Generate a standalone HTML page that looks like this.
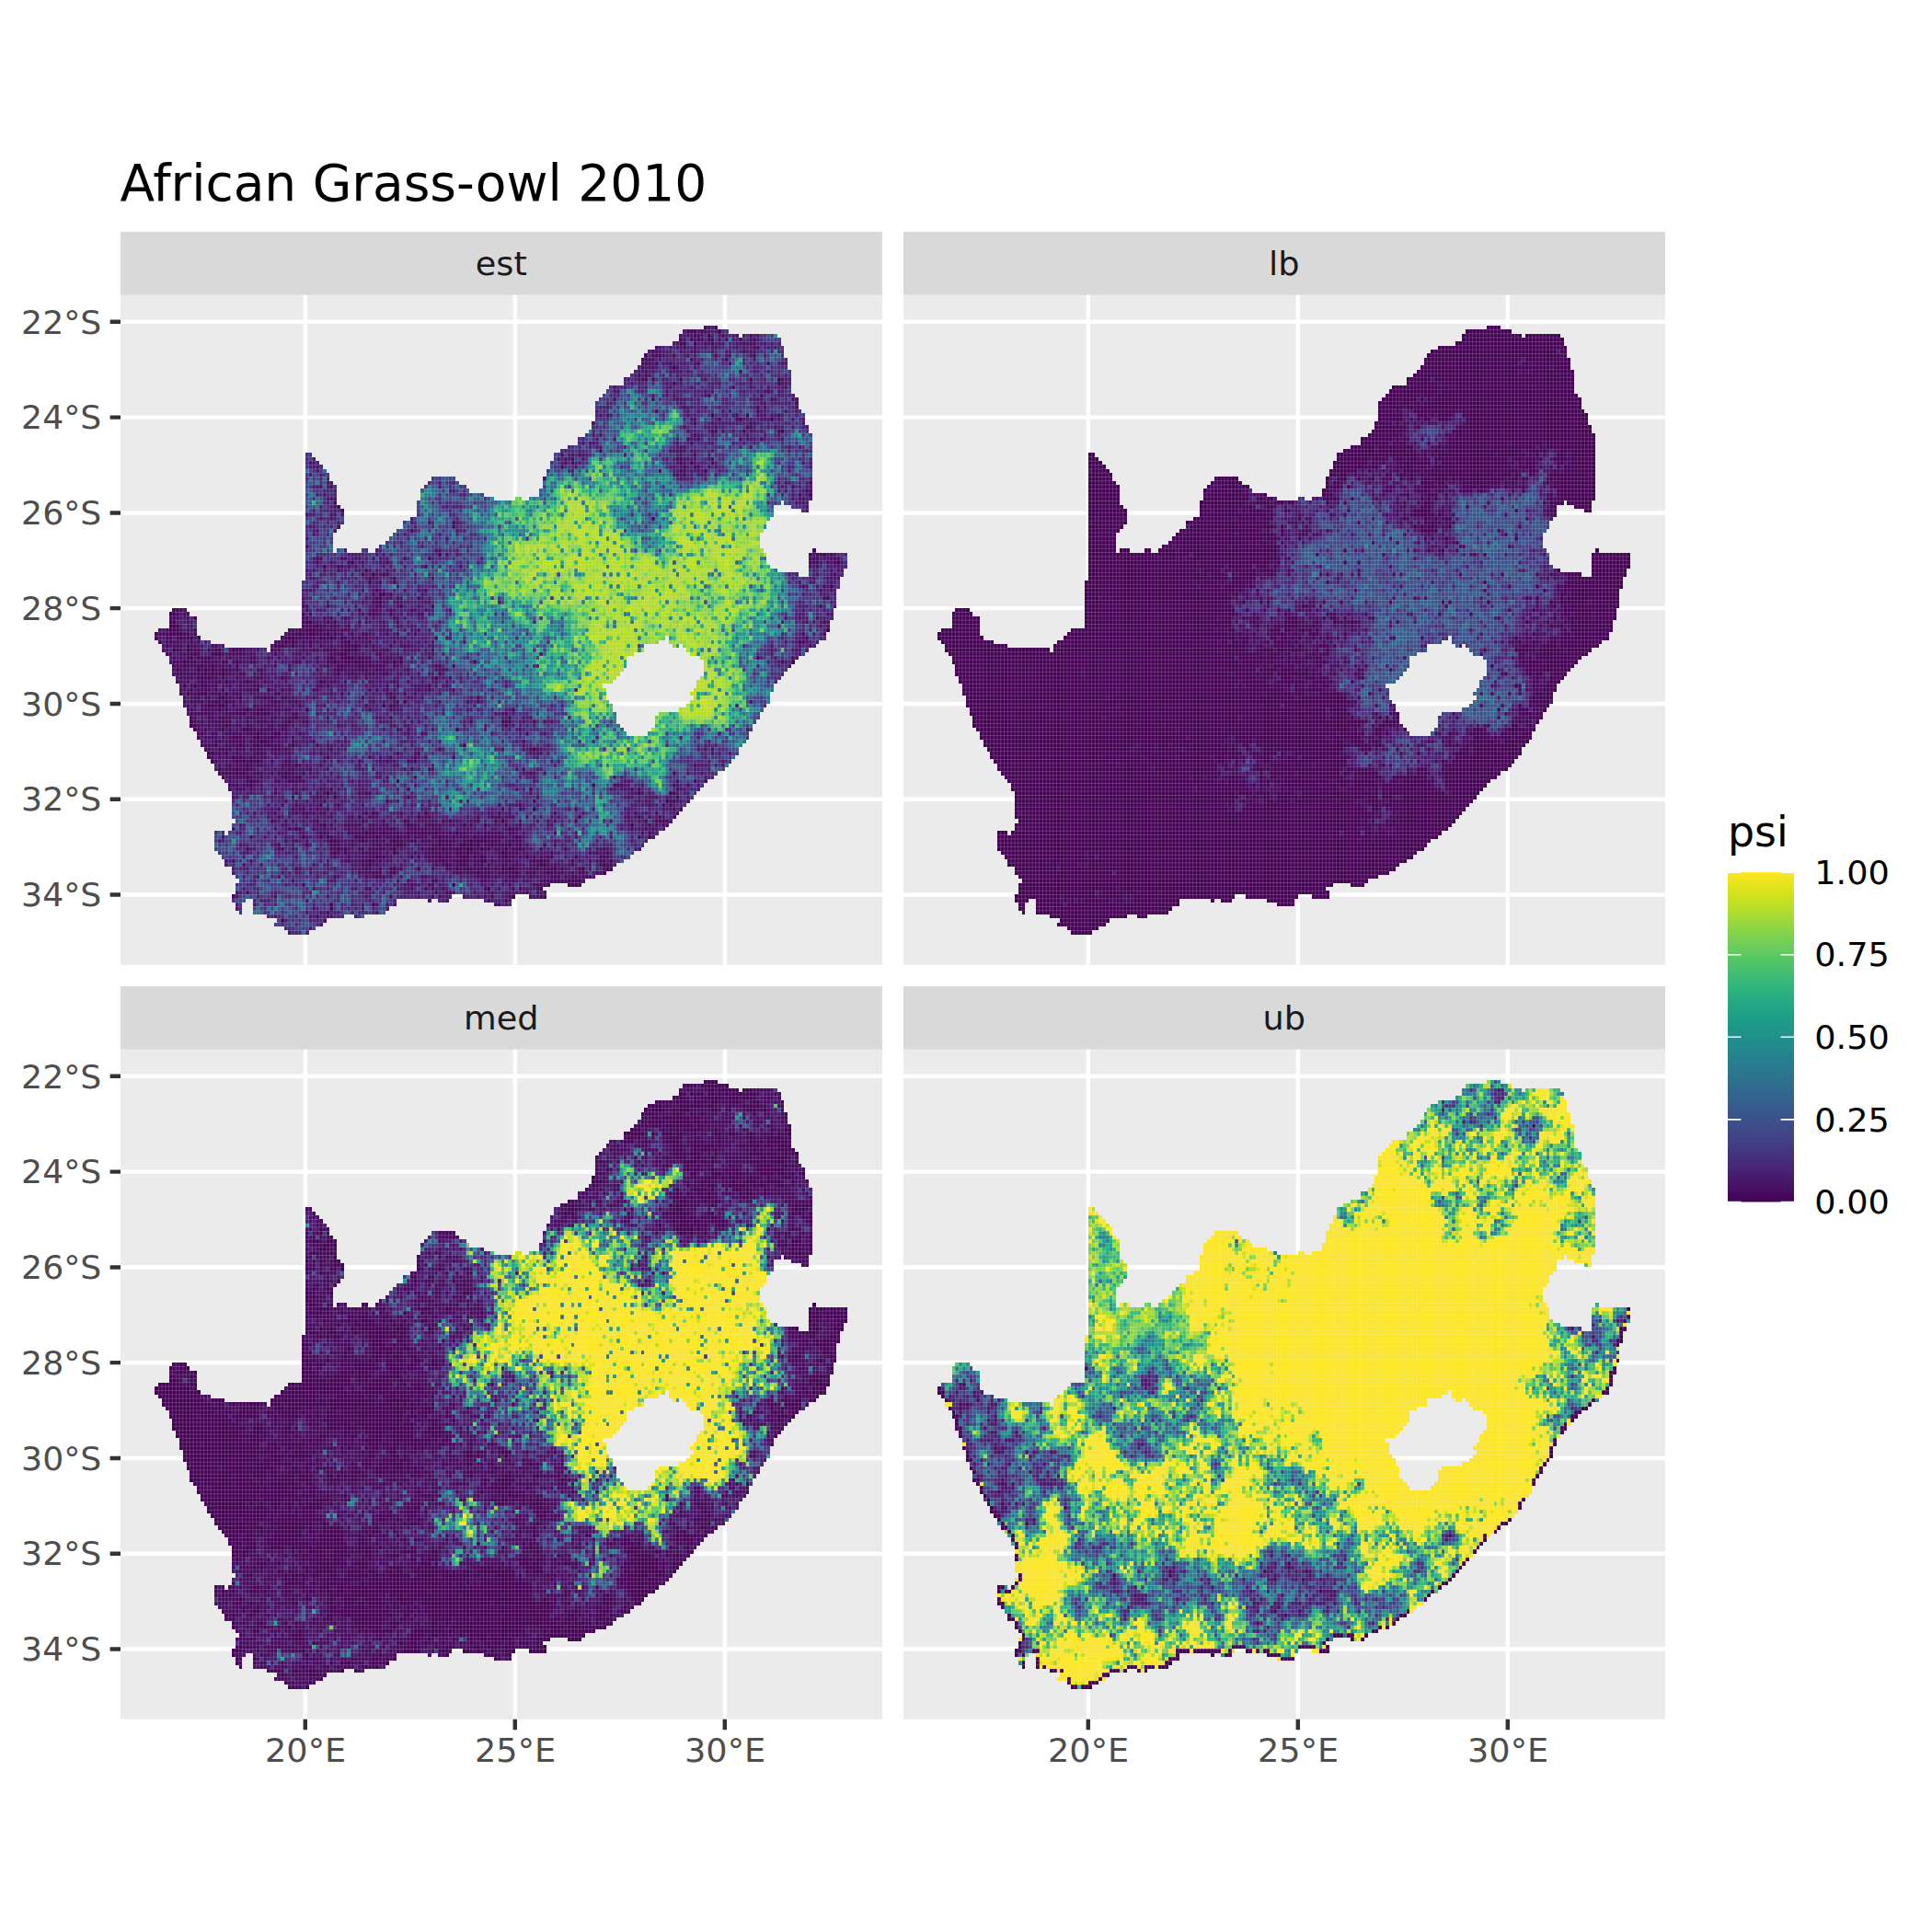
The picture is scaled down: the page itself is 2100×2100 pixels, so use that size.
<!DOCTYPE html>
<html><head><meta charset="utf-8"><title>African Grass-owl 2010</title><style>html,body{margin:0;padding:0;background:#fff;overflow:hidden}svg{display:block}</style></head><body>
<svg width="2100" height="2100" viewBox="0 0 2100 2100" font-family="'DejaVu Sans', 'Liberation Sans', sans-serif">
<rect width="2100" height="2100" fill="#fff"/>
<defs><g id="seam" fill="none" stroke="#ebebeb" stroke-opacity="0.2"><path stroke-width="0.2632" d="M6 78v2M7 77v4M8 77v6M9 77v7M10 73v13M11 72v17M12 72v19M13 72v22M14 73v24M15 74v25M16 74v28M17 79v24M18 80v25M19 80v27M20 80v28M21 81v29M22 81v30M23 81v32M23 128v5M24 81v33M24 128v6M25 82v33M25 129v6M26 82v34M26 129v8M27 82v36M27 128v9M28 82v43M28 126v13M28 144v2M29 82v58M29 141v7M30 82v64M31 82v63M32 82v63M33 82v63M34 82v67M35 82v67M36 82v67M37 83v66M38 83v67M39 81v69M40 80v70M40 151v1M41 80v72M42 79v73M43 78v75M44 77v77M45 77v77M46 77v77M47 77v77M48 65v89M49 33v120M50 34v119M51 35v117M52 36v116M53 37v114M54 38v112M55 40v110M56 41v12M56 58v92M57 46v6M57 58v92M58 47v4M58 57v93M59 57v92M60 58v91M61 58v91M62 58v91M63 58v92M64 58v92M65 57v92M66 58v91M67 58v91M68 58v91M69 57v92M70 56v93M71 56v92M72 55v92M73 54v93M74 53v92M75 52v93M76 52v93M77 50v95M78 50v95M79 49v96M80 49v96M81 45v100M82 42v103M83 41v104M84 40v105M85 39v106M86 39v106M87 39v107M88 39v107M89 39v106M90 39v105M91 40v104M92 41v103M93 41v103M94 42v103M95 43v102M96 43v102M97 43v102M98 43v102M99 44v101M100 44v102M101 44v102M102 45v101M103 45v102M104 45v102M105 45v102M106 45v102M107 45v100M108 45v99M109 44v100M110 45v99M111 45v99M112 45v99M113 44v101M114 44v101M115 44v101M116 42v100M116 143v2M117 39v103M118 37v104M119 35v106M120 33v108M121 33v108M122 32v109M123 32v109M124 31v111M125 31v111M126 31v111M127 29v112M128 29v111M129 28v112M130 27v113M131 25v114M132 20v119M133 19v72M133 92v47M134 18v73M134 95v43M135 17v74M135 96v42M136 16v74M136 98v39M137 16v73M137 101v35M138 16v72M138 102v34M139 16v71M139 103v32M140 14v70M140 104v31M141 14v70M141 104v30M142 13v70M142 104v29M143 12v71M143 104v29M144 11v72M144 104v28M145 9v72M145 104v27M146 8v73M146 104v26M147 7v74M147 103v27M148 7v74M148 102v27M149 6v74M149 99v29M150 6v74M150 98v30M151 6v73M151 98v29M152 6v73M152 98v28M153 6v75M153 98v27M154 5v77M154 98v26M155 5v76M155 98v25M156 3v78M156 97v25M157 2v80M157 97v24M158 2v81M158 96v24M159 2v82M159 93v1M159 95v24M160 2v82M160 92v26M161 2v82M161 90v27M162 2v83M162 89v27M163 1v114M164 1v114M165 1v113M166 2v111M167 2v111M168 2v110M169 3v108M170 3v107M171 3v106M172 4v103M173 4v102M174 3v102M175 3v100M176 3v98M177 3v97M178 3v50M178 57v41M179 3v49M179 58v39M180 3v47M180 61v35M181 3v46M181 62v31M182 3v43M182 62v29M183 4v42M183 63v27M184 6v39M184 63v26M185 9v36M185 63v25M186 12v34M186 63v24M187 18v28M187 63v23M188 19v28M188 63v22M189 22v25M189 64v20M190 23v24M190 64v20M191 26v22M191 64v19M192 28v17M192 64v18M193 58v24M194 58v23M195 58v22M196 58v22M197 58v20M198 58v17M199 58v14M200 58v9M201 58v6M202 58v4"/><path stroke-width="0.2313" d="M162 2h4M156 3h13M155 4h17M173 4h10M155 5h29M153 6h31M148 7h37M146 8h39M145 9h40M144 10h42M144 11h42M143 12h43M142 13h45M141 14h46M139 15h48M139 16h48M135 17h52M134 18h53M133 19h55M132 20h57M131 21h58M131 22h58M131 23h59M131 24h60M131 25h60M130 26h61M130 27h62M129 28h63M128 29h65M126 30h67M126 31h67M123 32h70M121 33h72M48 34h2M119 34h74M48 35h3M119 35h74M48 36h4M118 36h75M48 37h5M118 37h75M48 38h6M117 38h76M48 39h7M117 39h76M48 40h7M84 40h7M116 40h77M48 41h8M83 41h9M116 41h77M48 42h9M82 42h12M116 42h77M48 43h9M81 43h14M115 43h78M48 44h9M81 44h18M115 44h78M48 45h9M81 45h21M108 45h2M112 45h72M185 45h7M48 46h9M80 46h102M187 46h5M48 47h10M80 47h102M190 47h2M48 48h11M80 48h102M48 49h11M80 49h101M48 50h11M78 50h102M48 51h10M76 51h104M48 52h9M76 52h103M48 53h8M74 53h104M48 54h8M73 54h105M48 55h8M72 55h106M48 56h8M71 56h107M48 57h8M69 57h109M48 58h8M57 58h3M64 58h2M68 58h111M193 58h1M48 59h132M192 59h11M48 60h132M192 60h11M48 61h132M192 61h11M48 62h133M192 62h10M48 63h135M192 63h10M48 64h141M192 64h9M48 65h153M47 66h154M47 67h153M47 68h153M47 69h153M47 70h153M47 71h153M47 72h152M10 73h4M47 73h152M9 74h6M47 74h152M9 75h8M47 75h151M9 76h8M47 76h151M9 77h8M47 77h151M6 78h11M43 78h154M5 79h12M42 79h109M152 79h45M6 80h12M41 80h108M152 80h43M7 81h14M39 81h106M153 81h2M156 81h38M7 82h18M38 82h107M157 82h35M8 83h29M38 83h104M158 83h33M9 84h131M161 84h28M9 85h131M162 85h26M10 86h130M162 86h25M10 87h129M162 87h24M10 88h128M162 88h23M11 89h126M162 89h22M11 90h125M161 90h22M12 91h121M160 91h22M12 92h121M160 92h22M12 93h122M159 93h22M13 94h121M159 94h22M13 95h121M159 95h22M13 96h122M158 96h22M14 97h122M157 97h22M14 98h122M155 98h23M15 99h122M149 99h29M15 100h122M148 100h29M15 101h122M148 101h28M16 102h122M148 102h28M17 103h122M147 103h28M17 104h123M146 104h29M18 105h156M18 106h155M19 107h153M20 108h152M20 109h151M21 110h149M22 111h147M22 112h146M23 113h143M24 114h141M25 115h138M26 116h136M26 117h135M27 118h133M27 119h132M27 120h131M27 121h130M27 122h129M27 123h128M27 124h127M28 125h125M28 126h124M27 127h124M27 128h122M22 129h3M26 129h122M22 130h124M22 131h123M22 132h122M23 133h119M24 134h117M25 135h114M25 136h112M27 137h109M27 138h107M28 139h103M29 140h99M29 141h89M123 141h4M28 142h88M28 143h88M28 144h62M93 144h15M112 144h5M27 145h4M33 145h41M83 145h1M86 145h3M99 145h8M28 146h2M33 146h41M102 146h5M28 147h2M33 147h39M29 148h1M33 148h38M37 149h22M62 149h3M40 150h14M40 151h13M42 152h9M43 153h6"/></g></defs>
<rect x="131.0" y="251.9" width="828.0" height="68.9" fill="#d9d9d9"/>
<rect x="131.0" y="320.8" width="828.0" height="728.0" fill="#ebebeb"/>
<path d="M331.8 320.8v728.0M559.8 320.8v728.0M787.8 320.8v728.0M131.0 349.8h828.0M131.0 453.6h828.0M131.0 557.4h828.0M131.0 661.1h828.0M131.0 764.9h828.0M131.0 868.7h828.0M131.0 972.5h828.0" stroke="#fff" stroke-width="4.45" fill="none"/>
<g transform="translate(149.40 349.80) scale(3.8000 4.3242)" fill="none" stroke-width="1" shape-rendering="crispEdges">
<path stroke="#440154" d="M166 2.5h1m-4 1h1m-8 2h1m2 0h1m-16 4h1m8 2h1m29 3h1m-31 1h1m29 0h1m-20 8h1m9 0h1m-3 1h1m8 0h1m2 3h1m-27 8h1m3 2h1m29 6h1m-46 6h1m-62 9h1m109 0h1m-136 2h1m138 0h1m-148 1h1m13 2h1m130 3h1m-130 2h2m-2 1h1m127 0h1m-129 1h1m5 1h1m-67 2h2m5 1h1m-8 1h2m37 0h2m-41 1h3m39 0h1m-43 1h2m37 0h3m1 0h1m144 0h1m-189 1h4m33 0h1m2 0h2m3 0h1m-43 1h1m2 0h1m26 0h3m7 0h1m2 0h1m2 0h1m-17 1h1m1 0h1m4 0h1m10 0h1m128 0h1m-182 1h1m5 0h1m24 0h3m2 0h1m4 0h1m10 0h1m1 0h1m-53 1h1m3 0h1m12 0h1m31 0h2m1 0h1m-47 1h1m4 0h3m15 0h1m18 0h2m-45 1h1m1 0h1m2 0h1m34 0h1m2 0h4m1 0h1m11 0h1m101 0h1m-165 1h1m14 0h1m27 0h1m3 0h1m1 0h2m9 0h1m1 0h1m111 0h1m-175 1h1m3 0h2m2 0h1m6 0h1m28 0h2m4 0h1m-53 1h1m5 0h1m1 0h1m1 0h1m2 0h1m3 0h1m28 0h1m-39 1h1m1 0h1m2 0h1m32 0h1m-41 1h2m1 0h1m20 0h1m43 0h1m-68 1h1m6 0h1m5 0h1m20 0h1m-40 1h1m2 0h1m1 0h2m4 1h1m9 0h1m2 0h1m-24 1h1m2 0h3m5 0h1m-3 1h2m4 0h1m6 0h1m-15 1h1m2 0h1m50 0h1m-57 1h2m1 0h2m45 0h1m1 0h1m-50 1h1m7 0h1m3 0h1m12 0h1m58 0h1m-78 1h1m3 0h1m1 0h1m8 1h1m-31 1h1m-1 1h2m8 0h1m16 0h1m-27 1h1m7 0h1m5 0h2m59 0h1m-58 1h1m4 0h2m-14 1h2m4 0h2m3 0h1m-4 1h2m-15 1h1m6 0h1m3 0h2m2 0h1m6 0h1m48 0h1m19 1h1m-94 1h2m3 0h1m-6 1h1m6 0h1m1 0h1m24 0h1m-34 1h1m6 0h1m1 0h1m1 0h1m1 0h1m-4 1h1m13 0h1m-23 1h1m4 0h1m2 0h1m-4 1h1m1 0h1m11 0h1m-12 1h1m10 0h1m3 0h1m-15 1h1m10 0h1m30 0h1m-43 1h1m79 1h1m-59 1h1m88 0h1m8 0h1m-97 1h1m94 1h1m-100 1h1m60 1h1m-47 1h1m14 0h1m-20 1h1m16 0h1m45 0h1m-23 1h1m-52 1h1m23 0h1m15 0h1m5 0h1m41 0h1m-97 1h1m60 0h1m-42 1h1m1 0h1m2 0h1m6 0h1m3 0h1m3 0h1m5 0h1m-45 1h1m4 0h1m1 0h1m7 0h2m4 0h1m5 0h1m2 0h1m8 0h1m9 0h1m2 0h1m8 0h1m37 0h1m-92 1h2m7 0h1m8 0h1m12 0h1m8 0h1m1 0h3m-52 1h1m25 0h2m10 0h1m5 0h2m1 0h1m1 0h1m3 0h1m4 0h1m-50 1h1m1 0h1m13 0h1m13 0h1m3 0h2m1 0h2m2 0h1m1 0h1m4 0h1m3 0h1m-54 1h1m2 0h1m13 0h1m17 0h2m1 0h1m9 0h2m-38 1h1m17 0h1m5 0h3m1 0h1m1 0h1m6 0h1m5 0h1m-46 1h1m20 0h1m4 0h2m4 0h2m15 0h1m19 0h1m-70 1h1m21 0h1m3 0h2m21 0h2m16 0h1m-61 1h1m6 0h1m10 0h1m2 0h1m9 0h1m1 0h2m11 0h1m7 0h1m6 0h1m-38 1h1m10 0h1m8 0h1m15 0h1m-66 1h1m54 1h1m2 0h1m-37 1h1m32 0h1m1 0h1m-26 1h1m14 0h1m-9 2h1m-53 2h1m11 0h1m-13 1h1m-15 3h1"/>
<path stroke="#460a5d" d="M162 1.5h1m2 0h1m-9 1h3m1 0h2m-4 1h2m6 0h1m7 0h1m-21 1h1m2 0h1m1 0h2m1 0h2m3 0h1m3 0h1m3 0h1m-22 1h1m6 0h1m1 0h1m8 0h1m1 0h2m-29 1h1m7 0h1m2 0h1m16 0h2m-31 1h2m24 0h1m-29 1h1m1 0h3m3 0h1m11 0h1m10 0h1m-32 1h3m10 0h1m9 0h1m-25 1h3m1 0h1m3 0h1m7 0h1m19 0h1m-37 1h1m0 1h1m26 0h1m-30 1h1m1 0h1m-2 1h2m1 0h1m7 0h1m19 0h1m-6 2h1m9 1h1m-18 1h1m14 0h1m-43 1h1m10 0h1m6 0h1m26 0h1m5 0h1m0 1h1m-33 1h1m20 0h1m1 0h1m-32 1h1m28 0h1m-7 1h1m11 0h1m-18 1h1m4 0h1m-13 1h1m15 0h1m-2 1h2m-12 1h2m7 0h1m9 0h1m-25 1h1m-3 1h1m2 0h1m11 0h1m5 0h1m-21 1h1m-27 2h1m22 0h1m-35 1h1m4 0h1m32 0h1m-36 1h1m29 0h2m8 0h1m-41 1h1m30 0h1m8 0h1m-44 1h1m34 0h1m2 0h2m-12 1h1m5 0h2m-3 1h1m1 0h1m35 2h1m-138 1h1m131 0h1m3 1h1m-3 1h1m-134 2h1m0 1h1m0 1h1m31 3h1m-1 1h1m-13 1h1m-31 4h1m144 1h1m-106 1h1m103 0h1m1 0h2m2 0h1m-148 1h2m5 0h2m16 0h1m6 0h1m108 0h3m3 0h3m-150 1h1m8 0h1m10 0h1m120 0h3m2 0h1m1 0h1m-143 1h2m1 0h1m21 0h1m111 0h1m-138 1h1m7 0h1m-2 1h1m5 0h2m127 0h1m-134 1h1m6 0h1m-8 1h1m2 0h1m3 0h1m116 1h1m5 0h1m-129 1h1m13 0h1m-16 1h1m4 0h1m-5 1h1m5 0h1m5 0h1m115 0h1m-130 1h2m-22 1h2m5 0h1m13 0h2m14 0h1m110 0h1m-186 1h3m35 0h1m14 0h1m3 0h2m3 0h1m5 0h1m3 0h1m-72 1h1m1 0h1m33 0h1m1 0h1m16 0h3m3 0h1m7 0h2m-73 1h3m2 0h1m32 0h2m4 0h1m1 0h1m3 0h1m13 0h1m120 0h1m-148 1h1m6 0h1m1 0h1m6 0h1m10 0h1m121 0h1m-150 1h4m1 0h2m1 0h2m3 0h1m-53 1h1m2 0h2m1 0h1m1 0h1m26 0h2m1 0h2m3 0h1m1 0h4m1 0h3m19 0h1m-76 1h4m4 0h2m1 0h1m26 0h3m1 0h2m2 0h3m2 0h1m1 0h1m2 0h1m2 0h2m5 0h1m2 0h1m4 0h1m110 0h1m5 0h1m-192 1h1m2 0h2m1 0h1m1 0h2m2 0h1m23 0h1m3 0h6m2 0h2m1 0h1m2 0h1m1 0h1m1 0h1m1 0h1m19 0h1m105 0h1m-186 1h1m1 0h4m3 0h1m1 0h1m21 0h3m1 0h1m1 0h1m1 0h1m3 0h1m6 0h2m2 0h1m3 0h1m6 0h1m116 0h1m-181 1h3m2 0h2m4 0h2m19 0h1m4 0h1m4 0h1m2 0h1m2 0h2m1 0h1m1 0h1m1 0h1m1 0h1m4 0h1m2 0h3m114 0h1m-182 1h2m2 0h3m2 0h1m1 0h2m4 0h3m7 0h1m1 0h1m6 0h1m2 0h2m1 0h4m1 0h1m2 0h1m5 0h1m2 0h2m12 0h1m-77 1h2m2 0h4m1 0h1m6 0h1m1 0h5m1 0h1m13 0h1m8 0h3m2 0h1m1 0h1m5 0h2m-60 1h1m1 0h1m1 0h1m3 0h2m1 0h1m1 0h1m2 0h1m5 0h2m3 0h1m2 0h1m6 0h1m3 0h1m2 0h1m1 0h1m5 0h1m1 0h3m2 0h1m1 0h2m10 0h1m103 0h1m-178 1h3m1 0h3m1 0h5m1 0h2m1 0h1m1 0h1m2 0h2m11 0h2m4 0h1m2 0h2m1 0h3m1 0h1m2 0h3m3 0h2m24 0h1m87 0h1m-175 1h3m1 0h3m2 0h2m1 0h3m1 0h1m12 0h1m3 0h1m10 0h1m4 0h4m1 0h7m2 0h1m11 0h2m3 0h1m-79 1h3m3 0h1m1 0h1m1 0h2m1 0h3m6 0h2m7 0h1m7 0h1m4 0h1m1 0h2m1 0h5m2 0h3m6 0h1m8 0h2m-77 1h8m1 0h1m1 0h2m1 0h2m2 0h2m4 0h1m20 0h1m3 0h3m2 0h3m2 0h2m14 0h1m-75 1h4m3 0h1m1 0h2m1 0h1m3 0h1m4 0h3m6 0h1m19 0h1m2 0h1m23 0h1m-79 1h2m1 0h1m2 0h1m1 0h5m2 0h2m1 0h2m1 0h2m2 0h1m16 0h1m1 0h2m2 0h1m6 0h1m6 0h1m3 0h1m-63 1h1m1 0h1m2 0h3m3 0h1m2 0h1m3 0h2m16 0h2m1 0h1m16 0h1m2 0h1m8 0h1m-72 1h1m2 0h1m1 0h4m1 0h1m6 0h1m1 0h3m7 0h1m1 0h1m6 0h2m14 0h1m1 0h1m2 0h1m8 0h1m2 0h1m6 0h1m-79 1h1m2 0h2m4 0h3m3 0h3m9 0h2m14 0h1m2 0h1m12 0h2m3 0h1m2 0h1m-67 1h1m2 0h2m1 0h2m4 0h2m6 0h3m1 0h2m2 0h2m21 0h1m7 0h2m23 0h1m-85 1h1m1 0h4m1 0h2m1 0h1m2 0h2m1 0h1m8 0h3m2 0h1m1 0h1m21 0h1m6 0h1m19 0h1m2 0h1m-84 1h1m1 0h1m1 0h2m2 0h1m2 0h1m1 0h1m5 0h1m2 0h4m4 0h1m1 0h1m18 0h1m7 0h1m-60 1h2m2 0h5m2 0h1m2 0h3m2 0h2m1 0h2m1 0h2m1 0h2m22 0h1m5 0h1m-58 1h7m3 0h5m3 0h1m1 0h1m1 0h1m6 0h2m59 0h1m-91 1h2m3 0h2m1 0h4m2 0h1m1 0h3m1 0h1m2 0h2m3 0h2m27 0h1m33 0h1m-91 1h1m1 0h1m1 0h7m4 0h1m2 0h3m1 0h1m3 0h2m3 0h2m46 0h1m8 0h3m6 0h1m-97 1h2m1 0h1m1 0h3m1 0h1m1 0h2m1 0h2m2 0h1m1 0h2m1 0h2m15 0h1m47 0h1m-89 1h1m1 0h1m2 0h2m2 0h1m5 0h2m1 0h4m2 0h2m31 0h1m2 0h1m-61 1h2m2 0h2m2 0h5m1 0h3m1 0h2m1 0h1m3 0h1m3 0h1m30 0h1m3 0h1m29 0h1m-95 1h1m1 0h4m1 0h1m1 0h1m2 0h2m4 0h3m1 0h2m1 0h1m1 0h1m-27 1h1m3 0h2m1 0h6m1 0h3m2 0h2m1 0h1m3 0h1m5 0h1m59 0h1m-93 1h4m3 0h4m1 0h1m4 0h2m1 0h3m2 0h1m7 0h1m-33 1h2m2 0h4m1 0h3m1 0h4m2 0h3m1 0h1m12 0h1m30 0h1m25 0h1m51 0h1m-143 1h2m4 0h1m4 0h4m2 0h1m3 0h1m8 0h1m21 0h1m5 0h1m-60 1h1m1 0h1m1 0h1m2 0h1m1 0h1m1 0h2m1 0h2m29 0h1m2 0h1m2 0h1m6 0h1m2 0h1m7 0h1m-69 1h1m4 0h1m1 0h1m1 0h1m1 0h1m1 0h1m2 0h1m3 0h2m19 0h1m7 0h1m5 0h1m1 0h1m-57 1h1m1 0h2m1 0h3m1 0h1m1 0h2m5 0h3m2 0h1m5 0h1m106 0h1m-135 1h3m1 0h2m1 0h1m8 0h1m1 0h2m4 0h1m28 0h1m31 0h1m-88 1h5m1 0h1m1 0h1m1 0h3m2 0h1m1 0h2m1 0h2m2 0h1m64 0h1m40 0h1m-130 1h1m1 0h5m1 0h1m2 0h1m5 0h1m1 0h3m33 0h1m-54 1h1m4 0h1m1 0h2m4 0h2m3 0h4m106 0h1m4 0h1m2 0h1m-137 1h3m1 0h2m98 0h1m5 0h3m14 0h1m3 0h1m-132 1h1m1 0h3m1 0h1m6 0h1m4 0h1m2 0h1m4 0h1m2 0h1m21 0h1m63 0h1m1 0h1m10 0h1m-116 1h1m5 0h1m7 0h1m9 0h1m1 0h2m86 0h1m-110 1h1m6 0h2m24 0h1m36 0h1m39 0h1m-113 1h1m10 0h1m17 0h1m41 0h1m38 0h2m-113 1h1m3 0h1m11 0h1m6 0h1m38 0h1m5 0h1m36 0h1m3 0h1m1 0h1m-113 1h1m3 0h1m1 0h2m3 0h1m2 0h1m49 0h1m4 0h1m15 0h1m27 0h1m1 0h1m-123 1h1m5 0h1m5 0h1m1 0h2m1 0h1m1 0h2m11 0h1m2 0h1m6 0h1m27 0h1m15 0h1m22 0h1m5 0h1m5 0h1m-115 1h1m14 0h1m5 0h1m4 0h2m14 0h2m13 0h1m3 0h3m2 0h2m32 0h1m2 0h1m2 0h1m2 0h1m3 0h1m-116 1h1m3 0h1m8 0h1m12 0h1m5 0h1m5 0h2m9 0h1m1 0h1m7 0h1m4 0h1m22 0h1m19 0h1m2 0h4m-110 1h1m9 0h1m2 0h1m3 0h5m2 0h2m2 0h2m6 0h2m2 0h5m8 0h1m9 0h1m3 0h1m36 0h1m1 0h1m1 0h1m-112 1h1m3 0h1m2 0h1m3 0h1m2 0h1m6 0h1m1 0h1m1 0h1m1 0h8m3 0h6m1 0h3m7 0h1m12 0h2m32 0h1m3 0h1m1 0h1m-96 1h2m6 0h5m1 0h1m1 0h2m1 0h4m3 0h3m1 0h3m1 0h2m1 0h1m2 0h2m3 0h1m1 0h5m2 0h2m11 0h1m24 0h1m1 0h1m-123 1h1m7 0h1m22 0h1m8 0h4m1 0h1m1 0h3m1 0h2m2 0h4m1 0h2m1 0h2m1 0h1m1 0h3m2 0h2m1 0h5m2 0h1m1 0h1m33 0h1m-102 1h1m2 0h1m11 0h1m3 0h1m1 0h1m1 0h1m1 0h2m1 0h1m1 0h1m1 0h2m1 0h3m1 0h3m3 0h4m2 0h2m1 0h1m3 0h4m2 0h4m-70 1h1m14 0h3m3 0h1m5 0h3m1 0h3m2 0h1m7 0h2m1 0h3m4 0h1m1 0h1m2 0h2m1 0h4m2 0h2m6 0h1m2 0h1m-89 1h1m8 0h2m13 0h2m6 0h2m1 0h5m1 0h1m8 0h1m1 0h4m1 0h3m2 0h1m2 0h2m1 0h1m2 0h2m3 0h2m1 0h1m4 0h1m6 0h1m10 0h1m-79 1h1m1 0h1m6 0h6m1 0h1m7 0h1m2 0h8m3 0h1m1 0h3m5 0h1m2 0h3m9 0h1m10 0h1m1 0h1m2 0h1m-79 1h1m3 0h1m5 0h2m1 0h2m7 0h1m1 0h1m1 0h4m1 0h3m1 0h1m5 0h1m1 0h1m3 0h2m1 0h2m1 0h1m3 0h1m1 0h1m1 0h2m6 0h1m6 0h3m-108 1h1m32 0h1m3 0h2m1 0h1m1 0h1m13 0h1m1 0h2m1 0h1m1 0h2m2 0h1m1 0h2m3 0h1m3 0h2m5 0h3m1 0h2m6 0h1m4 0h1m2 0h2m-104 1h1m33 0h2m2 0h1m16 0h1m1 0h1m1 0h1m1 0h1m2 0h1m1 0h3m1 0h1m3 0h2m1 0h2m5 0h1m2 0h1m1 0h1m4 0h1m7 0h1m1 0h2m-91 1h1m19 0h2m2 0h1m2 0h1m2 0h1m8 0h1m3 0h2m2 0h2m1 0h6m1 0h1m2 0h1m2 0h1m3 0h3m1 0h3m2 0h1m4 0h1m6 0h1m1 0h1m-73 1h1m1 0h5m2 0h2m17 0h2m1 0h3m1 0h3m2 0h5m3 0h3m2 0h1m1 0h4m2 0h1m1 0h2m3 0h1m-76 1h1m8 0h1m1 0h1m1 0h2m1 0h1m8 0h2m14 0h4m1 0h1m3 0h3m3 0h1m5 0h3m1 0h1m1 0h2m1 0h3m-53 1h1m6 0h2m12 0h2m5 0h1m1 0h1m8 0h7m1 0h2m-79 1h1m30 0h1m4 0h2m21 0h1m6 0h5m6 0h1m1 0h1m-62 1h2m11 0h1m3 0h1m1 0h1m2 0h1m11 0h1m7 0h1m1 0h1m4 0h1m-84 1h1m53 0h1m2 0h2m21 0h1m2 0h1m-88 1h1m11 0h1m32 0h1m11 0h1m1 0h1m12 0h1m1 0h1m4 0h1m5 0h1m2 0h2m-17 1h1m4 0h1m-4 1h2m-50 2h1m-4 1h1"/>
<path stroke="#481467" d="M163 1.5h1m-1 1h1m1 0h1m-11 1h4m2 0h1m4 0h1m4 0h1m5 0h1m-22 1h1m9 0h1m8 0h1m-13 1h1m2 0h2m3 0h2m1 0h1m4 0h1m-31 1h1m2 0h1m1 0h2m6 0h1m1 0h2m5 0h1m1 0h1m-25 1h1m5 0h1m2 0h2m4 0h1m10 0h2m-27 1h1m6 0h1m1 0h1m8 0h2m5 0h1m-27 1h1m26 0h1m-30 1h1m2 0h2m4 0h1m2 0h1m9 0h1m14 0h2m-41 1h4m3 0h1m1 0h1m4 0h1m-17 1h1m3 0h1m4 0h4m1 0h1m18 0h1m-31 1h1m7 0h1m-12 1h1m18 0h1m21 0h1m-44 1h1m9 0h1m3 0h1m10 0h1m8 0h1m8 0h2m-50 1h1m15 0h1m5 0h1m16 0h1m4 0h1m4 0h1m-50 1h2m13 0h1m10 0h1m1 0h1m14 0h1m3 0h1m-37 1h1m3 0h1m1 0h1m8 0h1m20 0h1m-31 1h1m1 0h2m1 0h1m17 0h3m3 0h1m5 0h1m-11 1h2m-46 1h1m22 0h1m4 0h1m25 0h1m-32 1h1m2 0h1m6 0h1m1 0h1m15 0h1m2 0h1m-57 1h1m1 0h1m22 0h1m12 0h1m6 0h3m1 0h2m-25 1h2m18 0h3m2 0h1m3 0h1m2 0h1m-61 1h1m33 0h2m1 0h1m1 0h1m6 0h1m13 0h1m-35 1h1m8 0h1m16 0h1m-26 1h1m9 0h1m7 0h1m2 0h1m-49 1h1m1 0h1m27 0h1m3 0h1m9 0h1m4 0h1m3 0h1m-26 1h1m15 0h2m8 0h1m-58 1h1m1 0h2m23 0h1m9 0h1m-10 1h2m18 0h1m10 0h1m2 0h1m-38 1h3m1 0h1m1 0h1m5 0h1m-41 1h1m2 0h1m27 0h1m-36 1h1m1 0h1m4 0h1m28 0h2m1 0h1m3 0h1m-115 1h2m71 0h1m31 0h1m1 0h1m33 0h1m-140 1h1m101 0h1m1 0h1m7 0h1m1 0h1m-115 1h1m106 0h1m1 0h1m-8 1h1m1 0h1m4 0h2m-46 1h1m38 0h2m-103 1h2m129 0h2m-136 1h2m132 1h1m6 0h1m-140 1h1m133 0h1m-134 1h3m130 0h1m1 0h2m1 0h1m-5 1h1m1 0h1m-135 1h1m134 0h1m-144 2h1m6 0h2m-5 1h1m2 0h1m22 1h1m4 0h1m-27 1h1m-7 1h1m4 0h1m34 0h1m-42 1h1m-3 1h1m39 0h1m-4 3h2m-25 1h1m5 0h1m1 0h1m20 0h1m101 0h1m3 0h1m1 0h1m-138 1h2m3 0h1m1 0h1m1 0h1m124 0h2m-143 1h1m8 0h1m4 0h2m124 0h1m2 0h1m2 0h1m-140 1h1m7 0h1m21 0h1m99 0h1m7 0h1m-153 1h1m1 0h1m2 0h1m8 0h1m3 0h1m4 0h1m126 0h1m1 0h1m-133 1h2m124 0h1m3 0h1m-149 1h1m16 0h2m15 0h1m108 0h1m3 0h2m1 0h1m-144 1h1m10 0h1m120 0h1m2 0h1m5 0h1m-149 1h2m22 0h1m116 0h1m2 0h1m2 0h1m-150 1h2m14 0h1m2 0h1m1 0h1m6 0h1m3 0h1m114 0h1m2 0h1m-128 1h1m9 0h1m-35 1h1m8 0h1m8 0h1m1 0h1m3 0h2m2 0h1m5 0h1m-35 1h1m16 0h1m8 0h3m6 0h2m-22 1h1m4 0h1m6 0h1m5 0h1m118 0h1m-187 1h1m37 0h1m6 0h1m1 0h1m5 0h1m2 0h1m1 0h1m1 0h1m5 0h1m9 0h1m100 0h1m5 0h1m-185 1h1m1 0h1m48 0h2m4 0h1m5 0h1m1 0h2m118 0h1m-186 1h2m36 0h1m3 0h1m3 0h1m1 0h1m4 0h1m1 0h1m6 0h1m1 0h1m4 0h1m103 0h1m3 0h1m-177 1h3m34 0h2m1 0h1m1 0h1m9 0h1m4 0h1m120 0h1m5 0h1m-186 1h1m1 0h2m41 0h1m1 0h1m3 0h1m6 0h1m3 0h2m2 0h1m116 0h1m1 0h1m-192 1h2m7 0h1m29 0h1m11 0h1m4 0h1m3 0h1m2 0h3m4 0h1m1 0h1m-37 1h1m12 0h1m1 0h1m2 0h1m5 0h2m9 0h1m-72 1h1m9 0h1m34 0h1m10 0h1m1 0h1m1 0h3m4 0h2m1 0h1m113 0h1m-179 1h3m1 0h1m31 0h1m1 0h1m1 0h4m7 0h3m9 0h1m1 0h1m2 0h1m1 0h1m1 0h1m100 0h1m5 0h1m2 0h1m-188 1h1m1 0h1m7 0h2m5 0h1m13 0h1m4 0h1m1 0h2m6 0h1m3 0h1m20 0h1m4 0h2m96 0h1m7 0h1m-183 1h2m12 0h1m4 0h1m4 0h2m1 0h1m4 0h1m6 0h1m1 0h2m7 0h1m5 0h1m4 0h2m6 0h1m1 0h1m1 0h1m1 0h1m98 0h1m6 0h2m-179 1h1m13 0h1m5 0h1m1 0h1m7 0h1m2 0h2m2 0h2m11 0h1m1 0h2m5 0h1m1 0h1m1 0h1m8 0h2m30 0h1m65 0h1m-171 1h1m1 0h1m2 0h1m5 0h1m2 0h1m1 0h5m6 0h1m3 0h1m2 0h1m24 0h1m2 0h2m107 0h1m-174 1h1m7 0h1m5 0h1m6 0h2m5 0h1m1 0h1m1 0h1m2 0h1m3 0h1m18 0h3m2 0h1m1 0h1m110 0h1m-161 1h1m10 0h1m15 0h2m1 0h2m17 0h2m110 0h1m-177 1h1m4 0h2m19 0h1m23 0h1m5 0h2m3 0h2m3 0h1m8 0h1m2 0h1m-79 1h1m16 0h2m4 0h1m2 0h1m5 0h1m9 0h1m1 0h1m4 0h1m3 0h1m4 0h2m4 0h2m1 0h1m2 0h1m-70 1h1m4 0h1m8 0h1m3 0h2m1 0h1m3 0h2m1 0h1m3 0h1m7 0h7m2 0h2m5 0h2m5 0h1m3 0h1m5 0h1m2 0h1m4 0h1m-80 1h1m14 0h1m5 0h1m2 0h2m3 0h1m8 0h1m2 0h1m2 0h1m9 0h1m1 0h1m1 0h2m1 0h1m6 0h1m3 0h1m2 0h1m-77 1h1m11 0h2m2 0h1m1 0h3m2 0h1m3 0h2m2 0h1m11 0h1m1 0h2m6 0h1m1 0h1m11 0h4m2 0h1m1 0h2m-76 1h2m1 0h1m4 0h1m4 0h3m1 0h1m7 0h2m2 0h1m12 0h1m3 0h1m10 0h1m2 0h1m5 0h1m1 0h2m18 0h1m-82 1h1m3 0h1m1 0h1m5 0h3m2 0h1m5 0h1m23 0h1m5 0h1m12 0h1m-72 1h1m6 0h1m4 0h2m10 0h1m3 0h2m3 0h1m1 0h1m7 0h1m18 0h2m2 0h1m13 0h1m-72 1h1m10 0h1m1 0h1m3 0h1m2 0h1m1 0h1m10 0h1m8 0h1m6 0h1m6 0h1m5 0h1m88 0h1m-163 1h1m14 0h2m4 0h2m4 0h2m9 0h1m1 0h1m20 0h1m10 0h1m-70 1h1m7 0h1m1 0h2m4 0h1m5 0h1m2 0h1m12 0h1m18 0h3m18 0h1m-81 1h1m7 0h3m6 0h2m5 0h1m1 0h1m1 0h1m8 0h1m50 0h1m1 0h1m-87 1h1m3 0h1m4 0h2m5 0h1m1 0h2m2 0h3m3 0h3m5 0h1m13 0h2m7 0h1m4 0h1m27 0h1m1 0h1m-96 1h1m10 0h2m3 0h1m3 0h1m1 0h1m1 0h1m2 0h1m24 0h1m8 0h1m1 0h1m29 0h1m5 0h1m1 0h1m-100 1h1m1 0h1m5 0h1m5 0h1m9 0h2m3 0h1m9 0h1m2 0h2m9 0h2m2 0h2m4 0h1m24 0h1m-90 1h1m1 0h2m3 0h1m2 0h2m4 0h1m4 0h2m4 0h1m24 0h1m4 0h1m8 0h1m14 0h1m9 0h1m64 0h1m-156 1h1m4 0h1m5 0h1m6 0h1m9 0h1m28 0h1m5 0h1m18 0h1m14 0h1m49 0h1m-149 1h1m6 0h1m5 0h2m8 0h1m5 0h1m11 0h1m-41 1h1m1 0h1m2 0h1m16 0h2m2 0h1m1 0h2m8 0h1m1 0h1m-29 1h2m8 0h1m3 0h2m7 0h2m2 0h1m19 0h1m31 0h1m6 0h1m-97 1h2m13 0h1m4 0h1m1 0h1m10 0h1m2 0h1m1 0h1m44 0h1m5 0h1m3 0h2m46 0h1m-139 1h1m2 0h1m1 0h3m6 0h1m1 0h3m7 0h1m28 0h1m32 0h1m1 0h2m48 0h1m4 0h1m-146 1h1m1 0h1m4 0h1m2 0h1m4 0h1m3 0h1m9 0h1m-31 1h1m1 0h2m18 0h1m1 0h1m5 0h1m3 0h1m11 0h2m1 0h2m4 0h1m88 0h1m-141 1h1m5 0h1m2 0h1m1 0h1m5 0h1m3 0h1m14 0h1m9 0h2m44 0h1m40 0h3m4 0h1m-146 1h1m1 0h1m8 0h1m2 0h1m2 0h1m2 0h1m2 0h4m5 0h1m8 0h1m3 0h1m8 0h1m6 0h2m23 0h1m-77 1h1m3 0h2m7 0h2m2 0h1m1 0h1m3 0h1m12 0h1m41 0h2m1 0h1m2 0h1m40 0h1m3 0h1m-137 1h1m7 0h2m2 0h1m1 0h1m10 0h1m6 0h1m10 0h2m1 0h1m41 0h1m22 0h1m25 0h1m-135 1h1m6 0h1m6 0h1m9 0h1m1 0h2m5 0h1m1 0h1m49 0h1m25 0h2m-108 1h1m1 0h1m6 0h1m2 0h1m7 0h1m4 0h1m4 0h1m15 0h1m26 0h1m32 0h2m3 0h1m9 0h1m5 0h1m-128 1h1m1 0h1m5 0h1m3 0h1m2 0h1m4 0h1m3 0h1m5 0h2m9 0h1m33 0h1m26 0h2m1 0h3m14 0h1m-125 1h2m16 0h1m1 0h1m3 0h2m7 0h1m47 0h1m28 0h2m1 0h1m1 0h1m-120 1h2m1 0h1m7 0h1m2 0h1m4 0h1m3 0h1m3 0h1m2 0h1m5 0h1m24 0h1m51 0h2m4 0h3m2 0h2m4 0h1m-113 1h1m2 0h1m1 0h1m7 0h1m15 0h1m8 0h1m59 0h1m1 0h2m7 0h2m1 0h1m-121 1h1m8 0h2m1 0h1m1 0h1m4 0h1m21 0h1m4 0h1m22 0h3m32 0h2m-105 1h1m6 0h1m3 0h1m2 0h2m2 0h2m24 0h1m23 0h1m3 0h1m29 0h1m9 0h1m1 0h1m-115 1h1m4 0h2m4 0h1m1 0h1m3 0h1m8 0h1m13 0h1m1 0h1m19 0h2m4 0h1m20 0h1m12 0h1m4 0h1m-109 1h1m3 0h1m1 0h1m3 0h2m2 0h1m1 0h2m5 0h1m7 0h1m6 0h1m1 0h1m3 0h1m2 0h1m9 0h1m5 0h1m4 0h1m5 0h1m1 0h1m4 0h1m1 0h1m18 0h1m2 0h1m5 0h1m1 0h1m-112 1h1m4 0h1m2 0h1m2 0h1m5 0h1m3 0h3m2 0h1m14 0h6m2 0h1m1 0h3m2 0h2m8 0h1m3 0h1m7 0h1m1 0h1m20 0h1m2 0h1m8 0h1m-124 1h1m11 0h1m8 0h2m16 0h2m6 0h1m3 0h1m6 0h1m1 0h2m1 0h1m7 0h1m1 0h2m4 0h1m3 0h1m4 0h2m21 0h1m10 0h1m-125 1h1m14 0h1m1 0h1m6 0h2m2 0h2m2 0h1m1 0h1m1 0h1m19 0h1m7 0h3m1 0h2m2 0h1m1 0h2m2 0h1m3 0h1m28 0h1m4 0h1m2 0h1m1 0h1m-109 1h1m5 0h2m3 0h1m2 0h1m2 0h1m17 0h2m11 0h1m1 0h1m3 0h3m1 0h1m5 0h1m3 0h1m1 0h1m36 0h1m-112 1h1m2 0h1m2 0h1m1 0h1m3 0h1m2 0h1m4 0h2m12 0h1m18 0h1m1 0h1m3 0h1m9 0h2m3 0h1m14 0h1m-103 1h1m20 0h1m3 0h1m5 0h1m3 0h3m1 0h1m3 0h1m2 0h1m6 0h1m7 0h2m5 0h2m12 0h1m13 0h1m21 0h1m-113 1h1m9 0h1m4 0h1m14 0h2m1 0h1m3 0h1m3 0h1m9 0h4m6 0h2m6 0h1m8 0h1m3 0h1m-80 1h1m11 0h1m13 0h1m1 0h2m9 0h1m3 0h1m6 0h1m21 0h1m1 0h1m4 0h2m18 0h2m1 0h1m-105 1h2m28 0h4m10 0h1m2 0h1m2 0h1m9 0h1m7 0h2m2 0h1m7 0h2m2 0h4m2 0h1m9 0h1m1 0h2m1 0h1m-91 1h1m9 0h1m6 0h4m5 0h2m4 0h1m12 0h1m4 0h1m5 0h1m6 0h1m1 0h1m1 0h1m3 0h1m5 0h1m12 0h1m-104 1h1m21 0h1m3 0h2m1 0h3m4 0h1m2 0h2m3 0h1m2 0h1m4 0h1m4 0h1m5 0h1m6 0h3m2 0h2m17 0h1m4 0h1m-97 1h1m14 0h1m10 0h3m3 0h1m7 0h1m10 0h1m3 0h1m10 0h3m2 0h1m2 0h2m1 0h2m4 0h1m1 0h1m2 0h1m5 0h1m-84 1h1m2 0h1m6 0h1m4 0h1m1 0h2m3 0h1m5 0h1m15 0h1m10 0h1m1 0h1m5 0h3m3 0h1m4 0h1m1 0h1m2 0h1m3 0h1m-89 1h1m3 0h1m3 0h1m3 0h1m10 0h1m25 0h1m2 0h1m7 0h2m6 0h1m5 0h1m6 0h2m4 0h1m1 0h1m1 0h1m-99 1h1m5 0h1m10 0h1m5 0h1m8 0h1m4 0h1m3 0h1m8 0h1m2 0h1m1 0h1m2 0h1m3 0h1m4 0h1m1 0h3m3 0h2m2 0h5m5 0h1m2 0h1m3 0h1m-87 1h1m11 0h1m17 0h1m6 0h1m18 0h2m4 0h1m1 0h1m1 0h3m2 0h1m11 0h1m-52 1h2m1 0h2m5 0h1m11 0h2m1 0h1m2 0h1m-55 1h1m23 0h1m1 0h2m25 0h1m6 0h3m-85 1h1m48 0h1m2 0h1m9 0h1m5 0h1m3 0h2m3 0h4m1 0h1m4 0h2m-89 1h1m25 0h1m10 0h1m14 0h1m6 0h2m4 0h1m3 0h1m7 0h1m7 0h2m-67 1h1m34 0h1m4 0h1m17 0h1m-74 1h1m34 0h1m2 0h1m1 0h1m31 0h1m-78 1h1m21 0h1m13 0h1m-17 1h1m3 0h2m14 0h1m-20 1h1m4 0h2m-3 1h1m-2 1h1m-4 1h1m-7 1h1"/>
<path stroke="#481c6e" d="M164 1.5h1m-9 1h1m3 0h1m3 0h1m-1 1h1m3 0h1m1 0h1m2 0h1m2 0h1m-18 1h1m10 0h1m6 0h1m-25 1h2m5 0h2m3 0h1m12 0h1m2 0h1m1 0h1m-34 1h1m6 0h2m1 0h2m4 0h1m2 0h2m4 0h1m4 0h3m-37 1h1m3 0h3m3 0h1m3 0h1m7 0h2m2 0h1m1 0h1m-24 1h2m3 0h1m22 0h1m-29 1h1m1 0h1m5 0h1m1 0h1m5 0h1m-15 1h1m1 0h1m27 0h1m-8 1h1m-35 1h1m1 0h1m1 0h1m30 0h1m2 0h1m-39 1h1m9 0h1m7 0h2m16 0h1m6 0h1m-47 1h2m1 0h1m7 0h2m9 0h1m17 0h1m5 0h2m-44 1h1m8 0h1m1 0h1m5 0h1m2 0h3m6 0h2m12 0h1m-48 1h1m3 0h1m1 0h1m5 0h1m12 0h1m11 0h1m1 0h1m4 0h2m-32 1h4m2 0h2m11 0h2m3 0h1m3 0h1m2 0h1m-26 1h1m16 0h1m7 0h1m1 0h2m-28 1h1m6 0h2m6 0h1m-42 1h1m20 0h2m11 0h1m12 0h3m1 0h2m-55 1h2m21 0h1m2 0h1m7 0h1m9 0h1m-46 1h1m24 0h1m21 0h2m-45 1h1m23 0h1m7 0h2m15 0h1m3 0h1m-16 1h3m-18 1h1m4 0h1m2 0h1m1 0h1m1 0h3m4 0h1m7 0h2m-25 1h3m2 0h1m8 0h1m1 0h1m1 0h1m2 0h2m2 0h1m2 0h2m-34 1h1m4 0h1m6 0h1m5 0h1m-19 1h1m2 0h1m-35 1h1m3 0h1m4 0h1m22 0h1m16 0h1m2 0h1m3 0h1m-53 1h1m31 0h1m6 0h1m2 0h1m-45 1h1m1 0h2m21 0h1m17 0h1m-47 1h1m32 0h1m26 0h1m4 0h1m-69 1h1m4 0h1m10 0h1m14 0h1m8 0h1m-114 1h1m72 0h1m27 0h1m1 0h1m4 0h1m-38 1h1m4 0h1m32 0h1m1 0h1m3 0h1m26 0h1m-144 1h2m74 0h1m26 0h1m4 0h1m28 0h1m5 0h1m-69 1h1m28 0h2m4 0h1m1 0h1m4 0h1m19 0h1m-138 1h1m2 0h1m105 0h1m3 0h1m2 0h1m-112 1h1m102 0h2m3 0h1m-77 1h1m3 0h1m92 0h1m7 0h1m-142 1h1m3 0h1m31 0h1m97 0h1m4 0h1m1 0h2m-137 1h1m32 0h2m92 0h1m3 0h1m2 0h1m-140 1h1m40 0h2m90 0h1m6 0h1m-1 1h1m-138 1h1m134 0h1m1 0h1m-140 1h1m2 0h1m31 0h2m1 0h3m-43 1h1m5 0h1m134 0h1m-143 1h2m7 0h1m-3 1h1m21 0h1m12 0h1m-35 1h1m33 0h2m-44 1h2m28 0h1m-30 1h1m42 0h1m-18 1h1m9 0h1m-12 2h1m5 1h1m-23 1h1m8 0h2m21 0h1m-32 1h2m1 0h1m8 0h1m-23 1h1m10 0h1m3 0h1m32 0h1m-49 1h1m1 0h1m3 0h1m6 0h1m8 0h1m2 0h1m21 0h1m-47 1h1m3 0h2m2 0h1m4 0h1m7 0h1m3 0h1m4 0h1m111 0h1m3 0h3m1 0h1m-144 1h2m3 0h1m4 0h1m4 0h1m119 0h1m7 0h1m-153 1h1m2 0h2m1 0h2m2 0h1m1 0h1m3 0h2m12 0h1m106 0h1m6 0h1m6 0h1m-152 1h1m12 0h1m2 0h1m6 0h1m114 0h1m4 0h1m6 0h1m-149 1h1m1 0h1m18 0h1m120 0h1m3 0h1m1 0h1m-143 1h1m4 0h1m3 0h3m11 0h1m3 0h1m104 0h1m-143 1h1m2 0h1m19 0h1m10 0h1m114 0h2m1 0h1m-140 1h1m2 0h1m126 0h1m4 0h3m1 0h1m-152 1h2m16 0h1m3 0h1m12 0h1m-30 1h1m4 0h1m5 0h1m4 0h2m5 0h1m2 0h2m21 0h1m85 0h1m8 0h1m-133 1h1m3 0h1m10 0h1m107 0h3m-140 1h2m21 0h1m1 0h1m2 0h1m2 0h2m107 0h1m-136 1h1m3 0h1m8 0h1m2 0h2m8 0h1m104 0h3m7 0h1m-150 1h1m1 0h1m17 0h1m10 0h1m107 0h1m1 0h2m4 0h1m-186 1h2m39 0h1m6 0h2m5 0h1m2 0h1m7 0h1m8 0h1m97 0h1m5 0h1m2 0h1m1 0h1m-142 1h1m7 0h1m4 0h1m1 0h1m7 0h1m1 0h1m5 0h1m97 0h1m-171 1h1m47 0h1m5 0h1m4 0h1m6 0h1m3 0h1m108 0h1m3 0h1m-182 1h1m47 0h1m5 0h2m2 0h1m119 0h1m-187 1h1m2 0h1m46 0h1m2 0h1m8 0h4m2 0h1m2 0h1m2 0h2m5 0h2m98 0h2m5 0h1m-189 1h1m11 0h1m26 0h1m10 0h1m3 0h1m6 0h1m1 0h2m21 0h1m94 0h1m3 0h1m-180 1h1m9 0h1m24 0h1m1 0h1m3 0h1m1 0h1m9 0h1m1 0h2m9 0h3m111 0h1m-181 1h1m4 0h1m14 0h1m7 0h1m1 0h1m1 0h1m6 0h1m12 0h2m5 0h1m4 0h1m1 0h1m107 0h1m3 0h1m-182 1h1m8 0h2m17 0h1m1 0h1m13 0h1m10 0h2m4 0h1m1 0h1m2 0h2m3 0h2m4 0h1m100 0h2m-181 1h1m24 0h1m1 0h1m7 0h1m1 0h1m6 0h1m3 0h1m20 0h1m2 0h1m96 0h1m9 0h1m-155 1h1m7 0h2m5 0h1m2 0h2m24 0h1m2 0h1m101 0h1m-154 1h1m2 0h1m3 0h2m11 0h1m20 0h1m12 0h1m29 0h1m68 0h1m-155 1h1m22 0h1m1 0h2m17 0h2m-41 1h1m2 0h3m1 0h1m3 0h1m4 0h2m3 0h1m2 0h1m5 0h1m7 0h1m10 0h2m2 0h1m-65 1h1m2 0h2m3 0h1m8 0h1m6 0h1m10 0h1m4 0h1m2 0h1m2 0h2m2 0h1m6 0h3m3 0h1m10 0h1m-82 1h1m7 0h1m10 0h1m4 0h1m7 0h1m12 0h2m1 0h1m3 0h1m1 0h1m13 0h1m7 0h1m12 0h1m-69 1h2m2 0h2m10 0h1m5 0h1m6 0h1m1 0h2m8 0h1m26 0h1m-83 1h1m20 0h1m2 0h1m4 0h1m4 0h2m17 0h3m5 0h1m1 0h1m2 0h1m-77 1h1m16 0h2m3 0h2m4 0h2m8 0h1m1 0h2m1 0h1m3 0h1m4 0h1m2 0h2m4 0h1m6 0h1m-68 1h1m3 0h1m2 0h1m9 0h1m13 0h2m4 0h1m3 0h2m9 0h2m3 0h1m7 0h1m-66 1h1m4 0h1m8 0h1m1 0h2m1 0h1m2 0h1m5 0h1m4 0h1m6 0h1m8 0h1m6 0h1m8 0h1m15 0h1m2 0h1m-84 1h1m14 0h1m11 0h2m1 0h1m1 0h1m4 0h1m13 0h3m6 0h1m1 0h1m18 0h1m21 0h1m2 0h1m49 0h1m-128 1h3m9 0h1m4 0h1m3 0h1m1 0h2m11 0h1m6 0h1m7 0h1m1 0h1m7 0h2m-68 1h1m3 0h1m12 0h1m5 0h1m8 0h1m1 0h1m1 0h1m3 0h1m7 0h1m15 0h1m3 0h1m-89 1h1m10 0h1m30 0h1m1 0h1m6 0h1m4 0h1m19 0h1m5 0h1m2 0h2m5 0h1m-93 1h1m10 0h1m1 0h1m7 0h1m4 0h2m7 0h1m2 0h1m3 0h1m8 0h3m3 0h1m16 0h1m15 0h1m7 0h1m-88 1h1m3 0h1m1 0h1m2 0h1m6 0h2m3 0h1m7 0h1m8 0h1m24 0h1m5 0h1m4 0h1m1 0h1m2 0h1m3 0h1m-87 1h1m15 0h1m17 0h3m42 0h1m1 0h1m1 0h1m-91 1h1m20 0h1m1 0h1m1 0h1m2 0h1m9 0h1m13 0h1m6 0h1m29 0h1m5 0h1m-93 1h1m24 0h2m27 0h1m77 0h1m4 0h1m-141 1h1m10 0h1m7 0h1m6 0h1m2 0h1m20 0h1m4 0h2m1 0h1m4 0h1m2 0h1m21 0h1m-86 1h2m23 0h1m3 0h1m3 0h1m105 0h1m2 0h1m-139 1h1m9 0h1m6 0h1m1 0h1m3 0h1m1 0h1m19 0h1m3 0h1m2 0h2m6 0h1m14 0h1m8 0h1m4 0h1m43 0h1m-135 1h1m5 0h1m16 0h1m3 0h5m15 0h1m1 0h1m37 0h1m3 0h1m48 0h1m-145 1h1m14 0h1m2 0h1m1 0h1m12 0h1m3 0h1m2 0h1m4 0h1m3 0h1m2 0h2m2 0h1m1 0h1m32 0h2m47 0h1m-139 1h1m11 0h1m4 0h1m2 0h1m4 0h1m2 0h1m2 0h1m5 0h1m6 0h1m49 0h1m1 0h1m42 0h1m-142 1h1m14 0h1m2 0h1m6 0h1m1 0h1m1 0h1m3 0h1m6 0h1m7 0h1m13 0h1m78 0h1m1 0h1m-132 1h1m2 0h2m1 0h1m10 0h1m1 0h1m8 0h1m1 0h1m15 0h1m33 0h2m43 0h1m3 0h1m-114 1h1m13 0h1m4 0h1m89 0h1m-124 1h1m3 0h1m7 0h2m1 0h1m1 0h2m54 0h1m1 0h2m25 0h1m-114 1h1m1 0h1m2 0h1m10 0h1m14 0h1m3 0h1m4 0h1m4 0h2m69 0h1m-113 1h1m4 0h1m3 0h4m2 0h1m2 0h2m1 0h1m1 0h1m3 0h1m7 0h2m10 0h1m30 0h1m-81 1h1m3 0h1m10 0h2m2 0h1m3 0h2m2 0h1m4 0h1m2 0h1m2 0h1m44 0h1m45 0h1m1 0h1m1 0h1m-134 1h3m3 0h1m1 0h1m4 0h1m3 0h1m1 0h1m5 0h1m15 0h1m9 0h1m61 0h1m13 0h1m1 0h2m-127 1h1m4 0h1m3 0h1m12 0h1m5 0h1m1 0h1m2 0h3m9 0h1m1 0h1m60 0h1m3 0h1m1 0h1m-108 1h1m1 0h2m9 0h2m6 0h1m3 0h1m8 0h1m19 0h1m1 0h1m47 0h1m-104 1h1m4 0h1m3 0h1m1 0h1m3 0h1m3 0h1m2 0h1m14 0h1m2 0h1m1 0h1m3 0h1m24 0h1m3 0h1m29 0h2m1 0h2m4 0h1m-118 1h2m1 0h1m3 0h1m6 0h1m7 0h2m2 0h4m1 0h1m2 0h1m10 0h1m1 0h1m13 0h1m3 0h1m21 0h1m6 0h1m8 0h1m1 0h1m4 0h1m4 0h1m-121 1h1m3 0h1m1 0h1m8 0h1m9 0h1m2 0h1m1 0h1m1 0h1m2 0h1m5 0h3m8 0h3m10 0h3m6 0h1m38 0h1m1 0h1m3 0h1m1 0h2m-116 1h1m13 0h1m11 0h1m6 0h2m1 0h1m3 0h1m6 0h1m1 0h2m7 0h1m7 0h1m10 0h1m25 0h1m2 0h1m-105 1h1m8 0h1m3 0h1m5 0h1m3 0h1m3 0h3m2 0h2m5 0h1m14 0h1m4 0h1m3 0h1m10 0h1m20 0h1m5 0h1m-112 1h1m14 0h1m1 0h2m8 0h2m5 0h1m23 0h1m2 0h1m2 0h1m1 0h1m4 0h1m4 0h2m5 0h1m7 0h1m16 0h1m5 0h2m1 0h1m-118 1h1m3 0h1m12 0h1m6 0h1m10 0h1m8 0h1m1 0h1m10 0h2m15 0h1m6 0h2m4 0h1m22 0h1m1 0h1m1 0h1m5 0h1m-123 1h2m7 0h1m3 0h2m15 0h1m46 0h1m19 0h1m-83 1h1m2 0h1m2 0h1m3 0h1m4 0h1m2 0h1m16 0h1m43 0h1m12 0h1m5 0h1m5 0h1m-124 1h1m21 0h1m5 0h2m56 0h1m9 0h1m1 0h2m7 0h1m13 0h1m-116 1h2m6 0h1m8 0h1m1 0h1m2 0h1m5 0h1m4 0h3m11 0h1m1 0h1m30 0h1m10 0h1m11 0h1m1 0h1m6 0h1m-110 1h1m5 0h1m5 0h1m5 0h1m24 0h3m1 0h1m20 0h1m15 0h1m11 0h1m5 0h1m6 0h2m-110 1h1m4 0h2m1 0h2m8 0h1m5 0h1m11 0h1m7 0h1m2 0h1m18 0h2m7 0h1m2 0h2m5 0h1m2 0h1m-93 1h1m26 0h3m1 0h1m13 0h1m24 0h1m1 0h1m23 0h1m1 0h1m-104 1h1m26 0h1m17 0h1m3 0h1m5 0h1m1 0h1m17 0h1m8 0h1m10 0h2m1 0h1m3 0h1m6 0h1m-110 1h1m14 0h1m3 0h1m8 0h2m14 0h2m2 0h1m2 0h1m1 0h1m5 0h1m10 0h1m25 0h2m2 0h1m5 0h1m4 0h1m-110 1h1m2 0h2m10 0h1m11 0h2m6 0h1m4 0h1m55 0h1m7 0h1m-105 1h1m3 0h1m11 0h1m2 0h1m4 0h1m6 0h1m2 0h1m9 0h1m42 0h1m10 0h1m-96 1h1m2 0h1m8 0h1m20 0h1m19 0h1m1 0h1m8 0h2m15 0h1m-79 1h1m20 0h2m6 0h1m2 0h1m4 0h1m7 0h1m3 0h1m4 0h1m9 0h1m4 0h1m1 0h1m-73 1h1m9 0h1m2 0h1m21 0h1m5 0h1m13 0h1m7 0h1m16 0h1m-83 1h1m30 0h2m5 0h1m6 0h1m9 0h2m1 0h1m13 0h1m3 0h1m6 0h1m-85 1h1m9 0h1m9 0h1m14 0h1m1 0h2m2 0h1m5 0h1m1 0h2m6 0h2m11 0h1m2 0h1m1 0h1m4 0h1m-76 1h1m8 0h1m3 0h1m18 0h1m9 0h1m6 0h1m5 0h1m4 0h1m5 0h1m3 0h1m-70 1h3m28 0h1m20 0h1m13 0h3m-76 1h1m10 0h1m10 0h1m10 0h1m2 0h1m-3 1h1m4 0h1m3 0h1m-17 1h3m3 0h1m2 0h1m-26 1h1m10 0h1m11 0h1m-21 1h1m6 0h1m1 0h1"/>
<path stroke="#482576" d="M167 2.5h1m-6 2h1m8 0h1m2 0h1m-6 1h2m6 0h1m-25 1h1m13 0h1m4 0h1m1 0h1m4 0h1m3 0h1m-27 1h1m19 0h2m2 0h1m1 0h2m-39 1h1m37 0h1m-37 1h1m3 0h1m2 0h2m3 0h1m4 0h1m7 0h1m11 0h1m-32 1h1m2 0h2m8 0h1m5 0h1m1 0h1m1 0h1m-35 1h1m11 0h3m2 0h1m13 0h1m2 0h2m5 0h1m-27 1h1m2 0h1m21 0h1m-40 1h1m5 0h1m4 0h3m4 0h2m10 0h1m7 0h2m-30 1h1m10 0h1m3 0h2m7 0h1m-40 1h2m3 0h2m1 0h1m2 0h1m8 0h1m11 0h1m6 0h2m-43 1h2m16 0h1m1 0h1m1 0h1m1 0h1m1 0h1m2 0h1m2 0h1m11 0h2m-40 1h2m12 0h1m3 0h1m1 0h1m11 0h1m2 0h1m-44 1h3m12 0h1m4 0h1m5 0h1m3 0h1m3 0h1m3 0h1m11 0h1m-41 1h1m3 0h1m7 0h1m7 0h1m19 0h1m-51 1h1m9 0h1m8 0h1m5 0h1m6 0h1m2 0h1m5 0h2m6 0h1m-26 1h3m6 0h1m6 0h1m8 0h1m2 0h1m-55 1h1m38 0h1m-42 1h1m1 0h1m16 0h1m5 0h1m1 0h1m1 0h1m-5 1h1m7 0h2m10 0h2m4 0h1m1 0h1m-23 1h1m10 0h2m3 0h1m1 0h1m1 0h2m-53 1h1m25 0h1m1 0h1m6 0h1m-37 1h1m28 0h2m11 0h1m4 0h1m-6 1h2m8 0h1m-29 1h1m6 0h1m1 0h1m1 0h1m-40 1h1m26 0h1m3 0h1m2 0h3m13 0h1m7 0h1m-62 1h1m2 0h1m12 0h1m13 0h1m8 0h1m2 0h1m19 0h1m-64 1h3m2 0h1m32 0h1m2 0h1m-39 1h1m32 0h1m8 0h1m-47 1h1m28 0h1m11 0h1m4 0h1m21 0h1m2 0h1m-142 1h1m73 0h1m31 0h1m2 0h1m1 0h1m20 0h1m-132 1h1m101 0h1m3 0h1m2 0h1m4 0h2m19 0h1m-65 1h1m33 0h1m-1 1h1m-106 1h1m101 0h1m28 0h1m6 0h1m1 0h1m-110 1h1m105 0h1m-7 1h1m1 0h1m-133 1h2m134 0h1m-134 1h1m133 0h1m-138 2h1m32 0h1m103 1h1m-139 1h4m1 0h1m31 0h1m-38 1h1m36 0h2m-40 1h1m1 0h2m-5 1h1m3 0h1m29 0h1m-37 1h1m4 0h1m1 0h1m35 0h1m-15 1h1m1 0h1m12 0h1m-42 1h1m2 0h1m19 0h1m16 0h1m3 0h2m-20 1h1m15 0h1m5 0h1m-15 1h1m-11 1h1m16 0h1m2 0h1m-2 1h1m-44 1h3m10 0h1m19 0h1m7 0h1m107 0h3m-146 1h1m2 0h1m9 0h1m6 0h1m6 0h1m1 0h1m1 0h1m106 0h1m5 0h1m-154 1h1m9 0h1m3 0h1m2 0h1m1 0h2m15 0h1m7 0h1m1 0h1m107 0h1m-151 1h1m8 0h1m22 0h1m1 0h1m2 0h1m105 0h1m6 0h1m-154 1h1m1 0h1m3 0h1m4 0h1m8 0h1m2 0h1m2 0h1m14 0h1m103 0h1m1 0h2m-150 1h1m139 0h1m8 0h1m3 0h1m-154 1h1m2 0h1m4 0h1m1 0h3m8 0h1m120 0h1m5 0h1m-145 1h1m10 0h1m3 0h1m11 0h1m106 0h1m-123 1h1m4 0h1m7 0h1m3 0h1m1 0h1m3 0h1m111 0h1m-134 1h1m6 0h1m117 0h1m-145 1h1m20 0h1m8 0h1m4 0h1m116 1h1m-139 1h3m2 0h1m9 0h1m1 0h2m110 0h1m-136 1h2m14 0h1m1 0h1m2 0h1m1 0h1m115 0h1m1 0h1m-150 1h1m1 0h1m12 0h1m13 0h1m4 0h1m6 0h1m99 0h1m5 0h1m2 0h1m-133 1h1m5 0h1m7 0h1m114 0h1m-180 1h1m36 0h1m3 0h1m4 0h1m1 0h1m4 0h1m126 0h1m1 0h2m-131 1h1m2 0h1m1 0h1m7 0h2m30 0h1m74 0h1m-131 1h1m9 0h1m2 0h1m9 0h1m108 0h1m1 0h1m1 0h1m1 0h1m-129 1h1m121 0h1m-129 1h1m15 0h1m1 0h4m5 0h1m94 0h1m3 0h2m5 0h1m-116 1h1m103 0h1m-113 1h1m3 0h1m1 0h2m1 0h1m99 0h1m5 0h1m-137 1h1m12 0h1m6 0h1m1 0h2m113 0h1m1 0h2m-183 1h1m14 0h1m19 0h1m19 0h1m9 0h1m105 0h1m1 0h1m-165 1h1m16 0h1m1 0h1m9 0h1m3 0h1m1 0h1m25 0h1m17 0h1m-74 1h1m10 0h1m5 0h1m1 0h1m4 0h3m1 0h1m15 0h1m15 0h1m3 0h1m5 0h1m86 0h1m-147 1h1m14 0h1m26 0h1m1 0h1m4 0h1m1 0h1m1 0h1m91 0h1m1 0h1m3 0h1m-160 1h1m3 0h1m3 0h1m8 0h1m6 0h1m25 0h1m2 0h1m2 0h1m3 0h1m25 0h1m63 0h1m-148 1h3m5 0h1m10 0h1m25 0h1m2 0h1m105 0h1m-142 1h1m9 0h1m19 0h1m2 0h1m1 0h1m15 0h1m86 0h1m2 0h1m-147 1h1m10 0h2m8 0h1m19 0h1m8 0h1m5 0h1m4 0h1m82 0h1m-168 1h1m25 0h1m36 0h1m7 0h1m3 0h1m5 0h1m5 0h1m79 0h1m-169 1h1m12 0h1m8 0h1m7 0h1m2 0h1m1 0h1m6 0h1m4 0h1m8 0h1m2 0h1m15 0h1m-50 1h1m13 0h1m19 0h1m12 0h2m3 0h1m2 0h1m29 0h1m-88 1h1m7 0h1m3 0h1m1 0h1m13 0h1m11 0h1m1 0h1m1 0h2m1 0h1m3 0h2m-61 1h1m9 0h1m8 0h1m4 0h1m4 0h1m9 0h1m6 0h1m3 0h1m20 0h1m-68 1h1m16 0h1m4 0h1m3 0h1m8 0h1m1 0h1m5 0h1m7 0h1m10 0h1m6 0h1m-87 1h1m8 0h1m4 0h1m30 0h1m8 0h1m8 0h1m1 0h1m8 0h1m87 0h1m-163 1h1m33 0h2m11 0h1m4 0h1m1 0h1m7 0h1m2 0h1m9 0h1m5 0h1m2 0h1m-56 1h3m3 0h1m1 0h2m12 0h1m5 0h1m2 0h1m2 0h1m4 0h1m20 0h1m3 0h2m-95 1h1m38 0h3m1 0h1m1 0h1m16 0h2m13 0h1m28 0h1m-72 1h1m2 0h1m3 0h2m1 0h1m5 0h1m38 0h1m3 0h2m6 0h2m-69 1h2m24 0h1m32 0h1m-66 1h1m1 0h1m2 0h1m6 0h1m6 0h1m6 0h1m5 0h2m2 0h1m10 0h1m10 0h1m7 0h3m3 0h1m-75 1h1m11 0h1m4 0h2m12 0h1m2 0h1m26 0h1m54 0h1m-118 1h1m8 0h1m21 0h1m3 0h1m52 0h1m-78 1h1m1 0h1m1 0h1m1 0h1m16 0h1m1 0h1m24 0h1m25 0h1m32 0h1m-117 1h1m2 0h1m2 0h1m3 0h1m1 0h1m14 0h2m16 0h1m19 0h1m1 0h1m1 0h1m43 0h1m2 0h1m-133 1h1m19 0h1m1 0h1m4 0h1m7 0h1m14 0h1m3 0h1m17 0h1m13 0h1m48 0h2m-124 1h1m6 0h1m15 0h2m15 0h1m5 0h1m20 0h1m49 0h2m-125 1h1m2 0h1m3 0h1m10 0h2m6 0h1m5 0h1m5 0h2m-38 1h1m17 0h1m5 0h1m9 0h1m5 0h1m1 0h1m23 0h1m48 0h1m1 0h1m2 0h2m4 0h1m-143 1h1m25 0h1m2 0h2m10 0h1m1 0h1m1 0h1m1 0h2m34 0h1m50 0h1m-107 1h1m12 0h1m4 0h1m2 0h1m1 0h1m81 0h1m2 0h2m-123 1h1m13 0h1m3 0h1m7 0h1m4 0h1m1 0h1m4 0h1m31 0h1m50 0h1m1 0h3m-127 1h1m8 0h1m7 0h2m3 0h1m2 0h3m53 0h1m19 0h1m24 0h1m-136 1h1m6 0h1m11 0h1m8 0h1m6 0h1m1 0h1m21 0h1m25 0h1m23 0h1m21 0h1m-118 1h1m2 0h1m14 0h2m3 0h1m6 0h1m31 0h1m36 0h2m11 0h1m-122 1h1m1 0h1m3 0h1m17 0h1m8 0h2m13 0h1m14 0h1m16 0h1m9 0h1m12 0h1m4 0h1m1 0h1m1 0h1m10 0h1m1 0h1m-130 1h1m3 0h1m1 0h1m1 0h1m2 0h1m15 0h1m1 0h1m2 0h1m74 0h1m9 0h1m-109 1h1m9 0h1m12 0h1m16 0h1m73 0h1m-127 1h1m2 0h1m5 0h1m2 0h1m4 0h1m1 0h2m7 0h3m2 0h1m1 0h1m1 0h1m8 0h1m2 0h1m1 0h1m2 0h1m23 0h1m2 0h2m1 0h1m28 0h1m6 0h1m1 0h1m6 0h1m-129 1h1m14 0h1m18 0h2m6 0h2m14 0h1m24 0h1m6 0h2m23 0h1m7 0h1m3 0h1m-126 1h1m17 0h1m12 0h1m4 0h1m2 0h1m8 0h1m6 0h1m3 0h1m2 0h1m3 0h1m3 0h1m1 0h1m19 0h1m19 0h1m5 0h1m-120 1h1m10 0h1m19 0h1m15 0h1m4 0h1m17 0h1m2 0h1m1 0h1m3 0h1m9 0h1m20 0h1m3 0h1m-112 1h2m5 0h1m6 0h1m2 0h2m8 0h1m2 0h1m2 0h1m4 0h1m8 0h1m6 0h1m3 0h1m1 0h2m1 0h1m23 0h1m2 0h1m24 0h1m4 0h1m-119 1h1m10 0h2m1 0h1m3 0h1m1 0h2m22 0h1m14 0h1m13 0h1m10 0h1m2 0h1m17 0h1m2 0h1m1 0h1m2 0h1m-109 1h1m3 0h1m10 0h1m1 0h1m15 0h3m6 0h1m16 0h1m12 0h1m25 0h1m1 0h1m3 0h1m5 0h1m-121 1h1m11 0h1m16 0h1m16 0h1m13 0h1m7 0h2m4 0h1m6 0h1m7 0h1m8 0h1m-104 1h1m9 0h1m13 0h1m6 0h2m52 0h1m1 0h2m8 0h1m13 0h1m5 0h1m6 0h1m-99 1h1m9 0h1m22 0h1m27 0h1m11 0h1m8 0h1m11 0h1m-111 1h2m2 0h2m7 0h1m2 0h2m19 0h1m8 0h1m23 0h1m13 0h1m14 0h1m-101 1h1m8 0h1m11 0h1m67 0h1m1 0h1m5 0h2m2 0h1m9 0h1m-117 1h1m19 0h1m4 0h1m8 0h1m2 0h1m8 0h1m41 0h1m4 0h1m1 0h1m16 0h1m-112 1h1m2 0h1m11 0h2m2 0h2m22 0h1m2 0h2m46 0h1m1 0h2m1 0h1m-96 1h1m18 0h1m20 0h2m1 0h1m37 0h1m14 0h1m1 0h1m6 0h1m-113 1h1m50 0h1m32 0h2m7 0h1m5 0h1m10 0h2m-111 1h1m4 0h1m8 0h1m9 0h1m6 0h2m11 0h2m26 0h1m27 0h2m-100 1h1m11 0h1m29 0h1m13 0h2m45 0h1m-81 1h1m1 0h1m1 0h2m1 0h1m14 0h1m9 0h1m1 0h2m1 0h1m20 0h1m-73 1h1m7 0h1m7 0h2m8 0h1m13 0h1m1 0h1m12 0h1m27 0h1m-85 1h1m30 0h2m9 0h1m6 0h1m5 0h1m1 0h3m16 0h2m-84 1h1m1 0h1m9 0h1m10 0h1m10 0h1m3 0h1m5 0h1m5 0h2m5 0h1m11 0h1m2 0h1m1 0h1m1 0h1m1 0h1m-77 1h2m13 0h1m3 0h1m1 0h1m15 0h1m1 0h1m8 0h1m1 0h1m11 0h2m-63 1h1m12 0h2m8 0h1m5 0h1m1 0h1m15 0h2m1 0h1m12 0h2m4 0h1m8 0h1m-75 1h1m3 0h1m8 0h1m5 0h1m3 0h1m12 0h2m1 0h3m2 0h1m12 0h2m1 0h1m-66 1h1m23 0h1m3 0h1m11 0h1m12 0h1m12 0h1m4 0h1m-69 1h1m21 0h1m3 0h1m41 0h1m1 0h1m-78 1h1m21 0h1m6 0h1m1 0h1m-32 1h1m20 0h2m11 0h1m1 0h1m1 0h1m-23 1h1m6 0h2m3 0h1m-8 1h1m-10 1h1m3 0h1m-4 1h1m2 1h1m2 0h1"/>
<path stroke="#472d7b" d="M162 3.5h1m6 0h1m4 0h1m3 0h2m-7 1h1m4 0h1m1 1h1m1 0h1m-20 1h1m-3 1h3m1 0h1m5 0h1m-17 1h1m8 0h1m1 0h1m6 0h2m-25 1h1m3 0h1m29 0h1m-17 1h1m-19 1h2m29 0h1m1 0h1m1 0h1m-38 1h2m1 0h1m4 0h1m24 0h1m-41 1h1m5 0h1m10 0h1m6 0h1m7 0h1m2 0h1m4 0h1m-41 1h1m10 0h1m4 0h1m6 0h1m1 0h1m5 0h1m1 0h1m2 0h1m-36 1h1m14 0h1m16 0h1m1 0h2m2 0h3m-39 1h1m5 0h1m2 0h1m2 0h1m8 0h1m6 0h1m-28 1h1m6 0h1m5 0h1m9 0h1m7 0h1m8 0h1m-34 1h1m1 0h1m5 0h1m11 0h1m6 0h1m2 0h1m-49 1h1m16 0h2m6 0h1m12 0h2m9 0h1m-48 1h1m2 0h1m4 0h1m6 0h1m6 0h2m9 0h1m-39 1h1m3 0h1m29 0h1m1 0h1m10 0h1m2 0h1m4 0h1m-53 1h1m26 0h2m17 0h1m5 0h2m1 0h1m-27 1h1m1 0h1m20 0h1m-54 1h2m33 0h2m19 0h1m-30 1h1m23 0h1m3 0h1m-59 1h1m2 0h1m21 0h1m14 0h1m2 0h1m7 0h1m-50 1h1m36 0h1m4 0h1m4 0h1m2 0h1m2 0h1m5 0h1m-30 1h1m2 0h1m4 0h2m3 0h2m-47 1h1m2 0h1m30 0h1m8 0h1m3 0h1m2 0h3m-27 1h1m14 0h2m4 0h1m-54 1h1m32 0h1m1 0h1m6 0h2m1 0h1m11 0h1m2 0h1m2 0h1m2 0h1m-70 1h1m15 0h1m23 0h1m22 0h1m3 0h1m1 0h1m1 0h1m-145 1h1m80 0h1m19 0h1m6 0h2m7 0h2m23 0h1m-143 1h1m112 0h1m4 0h1m23 0h1m-143 1h1m74 0h1m3 0h1m23 0h1m1 0h1m-35 1h1m2 0h1m1 0h1m26 0h1m12 0h1m19 0h1m6 0h1m-142 1h1m116 0h2m5 0h1m-122 1h1m70 0h1m63 0h1m-141 1h1m136 0h1m3 0h1m-138 1h1m36 0h1m97 0h1m-99 1h1m-39 1h1m3 0h1m37 0h1m-42 1h1m1 0h2m30 0h1m65 0h1m27 0h1m-95 1h1m12 0h1m88 0h1m-101 1h2m1 0h1m88 0h1m5 0h1m-133 1h1m134 0h1m0 1h1m-50 1h1m4 0h1m-96 2h1m27 0h1m-29 1h1m32 0h1m7 0h1m-13 1h1m-33 1h1m28 0h1m4 1h1m1 0h1m-32 1h1m17 0h1m1 0h1m6 0h1m7 0h1m1 0h1m-22 1h1m1 0h1m1 0h1m6 0h1m13 0h1m-30 1h1m11 0h1m11 0h1m-36 1h1m1 0h1m1 0h1m6 0h1m16 0h2m1 0h1m-32 1h2m34 0h1m-42 1h1m4 0h1m22 0h1m7 0h1m5 0h1m104 0h1m-131 1h1m2 0h1m-14 1h1m7 0h1m13 0h1m13 0h2m-31 1h1m8 0h1m3 0h1m6 0h1m103 0h1m8 0h1m-145 1h1m8 0h1m17 0h1m108 0h1m2 0h1m-144 1h1m7 0h1m3 0h2m2 0h1m6 0h1m5 0h1m5 0h1m104 0h1m-126 1h1m18 0h1m2 0h1m114 0h1m-147 1h1m2 0h1m3 0h1m1 0h1m22 0h1m107 0h1m-147 1h1m1 0h1m14 0h2m7 0h2m3 0h1m6 0h2m98 0h1m4 0h2m-141 1h1m2 0h1m3 0h2m12 0h1m3 0h2m3 0h1m1 0h1m2 0h1m13 0h1m16 0h1m79 0h1m-150 1h1m1 0h1m32 0h1m107 0h1m1 0h1m1 0h1m2 0h1m-150 1h1m2 0h1m11 0h1m13 0h1m3 0h1m104 0h1m-119 1h1m3 0h1m114 0h1m8 0h1m-151 1h1m3 0h1m1 0h1m29 0h1m4 0h1m14 0h1m80 0h1m-120 1h1m5 0h1m2 0h1m6 0h1m32 0h1m-100 1h1m40 0h2m8 0h1m7 0h1m2 0h1m1 0h1m108 0h1m-177 1h1m2 0h1m48 0h1m7 0h1m2 0h1m5 0h1m-20 1h3m8 0h2m6 0h1m2 0h1m103 0h1m4 0h1m-123 1h1m26 0h1m-23 1h1m1 0h1m3 0h1m24 0h1m84 0h1m2 0h1m-141 1h1m10 0h1m6 0h1m8 0h1m33 0h1m-99 1h2m49 0h1m11 0h1m90 0h1m10 0h2m-151 1h2m46 0h1m-50 1h1m8 0h1m8 0h1m14 0h1m7 0h1m2 0h1m98 0h1m1 0h2m-101 1h1m1 0h1m10 0h1m11 0h1m78 0h1m-149 1h1m1 0h1m1 0h1m35 0h1m18 0h1m-67 1h1m4 0h1m10 0h1m2 0h1m23 0h1m3 0h1m104 0h2m1 0h2m-153 1h1m3 0h1m43 0h1m2 0h1m-54 1h1m8 0h1m6 0h1m1 0h1m29 0h1m12 0h1m3 0h1m79 0h1m5 0h2m-140 1h3m1 0h1m22 0h1m3 0h1m7 0h1m7 0h1m12 0h1m75 0h1m-142 1h1m4 0h2m12 0h1m21 0h1m1 0h1m6 0h1m7 0h1m8 0h1m73 0h1m-158 1h1m39 0h2m10 0h1m22 0h1m-74 1h1m27 0h1m11 0h1m1 0h1m4 0h1m25 0h1m-55 1h1m12 0h1m12 0h1m4 0h1m1 0h1m13 0h1m-60 1h1m14 0h1m4 0h1m10 0h1m4 0h1m15 0h1m9 0h1m3 0h1m20 0h1m-72 1h2m2 0h1m5 0h1m3 0h1m1 0h1m3 0h1m3 0h1m8 0h1m-25 1h1m1 0h1m3 0h2m11 0h1m1 0h1m4 0h1m9 0h1m14 0h1m10 0h1m-73 1h1m35 0h1m7 0h1m20 0h1m4 0h2m-78 1h1m11 0h1m15 0h2m5 0h1m21 0h1m10 0h1m9 0h1m1 0h1m-71 1h1m1 0h1m13 0h1m3 0h1m18 0h1m26 0h1m-91 1h1m21 0h3m1 0h1m4 0h1m16 0h1m5 0h1m12 0h1m6 0h1m12 0h1m-70 1h1m8 0h1m1 0h1m6 0h3m8 0h1m4 0h1m4 0h1m10 0h1m21 0h1m13 0h1m-88 1h1m12 0h1m13 0h1m22 0h1m10 0h1m63 0h1m5 0h1m-153 1h1m36 0h1m2 0h2m4 0h1m4 0h1m27 0h1m14 0h2m40 0h1m-115 1h2m3 0h1m29 0h2m24 0h1m2 0h1m7 0h1m-75 1h1m63 0h1m7 0h1m10 0h1m-85 1h1m17 0h1m5 0h1m1 0h1m15 0h1m22 0h1m1 0h1m1 0h1m39 0h1m-103 1h1m6 0h1m61 0h1m42 0h1m6 0h1m-132 1h1m10 0h1m16 0h1m3 0h1m1 0h1m10 0h1m4 0h1m-36 1h1m5 0h1m22 0h1m75 0h2m2 0h1m4 0h1m-130 1h1m1 0h1m20 0h1m6 0h1m13 0h1m74 0h1m1 0h1m3 0h1m5 0h1m-130 1h1m28 0h1m11 0h1m27 0h1m48 0h1m-123 1h1m14 0h1m5 0h1m14 0h2m4 0h1m1 0h1m33 0h1m48 0h1m-115 1h1m3 0h1m18 0h1m1 0h1m9 0h2m29 0h1m24 0h1m18 0h1m-107 1h1m5 0h1m8 0h1m5 0h1m30 0h1m47 0h1m10 0h1m-127 1h2m10 0h1m8 0h1m3 0h1m15 0h1m74 0h1m7 0h1m-125 1h1m13 0h1m3 0h1m1 0h1m11 0h3m16 0h1m19 0h1m1 0h1m1 0h2m38 0h1m3 0h1m1 0h1m-122 1h2m17 0h1m9 0h1m4 0h1m19 0h1m61 0h1m-93 1h1m5 0h1m6 0h1m1 0h1m37 0h1m15 0h1m5 0h1m2 0h1m19 0h1m-123 1h1m20 0h1m12 0h1m38 0h3m25 0h1m3 0h1m6 0h1m5 0h1m-91 1h2m53 0h1m1 0h1m12 0h1m8 0h1m-105 1h1m64 0h1m6 0h1m2 0h1m21 0h1m18 0h1m-123 1h2m19 0h1m15 0h1m3 0h3m25 0h1m15 0h1m23 0h1m3 0h1m1 0h1m4 0h1m-119 1h1m4 0h1m12 0h1m3 0h1m3 0h1m6 0h1m7 0h1m8 0h1m5 0h1m1 0h1m17 0h1m7 0h1m17 0h1m2 0h1m-113 1h1m14 0h2m10 0h2m11 0h1m6 0h1m14 0h1m6 0h2m21 0h1m3 0h1m5 0h1m-100 1h1m8 0h1m29 0h1m3 0h1m10 0h1m14 0h1m4 0h1m6 0h1m9 0h1m5 0h1m3 0h1m-96 1h1m1 0h1m3 0h1m20 0h1m31 0h1m6 0h1m5 0h1m4 0h1m10 0h1m7 0h1m7 0h1m-86 1h1m42 0h1m13 0h1m1 0h1m6 0h1m25 0h1m-106 1h2m4 0h1m71 0h1m4 0h1m12 0h1m1 0h2m-111 1h1m7 0h1m76 0h1m26 0h1m-114 1h1m3 0h1m6 0h1m77 0h1m20 0h1m-108 1h1m7 0h1m68 0h1m5 0h1m6 0h1m15 0h1m-113 1h2m4 0h1m7 0h1m8 0h1m60 0h1m4 0h2m5 0h1m10 0h1m-114 1h1m1 0h1m15 0h1m8 0h1m70 0h1m2 0h1m-85 1h1m3 0h1m34 0h1m1 0h1m38 0h1m2 0h2m2 0h1m2 0h1m8 0h1m-111 1h1m9 0h1m4 0h2m35 0h1m36 0h1m11 0h1m-85 1h1m8 0h1m21 0h1m2 0h2m1 0h1m27 0h1m-79 1h2m9 0h1m2 0h1m2 0h2m1 0h1m3 0h4m9 0h1m5 0h1m2 0h1m2 0h1m-47 1h1m5 0h1m4 0h1m2 0h1m11 0h1m25 0h1m-44 1h1m1 0h2m3 0h1m5 0h1m27 0h1m1 0h1m-57 1h1m8 0h1m8 0h2m8 0h1m3 0h1m1 0h1m5 0h1m10 0h1m25 0h1m-82 1h1m27 0h1m1 0h1m2 0h3m4 0h1m5 0h1m19 0h1m2 0h1m4 0h1m7 0h1m-60 1h1m3 0h1m15 0h1m7 0h1m12 0h1m4 0h1m-68 1h1m1 0h1m5 0h1m1 0h2m13 0h1m2 0h1m10 0h1m13 0h1m9 0h1m1 0h1m-51 1h1m17 0h2m4 0h1m11 0h1m20 0h2m-54 1h1m5 0h1m8 0h1m1 0h1m-31 1h1m5 0h1m9 0h1m9 0h1m-28 1h1m8 0h1m22 0h1m-28 1h1m7 0h1m-13 1h2m1 0h2m5 0h1m8 0h1m1 0h1m-13 1h1m5 0h1m-2 1h1m-9 1h2m-1 1h1m1 0h1"/>
<path stroke="#453581" d="M168 2.5h1m12 1h1m-15 1h1m14 0h1m-26 1h1m-7 1h1m26 0h1m5 0h1m-32 1h1m25 0h1m-22 1h1m12 0h1m-8 1h1m11 1h1m2 0h1m-18 1h1m16 0h1m2 0h1m-23 1h1m14 0h1m3 0h1m6 0h1m-38 1h1m22 0h1m4 0h1m8 0h1m-39 1h1m4 0h1m22 0h1m4 0h1m-20 1h1m5 0h1m-34 1h1m5 0h1m12 0h1m7 0h1m11 0h1m-33 1h1m31 0h1m-35 1h1m17 0h1m22 0h1m-49 1h1m9 0h1m27 0h1m7 0h2m-50 1h1m20 0h1m8 0h1m10 0h2m6 0h1m6 0h1m-51 1h1m26 0h1m7 0h1m7 0h1m2 0h1m-52 1h1m18 0h1m7 0h1m3 0h2m11 0h1m4 0h1m2 0h1m-48 1h1m28 0h1m5 0h1m3 0h1m3 0h1m-50 1h2m17 0h1m16 0h1m-35 1h1m23 0h1m23 0h1m5 0h1m1 0h1m-32 1h1m2 0h1m6 0h2m9 0h1m9 0h1m-29 1h1m6 0h1m17 0h1m-59 1h1m2 0h1m31 0h1m2 0h1m1 0h1m8 0h1m7 0h1m4 0h1m-65 1h1m28 1h1m3 0h1m15 0h1m4 0h1m7 0h1m-59 1h1m21 0h1m5 0h1m2 0h1m2 0h1m-40 1h1m2 0h2m15 0h1m4 0h1m6 0h1m4 0h1m2 0h1m-117 1h1m102 0h1m7 0h2m-2 1h1m26 0h1m-70 1h1m9 0h1m23 0h1m10 0h1m5 0h1m16 0h2m-140 1h1m71 0h1m2 0h1m3 0h1m10 0h1m23 0h1m-111 1h1m64 0h1m66 0h1m-137 1h1m117 0h1m3 0h1m16 0h1m-138 1h1m33 0h1m1 0h1m85 0h1m-85 1h1m69 0h1m23 0h1m-134 1h1m6 0h1m25 0h1m9 0h1m57 0h1m4 0h1m32 0h1m-98 1h1m94 1h1m1 0h1m-139 1h1m2 0h1m31 0h1m57 0h1m42 0h1m-132 1h1m28 0h1m60 0h1m36 0h1m4 0h1m-99 1h1m3 0h1m1 0h1m92 0h1m-97 1h1m-13 1h1m-24 1h1m25 0h1m6 0h1m-35 1h1m1 0h1m17 0h1m16 0h1m-6 1h1m5 0h1m50 0h1m-98 1h1m5 0h1m28 0h1m3 0h1m51 0h1m-87 2h1m1 0h1m18 0h1m11 0h1m8 0h1m1 0h1m-50 1h1m1 0h1m30 0h1m13 0h1m-44 1h2m23 0h1m6 0h2m-38 1h2m37 0h2m1 0h1m-36 1h1m3 0h1m6 0h1m2 0h1m5 0h1m2 0h1m10 0h1m5 0h1m-47 1h1m6 0h1m7 0h1m20 0h1m1 0h1m5 0h1m-41 1h1m3 0h1m20 0h1m19 0h1m-51 1h1m1 0h1m3 0h1m8 0h1m15 0h1m11 0h1m2 0h1m-43 1h1m1 0h1m12 0h1m2 0h1m5 0h1m14 0h1m107 0h1m-127 1h1m1 0h1m8 0h1m4 0h1m1 0h1m103 0h1m-141 1h1m8 0h1m5 0h2m3 0h1m7 0h1m7 0h2m-46 1h1m2 0h1m7 0h1m6 0h1m8 0h1m7 0h1m113 0h1m3 0h1m-153 1h1m10 0h1m18 0h1m10 0h2m104 0h1m-143 1h1m2 0h1m5 0h1m8 0h1m5 0h1m6 0h1m-9 1h1m7 0h1m103 0h1m4 0h1m4 0h1m-141 1h1m4 0h1m39 0h1m86 0h2m1 0h2m-147 1h1m1 0h1m137 0h1m-138 1h1m8 0h1m3 0h1m7 0h1m4 0h1m4 0h1m4 0h1m104 0h2m-129 1h1m125 0h1m1 0h1m1 0h1m-145 1h1m10 0h1m25 0h1m13 0h1m92 0h2m-127 1h2m6 0h1m-17 1h1m3 1h1m17 0h1m1 0h1m-6 1h1m4 0h1m108 0h1m-112 1h1m26 0h1m-28 1h1m8 0h1m89 0h1m1 0h1m-166 1h1m159 0h1m12 0h1m-109 1h2m21 0h1m70 0h2m2 0h1m-165 1h1m22 0h1m30 0h1m7 0h1m31 0h1m64 0h2m5 0h1m-136 1h1m34 0h1m8 0h1m92 0h1m-149 1h1m27 0h1m8 0h1m37 0h1m71 0h1m-161 1h1m20 0h1m34 0h1m2 0h1m95 0h1m-143 2h1m4 0h2m1 0h1m31 0h1m10 0h1m90 0h1m3 0h1m-84 1h1m-39 1h1m7 0h1m3 0h1m104 0h1m1 0h1m-141 1h1m2 0h1m3 0h1m25 0h1m2 0h1m3 0h1m9 0h1m-44 1h1m9 0h1m15 0h2m6 0h1m21 0h1m-62 1h1m3 0h1m14 0h1m4 0h1m15 0h1m11 0h1m-49 1h1m34 0h1m7 0h1m6 0h1m3 0h1m-47 1h1m7 0h1m8 0h2m17 0h1m2 0h1m2 0h1m78 0h1m-147 1h1m20 0h1m1 0h1m3 0h1m18 0h1m5 0h1m8 0h1m5 0h1m21 0h1m56 0h1m-124 1h1m13 0h1m9 0h1m4 0h1m1 0h2m6 0h1m4 0h1m5 0h1m4 0h1m4 0h1m-54 1h1m14 0h2m6 0h1m4 0h1m19 0h1m10 0h1m-64 1h1m2 0h1m1 0h1m14 0h1m2 0h1m9 0h2m15 0h1m5 0h1m5 0h1m1 0h1m-45 1h1m2 0h1m11 0h1m2 0h2m2 0h1m6 0h2m-45 1h1m8 0h1m9 0h1m8 0h1m15 0h1m26 0h1m-87 1h1m5 0h1m4 0h1m28 0h1m10 0h1m2 0h1m6 0h1m23 0h1m-86 1h1m2 0h1m1 0h1m14 0h1m15 0h1m6 0h1m18 0h1m4 0h2m6 0h1m38 0h1m4 0h1m-119 1h2m15 0h1m3 0h1m35 0h1m2 0h1m50 0h1m7 0h2m3 0h1m-118 1h1m14 0h1m2 0h1m32 0h1m65 0h1m-110 1h1m8 0h1m6 0h1m27 0h1m1 0h2m46 0h1m2 0h1m4 0h1m-99 1h1m2 0h1m6 0h1m38 0h1m45 0h1m-118 1h1m22 0h1m6 0h2m54 0h1m-89 1h1m1 0h1m10 0h1m3 0h1m3 0h1m9 0h2m87 0h1m2 0h1m-125 1h1m4 0h2m10 0h1m11 0h1m31 0h1m1 0h1m3 0h1m4 0h1m38 0h1m8 0h2m3 0h1m-122 1h1m5 0h1m7 0h1m48 0h1m4 0h1m42 0h1m-102 1h1m18 0h2m3 0h1m23 0h1m2 0h1m56 0h1m-108 1h1m9 0h1m4 0h1m37 0h1m29 0h1m9 0h1m5 0h1m-103 1h1m6 0h1m17 0h1m39 0h1m32 0h1m10 0h1m-100 1h1m3 0h1m7 0h1m35 0h1m15 0h1m20 0h1m1 0h2m1 0h1m3 0h1m-111 1h2m1 0h1m54 0h1m43 0h1m-117 1h1m12 0h1m4 0h1m5 0h1m11 0h1m2 0h1m4 0h1m22 0h1m5 0h1m51 0h1m-113 1h1m11 0h1m10 0h1m11 0h1m7 0h1m10 0h1m3 0h1m22 0h1m3 0h1m-87 1h1m20 0h1m3 0h1m22 0h1m2 0h1m10 0h2m9 0h1m4 0h1m8 0h1m2 0h1m6 0h1m9 0h1m-101 1h1m11 0h1m16 0h2m12 0h1m5 0h1m8 0h1m14 0h1m15 0h1m5 0h1m5 0h1m-125 1h1m16 0h1m4 0h1m27 0h1m2 0h1m24 0h1m30 0h1m8 0h1m-119 1h2m2 0h1m1 0h1m27 0h1m1 0h1m8 0h1m6 0h1m28 0h1m26 0h1m13 0h1m-124 1h1m9 0h1m51 0h3m3 0h1m7 0h1m6 0h1m3 0h1m1 0h2m4 0h1m17 0h1m-74 1h1m7 0h1m15 0h1m11 0h1m3 0h1m9 0h1m3 0h2m1 0h1m-101 1h1m5 0h1m23 0h1m14 0h1m77 0h1m-121 1h1m5 0h1m5 0h1m13 0h2m7 0h1m49 0h1m3 0h1m-84 1h1m11 0h1m25 0h1m49 0h1m2 0h1m-93 1h1m1 0h1m1 0h1m72 0h1m5 0h1m17 0h1m1 0h1m-118 1h1m7 0h1m5 0h1m1 0h2m9 0h1m9 0h1m54 0h1m2 0h1m27 0h1m-116 1h1m3 0h2m1 0h1m7 0h1m66 0h1m2 0h2m-95 1h1m7 0h1m2 0h1m3 0h1m3 0h1m74 0h2m6 0h1m1 0h1m13 0h1m-118 1h1m1 0h1m2 0h1m3 0h1m3 0h1m9 0h1m4 0h1m26 0h1m34 0h1m6 0h1m11 0h1m10 0h1m-102 1h1m4 0h1m6 0h1m73 0h1m-102 1h1m7 0h1m15 0h1m1 0h1m-28 1h1m7 0h1m4 0h1m1 0h2m10 0h2m64 0h1m16 0h2m-107 1h1m1 0h1m17 0h1m3 0h1m17 0h1m1 0h1m46 0h1m5 0h1m-98 1h1m6 0h1m4 0h1m1 0h1m14 0h1m13 0h1m-47 1h1m6 0h2m11 0h1m38 0h1m36 0h1m3 0h1m-95 1h1m3 0h1m1 0h1m29 0h1m5 0h1m4 0h1m3 0h1m-58 1h1m10 0h1m3 0h2m4 0h2m8 0h1m1 0h1m11 0h2m4 0h1m10 0h1m-61 1h1m5 0h1m6 0h1m1 0h2m20 0h1m20 0h2m13 0h1m-75 1h1m8 0h1m2 0h1m2 0h1m1 0h1m3 0h1m4 0h1m3 0h2m10 0h1m24 0h1m14 0h1m-81 1h1m15 0h1m5 0h1m4 0h1m39 0h1m2 0h1m3 0h1m-73 1h1m18 0h1m7 0h1m12 0h3m-41 1h1m1 0h1m3 0h1m7 0h1m5 0h1m6 0h1m5 0h1m-42 1h1m10 0h2m12 0h1m9 0h2m5 0h1m-41 1h1m8 0h1m9 0h1m3 0h1m6 0h1m6 0h1m5 0h1m-25 1h1m4 0h1m2 0h1m4 0h1m1 0h1m-28 1h2m9 0h1m10 0h1m-16 1h1m19 0h1m-20 1h1"/>
<path stroke="#433d84" d="M165 3.5h1m-9 1h1m7 0h1m14 0h1m2 0h1m-16 2h1m-15 1h1m15 0h1m-17 1h1m5 0h1m19 0h1m2 1h1m-35 1h1m11 0h1m4 0h1m11 0h1m2 0h1m-33 1h1m13 0h1m2 0h3m6 0h1m-12 1h1m17 0h1m-30 1h1m15 0h1m14 0h1m-26 1h1m3 0h1m7 0h1m-16 1h1m1 0h1m2 0h1m8 0h1m-31 1h1m32 0h1m3 0h1m8 0h1m-53 1h2m14 0h1m16 0h1m18 0h1m-42 1h2m20 0h1m6 0h1m2 0h1m-46 1h1m2 0h1m25 0h1m7 0h2m13 0h1m-16 2h1m1 0h1m1 0h1m-38 1h1m10 0h1m2 0h1m7 0h1m9 0h1m13 0h1m-34 1h1m11 0h1m11 0h1m13 0h1m1 0h2m-29 1h1m23 0h1m-31 1h1m4 0h1m17 0h1m-48 1h1m27 0h1m24 0h1m-15 1h1m15 0h1m1 0h2m-37 1h1m25 0h2m2 0h1m7 0h1m-65 1h1m24 0h1m13 0h4m15 0h1m-59 1h1m16 0h1m19 0h1m13 0h1m6 0h1m-59 1h1m8 0h2m21 0h1m9 0h1m17 0h1m3 0h1m-62 1h1m3 0h1m33 0h1m19 0h1m-70 1h1m1 0h1m10 0h1m19 0h1m14 0h1m17 0h1m1 0h1m-70 1h1m8 0h1m3 0h1m14 0h1m4 0h1m29 0h3m-65 1h1m29 0h1m15 0h1m15 0h1m8 0h1m-52 1h1m31 0h1m-53 1h1m31 0h1m10 0h1m1 0h1m15 0h1m-128 1h1m119 0h1m14 0h1m-29 1h1m22 0h1m6 0h1m-108 1h1m75 0h1m27 0h1m1 0h1m-98 1h1m22 0h1m6 0h1m66 0h1m-141 1h1m1 0h1m34 0h1m57 0h1m-98 1h1m41 0h2m3 0h1m2 0h1m83 0h1m-90 1h1m-4 1h1m1 0h1m3 0h1m1 0h1m82 0h1m-134 1h1m4 0h1m45 0h1m87 0h1m-108 1h1m-30 1h1m39 0h1m56 0h1m-101 1h1m89 0h1m-84 1h1m-4 1h1m1 0h1m22 0h2m4 0h1m2 0h1m8 0h1m7 0h1m45 0h1m-101 1h1m3 0h1m-1 1h1m21 0h1m9 0h1m3 0h1m7 0h1m-23 1h1m3 0h1m5 0h1m8 0h1m16 0h1m-63 1h1m5 0h1m18 0h1m1 0h1m6 0h1m-35 1h1m32 0h1m3 0h1m2 0h1m3 0h1m-44 1h1m3 0h1m9 0h1m11 0h1m7 0h1m-11 1h1m1 0h1m4 0h1m14 0h2m-23 1h1m5 0h1m15 0h1m-32 1h1m7 0h1m-26 1h1m15 0h1m2 0h1m2 0h1m-11 1h1m23 0h1m2 0h1m103 0h1m-143 1h1m3 0h1m3 0h1m15 0h1m2 0h1m16 0h1m25 0h1m-58 1h1m12 0h1m1 0h1m1 0h1m1 0h1m4 0h1m1 0h1m96 0h1m7 0h1m-111 1h1m4 0h1m-43 1h1m1 0h1m4 0h1m5 0h2m125 0h2m-138 1h1m26 0h2m104 0h1m5 0h1m2 0h1m-142 1h1m2 0h1m17 0h1m4 0h1m4 0h1m-31 1h1m3 0h1m6 0h1m14 0h1m109 0h1m2 0h1m2 0h1m-143 1h1m144 1h1m-149 1h1m4 0h1m-3 1h1m1 0h1m20 0h1m107 0h1m6 0h1m1 0h1m-132 1h1m14 0h1m1 0h1m8 0h1m97 0h2m5 0h1m-133 1h1m17 0h1m4 0h1m2 0h1m16 0h1m87 0h1m-86 1h1m80 0h1m-101 1h2m2 0h1m93 0h1m1 0h1m-130 1h1m8 0h1m18 0h1m97 0h1m5 0h1m-12 1h1m11 0h1m-10 1h1m2 0h1m-78 1h1m33 0h1m-69 1h1m10 0h1m-51 1h1m5 0h1m46 0h1m94 0h1m-6 1h1m3 0h1m-97 1h1m9 0h1m-56 1h1m68 0h1m-72 1h2m41 0h1m5 0h1m1 0h3m1 0h1m3 0h1m3 0h1m69 0h1m-83 1h1m-15 1h1m15 0h1m1 0h1m2 0h1m-24 1h1m11 0h1m7 0h1m8 0h1m-60 1h1m2 0h1m46 0h3m1 0h1m80 0h1m-121 1h2m1 0h1m27 0h1m8 0h1m1 0h1m-44 1h1m3 0h1m44 0h1m-47 1h1m20 0h1m1 0h1m3 0h1m18 0h1m5 0h1m-33 1h1m5 0h1m16 0h1m73 0h1m-122 1h1m22 0h1m13 0h1m20 0h1m-68 1h1m7 0h1m1 0h1m24 0h1m8 0h1m6 0h1m10 0h1m2 0h1m4 0h1m-53 1h1m26 0h1m6 0h1m-53 1h1m23 0h2m1 0h1m7 0h1m13 0h1m4 0h1m5 0h1m66 0h2m-101 1h1m1 0h1m16 0h1m5 0h1m-33 1h2m11 0h1m1 0h1m10 0h1m15 0h1m7 0h2m48 0h1m3 0h1m-128 1h1m2 0h1m4 0h2m2 0h2m3 0h1m2 0h2m7 0h1m38 0h1m6 0h1m13 0h1m-69 1h1m4 0h1m22 0h1m9 0h1m1 0h1m3 0h1m38 0h1m-101 1h1m9 0h2m3 0h1m6 0h1m5 0h1m11 0h1m11 0h1m6 0h1m7 0h1m49 0h1m-87 1h1m2 0h1m10 0h1m19 0h1m51 0h1m-89 1h1m4 0h1m15 0h2m5 0h1m6 0h1m3 0h1m47 0h1m-123 1h1m2 0h1m20 0h1m1 0h1m1 0h2m32 0h1m11 0h1m20 0h1m22 0h1m-118 1h1m12 0h1m10 0h1m1 0h1m5 0h1m4 0h1m4 0h2m26 0h1m2 0h1m38 0h1m11 0h2m-126 1h1m18 0h1m2 0h1m43 0h1m4 0h1m38 0h1m10 0h1m-118 1h2m23 0h2m6 0h1m3 0h1m19 0h1m1 0h1m42 0h3m14 0h1m-95 1h1m3 0h1m3 0h1m34 0h1m-62 1h1m10 0h1m-15 1h1m3 0h1m1 0h1m14 0h1m2 0h1m6 0h1m33 0h1m6 0h1m2 0h1m-69 1h1m58 0h1m5 0h1m10 0h1m-59 1h1m1 0h1m46 0h1m14 0h2m10 0h1m1 0h1m-68 1h1m4 0h1m15 0h1m8 0h1m38 0h1m-87 1h1m2 0h1m29 0h1m2 0h1m3 0h1m31 0h1m-104 1h1m36 0h1m13 0h1m15 0h1m3 0h1m8 0h1m1 0h2m-93 1h1m8 0h1m63 0h2m7 0h1m16 0h1m25 0h1m-126 1h2m8 0h1m35 0h2m34 0h1m10 0h1m9 0h3m-112 1h1m31 0h1m9 0h1m12 0h1m10 0h1m4 0h1m3 0h1m30 0h1m-102 1h1m9 0h1m25 0h1m10 0h1m7 0h1m17 0h1m5 0h1m4 0h1m-87 1h1m1 0h1m1 0h1m35 0h1m16 0h1m27 0h1m31 0h1m3 0h1m-117 1h2m5 0h1m65 0h1m18 0h1m10 0h1m6 0h1m-113 1h1m66 0h1m11 0h1m25 0h1m-106 1h1m1 0h1m80 0h1m-68 1h1m40 0h1m-65 1h2m5 0h1m1 0h1m79 0h1m8 0h1m6 0h1m-107 1h1m3 0h1m8 0h1m20 0h1m-35 1h2m2 0h1m10 0h1m70 0h1m22 0h1m1 0h1m6 0h1m-103 1h1m11 0h1m69 0h1m5 0h1m10 0h1m-107 1h1m95 0h1m-98 1h1m93 0h1m8 0h1m-110 1h1m21 0h1m1 0h1m-15 1h1m10 0h1m1 0h1m6 0h1m-32 1h1m55 0h1m43 0h1m-75 1h1m25 0h1m2 0h1m-52 1h1m1 0h2m1 0h1m43 0h1m-27 1h1m37 0h1m-45 1h1m1 0h1m8 0h2m1 0h1m13 0h1m4 0h1m10 0h1m-62 1h1m8 0h2m23 0h1m20 0h1m-54 1h1m2 0h1m3 0h1m4 0h1m18 0h2m2 0h1m25 0h1m10 0h1m3 0h1m-67 1h1m11 0h1m1 0h1m4 0h1m51 0h1m-85 1h2m1 0h1m3 0h1m7 0h1m8 0h1m17 0h1m13 0h1m-57 1h1m24 0h1m9 0h1m3 0h1m3 0h1m-39 1h1m7 0h1m6 0h1m1 0h1m2 0h1m1 0h1m-22 1h1m5 0h1m10 0h1m6 0h1m-21 1h1m2 0h1m23 0h1m-23 1h1m-2 1h1m1 0h1m-7 1h2m2 0h1m2 0h1m-2 1h1m1 0h2"/>
<path stroke="#404588" d="M179 4.5h1m-14 3h1m0 1h1m9 0h1m-16 1h1m12 0h1m3 0h1m-22 2h1m2 0h1m3 0h1m-4 1h2m1 0h2m11 0h1m5 0h1m-26 1h1m4 0h1m5 0h1m8 0h1m-24 1h1m10 1h1m3 1h1m-6 1h1m2 0h1m1 0h1m-39 1h1m22 0h1m18 0h1m4 0h1m-44 1h1m12 0h1m35 0h1m-39 1h1m1 0h1m13 0h1m10 0h1m-37 1h1m5 0h1m8 0h1m15 0h1m11 0h1m-38 1h1m20 0h1m4 0h1m13 1h1m-44 1h1m14 0h1m2 0h1m-30 1h1m2 0h1m12 0h1m-14 1h1m36 0h2m4 0h1m8 0h1m-25 1h1m3 0h1m-38 1h1m3 0h1m2 0h1m41 0h1m7 0h1m4 1h1m-55 1h1m36 0h1m17 0h1m-30 1h1m13 0h1m2 0h1m1 0h1m-16 1h1m8 0h1m-58 1h1m30 0h2m-103 1h1m75 0h2m21 0h1m37 0h1m-40 1h1m-22 1h1m12 0h1m34 0h1m10 0h1m4 0h1m-142 1h1m69 0h1m6 0h1m60 0h1m3 0h1m-142 1h2m111 0h1m19 0h1m-99 1h1m3 0h1m69 0h1m26 0h1m-137 1h1m34 0h1m-38 1h1m108 0h1m23 0h1m6 1h1m-101 1h2m4 0h1m-12 1h1m5 0h1m-10 1h1m16 0h1m1 0h1m-20 1h1m5 0h1m7 0h1m-46 1h1m37 0h2m8 0h1m1 0h1m-16 1h1m1 0h1m-8 1h1m8 0h1m-40 1h1m2 0h2m34 0h1m17 0h1m39 0h1m-65 1h1m4 0h1m5 0h1m2 0h1m-21 1h1m8 0h1m-34 1h1m25 0h2m-29 1h2m91 0h1m-94 1h1m34 0h1m-11 1h1m14 0h1m-40 1h1m21 0h2m7 0h1m13 0h1m44 0h1m6 0h1m-102 1h1m18 0h1m3 0h1m1 0h1m16 0h1m-25 1h1m11 0h1m10 0h1m-31 1h1m16 0h1m9 0h2m-21 1h1m9 0h1m12 0h1m2 0h1m7 0h1m94 0h1m-108 1h1m105 0h1m-4 1h1m-139 1h1m19 0h1m114 0h1m-141 1h1m4 0h1m7 0h1m12 0h1m2 0h1m15 0h1m92 0h1m3 0h1m-127 1h1m5 0h1m22 0h1m98 0h1m-142 1h1m7 0h1m11 0h1m1 0h1m8 0h1m108 0h1m-142 1h1m135 0h1m-133 2h1m31 0h1m16 0h1m79 0h1m1 0h1m10 0h1m-146 1h1m4 0h3m-6 1h1m1 0h1m4 0h1m2 0h1m122 0h1m-128 1h1m-4 1h1m6 0h1m116 0h1m-106 1h1m102 0h1m14 0h1m-131 1h1m15 0h1m108 0h1m3 0h1m-83 1h1m5 2h1m76 0h1m-177 1h1m71 0h1m14 0h1m78 0h1m-69 1h1m70 0h1m-81 1h1m8 0h1m66 0h1m2 0h1m-92 1h1m14 0h1m67 0h1m7 0h1m3 0h1m-106 1h2m23 0h1m-11 1h1m5 0h1m65 0h1m-127 1h2m1 0h1m48 0h1m-57 1h1m3 0h1m33 0h1m25 0h1m76 0h1m-152 1h1m15 0h1m32 0h1m95 0h1m-2 1h1m-128 1h1m53 0h1m72 0h1m-105 1h1m20 0h1m10 0h1m2 0h1m-46 1h1m31 0h1m13 0h1m-39 2h1m20 0h2m12 0h2m3 0h2m64 0h2m-87 1h1m16 0h1m6 0h1m4 0h1m55 0h1m-129 1h1m49 0h1m7 0h2m9 0h1m60 0h1m-124 1h1m14 0h1m15 0h1m16 0h1m4 0h1m-37 1h1m13 0h1m9 0h2m-48 1h1m51 0h1m16 0h1m-57 1h1m10 0h1m7 0h1m20 0h1m72 0h1m-110 1h1m7 0h1m4 0h2m36 0h2m-67 1h1m29 0h1m12 0h1m5 0h1m17 0h1m9 0h1m29 0h2m10 0h1m-103 1h1m22 0h1m1 0h1m1 0h1m5 0h2m16 0h1m51 0h1m-121 1h2m1 0h1m3 0h1m9 0h1m23 0h1m3 0h1m16 0h1m49 0h1m-115 1h1m1 0h1m1 0h1m41 0h1m3 0h1m4 0h1m39 0h1m-98 1h1m23 0h1m2 0h2m8 0h1m16 0h1m1 0h1m21 0h1m33 0h1m4 0h1m-84 1h1m9 0h1m15 0h1m45 0h1m9 0h1m-106 1h1m24 0h1m9 0h1m13 0h1m53 0h1m3 0h1m-117 1h1m8 0h1m45 0h1m14 0h1m31 0h1m-95 1h1m55 0h1m3 0h1m-64 1h2m1 0h1m1 0h1m25 0h1m22 0h1m4 0h3m-57 1h1m45 0h1m1 0h1m6 0h1m50 0h1m-106 1h1m3 0h1m85 0h1m-94 1h1m2 0h1m42 0h1m1 0h1m2 0h1m17 0h1m11 0h2m17 0h1m1 0h1m-95 1h1m1 0h1m7 0h1m4 0h1m3 0h1m3 0h1m13 0h1m24 0h1m26 0h1m-89 1h1m8 0h1m13 0h1m12 0h1m21 0h1m14 0h1m-56 1h1m35 0h1m5 0h1m-86 1h1m3 0h1m10 0h1m22 0h1m33 0h1m16 0h1m1 0h1m-100 1h1m24 0h1m12 0h1m8 0h1m20 0h1m22 0h1m3 0h1m5 0h1m-67 1h1m41 0h1m1 0h1m1 0h1m6 0h1m15 0h1m-106 1h1m7 0h1m51 0h1m4 0h3m21 0h1m25 0h1m-122 1h1m4 0h1m26 0h1m12 0h2m33 0h1m18 0h1m17 0h1m-89 1h1m33 0h1m1 0h1m35 0h1m-21 1h1m4 0h1m2 0h1m-90 1h1m6 0h1m62 0h1m9 0h1m2 0h1m34 0h1m-120 1h2m3 0h1m3 0h1m9 0h1m80 0h1m-95 1h1m81 0h1m6 0h1m-80 1h1m74 0h1m18 0h1m-116 1h1m8 0h1m8 0h1m78 0h1m6 0h1m4 0h1m8 0h1m-110 1h1m103 0h1m3 0h1m4 0h1m-111 1h1m10 0h1m69 0h1m20 0h1m2 0h1m-118 1h1m13 0h1m42 0h1m34 0h1m5 0h1m3 0h1m-101 1h1m12 0h1m16 0h1m86 0h1m-118 1h2m2 0h1m14 0h1m2 0h1m1 0h1m72 0h1m-94 1h1m12 0h2m3 0h1m-14 1h2m13 0h2m7 0h1m-26 1h1m7 0h1m36 0h1m5 0h1m-56 1h1m10 0h1m4 0h1m32 0h2m1 0h1m1 0h2m-52 1h1m2 1h1m3 0h1m2 0h1m14 0h1m13 0h1m-6 1h1m3 0h1m37 0h1m-80 1h1m8 0h1m7 0h1m10 0h1m2 0h1m19 0h1m8 0h1m-54 1h2m34 0h1m19 0h1m-60 1h1m22 0h1m16 0h1m-19 1h1m15 0h1m-7 1h1m-33 1h1m4 0h1m5 0h1m24 0h2m-27 1h1m1 0h1m-7 2h1m6 0h2m-7 1h1m6 0h2m-5 1h1m3 0h1"/>
<path stroke="#3d4d8a" d="M180 3.5h1m0 1h1m-24 1h1m9 0h1m-2 2h1m14 1h1m-20 1h1m2 0h1m2 0h2m3 0h1m5 0h1m1 0h1m-19 1h1m9 0h1m7 0h1m-19 1h1m4 0h1m-3 1h1m17 0h1m-19 1h1m7 0h1m-30 1h1m2 0h1m23 0h1m6 0h1m-32 1h1m10 1h1m6 0h2m10 0h1m-41 1h1m-2 1h1m5 0h1m3 0h1m19 0h1m-29 1h1m-8 1h1m19 0h1m3 0h1m5 0h1m2 0h1m4 0h1m-21 1h1m1 0h1m20 0h1m10 0h1m-45 1h1m28 0h1m4 0h1m-7 1h1m0 1h1m14 0h1m2 0h1m-51 2h1m3 0h1m45 0h1m-55 1h1m1 0h1m20 1h1m-24 1h1m20 0h1m29 0h1m2 0h1m-57 1h1m49 0h2m-59 1h1m45 0h1m2 0h1m-24 1h1m18 0h1m16 0h1m-58 1h1m40 0h1m16 1h1m-70 1h1m25 0h1m21 0h1m-50 1h1m52 0h1m-51 1h1m6 0h1m43 0h1m2 0h1m13 0h2m1 0h1m-73 1h1m24 0h1m13 0h1m7 0h1m16 0h1m1 0h1m-136 1h1m38 0h1m34 0h1m3 0h1m30 0h1m4 0h1m-118 1h1m42 0h1m53 0h1m2 0h1m5 0h4m26 0h1m-98 1h1m2 0h1m61 1h1m31 0h1m1 0h1m-37 1h1m-35 1h1m30 0h1m36 0h2m-99 1h1m5 0h2m90 0h1m-136 1h1m47 0h1m53 0h1m28 0h1m-96 1h1m3 0h1m-37 1h1m26 0h1m10 0h1m52 0h1m-97 1h1m45 0h1m56 1h1m-97 1h1m23 0h2m15 0h1m-46 1h1m21 0h2m19 0h1m48 0h1m-61 1h1m2 0h2m4 0h1m-21 1h1m2 0h1m3 0h1m15 0h1m-45 1h1m38 0h3m3 0h1m-48 1h1m32 0h1m6 0h1m-21 1h2m8 0h1m-32 1h1m7 0h1m29 0h1m5 0h2m3 0h1m-51 1h1m4 0h1m18 0h1m9 0h1m8 0h1m9 0h1m-19 1h1m9 0h1m59 0h1m-76 1h1m9 0h1m-12 1h1m6 0h1m-28 1h1m2 0h1m1 0h1m122 0h1m-100 1h1m108 0h1m-126 1h1m10 0h1m8 0h1m1 0h1m102 0h1m-117 1h1m-5 1h1m9 0h1m103 0h1m-137 1h1m3 0h1m1 0h1m4 0h1m15 0h1m4 0h1m3 0h2m103 0h1m-12 1h1m-128 1h1m3 0h1m101 0h1m24 0h1m3 0h1m-143 1h1m11 0h1m1 0h1m23 1h1m-38 1h1m7 0h2m123 0h1m-80 1h1m8 0h1m-31 1h1m1 0h1m32 0h1m-58 1h1m59 0h1m-49 1h1m3 0h1m43 1h1m59 1h1m4 0h2m-119 1h1m22 0h1m9 0h1m11 1h1m59 0h1m-86 1h2m19 0h1m-21 1h1m94 0h1m-94 1h1m2 0h1m25 0h1m50 0h1m12 0h1m-106 1h1m9 0h1m8 0h1m-60 1h1m40 0h1m6 0h1m-41 1h1m4 0h1m46 0h1m9 0h1m65 0h1m1 0h2m2 0h1m-137 1h1m38 0h1m2 0h1m1 0h1m89 0h1m-134 2h1m17 0h1m28 0h1m3 0h1m-53 1h1m39 0h1m4 0h1m9 0h1m-67 1h2m9 0h1m49 0h1m10 0h1m-46 1h1m32 0h1m1 0h1m3 0h2m1 0h1m-45 1h1m27 0h1m14 0h1m5 0h1m64 0h1m-125 1h1m10 0h1m13 0h1m14 0h1m1 0h1m21 0h1m-54 1h1m40 0h1m-45 1h1m17 0h1m19 0h1m7 0h1m67 0h1m-113 1h1m4 0h1m16 0h1m7 0h1m9 0h1m11 0h1m63 0h2m-95 1h1m34 0h1m-30 1h1m34 0h1m8 0h1m-43 1h1m2 0h1m7 0h1m5 0h1m7 0h1m44 0h1m-96 1h1m6 0h1m7 0h1m5 0h1m-35 1h1m5 0h1m20 0h1m3 0h1m9 0h1m25 0h1m16 0h1m34 0h1m-118 1h1m2 0h1m37 0h1m15 0h2m2 0h1m2 0h1m1 0h1m-42 1h1m12 0h1m23 0h1m33 0h1m8 0h1m-57 1h1m8 0h1m44 0h2m-85 1h1m13 0h1m68 0h1m11 0h1m-110 1h1m1 0h1m17 0h1m21 1h1m11 0h1m2 0h1m1 0h1m38 0h2m2 0h1m4 0h1m-123 1h1m18 0h2m23 0h1m23 0h1m-51 1h1m16 0h1m17 0h1m4 0h1m15 0h1m-66 1h1m4 0h1m20 0h1m23 0h1m5 0h1m54 0h1m-61 1h1m8 0h1m6 0h1m2 0h1m14 0h1m14 0h1m-73 1h1m17 0h1m6 0h1m22 0h1m10 0h1m-38 1h2m5 0h1m8 0h1m13 0h1m1 0h1m4 0h1m15 0h1m-76 1h1m40 0h1m20 0h1m-67 1h1m3 0h1m3 0h1m27 0h1m-66 1h1m19 0h1m1 0h1m4 0h1m6 0h1m19 0h1m1 0h1m-78 1h1m45 0h1m7 0h1m21 0h1m2 0h1m15 0h2m11 0h1m-107 1h1m5 0h1m23 0h1m22 0h1m-30 1h1m4 0h1m4 0h1m1 0h1m4 0h2m21 0h2m28 0h1m13 0h1m-111 1h1m107 0h2m-112 1h1m-1 1h1m2 0h1m58 0h1m26 0h1m-43 1h1m40 0h1m6 0h1m3 0h1m-8 1h1m2 0h1m-86 1h1m86 0h1m-12 1h1m2 0h1m11 0h1m10 0h1m-117 1h1m3 0h1m93 0h1m2 0h1m8 0h1m8 0h1m-115 1h1m20 0h1m62 0h1m19 0h1m-109 1h1m92 0h1m20 0h1m-116 1h1m1 0h1m1 0h1m10 0h1m-3 1h1m9 0h1m92 0h1m0 1h1m-103 1h1m4 0h1m9 0h1m2 0h1m-18 1h1m90 0h1m-93 1h1m16 1h1m4 0h1m68 0h1m-99 1h1m44 0h1m-46 1h1m44 0h1m13 0h1m2 0h1m-58 1h2m14 0h2m18 0h1m-33 1h3m2 0h1m23 0h1m20 0h1m-48 1h1m1 0h1m22 0h1m25 0h1m-49 1h1m5 0h1m6 0h2m6 0h1m-40 1h1m12 0h1m5 0h1m3 0h1m7 0h1m-16 1h2m-3 1h1m5 0h1m4 0h1m11 0h1m-19 2h1m-2 2h1"/>
<path stroke="#3a538b" d="M180 7.5h1m-9 1h1m5 0h1m-2 1h1m-15 1h1m6 0h1m2 1h1m-6 1h1m-11 2h1m-13 1h1m0 1h2m33 1h1m-45 2h1m27 0h1m-35 1h1m9 0h1m19 0h1m-23 1h1m2 0h1m5 0h1m13 0h1m-20 1h1m38 0h1m-48 1h1m18 0h1m6 0h1m-28 1h1m1 0h1m10 0h1m14 0h1m-27 1h1m-5 2h1m3 0h1m15 0h1m2 0h1m23 0h1m-25 1h1m-25 1h1m19 1h1m28 0h1m-32 1h2m-16 1h1m1 0h1m29 0h1m2 0h1m3 0h1m7 0h1m1 0h1m-45 1h1m20 0h1m22 0h1m-21 1h1m7 0h1m17 0h1m-55 1h1m2 0h1m44 0h1m-41 1h1m1 0h1m20 0h1m13 0h1m-43 1h1m5 0h1m17 0h1m20 0h1m-53 1h1m58 0h1m-105 1h1m64 0h1m15 0h1m-117 1h1m91 1h1m12 0h1m27 0h1m-106 1h1m36 0h1m-4 1h1m-68 1h1m3 0h1m39 0h1m7 0h1m44 0h1m36 0h1m-82 1h1m42 0h1m-64 1h1m3 0h1m54 0h1m4 0h1m23 0h1m-79 1h1m51 0h1m1 0h1m34 0h1m-128 1h1m3 0h1m25 0h1m10 0h1m3 0h1m-41 1h1m33 0h1m15 0h1m30 0h1m10 0h1m-7 1h1m2 0h1m-50 1h1m44 0h1m-56 1h1m54 0h1m-89 1h1m17 0h1m18 0h1m-44 1h1m41 0h1m6 0h1m46 0h2m-75 1h1m4 0h1m4 0h1m4 0h1m10 0h1m-48 1h1m2 0h1m23 0h1m18 0h1m-41 1h1m34 0h1m2 0h1m-16 1h1m-7 1h1m17 0h1m1 0h3m105 0h1m-121 1h1m-10 1h1m6 0h1m6 1h1m7 0h1m-15 1h1m3 0h1m7 0h1m-41 1h1m3 0h1m19 0h1m12 0h1m4 0h1m-41 1h1m20 0h1m3 0h1m-25 1h1m13 0h1m4 0h2m98 0h1m-121 1h1m2 0h1m28 0h1m8 0h1m81 0h1m-130 1h1m4 0h1m3 0h1m2 0h1m-1 1h1m23 0h2m9 0h1m-45 1h1m4 0h2m26 0h1m109 0h1m-140 3h1m25 0h1m4 1h1m7 0h1m25 0h1m-50 1h1m10 1h1m-9 2h2m110 0h1m-87 1h1m-15 2h1m98 0h1m-162 1h1m72 0h1m1 0h1m76 0h1m12 0h1m-111 1h1m5 0h1m9 0h1m-8 1h1m86 0h1m-3 1h1m-134 1h1m40 0h1m8 0h2m79 0h1m7 0h1m-131 1h1m38 1h1m3 0h1m6 0h1m-11 1h1m12 0h1m-41 1h1m43 0h1m-46 1h1m31 0h1m84 0h1m-124 1h1m36 0h1m9 0h1m5 0h1m-65 1h1m41 0h1m6 0h1m14 0h1m-49 1h1m20 0h1m3 0h1m17 0h1m-40 1h1m21 0h1m12 0h1m17 0h1m5 0h1m49 0h1m2 0h1m-146 1h1m16 0h1m6 0h1m54 0h2m63 0h1m-78 1h1m13 0h1m6 0h1m-66 2h1m3 0h1m28 0h1m10 0h1m-33 1h1m16 0h1m15 0h1m14 0h1m-66 1h1m63 0h1m20 0h1m-41 1h1m2 0h1m8 0h1m11 0h1m-71 1h1m2 0h1m4 0h1m27 0h1m27 0h1m8 0h1m-59 1h1m11 0h1m5 0h1m1 0h2m15 0h1m3 0h1m1 0h1m16 0h1m33 0h2m-108 1h1m15 0h2m2 0h1m92 0h1m4 0h1m-107 1h1m17 0h2m12 0h1m1 0h1m25 0h1m1 0h1m-59 1h1m15 0h1m5 0h1m68 0h1m9 0h1m-84 1h1m14 0h1m1 0h1m50 0h2m4 0h1m-75 1h1m1 0h2m2 0h1m9 0h1m1 0h1m5 0h1m11 0h1m-37 1h1m34 0h1m43 0h1m-106 1h1m29 0h1m30 0h1m10 0h1m19 0h1m-68 1h1m67 0h1m2 0h1m-83 1h1m1 0h1m25 0h2m1 0h1m12 0h1m11 0h1m25 0h1m-80 1h1m4 0h1m1 0h1m30 0h1m39 0h1m-97 1h1m8 0h1m7 0h1m3 0h1m28 0h1m-51 1h1m21 0h1m19 0h1m13 0h1m1 0h1m3 0h1m12 0h1m-47 1h1m37 0h1m6 0h1m17 0h2m-78 1h1m22 0h1m1 0h2m21 0h1m-81 1h1m3 0h2m32 0h1m13 0h1m13 0h1m11 0h2m-88 1h1m32 0h1m8 0h1m11 0h1m13 0h1m3 0h1m9 0h2m9 0h1m1 0h1m-102 1h2m4 0h1m17 0h1m20 0h1m29 0h1m11 0h2m12 0h1m7 0h1m-59 1h1m31 0h1m2 0h1m-7 1h2m11 0h1m26 0h1m-119 1h1m104 0h2m-102 1h1m90 0h1m6 0h1m-101 1h1m79 0h1m6 1h1m-91 1h1m-6 1h1m87 0h1m15 0h1m-16 1h1m14 0h1m-105 1h1m-3 1h1m25 0h1m75 0h1m10 0h1m-112 1h1m9 2h1m3 0h1m8 0h1m-14 1h2m4 0h1m9 0h1m26 0h1m-51 2h1m6 1h1m-8 1h1m4 0h1m28 0h1m9 0h1m-25 1h1m43 0h1m-58 1h1m16 1h1m8 0h1m28 0h1m-44 1h1m-6 1h1m1 0h1m7 0h1m3 1h1m2 0h1m8 0h1m-30 2h1m4 0h1m16 0h1m-17 1h1"/>
<path stroke="#375b8d" d="M159 12.5h1m10 0h1m-4 2h2m13 0h1m-14 1h1m-28 1h1m3 0h1m2 0h1m-12 1h1m26 0h1m-27 1h1m17 0h1m13 0h1m-9 1h1m-16 2h1m0 1h1m23 0h2m-31 2h2m3 0h1m-14 1h1m1 0h1m7 0h1m-12 2h1m-1 1h1m-7 1h1m57 0h1m2 0h1m-56 1h2m4 0h1m43 0h1m1 0h1m3 0h1m-65 1h1m55 0h1m-36 2h1m42 0h1m-53 2h1m7 2h2m21 0h1m-3 1h1m-82 1h1m52 0h1m41 0h1m-134 1h1m37 0h1m58 0h1m5 0h1m-69 1h1m3 0h1m53 0h1m3 0h1m9 0h1m-65 1h1m23 0h1m29 1h2m-51 1h1m-50 1h1m2 0h1m31 0h1m32 0h1m25 0h1m40 0h1m-135 1h1m34 0h1m-34 1h1m30 0h1m58 0h1m-49 1h1m8 0h1m-19 1h2m3 0h1m56 0h1m-66 1h1m7 0h1m50 0h1m1 0h1m-54 1h1m10 0h1m40 0h1m-56 1h1m2 0h1m6 0h1m-48 1h1m44 0h1m3 0h1m5 0h1m4 0h1m-60 1h1m21 0h1m14 0h1m6 1h1m-16 1h1m7 0h1m58 0h1m-96 1h1m26 0h2m65 0h1m-69 1h1m-10 1h1m19 1h1m1 0h1m4 0h1m-21 1h1m21 0h1m-15 1h1m10 0h1m-44 1h1m28 0h1m9 0h1m-10 1h1m3 0h1m-1 1h1m104 0h1m-139 1h1m42 0h1m90 0h1m-128 1h1m29 0h1m-40 2h1m37 0h1m-17 1h1m42 0h1m-28 1h1m-30 1h1m120 0h1m-91 1h1m95 2h1m-115 1h1m23 0h1m84 0h1m9 0h1m-83 1h2m59 0h1m20 0h1m-85 1h1m1 0h1m69 0h1m14 0h1m-79 1h1m-31 1h1m90 0h1m4 0h1m-91 1h1m9 0h1m79 0h1m-98 1h1m6 0h1m7 1h1m1 0h1m71 0h1m-78 1h1m2 0h1m-18 1h1m-52 1h1m46 0h1m13 0h1m1 0h1m77 0h1m-80 1h1m3 0h1m78 0h1m-96 1h1m20 0h1m16 0h1m-25 1h1m4 0h1m3 0h1m6 0h1m62 0h1m2 0h1m-119 1h1m114 1h1m5 0h1m-134 1h1m50 0h1m5 0h1m72 0h1m-132 1h2m44 0h1m6 0h1m-48 1h1m33 0h1m87 0h1m3 0h1m-73 1h1m1 0h1m-50 1h1m31 0h1m27 0h1m-58 1h1m25 0h1m12 0h1m12 0h1m-23 1h1m1 0h1m3 0h1m17 0h1m-29 1h1m2 0h1m27 0h2m-66 1h1m8 0h1m20 0h1m4 0h1m7 0h1m71 0h1m-106 1h1m2 0h1m20 0h1m1 0h1m69 0h1m10 0h1m-73 1h1m36 0h1m32 0h1m-107 1h1m17 0h1m47 0h1m24 0h1m5 0h1m-92 1h1m25 0h1m6 0h1m20 0h1m11 0h1m-71 1h1m3 0h1m1 0h1m10 0h1m28 0h1m4 0h1m-29 1h1m6 0h1m1 0h1m25 0h1m42 0h1m-107 1h1m2 0h1m1 0h1m78 0h1m9 0h1m14 0h1m-81 1h1m16 0h1m47 0h1m-110 1h1m15 0h1m-8 1h1m31 0h1m9 0h1m6 0h1m2 0h1m38 0h1m16 0h1m-54 1h1m42 0h3m7 0h1m-107 1h1m28 0h1m18 0h1m10 0h1m36 0h2m-95 1h1m5 0h1m14 0h1m25 0h1m19 0h1m-42 1h1m2 0h1m38 0h1m5 0h1m-25 1h1m34 0h1m4 0h1m-70 1h1m16 0h1m18 0h1m16 0h1m15 0h1m-50 1h1m2 0h1m17 0h1m-87 1h1m42 0h1m1 0h1m3 0h1m10 0h1m4 0h1m2 0h1m14 0h1m37 0h1m-85 1h1m11 0h1m10 0h1m1 0h1m20 0h1m-92 1h1m37 0h1m1 0h1m32 0h1m45 0h1m-74 1h1m45 0h1m-95 1h1m96 0h1m4 0h1m5 0h1m-48 1h1m25 0h1m15 0h1m-19 1h1m15 0h3m-101 1h1m79 0h1m-80 1h1m-4 1h1m6 0h1m87 1h1m14 0h1m-19 1h1m18 0h1m-103 2h1m76 0h1m-87 2h1m18 0h1m-19 1h1m1 0h1m3 0h1m-2 1h1m43 0h1m-51 1h2m13 1h1m86 0h1m-83 1h1m-20 1h1m11 0h1m20 0h1m-15 1h1m4 0h1m-6 1h1m42 0h1m-64 1h1m14 0h1m15 0h1m-16 1h1m14 0h1m-29 1h1m-2 1h1m3 0h1m12 1h1m-8 1h1m1 0h1m3 0h1m10 0h1m1 1h2m9 0h1m-23 3h1"/>
<path stroke="#34618d" d="M161 8.5h2m-6 1h1m4 1h1m17 1h1m-31 1h1m18 0h1m4 0h1m-9 1h1m-33 5h1m29 0h1m5 0h1m-32 1h1m-3 1h1m8 0h1m2 0h1m15 0h1m-30 1h1m10 0h1m-11 1h1m2 0h1m1 0h1m12 0h1m-10 1h1m-11 1h1m9 0h1m-8 1h1m1 1h1m12 0h1m-24 1h1m23 0h1m-22 1h1m2 0h1m29 0h1m-16 1h1m9 0h1m-30 1h1m4 0h1m3 0h1m24 0h1m-34 1h1m1 0h1m5 0h1m48 0h1m-58 1h1m-3 1h1m36 0h1m2 0h1m19 0h1m-25 1h1m1 0h1m0 1h1m17 0h1m-42 1h1m1 0h1m22 0h1m14 0h1m-48 1h1m3 0h1m23 0h1m3 0h1m-56 1h1m23 0h1m3 0h1m5 0h1m18 0h1m10 0h1m7 0h1m-73 2h2m7 0h1m-75 1h1m-6 1h1m37 0h1m7 0h1m20 0h1m16 0h1m17 0h2m30 0h1m2 1h1m-137 1h1m37 0h2m1 0h2m4 0h1m84 0h1m-133 1h1m2 0h1m32 0h1m9 0h1m6 0h1m43 0h1m5 0h1m-53 1h1m45 0h1m4 0h1m-104 1h1m35 0h1m51 0h1m-37 1h1m39 0h1m3 0h1m2 0h1m-98 1h1m43 0h1m-9 1h1m7 0h2m2 0h1m2 1h1m40 0h1m-53 1h1m50 0h1m3 0h1m-34 1h1m-24 1h1m-18 3h2m8 0h1m10 0h1m2 0h1m-18 1h1m68 0h1m-69 2h1m2 1h1m14 0h1m-1 1h1m-13 1h2m-2 2h3m2 0h1m-4 1h1m7 0h2m64 0h1m21 0h1m-120 1h1m22 0h1m2 0h1m96 0h1m-133 1h1m132 0h1m-139 1h1m24 0h1m27 0h1m79 2h1m2 0h1m-131 1h1m47 0h1m5 1h1m75 0h1m-102 1h1m13 0h1m4 0h2m76 0h1m-96 1h1m12 2h1m18 0h1m-30 1h1m1 0h1m1 0h1m16 1h1m-28 1h1m29 1h1m2 0h1m56 0h1m2 0h1m-80 1h1m8 0h1m15 0h1m-9 1h1m65 0h1m-3 1h1m-92 1h1m2 0h1m29 0h1m-34 1h1m6 0h1m0 1h1m3 0h2m77 0h1m-84 1h1m1 0h1m8 0h1m1 0h1m5 0h1m-17 1h1m-10 1h1m16 0h1m69 0h1m-76 1h1m74 0h1m-104 1h1m35 0h1m-48 1h1m31 0h1m15 0h1m64 0h1m-88 1h1m11 0h1m-20 1h1m5 0h1m26 0h1m5 0h1m-34 1h1m32 0h1m51 0h1m-125 1h1m2 0h1m27 0h1m96 0h1m-130 1h1m7 0h1m25 0h2m-33 1h1m12 0h1m19 0h1m29 0h1m-28 1h1m1 0h1m7 0h1m74 0h1m-87 1h1m37 0h1m11 0h1m-17 1h1m-36 1h1m12 0h1m14 0h1m9 0h1m1 0h1m-34 1h1m6 0h1m10 0h1m49 0h1m4 0h2m3 0h1m-110 1h2m30 0h1m7 0h1m2 0h1m8 0h1m43 0h1m-89 1h1m16 0h1m32 0h1m48 0h1m-62 1h1m11 0h1m15 0h1m-33 1h1m13 0h1m40 0h1m-76 1h1m2 0h1m22 1h1m-22 1h1m61 0h1m1 0h1m-72 1h1m6 0h1m29 0h1m2 0h1m42 0h1m-87 1h1m24 0h1m22 0h1m-53 1h1m9 0h1m2 0h1m2 0h2m4 0h1m8 0h1m38 0h1m12 0h1m-87 1h2m15 0h1m25 0h1m4 0h1m5 0h1m-49 1h1m8 0h1m14 0h1m-43 1h1m71 0h1m-62 1h1m11 0h1m23 0h1m40 0h1m2 0h1m-120 1h1m1 0h1m10 0h1m22 0h1m47 0h2m1 0h1m-92 1h1m46 0h1m30 0h1m14 0h1m5 0h1m-6 1h1m4 0h1m1 0h1m5 0h1m-94 2h1m46 0h1m23 0h1m10 0h1m6 0h1m3 0h1m1 0h1m-14 2h1m12 0h1m-18 1h1m10 0h1m4 0h1m-106 1h1m94 0h1m-104 1h1m4 1h1m98 0h1m-78 2h1m76 0h1m-91 1h1m11 0h1m89 0h1m1 0h1m-2 1h1m-109 1h1m5 0h1m-4 1h1m11 0h1m90 0h1m-92 1h1m-11 2h1m37 0h1m-39 1h1m0 1h1m-4 1h1m15 0h1m-3 1h1m23 0h1m20 0h1m-60 1h1m10 0h1m24 0h1m-32 1h1m1 1h1m17 0h1m-21 1h1m29 0h1m-2 2h1m-28 1h1m1 2h1"/>
<path stroke="#31688e" d="M181 8.5h1m1 0h1m-36 5h1m31 0h1m-33 2h1m21 2h1m-23 2h1m-11 1h1m35 0h1m-10 2h1m-15 1h1m23 0h1m-35 2h1m-7 1h2m17 1h1m36 1h1m-36 1h1m9 1h1m-19 1h1m27 0h1m3 1h1m-17 1h1m5 0h1m12 0h1m3 0h1m-48 1h1m8 0h1m-12 1h1m36 0h1m-48 1h1m7 0h1m38 0h1m-123 1h1m128 0h1m-44 1h1m7 0h1m37 0h1m-66 1h2m15 0h1m6 0h1m25 0h1m-10 1h1m1 0h1m-79 1h1m5 0h1m57 0h1m10 0h1m21 0h1m-134 1h1m35 0h1m58 0h1m-95 1h1m36 0h1m9 0h1m19 0h1m65 0h1m-102 1h1m36 0h1m-20 1h1m-4 1h1m16 0h1m28 0h1m-48 1h1m51 0h1m1 0h2m29 0h1m-89 2h1m-14 1h1m24 0h1m39 0h1m2 0h1m-73 1h1m69 0h1m-53 1h1m-15 1h1m-27 1h1m26 0h1m2 1h1m4 0h1m16 0h1m38 0h1m-58 1h1m7 0h1m1 0h1m-44 1h1m-6 1h1m52 0h1m-5 1h1m78 0h1m-106 1h1m7 0h1m14 0h1m2 0h1m71 0h1m-98 1h1m-1 1h1m7 0h1m82 0h1m-88 1h1m16 0h1m-37 2h1m134 0h1m-137 1h1m13 0h1m21 1h1m91 0h1m-125 1h1m-9 1h1m131 0h1m1 0h1m-103 1h1m84 0h1m21 0h1m-84 1h1m-26 1h1m7 0h1m4 1h1m6 0h1m-14 1h1m9 0h1m9 0h1m5 0h1m-55 1h1m31 0h1m24 0h1m63 0h1m-99 1h2m91 0h1m1 0h1m-79 1h2m61 0h1m7 0h1m11 0h1m-13 1h1m-66 1h1m8 0h1m62 0h1m-76 1h1m68 0h1m2 0h1m-10 1h1m-66 1h1m-14 1h2m7 0h1m-25 1h1m18 0h1m1 0h2m3 0h1m-11 1h1m13 0h2m12 0h1m-20 1h1m9 1h1m-18 1h1m11 0h1m4 0h1m-1 2h1m66 0h1m-88 1h1m80 0h1m-62 1h1m60 0h1m-113 1h1m51 1h1m66 0h1m-80 1h1m9 0h1m5 0h1m-68 1h1m3 0h1m35 0h1m9 0h2m2 0h1m8 0h1m-26 1h1m-23 1h1m46 0h1m2 0h1m1 0h1m-33 1h1m4 0h1m21 0h1m-48 1h1m30 0h1m25 1h2m33 0h1m16 0h1m-87 1h2m6 0h1m5 0h1m55 0h1m-106 1h1m45 0h1m66 0h1m-76 1h1m9 0h1m37 0h1m32 0h1m-82 1h1m10 0h1m15 0h1m16 0h1m32 0h1m-16 1h1m-92 1h2m23 0h1m16 0h1m42 0h1m-85 1h1m34 0h1m10 0h1m9 0h2m35 0h1m-73 1h1m5 0h1m3 0h1m74 0h1m-79 1h1m20 1h1m14 0h1m-32 1h1m1 0h1m3 0h2m15 0h1m18 0h1m-54 1h1m55 0h1m-71 1h1m1 0h1m5 0h1m46 0h1m29 0h1m-75 1h1m13 0h1m2 0h1m1 0h1m21 0h1m20 0h1m-72 1h1m11 0h1m27 0h1m14 0h1m1 0h1m14 0h1m-78 1h1m5 0h1m2 0h1m32 0h1m35 0h1m-88 1h1m66 0h1m21 0h1m-80 1h1m25 0h1m3 0h1m1 0h1m15 0h1m4 0h1m-38 1h1m12 0h2m3 0h1m24 0h1m-44 2h1m11 0h1m34 0h2m1 0h1m-47 1h1m25 0h2m5 0h1m-1 1h2m11 1h1m-8 1h2m-99 1h1m15 0h1m64 2h1m14 0h1m8 1h1m-116 1h1m4 0h1m109 0h1m-112 1h1m19 0h1m0 2h1m-18 1h1m25 1h1m20 3h1m-44 2h1m22 0h1m-21 1h1m18 0h1m-7 2h1m7 0h1m11 0h1m-13 1h1m-13 1h1m18 1h1m-31 1h1m7 0h1"/>
<path stroke="#2e6e8e" d="M170 8.5h1m10 1h1m-17 1h1m5 1h1m-21 2h1m19 0h1m-23 4h1m-7 1h1m22 0h1m-5 1h1m11 0h1m-28 1h1m-2 1h1m-8 1h1m-2 1h1m9 0h1m-9 1h1m-9 1h1m12 0h1m6 2h1m-18 2h1m30 0h1m4 0h1m20 0h1m-24 1h1m-37 1h1m6 0h1m32 0h1m-41 1h1m44 0h1m-44 1h1m10 0h2m34 0h1m6 0h1m-9 1h1m3 0h1m-12 1h1m-42 1h1m3 0h1m31 0h1m-52 1h1m2 1h1m3 0h2m11 0h1m11 0h1m29 0h1m10 0h1m-139 1h1m109 0h1m24 0h1m-73 1h1m42 0h1m5 0h1m13 0h1m-51 1h1m11 0h1m30 0h1m-24 1h1m4 0h1m1 0h1m-72 1h1m53 0h1m-89 1h1m42 0h1m18 0h1m28 0h1m-37 1h1m20 0h1m-77 1h1m31 0h1m17 0h1m-17 1h1m1 1h2m-9 1h1m1 0h1m62 0h1m-98 1h1m28 0h1m4 0h1m16 0h1m-18 2h1m20 0h1m42 0h1m19 0h1m-68 1h1m38 0h1m31 1h1m-93 1h1m17 0h1m47 0h1m-90 1h1m111 0h1m-110 1h1m39 0h1m49 0h1m-50 1h1m2 1h1m76 0h1m-46 2h1m-56 1h1m102 0h1m-29 1h1m9 0h1m1 0h1m-79 1h1m96 0h1m-78 1h1m10 0h1m-65 1h1m136 0h1m-80 1h1m63 0h1m9 0h1m-100 1h1m98 1h1m-54 1h1m-46 1h1m11 0h1m5 0h1m78 0h1m-85 1h1m10 0h1m-13 2h1m82 0h1m-83 1h1m17 0h1m49 1h1m15 0h1m-94 1h1m2 0h1m11 0h1m68 1h1m0 2h1m-83 1h1m-10 1h1m14 0h1m22 0h1m37 0h1m-76 1h1m2 0h1m13 0h1m77 0h1m-83 1h1m16 0h1m50 0h1m-65 1h1m73 0h1m-86 1h1m84 0h1m-98 1h1m15 1h1m2 0h1m4 1h1m19 0h1m50 0h1m-77 1h1m7 0h1m65 0h1m1 0h1m-76 1h1m11 1h1m-27 1h1m18 0h1m4 1h1m4 0h1m-8 1h1m-2 1h1m20 0h1m46 0h1m-8 1h1m2 1h1m-110 1h1m66 0h1m43 0h1m-91 1h1m36 0h1m3 0h2m-13 1h1m6 0h1m46 0h1m-82 2h1m3 0h1m5 0h1m31 0h1m22 0h1m4 0h1m-96 1h1m1 0h1m1 0h1m15 0h1m66 0h1m11 0h1m1 0h1m7 0h1m-112 1h1m29 0h1m7 0h1m71 0h1m1 0h1m-107 1h1m13 0h1m6 0h1m46 0h1m17 0h1m3 0h1m12 0h1m-111 1h1m38 0h2m6 1h1m45 0h1m-51 2h1m13 0h1m-52 1h1m19 0h1m31 1h1m4 0h1m2 0h1m17 0h1m-86 1h1m20 0h1m16 0h1m19 0h1m-42 1h1m9 0h1m2 0h1m13 0h1m12 0h3m25 0h1m-60 1h1m6 0h1m8 0h1m5 0h1m17 0h1m10 0h1m-70 1h1m16 0h2m3 0h1m4 0h1m21 0h1m-47 1h1m9 0h2m13 0h1m21 0h1m2 0h1m27 0h1m-62 1h1m4 0h1m36 1h1m-34 1h1m23 1h1m7 0h1m5 0h1m1 0h1m-13 5h1m3 1h1m7 0h1m-1 2h1m-24 1h2m14 0h1m8 0h1m-1 2h1m-2 1h1m-102 1h1m13 0h1m9 5h1m30 3h1m-52 3h1m5 0h1m23 0h1m-36 1h1m1 1h1m26 2h1"/>
<path stroke="#2b748e" d="M178 9.5h1m-7 1h1m-1 1h1m0 1h1m-14 2h1m-18 6h1m0 1h1m-10 1h1m10 0h1m-8 1h1m15 5h1m-11 1h1m5 0h1m-1 1h1m26 0h1m10 0h1m-22 1h1m9 0h1m-13 1h1m7 1h1m-6 1h1m4 0h1m-26 1h1m-1 1h1m27 0h1m11 0h1m-68 1h1m9 0h1m6 0h1m31 0h1m-55 1h1m-69 1h1m77 0h1m43 0h1m-23 1h1m28 0h1m2 0h1m-64 1h2m18 0h1m14 0h1m-70 1h1m39 0h1m18 0h1m4 0h1m6 0h1m-40 1h1m28 0h1m-62 1h1m30 0h1m2 0h1m-37 1h1m66 1h1m30 0h1m-83 1h1m1 0h1m11 0h1m57 0h1m-86 1h1m35 0h1m-35 1h1m11 0h2m36 0h1m-53 1h1m1 0h1m9 0h1m61 1h1m-63 1h1m44 0h1m4 0h1m-66 1h2m16 0h1m9 0h1m-33 1h1m11 0h1m1 0h1m55 0h1m1 0h1m9 0h1m-62 1h1m42 0h1m4 0h1m-74 1h1m79 0h1m-74 1h1m59 0h1m-69 2h1m11 2h1m11 1h1m2 0h1m-4 1h1m-12 3h1m65 0h1m15 0h1m-65 2h1m78 0h1m-122 1h1m34 0h1m44 0h1m15 0h1m-71 1h1m-3 2h1m10 0h3m30 0h1m-46 1h3m51 0h1m37 0h1m4 0h1m3 0h1m-104 1h1m19 0h1m25 0h1m45 0h1m-40 1h1m4 0h1m-50 1h1m8 0h1m7 0h1m26 0h1m50 0h1m-67 1h1m-14 1h1m3 0h1m9 0h1m59 0h1m9 0h1m-102 1h1m8 0h1m20 0h1m49 0h1m7 0h1m-65 1h1m-27 1h2m53 0h1m-54 1h1m69 0h1m11 0h2m-77 1h2m72 0h1m3 0h1m-90 1h1m3 0h1m16 0h2m1 0h1m52 0h1m8 0h1m-64 1h1m54 0h1m11 0h1m-71 1h1m0 1h1m11 0h1m-7 1h1m59 0h1m4 1h1m1 1h1m-5 1h1m-74 1h1m8 0h1m1 0h1m65 0h1m-67 1h1m6 0h1m45 0h1m9 0h1m-58 1h1m3 0h1m-13 1h1m5 0h1m-32 1h1m-29 1h1m-2 1h1m76 0h1m-23 1h1m18 0h1m-47 1h1m46 0h1m-34 1h1m-22 1h1m7 0h1m11 0h1m57 0h1m11 0h1m2 0h1m-108 1h1m23 0h2m41 0h1m30 0h2m-28 1h1m31 0h1m-76 1h1m26 0h1m41 0h1m-104 1h1m38 0h1m5 0h1m49 0h1m-96 1h1m44 0h1m25 0h1m-39 1h1m43 0h1m-56 1h1m15 0h1m51 0h1m-68 1h2m26 0h1m18 0h1m-56 1h1m57 0h1m11 0h1m-61 1h1m40 0h1m-28 1h1m19 0h1m30 0h1m-2 1h1m-76 1h1m27 0h1m18 0h1m-31 1h1m57 0h1m-61 1h1m3 0h1m6 0h1m19 0h1m3 0h1m-31 1h1m12 0h1m-37 1h1m7 0h1m9 0h1m-3 1h1m12 0h1m-71 1h1m56 0h1m37 0h1m-10 1h1m-8 2h1m-82 1h1m101 0h1m-9 1h1m11 0h1m-104 2h1m101 0h1m-10 2h1m-88 3h1m0 4h1m0 3h1m48 1h1m-39 2h1m-18 4h1m12 0h1m-15 1h2m12 5h1"/>
<path stroke="#297b8e" d="M163 8.5h1m-22 10h1m-2 1h1m4 0h1m5 2h1m1 1h1m-13 1h2m3 0h1m-10 1h1m12 0h1m-10 1h1m0 1h1m-6 3h1m8 0h1m41 0h1m-22 1h1m21 0h1m-56 1h1m43 0h1m-50 1h1m9 0h1m8 0h1m27 0h1m1 0h1m4 1h1m-14 1h1m-31 1h1m26 0h1m-23 1h1m33 0h1m-43 1h1m12 0h1m31 0h1m4 0h1m-52 1h1m11 0h1m-22 1h1m19 0h1m-19 1h1m6 0h1m6 0h1m-23 1h1m36 0h1m-72 1h1m85 0h1m-126 1h1m32 0h1m13 0h1m46 0h1m9 0h1m26 1h1m2 0h1m-28 2h1m9 0h1m10 0h1m-84 1h1m27 0h1m23 0h1m-52 1h1m16 0h1m23 0h1m21 0h1m16 0h1m-95 1h1m46 0h1m12 0h1m6 0h1m24 0h1m-35 1h1m23 0h1m-79 1h1m13 0h1m13 0h1m26 0h1m-86 1h1m25 0h1m28 0h1m-30 1h1m8 0h1m12 0h1m63 0h1m-67 1h1m-48 1h1m17 1h1m53 2h1m-25 2h1m45 0h1m11 0h1m-74 1h1m90 0h1m-99 1h2m10 1h1m40 0h1m1 0h1m40 0h1m-76 1h1m75 0h1m3 1h1m-45 1h1m40 0h1m3 0h1m-55 3h1m22 1h1m-67 1h1m25 0h1m-8 1h1m79 0h2m-91 1h1m16 0h1m-29 1h1m4 0h1m62 0h1m39 0h1m-86 1h1m52 0h1m-56 1h1m12 0h1m23 1h1m40 0h2m8 0h1m-109 1h2m18 0h1m62 0h1m9 0h1m1 0h1m-83 1h1m7 0h1m-6 1h1m-9 1h1m11 0h1m70 0h2m-81 1h1m11 0h1m33 0h1m31 0h1m-72 1h1m7 0h1m-34 1h1m27 0h1m5 0h1m24 0h1m35 0h1m-84 1h1m2 0h1m8 0h1m22 0h1m48 0h1m-98 1h1m27 0h1m3 0h1m14 0h1m40 1h1m-50 1h1m48 0h1m8 0h1m-7 1h1m-71 1h1m13 0h1m65 2h1m-66 1h1m60 0h1m3 0h1m-80 1h1m14 0h1m4 0h1m11 0h1m47 1h1m-84 1h1m11 1h1m6 0h1m-67 1h1m13 0h1m1 1h1m49 0h1m48 0h1m-34 1h1m3 0h1m37 0h1m-89 1h1m1 0h1m8 0h2m30 0h1m6 0h1m30 0h1m-42 1h1m-40 1h1m41 0h1m24 0h1m2 0h1m-90 1h2m25 0h1m18 0h1m5 0h1m30 0h1m-86 1h1m56 0h1m31 0h1m5 0h1m-10 1h1m-30 2h1m-27 1h1m6 1h1m-4 1h1m1 0h1m1 0h1m8 0h1m16 0h1m-7 1h1m2 0h2m-37 1h1m4 0h1m8 0h1m29 0h1m-57 1h1m39 0h1m21 0h1m-45 1h1m10 0h1m5 0h1m2 0h1m10 0h1m1 1h1m-44 1h1m3 0h1m22 0h1m1 0h2m11 0h1m-29 1h1m-3 1h1m-7 1h1m-9 1h1m-4 1h1m51 1h1m-4 3h1m-9 1h1m10 1h1m-10 4h1m10 1h1m-102 4h1m6 8h1m4 0h1m-9 1h1"/>
<path stroke="#26818e" d="M171 9.5h1m-1 3h1m-24 5h1m0 1h1m2 4h1m-12 2h1m1 1h1m9 1h1m27 1h1m-32 1h2m1 0h1m33 0h2m-46 1h1m28 3h1m1 0h1m-38 1h2m-10 2h1m54 0h1m3 0h1m-141 2h1m76 0h1m4 0h1m11 0h1m-20 1h1m12 0h1m6 0h1m4 0h1m2 0h1m0 1h1m34 0h1m-137 1h1m88 0h1m10 0h1m1 0h1m8 0h1m-80 1h1m60 0h1m12 1h1m-75 1h2m59 0h1m-64 1h1m16 0h1m42 0h1m8 0h1m-48 1h1m1 0h1m4 1h1m30 0h1m5 0h1m-67 1h1m13 0h1m41 0h1m9 0h1m1 0h1m-12 1h2m2 0h1m-46 1h1m39 1h1m11 0h1m-42 1h1m1 0h1m33 0h1m-9 1h1m-36 1h1m38 0h1m-7 1h1m23 0h1m-59 1h1m-2 1h1m4 0h1m42 0h1m-95 1h1m45 0h1m32 1h1m-27 2h1m-11 1h1m24 0h1m3 2h1m35 2h1m-109 1h1m38 0h1m42 0h1m7 0h1m41 0h1m-25 1h1m-69 1h1m2 0h1m24 1h1m63 0h1m-89 1h1m1 0h1m7 0h1m19 0h1m46 0h1m6 0h1m1 0h1m-98 1h1m25 0h1m50 0h1m-61 1h1m7 0h1m74 0h1m-65 1h1m17 0h1m40 0h1m-6 1h1m-74 1h1m1 0h1m13 0h1m0 1h1m56 0h1m-91 1h1m30 0h1m38 0h1m-68 1h1m15 0h1m6 0h1m72 0h1m-100 1h1m2 0h1m16 0h1m10 0h1m24 0h1m33 0h1m-69 1h2m60 0h1m-71 1h1m4 0h1m59 1h1m-58 3h1m-9 1h1m1 0h1m1 0h1m15 0h1m52 0h1m3 0h1m-135 2h1m60 0h1m15 1h1m52 0h1m-85 2h1m9 0h1m11 0h1m63 0h1m-11 1h1m9 0h1m3 0h1m-70 1h1m1 0h1m5 0h1m42 0h1m-45 1h1m8 0h1m-26 1h1m3 0h1m16 0h1m-1 1h1m51 0h1m-47 1h1m35 0h1m9 1h1m-89 1h1m48 0h1m-16 1h1m10 1h1m39 0h1m-50 2h1m39 0h1m7 0h1m-50 1h1m-25 1h1m32 0h1m25 0h1m-76 2h1m11 0h1m3 0h1m58 0h1m-62 1h1m47 1h1m-32 1h1m37 0h1m-67 1h1m82 0h1m-48 1h1m-32 1h1m4 0h1m28 0h1m13 0h1m-39 1h1m48 0h1m-32 1h1m12 0h1m-47 2h1m14 0h1m3 0h1m24 0h1m-42 1h1m28 0h3m8 0h2m3 0h1m-41 1h2m32 0h1m6 0h1m-48 1h1m9 0h2m26 0h1m8 0h1m-38 1h1m-10 1h1m45 2h1m-5 1h1m1 1h1m1 1h1m-18 2h1m16 0h1m3 0h1m-12 1h2m-94 9h1m16 1h1m-15 8h1"/>
<path stroke="#24878e" d="M169 4.5h1m0 7h1m-3 2h1m-28 4h1m-1 1h1m2 1h1m-7 2h1m11 0h1m-11 2h1m4 0h1m-11 2h1m1 1h1m-9 1h1m16 4h1m-11 2h1m38 0h1m-3 2h1m-38 2h1m13 0h1m28 0h1m-39 2h1m3 0h1m18 0h1m8 0h1m-46 1h1m6 0h1m5 0h1m22 0h1m-11 1h1m7 0h1m-16 1h1m21 0h1m-45 2h1m40 0h1m-24 1h1m3 0h1m14 0h1m-46 1h1m17 0h1m1 0h1m-45 1h1m44 0h1m5 0h1m-46 1h1m1 0h1m-4 1h1m41 0h1m1 0h1m1 0h1m6 0h1m-56 1h1m22 1h1m17 0h1m41 0h1m-73 2h1m-8 1h1m1 0h1m-24 1h1m51 0h1m4 0h1m11 0h1m-79 1h1m79 0h1m18 0h1m-70 1h2m19 0h1m12 0h1m4 0h1m15 1h1m-77 1h1m-1 1h1m25 1h1m-4 1h1m22 0h1m27 0h1m-28 1h1m10 0h1m25 0h1m-71 1h1m3 0h1m85 0h1m0 1h1m-61 2h1m23 0h1m36 0h1m-94 1h1m6 0h1m85 0h1m-45 1h1m18 0h1m15 0h1m-75 2h1m6 0h1m71 0h1m15 0h1m-104 1h1m8 1h1m-14 1h1m4 1h1m80 0h1m5 0h1m-81 1h1m16 0h1m65 0h1m-102 1h1m22 0h1m5 0h1m14 0h1m51 0h1m-87 1h1m2 0h1m5 0h1m12 0h1m59 0h1m6 0h1m-89 1h1m1 0h1m13 0h1m64 0h1m-90 1h1m11 0h1m11 0h1m63 0h1m-82 1h1m2 0h1m-5 1h1m76 0h1m-11 1h1m-57 2h1m7 0h1m63 0h1m1 0h1m-4 1h1m-65 1h1m53 0h1m8 0h1m-64 1h1m6 0h1m9 0h1m-18 1h1m2 0h1m0 1h1m58 0h1m-69 2h1m3 0h1m66 0h1m-80 1h1m11 0h1m5 0h1m-5 2h1m56 1h1m6 1h2m-89 1h1m77 0h1m-42 1h1m43 0h1m3 0h1m-52 1h1m9 1h1m25 0h1m-29 1h1m30 0h1m2 0h1m-47 1h1m18 0h1m-40 1h1m28 0h1m10 0h1m23 0h1m-64 1h1m19 0h1m7 0h1m6 0h1m30 0h1m-104 1h1m1 0h1m5 0h1m50 0h1m8 0h1m10 0h1m29 0h1m-82 1h1m1 1h1m12 0h1m15 0h1m-75 1h1m44 0h1m-3 1h1m57 0h1m-48 1h1m-37 1h1m23 0h1m7 0h1m41 0h1m10 0h1m-60 1h1m53 1h1m-56 1h1m4 0h1m28 1h1m1 0h2m-40 2h1m26 0h1m-48 1h1m65 0h1m-45 1h1m32 0h1m-36 1h1m0 1h2m-64 1h1m99 2h1m0 2h1m1 0h1m-2 1h1m6 1h1m-99 18h1"/>
<path stroke="#228d8d" d="M146 17.5h1m-7 3h1m1 1h1m18 3h1m26 3h1m-45 1h1m3 2h1m-5 2h1m37 0h1m-52 1h1m2 0h1m5 0h1m35 0h1m-48 1h1m3 0h1m41 0h1m5 1h1m-12 1h1m12 0h1m-8 1h1m3 0h1m-62 1h1m2 0h1m17 0h1m-24 1h1m32 0h1m15 0h1m-24 1h1m23 0h1m-38 1h1m16 0h2m2 0h1m-70 1h2m57 0h1m25 0h1m-22 2h1m-36 1h1m58 0h1m7 0h1m-75 1h1m39 0h1m5 0h1m-40 1h1m16 0h1m11 0h1m37 0h1m-62 1h1m7 2h1m21 1h2m-65 1h1m24 0h1m22 0h1m32 0h1m-24 1h1m23 0h1m-20 1h1m-3 2h1m-42 2h1m53 0h1m-59 1h1m13 0h1m58 0h1m-24 1h1m-52 2h1m0 1h1m15 0h1m67 0h1m-91 1h1m0 1h1m89 0h1m-113 1h1m85 0h1m3 0h1m18 1h1m-45 1h1m-49 1h1m40 0h1m-40 1h1m79 0h1m-72 2h1m76 0h1m13 1h1m-108 1h1m10 0h1m14 0h1m61 1h1m7 0h1m5 0h1m-97 1h1m12 0h1m29 0h1m-16 1h1m61 0h1m-94 1h1m28 0h1m1 0h1m-28 1h1m1 0h1m9 0h1m-16 1h1m26 0h1m-29 1h1m24 0h1m3 0h1m-24 1h1m8 0h1m2 0h1m20 0h1m-25 1h1m7 0h1m61 0h1m-72 1h1m9 0h1m50 1h1m3 0h1m-71 1h1m11 0h1m7 0h2m51 0h1m-67 1h1m8 0h1m11 0h1m49 0h1m-72 1h1m1 0h1m2 0h1m0 1h1m2 0h1m1 0h1m-16 1h1m10 1h1m14 0h1m47 0h1m-1 1h1m-70 1h1m12 0h1m57 0h1m-70 1h1m6 2h1m0 2h1m56 0h1m-44 1h1m2 3h1m-78 1h1m96 0h1m-67 1h2m41 0h1m22 0h1m-66 1h2m64 0h1m-65 1h1m1 0h1m29 0h1m6 0h1m25 1h1m-50 1h1m3 1h1m44 0h1m-56 1h1m42 0h1m-45 1h1m51 0h1m-63 1h1m12 0h1m41 0h1m20 0h1m-78 1h1m1 0h1m51 0h1m2 0h2m-53 1h1m2 0h1m1 0h1m25 0h1m7 0h1m-46 1h1m39 0h1m4 0h2m16 0h1m-58 1h1m39 0h1m14 0h1m1 1h1m-18 2h1m-41 1h1m-14 1h1m51 0h1m-61 1h1m62 2h1m-3 3h1m1 0h1m-7 1h1m-1 1h1m-93 5h1"/>
<path stroke="#20938c" d="M182 3.5h1m-1 4h1m-43 10h1m6 0h1m-6 2h1m21 0h1m-27 3h1m4 0h1m-3 1h1m2 0h1m-6 1h1m12 0h1m-3 1h1m3 0h2m-15 2h1m5 4h1m-9 1h1m3 0h1m3 0h2m32 0h1m-38 1h1m-11 5h1m6 0h1m2 0h1m28 0h1m1 0h1m-57 1h1m4 0h1m1 0h1m41 0h1m-40 1h1m6 0h1m13 0h1m-34 1h1m34 0h1m18 0h1m7 0h1m-38 1h1m3 0h1m6 0h1m18 0h1m-78 2h1m5 0h1m10 0h1m8 1h1m-40 1h1m23 0h1m21 0h1m7 0h1m11 0h1m-48 1h1m3 0h1m-24 1h1m69 0h1m11 0h1m15 0h1m-32 1h1m1 1h1m-46 1h1m43 0h2m10 0h1m10 0h1m-75 1h1m5 0h4m2 0h1m33 1h1m-42 1h1m5 0h1m3 0h1m31 1h1m2 0h1m-50 1h1m43 0h1m6 1h1m9 0h1m-61 1h1m3 1h1m-17 1h1m82 0h1m-32 1h1m-46 1h1m84 1h1m1 0h1m-3 1h1m-89 3h1m46 2h1m-42 2h2m-11 1h1m91 0h1m-86 1h1m47 0h1m11 0h1m20 0h1m-62 1h1m-28 1h1m10 0h1m75 0h2m-80 1h1m3 0h1m2 0h1m1 0h1m40 0h1m26 0h1m-77 1h1m5 0h1m57 0h1m17 0h1m-91 1h1m11 0h1m66 0h1m1 0h1m-88 1h1m16 0h1m-9 1h1m7 0h1m4 0h1m-18 1h1m11 0h1m6 0h1m13 0h1m-29 1h1m7 0h1m67 0h1m-64 1h1m-6 1h1m15 0h1m-10 1h1m6 0h2m53 0h1m-66 1h1m13 1h1m-10 1h1m12 0h1m52 0h1m-78 1h1m17 0h1m1 0h1m-9 1h1m55 1h1m0 2h1m-56 1h1m54 3h1m3 0h1m-88 1h1m80 0h1m4 0h1m-40 1h1m-11 1h1m46 0h1m-84 3h1m57 0h1m20 0h1m-15 1h1m-91 1h1m25 0h1m42 0h2m37 0h1m-111 1h1m92 0h1m-64 1h1m4 0h1m23 0h1m6 0h1m-32 1h1m2 0h1m41 0h1m8 0h1m-58 1h1m24 0h1m-18 1h1m-12 1h1m8 1h1m40 0h1m-51 1h1m9 0h1m-9 2h1m23 0h1m5 0h1m-27 1h1m21 0h1m-29 2h1m2 0h1m36 0h1m18 0h1m-62 1h1m0 2h1m1 0h1m35 1h1m-9 5h1m11 1h1m-106 2h1m98 1h1m-77 12h1"/>
<path stroke="#1f998a" d="M154 24.5h2m-16 1h1m8 0h1m-11 1h1m6 1h1m-4 1h1m29 4h1m-1 1h1m-37 1h1m-6 1h1m10 0h1m2 0h1m-18 1h2m-4 2h1m36 0h1m7 0h1m8 0h1m-39 1h1m3 0h1m28 0h1m-46 1h1m-5 1h1m10 2h1m-25 1h1m2 0h1m26 0h1m8 0h1m-73 1h1m66 0h1m28 0h1m-66 1h2m64 0h1m-96 1h1m20 0h1m11 0h1m62 0h1m-83 1h1m35 0h1m3 0h1m43 0h1m-96 1h1m28 0h1m34 1h1m-47 1h1m2 0h1m30 0h1m-26 2h1m18 0h1m37 0h1m-63 1h1m-6 1h1m48 0h2m-53 1h1m46 0h1m4 1h1m-18 1h1m12 0h1m7 0h1m-25 1h1m-32 2h1m53 0h1m-56 1h1m-6 1h1m83 0h1m-68 1h1m-21 1h1m8 1h1m18 1h1m62 1h1m-92 1h1m1 0h1m27 0h1m49 0h2m-55 1h1m19 0h1m39 0h1m-91 1h1m92 1h1m-84 1h1m30 1h1m9 0h1m13 0h1m26 0h1m-77 1h1m3 1h1m6 0h1m49 0h1m-74 1h1m22 0h1m58 0h1m-76 1h2m17 0h1m2 0h1m3 0h1m44 0h1m-77 1h1m12 0h1m64 0h1m3 0h1m-88 1h1m2 0h1m9 0h1m1 0h1m19 0h1m37 0h1m5 0h1m-31 1h1m13 0h1m17 0h1m-2 1h1m4 0h1m-69 1h1m66 0h1m-75 2h1m-3 1h2m3 0h1m18 0h1m52 0h1m-81 1h1m8 0h1m1 0h1m1 0h1m7 0h1m1 1h1m1 0h1m3 0h1m36 0h1m-55 1h1m7 0h1m6 1h1m-15 1h1m3 0h1m18 2h1m27 0h1m13 0h1m5 0h1m-55 1h1m46 0h1m-40 2h1m31 0h1m-33 2h1m17 0h1m0 1h1m-3 2h1m11 0h1m-78 1h1m40 0h1m6 0h1m17 0h1m3 0h1m-2 1h1m-15 1h1m-53 1h1m39 0h1m26 0h1m-27 1h1m8 0h1m-45 1h1m30 0h1m25 1h1m-57 1h1m1 0h1m-10 1h1m4 0h1m5 0h1m22 0h1m-32 1h1m4 0h1m2 0h1m38 0h1m-49 1h1m38 0h1m5 0h1m-15 2h1m2 0h1m-30 2h1m50 0h1m-63 2h1m4 0h1m-4 1h1m31 1h1m4 1h1m6 1h1m1 1h1m-2 4h1m0 1h1m-6 3h1"/>
<path stroke="#1fa088" d="M141 20.5h1m11 5h1m-14 1h1m3 0h1m24 2h1m-33 1h1m-4 1h1m1 5h1m33 0h1m-28 1h1m0 1h1m33 0h1m-4 2h1m-29 1h1m24 0h1m-41 1h1m2 0h1m25 0h1m12 0h1m-58 1h1m11 0h1m-1 1h1m19 0h1m1 0h1m-4 1h1m-30 1h1m30 0h2m-14 1h1m14 0h1m25 0h1m-45 1h1m3 0h1m2 0h1m-32 1h1m31 0h1m23 0h1m-64 1h1m61 0h1m-66 1h1m36 0h1m0 1h1m26 0h1m-69 1h1m15 0h1m1 0h1m23 0h1m8 0h1m13 0h1m-56 1h1m32 0h1m2 0h1m3 0h2m7 0h1m-75 1h1m35 0h1m18 2h1m-35 1h2m20 0h1m-10 2h1m3 1h1m-34 3h1m38 0h1m12 0h1m33 0h1m-82 3h1m82 0h1m-82 1h1m83 0h1m1 0h1m-93 2h1m39 0h1m-39 1h1m13 0h1m3 0h1m66 0h1m-79 1h1m15 0h1m-20 1h1m14 0h1m57 0h1m6 0h1m-80 1h1m71 1h1m11 0h1m-82 1h1m12 0h1m9 0h1m-34 1h1m5 0h1m16 0h1m10 1h1m53 0h1m-80 1h1m16 0h1m29 0h1m-32 1h1m37 0h1m20 0h1m-76 1h1m23 0h2m42 0h1m-47 1h1m1 0h1m-35 1h1m26 0h1m1 0h1m-5 1h1m8 0h1m-17 1h1m10 0h1m11 0h1m-32 1h1m3 0h1m10 0h1m2 0h1m-5 1h1m9 0h1m16 0h1m-18 2h1m55 0h1m-60 1h1m53 1h1m-66 1h1m5 0h1m56 0h1m-49 1h1m51 0h1m-11 2h1m-62 1h1m55 1h1m-39 1h1m0 1h1m8 0h1m39 1h1m-21 1h1m22 0h1m-47 2h1m5 0h1m18 0h1m-16 1h1m6 0h1m-24 1h1m21 0h1m10 0h1m-33 1h2m26 0h1m-24 1h1m7 0h1m33 0h1m-25 2h1m-24 1h1m7 0h1m19 0h1m-21 1h1m17 0h1m-39 1h1m9 0h1m6 0h1m6 0h1m1 0h1m6 0h1m-44 1h1m21 0h1m6 0h1m-44 1h1m47 0h1m11 0h1m-65 2h1m9 0h2m38 0h1m-13 1h1m-24 1h1m31 4h1m0 2h1m0 1h1m-4 3h1m-39 14h1"/>
<path stroke="#21a585" d="M172 9.5h1m-2 1h1m-28 15h1m0 1h1m1 0h1m-9 1h1m5 0h1m-4 1h1m3 0h1m-1 1h1m-4 1h2m5 0h1m-8 1h1m2 1h1m33 2h1m-46 2h1m5 0h1m39 0h1m-55 1h1m9 0h1m31 1h1m-36 1h1m4 0h1m6 0h1m2 0h1m1 0h1m29 0h1m-59 1h1m45 0h1m-33 1h1m2 0h1m39 0h1m-43 1h2m40 0h1m-26 1h1m25 0h1m-43 1h2m-5 1h1m3 0h1m33 0h1m-72 1h1m28 2h1m16 0h1m29 0h1m-78 1h2m2 0h1m4 0h1m-12 1h1m29 0h1m2 0h1m24 0h1m-57 1h1m-3 1h1m16 0h1m43 1h1m-13 1h1m-46 1h1m-3 1h1m52 0h1m5 2h1m-58 1h1m14 2h1m53 0h1m-92 2h1m99 0h1m-1 1h1m-37 1h1m-57 2h1m1 0h1m24 0h1m55 0h1m2 0h1m6 0h1m-81 1h1m77 0h1m-16 1h1m14 0h1m-93 1h2m4 0h1m12 0h1m76 0h1m-95 1h1m5 0h1m5 0h1m79 0h1m-88 1h1m79 0h1m-64 1h1m3 0h1m3 0h1m50 0h1m-76 1h1m67 0h1m-77 1h1m8 0h1m24 0h1m59 0h1m-13 1h1m-82 1h2m3 0h1m6 0h1m13 0h1m5 0h1m50 0h1m-78 1h1m3 0h1m12 1h1m1 0h1m7 0h1m46 0h1m-83 1h1m8 0h1m70 0h1m-57 1h1m10 0h1m3 0h1m-17 1h1m2 1h1m3 0h1m7 0h1m-3 1h1m43 0h1m-54 1h1m23 0h1m-21 1h1m13 0h1m-16 1h1m49 0h1m-54 4h2m47 0h1m-45 2h2m39 0h1m10 0h1m-50 1h1m36 0h1m12 3h1m-3 2h1m-42 1h1m18 0h1m19 0h1m-16 1h1m2 0h1m-33 2h1m10 0h1m11 0h1m-22 1h1m2 0h1m1 0h1m16 0h1m7 0h1m-8 1h1m-19 1h1m17 0h1m-55 1h1m4 0h1m23 0h1m-28 1h1m3 0h1m34 0h1m2 0h1m-18 1h1m25 0h1m-10 1h1m5 0h1m-59 1h1m35 0h1m12 0h1m-42 1h1m50 0h1m1 0h1m-51 1h1m32 0h1m14 0h1m-1 2h1m-25 1h1m-28 1h1m30 0h1m5 3h1m-2 5h1"/>
<path stroke="#25ac82" d="M143 24.5h1m3 0h1m4 1h1m-7 1h1m2 0h1m39 2h1m-51 1h1m2 0h1m6 0h1m-10 1h1m0 1h1m-1 1h1m-7 2h1m2 0h1m2 0h1m3 0h1m26 0h1m-31 1h1m5 0h1m23 0h1m-40 2h1m-12 2h1m10 0h1m4 0h1m3 0h1m24 0h1m-51 1h1m2 0h1m18 0h1m30 0h2m-39 1h1m33 0h1m-34 1h1m25 0h1m-24 1h1m3 0h2m28 0h1m-21 1h1m5 0h1m-108 1h1m53 0h1m13 0h1m19 0h1m14 0h1m7 0h1m14 0h1m-81 1h1m5 0h1m13 0h1m-11 1h1m6 0h1m-18 1h1m7 0h1m46 0h1m-42 1h1m60 0h1m-31 1h1m-36 3h1m7 0h1m8 0h1m15 0h1m3 0h1m2 0h1m27 0h1m-33 1h1m18 0h1m-12 1h1m11 0h1m-45 4h1m22 0h1m-41 1h1m-16 2h1m85 0h1m8 0h1m-84 1h1m2 0h1m2 0h1m-7 1h1m85 0h1m-89 1h1m32 1h1m53 0h1m-89 2h1m1 0h1m39 0h1m11 0h1m32 0h1m-89 1h1m11 0h1m9 0h1m47 0h1m2 0h1m16 0h1m-91 1h1m16 0h2m41 0h1m-64 2h1m16 0h1m9 0h1m17 0h1m-46 1h1m9 0h1m4 0h1m9 0h1m1 0h1m1 0h1m2 0h1m24 0h1m-55 1h1m12 0h1m1 0h1m-16 1h1m2 0h1m2 0h1m8 0h1m70 0h1m-91 1h1m20 0h1m11 0h1m37 0h1m10 0h1m5 0h1m-35 1h1m34 0h1m1 1h1m-83 1h1m5 0h1m16 0h1m5 0h1m43 0h1m-44 1h1m-23 1h1m3 0h1m57 0h1m-69 1h1m5 1h1m13 0h1m6 0h1m-39 1h1m36 0h1m0 1h1m-5 1h1m46 0h1m-41 3h1m-15 1h1m46 0h1m-55 1h1m52 0h1m7 1h1m-66 1h1m10 0h1m52 0h1m-42 5h2m22 0h1m16 0h1m-47 1h1m26 0h1m-26 2h1m10 1h1m15 2h1m15 0h1m-32 1h1m1 0h2m1 0h1m-21 1h1m10 0h1m6 0h1m-20 1h1m24 0h1m-56 1h1m42 1h1m7 0h1m-19 1h1m-32 1h1m28 0h1m18 0h1m-6 1h1m7 0h2m-16 1h1m18 0h1m-49 1h1m-5 1h1m-1 2h1m-8 2h2m39 1h1m-42 1h1m40 3h1m-13 4h1"/>
<path stroke="#2db27d" d="M138 27.5h1m1 0h1m1 0h1m2 1h1m1 0h2m-5 1h1m4 1h1m-1 1h1m-20 3h2m4 0h1m2 0h1m4 0h1m35 1h1m-47 2h1m8 0h1m-26 2h1m61 0h1m-60 1h1m4 0h1m5 0h1m-13 1h1m49 0h1m-44 1h1m5 0h1m25 0h1m21 0h1m-101 1h1m36 0h1m12 0h1m29 0h1m-39 1h1m-11 1h1m-3 1h1m22 0h1m4 0h1m-37 1h1m15 0h1m15 1h1m-35 1h1m11 0h1m15 0h1m23 0h1m26 0h1m-79 1h1m6 0h1m16 1h1m5 0h1m-32 1h1m2 0h1m23 1h1m18 0h1m-7 1h1m9 1h1m-36 2h1m29 0h1m-34 1h1m53 0h1m-88 1h1m44 1h1m24 1h1m29 0h1m-82 2h1m5 0h1m8 0h1m33 1h1m10 0h1m-27 1h1m-36 1h1m22 0h1m-23 1h1m-6 1h1m10 0h1m-14 1h1m6 0h2m4 0h1m2 0h1m30 0h1m-44 1h1m-2 1h1m12 0h1m51 0h1m-69 1h1m14 0h1m4 0h1m-14 1h1m27 0h1m51 0h1m-89 1h1m6 0h1m24 0h1m35 0h1m12 0h1m1 0h1m3 0h2m-72 1h1m15 0h2m8 0h1m-41 1h1m27 0h1m56 0h1m4 0h1m-88 1h1m14 0h1m14 0h1m-18 1h1m14 0h1m-13 2h1m5 0h1m13 0h1m35 0h1m4 0h1m-77 1h2m-5 1h1m16 0h1m-7 1h1m13 0h1m-2 1h1m2 0h1m48 0h1m-57 3h1m7 0h1m0 1h1m48 0h1m-67 1h1m9 0h2m3 3h1m5 1h1m4 0h1m39 0h1m-52 1h1m49 1h1m-49 1h1m0 1h1m43 0h1m-45 2h1m4 0h1m38 0h1m3 0h1m-24 1h2m18 0h1m-23 1h1m11 0h1m-33 1h1m22 0h1m-25 1h2m3 0h1m-45 1h1m56 1h1m3 0h1m-56 1h1m46 1h1m10 0h2m-29 1h1m9 0h1m-36 1h1m33 0h1m6 0h1m-46 1h1m25 0h1m1 0h1m4 0h1m-37 1h1m2 0h1m28 0h1m17 0h2m-51 1h1m53 0h1m-55 1h1m1 0h1m46 0h1m2 0h1m-53 1h1m3 2h1m32 3h1m-42 1h1m43 3h1"/>
<path stroke="#35b779" d="M152 23.5h1m0 1h1m-6 1h1m2 0h1m0 3h1m-12 1h1m-3 1h1m6 0h1m-3 1h1m-3 1h1m0 1h1m1 0h1m35 0h1m-40 3h1m33 2h1m-54 1h1m11 0h1m32 1h1m-45 1h1m9 0h1m4 0h1m3 0h1m21 0h1m3 0h1m-42 1h1m-3 1h1m5 0h1m7 0h1m13 0h1m22 0h1m-58 1h1m9 0h1m21 0h1m-36 1h1m21 0h1m26 0h1m12 0h1m-73 1h1m7 0h1m6 0h1m-16 1h1m7 0h1m-9 1h1m12 0h1m-25 1h1m8 0h1m11 0h1m25 0h1m-37 1h1m3 0h1m31 0h1m12 1h1m14 0h1m-70 1h1m47 0h1m-49 1h1m2 0h1m-5 2h1m27 0h1m-10 1h1m-19 1h1m21 0h1m5 0h1m13 0h1m2 0h1m4 0h1m-53 1h1m6 1h1m20 0h1m20 0h2m-56 2h1m83 0h1m-23 1h1m-16 2h1m36 0h1m-83 1h1m18 0h1m62 0h1m2 0h1m-92 1h1m17 0h1m5 0h1m6 0h1m34 0h1m-61 1h2m63 1h2m-54 1h1m1 0h1m31 0h1m33 0h1m3 0h1m-19 1h2m16 0h1m-89 1h1m10 0h2m10 0h1m46 0h1m15 0h1m-81 1h1m18 0h1m3 0h1m57 0h1m-72 1h1m58 0h1m-50 1h1m43 0h1m12 0h1m-86 1h1m5 1h1m14 0h1m60 0h1m-49 1h1m26 0h1m31 0h1m-26 1h1m-41 1h1m32 0h1m19 1h1m-74 1h1m19 1h1m2 0h1m34 0h1m-42 1h1m1 0h1m47 0h1m3 0h1m-56 1h1m50 0h1m-34 1h1m-8 1h1m39 0h1m-54 1h1m11 0h1m7 2h1m27 0h1m-53 1h1m61 0h1m-49 2h1m38 1h1m-41 4h1m47 1h1m-22 1h1m3 1h1m9 0h1m6 1h1m-49 1h1m25 0h2m6 0h1m6 0h1m2 0h1m-34 1h1m-45 1h1m35 0h1m7 0h1m1 2h1m-7 1h1m10 1h1m3 0h1m2 0h1m-19 2h1m-4 1h1m2 0h1m10 0h1m-47 1h1m36 0h1m5 0h1m10 1h1m-51 1h1m23 0h1m9 0h1m-3 6h1m0 2h1m-7 6h1"/>
<path stroke="#40bd72" d="M141 21.5h1m2 6h1m-7 1h2m10 1h1m-6 2h1m-4 2h1m35 0h2m-4 1h1m-44 1h1m10 0h1m31 0h1m-43 1h1m9 0h1m31 0h1m2 0h1m-51 2h1m2 1h1m-9 1h1m8 0h1m34 1h1m-50 1h1m10 0h1m27 0h1m-40 1h1m13 0h1m2 0h1m11 0h1m30 1h1m-68 1h1m1 0h1m-7 1h2m8 0h2m22 0h1m-41 1h1m6 0h1m22 0h1m-25 1h1m9 0h1m59 0h1m-43 1h1m-34 1h2m8 0h1m-5 1h1m1 0h1m24 0h1m-24 1h1m-7 2h1m57 1h1m-24 1h2m5 0h1m2 0h1m-50 1h1m-2 1h1m47 0h1m-51 2h1m77 0h1m-80 1h1m10 0h1m-6 1h1m9 1h1m57 0h1m3 0h1m-13 1h1m-68 1h1m23 0h1m60 0h1m-3 1h1m-29 1h1m21 0h1m-85 1h1m10 0h1m6 0h1m7 0h1m59 0h1m-76 1h1m12 0h1m56 0h1m4 0h1m-78 1h1m5 0h1m43 1h1m-37 1h1m5 0h1m43 0h1m-41 1h1m48 0h2m-82 1h1m5 0h1m14 0h1m4 0h1m-10 1h1m60 0h2m1 0h1m-78 1h1m16 0h1m32 0h1m-23 1h1m45 0h2m1 0h1m-61 1h1m3 0h1m29 0h1m25 0h1m-73 1h1m21 0h1m9 0h1m-15 1h1m3 0h1m7 0h1m-29 1h1m16 0h1m7 0h1m-16 1h1m3 0h1m3 0h1m44 0h1m-45 2h1m4 0h1m-12 1h1m6 0h1m39 0h1m6 0h1m-9 1h1m-43 1h1m7 1h1m37 0h1m-59 1h1m15 0h1m-15 1h1m4 0h1m1 0h1m1 0h1m8 1h1m-13 1h1m11 2h1m40 1h1m-68 1h1m21 0h1m-2 1h1m1 0h1m8 0h1m-12 1h1m10 0h1m-14 1h1m29 0h1m1 0h1m-2 1h1m1 0h1m-4 1h2m2 0h1m7 0h1m-40 1h1m7 0h1m19 0h1m-4 1h1m-16 1h1m-15 1h1m5 0h1m4 0h1m4 0h1m16 0h1m-22 1h1m-7 1h1m17 0h1m3 0h1m-1 1h1m-42 1h1m16 0h1m11 0h1m-45 1h1m3 0h1m3 0h1m24 0h1m9 0h2m11 1h1m0 1h1m-28 1h1m9 0h1m-39 1h1m51 0h1m-48 2h1m48 1h1"/>
<path stroke="#4cc26c" d="M153 22.5h1m-14 6h1m1 6h1m3 0h1m30 0h1m-44 1h2m43 0h1m-51 2h1m5 0h1m-8 1h1m2 0h1m-1 1h1m34 1h1m13 0h1m-55 1h1m4 0h1m31 0h1m-27 1h1m2 0h1m16 1h1m21 0h1m-44 1h1m18 0h1m-19 1h1m3 0h1m7 0h1m-45 1h1m55 0h1m-52 1h1m20 0h1m-26 1h1m3 0h1m39 0h1m-44 1h1m28 1h1m-32 1h1m54 0h1m-58 3h1m8 0h1m10 0h1m14 0h1m-34 1h1m35 0h1m-37 1h1m25 0h1m36 0h1m6 1h1m-29 1h1m-45 1h1m33 0h1m37 0h1m-62 2h1m56 1h1m-49 1h1m-28 1h1m25 3h1m40 0h1m-66 1h1m-1 1h1m36 0h1m-43 1h1m-1 1h1m2 0h1m64 0h1m23 0h1m-77 1h1m5 0h2m36 0h1m2 0h1m3 0h1m18 0h1m-73 1h1m20 0h1m-21 1h1m62 0h1m-58 1h1m10 1h1m-27 1h1m24 0h1m33 0h1m-35 1h1m45 0h1m-53 2h1m2 0h1m6 0h1m43 0h1m-78 1h1m34 0h1m40 0h1m-46 1h1m33 0h1m7 0h2m-41 1h1m38 0h1m-44 1h1m40 0h1m8 0h1m-62 1h1m5 1h1m15 0h1m-21 1h1m2 0h1m4 0h1m-2 2h1m-2 2h1m-7 1h1m1 0h1m12 0h1m40 0h1m-49 1h1m9 2h1m36 0h1m-37 1h1m22 0h1m11 0h1m-17 2h1m13 0h1m-38 2h1m26 0h1m-29 1h1m18 0h1m5 0h1m9 0h1m-11 1h1m10 0h1m-31 2h1m7 1h1m2 0h1m-5 1h1m4 0h2m1 1h1m-28 1h1m2 0h1m2 0h1m-30 1h1m38 0h1m6 0h2m-14 1h1m-10 1h1m8 0h1m12 3h1"/>
<path stroke="#5ac864" d="M154 23.5h1m-4 3h2m-12 2h1m5 2h1m29 3h1m2 0h1m-47 1h1m-4 1h1m45 3h1m-4 1h1m-53 1h1m13 1h1m27 0h1m1 0h1m-36 1h1m3 0h1m25 0h1m-42 1h1m14 0h1m20 0h1m11 0h1m-37 1h1m1 0h1m42 0h1m-70 1h1m1 0h1m4 0h1m15 0h1m3 0h1m-5 1h1m-24 1h1m64 0h1m1 0h1m1 0h1m-69 1h1m3 0h2m15 0h1m45 0h2m-66 2h1m3 0h1m1 0h1m36 0h1m13 0h1m-58 1h1m1 0h1m18 0h1m1 0h1m-21 1h1m3 0h1m31 0h1m-47 2h1m19 0h1m17 0h1m8 0h1m24 0h1m-69 1h1m33 0h1m-41 1h1m3 1h1m35 0h1m-39 1h1m16 0h1m19 0h1m9 0h1m1 0h1m4 0h1m14 0h1m-24 1h1m4 0h1m-6 1h1m27 0h1m-80 1h1m10 0h1m-9 1h1m71 0h1m-74 1h2m-4 1h1m18 0h1m6 0h1m-23 1h3m-2 1h1m17 0h1m53 0h1m-62 1h1m43 0h1m12 1h1m2 0h1m1 0h1m1 0h1m-68 1h1m45 0h1m-62 1h1m11 0h1m2 0h1m35 0h1m8 0h1m1 0h1m16 0h1m-74 1h1m13 0h1m51 0h1m5 0h1m2 0h1m-63 1h1m7 0h1m18 0h1m27 0h2m3 0h1m-86 1h2m20 0h1m65 0h1m-71 1h1m11 0h1m2 0h1m2 0h1m13 0h1m-32 1h1m4 0h2m27 0h1m-46 1h1m15 0h1m-19 1h1m15 0h1m36 0h1m16 0h1m-3 1h1m-32 1h1m1 0h1m-26 1h1m1 0h1m13 1h1m-1 1h3m53 0h1m-62 1h1m3 0h1m-13 1h1m49 0h1m4 0h1m-3 1h1m1 0h1m-56 1h1m18 1h1m-20 1h1m54 0h1m1 0h1m-49 1h1m48 0h1m-53 1h1m48 2h1m-48 1h1m46 1h1m-38 1h1m39 0h1m-1 1h1m-46 1h1m5 0h1m23 0h1m-27 2h1m29 1h2m4 0h1m-41 1h1m37 0h1m-32 2h1m-47 1h1m43 0h1m9 0h1m2 0h1m-52 2h1m27 1h1m5 0h1m12 0h1m1 0h1m-9 1h1m6 0h1m-18 1h1m1 0h1m10 0h1m2 0h1m-5 1h1m4 0h2m-50 1h1m44 0h1m-49 1h1m41 0h1"/>
<path stroke="#67cc5c" d="M153 23.5h1m-6 3h1m1 0h1m0 1h1m-3 1h1m-10 1h1m2 5h1m-14 1h1m48 3h1m-44 1h1m5 1h1m32 0h1m-51 1h1m-6 1h1m1 0h1m13 0h1m40 0h1m-50 1h1m1 0h1m-22 1h1m21 0h1m1 0h1m4 0h1m10 0h1m-43 1h1m12 0h1m-1 1h1m42 0h1m12 0h1m-63 1h1m61 0h1m-72 1h1m6 1h1m6 0h1m1 0h1m30 0h1m3 0h1m18 0h1m-68 1h1m44 0h1m23 1h1m-66 1h1m59 0h1m-15 1h1m-53 1h1m11 0h1m32 0h1m-45 2h1m33 0h1m9 0h1m-38 1h1m35 0h1m-45 1h1m10 0h1m60 0h1m-37 1h1m31 0h1m-71 1h1m7 0h1m60 0h1m-71 1h1m69 1h1m4 0h2m-72 1h1m70 0h1m-76 1h1m1 0h1m2 0h1m10 0h1m42 0h1m6 0h1m4 0h1m2 0h1m-69 1h1m6 0h2m-11 1h1m57 0h1m6 0h1m-74 1h1m2 0h1m2 0h1m1 0h1m63 0h1m7 0h1m-68 1h1m1 0h1m24 0h1m30 0h2m-62 1h1m51 0h1m5 0h2m-69 1h1m11 0h1m14 0h1m33 0h1m2 0h1m-75 1h1m27 0h1m2 0h1m2 0h1m1 0h1m53 0h1m-62 1h2m31 0h1m4 0h1m-66 1h1m24 0h1m5 0h2m49 0h1m-53 1h1m37 0h1m-70 1h1m21 0h1m59 0h1m-83 1h1m21 0h1m11 0h1m18 0h1m-32 1h1m10 1h1m22 0h1m9 0h1m9 0h1m-44 1h1m23 0h1m17 0h1m6 0h1m-80 1h1m70 1h2m-45 2h1m6 0h1m37 0h1m-44 1h1m3 0h1m-11 1h1m8 0h1m36 0h1m-41 1h1m38 0h1m3 0h1m1 1h1m-49 1h1m9 0h1m36 1h1m1 0h1m-54 1h1m10 0h1m39 0h1m-47 1h2m-5 1h1m47 0h1m-46 2h1m44 0h1m1 0h1m-47 1h1m3 1h1m42 0h1m-46 1h1m40 0h1m5 0h1m-44 1h1m1 0h1m31 0h2m-33 1h1m13 0h1m10 1h1m6 0h1m-40 1h1m40 0h1m-20 2h1m-6 1h1m-7 2h1m7 0h1m-13 1h2m14 0h1m-19 1h1m17 0h1m-21 1h1m2 0h1m11 0h2m-20 1h1m6 0h1m10 0h1m2 0h1m-16 1h1m13 0h2m-15 3h1"/>
<path stroke="#77d153" d="M143 27.5h1m3 0h2m1 0h1m-3 2h1m30 5h1m-49 2h1m-1 1h1m3 1h1m-6 1h1m-6 1h1m8 0h1m3 0h1m34 0h1m-46 1h1m44 0h1m4 0h1m-53 1h1m41 0h1m1 0h2m-45 1h1m6 0h1m34 0h1m8 0h1m-71 1h1m20 0h1m5 0h1m1 0h1m18 1h1m1 0h1m-41 2h1m33 0h1m-50 1h1m11 0h1m3 0h1m14 0h1m-5 1h2m3 0h1m-26 1h1m3 0h2m1 0h1m9 0h1m3 0h1m34 0h1m4 0h1m-20 1h1m17 0h1m-53 1h1m51 0h1m2 0h1m-63 1h1m4 0h2m3 0h1m29 0h1m20 0h1m-60 1h1m25 0h2m18 0h1m-53 1h1m5 0h1m3 0h1m-12 2h1m18 0h1m37 0h1m10 0h1m1 0h1m-67 1h1m8 0h1m13 0h1m17 0h1m1 0h1m-41 1h1m16 0h1m31 0h1m-30 1h1m-25 1h1m3 0h1m25 0h1m25 0h1m8 0h2m-72 1h1m1 0h1m16 0h1m50 0h1m-68 1h1m67 0h1m2 0h1m-76 1h1m46 0h1m13 0h1m15 0h1m-80 1h1m7 0h1m2 0h1m8 0h1m34 0h1m17 0h1m2 0h1m2 0h1m-81 1h2m1 0h1m7 0h1m38 0h1m7 0h1m-55 1h1m7 0h1m14 0h1m4 0h1m3 0h1m21 0h1m5 0h1m4 0h1m-70 1h1m7 0h1m2 0h2m1 0h1m1 0h1m5 0h1m35 0h1m1 0h2m3 0h1m8 0h1m4 0h1m-89 1h1m15 0h1m1 0h1m4 0h1m46 0h1m13 0h1m3 0h2m-80 1h1m54 0h1m2 0h1m7 0h1m5 0h1m-61 1h1m5 0h1m4 0h2m52 0h1m-73 1h1m20 0h1m46 0h1m-42 1h1m29 0h2m10 0h1m-60 1h1m17 0h1m12 0h1m22 0h1m2 0h1m-48 1h1m39 0h1m3 0h1m-47 1h1m3 0h1m6 0h1m23 0h1m6 0h1m2 0h1m3 0h1m-71 1h1m62 0h1m11 0h1m-29 1h1m1 0h2m13 0h1m-9 1h1m-60 1h1m26 0h1m17 0h1m-27 2h1m11 0h1m0 2h1m30 0h1m-37 1h1m-12 1h1m51 0h1m-42 1h1m44 0h1m-5 1h1m-1 1h1m-47 1h1m1 0h1m46 0h1m-49 1h1m48 0h1m-44 1h1m-1 1h1m-1 2h1m39 0h1m-39 1h1m-6 2h1m23 0h2m-25 1h1m21 0h1m5 0h1m8 0h1m3 0h1m-41 1h1m27 0h2m-10 2h1m-1 2h1m-10 1h1m4 1h1m-21 1h1m6 0h1m14 1h1m3 1h1m-56 1h1m32 0h1m4 0h1m5 0h1m1 0h1m-49 2h1m39 0h1m0 1h1m13 2h2"/>
<path stroke="#89d548" d="M178 34.5h1m-47 2h1m45 0h1m-49 2h1m1 0h1m46 1h1m-6 1h1m-54 1h1m54 0h1m-54 1h1m38 0h1m1 0h1m1 0h1m-46 1h2m35 0h2m7 0h1m2 0h1m1 0h1m3 0h1m-56 1h1m34 0h1m13 0h1m5 0h1m1 0h1m-70 1h1m24 0h1m19 0h1m-25 1h1m27 0h1m-42 1h1m44 0h1m11 0h1m-53 1h1m1 0h1m4 0h1m41 0h1m1 0h2m-61 1h1m18 0h2m39 0h1m2 0h1m1 0h1m-61 1h1m14 0h1m33 0h1m3 0h1m6 0h1m-65 1h1m56 0h1m1 0h1m3 0h1m-57 1h1m15 0h1m9 0h1m3 0h1m-38 1h1m3 0h1m32 0h2m1 0h1m9 0h1m-57 1h1m66 0h1m-75 1h1m7 0h3m3 0h1m1 0h2m4 0h1m15 0h1m18 0h2m11 0h1m-67 1h1m10 0h1m5 0h1m1 0h2m12 0h1m13 0h1m8 0h1m8 0h1m-14 1h1m18 0h1m-70 1h1m3 0h1m7 0h2m22 0h1m1 0h1m-39 1h2m1 0h1m9 0h1m21 0h1m4 0h1m3 0h1m1 0h1m-6 1h1m15 0h1m8 0h1m1 0h1m-73 1h1m46 0h1m9 0h1m10 0h1m4 0h1m-69 1h1m20 0h2m45 0h1m2 0h1m-72 1h2m6 0h1m1 0h1m1 0h1m23 0h1m21 0h1m-69 1h1m2 0h1m4 0h1m8 0h1m34 0h1m14 0h1m9 0h1m-74 1h1m3 0h1m19 0h1m19 0h2m16 0h1m1 0h1m10 0h1m-75 1h1m1 0h1m3 0h1m7 0h3m43 0h1m14 0h2m-80 1h2m2 0h1m8 0h1m8 0h1m16 0h1m1 0h1m19 0h1m-57 1h1m17 0h1m10 0h1m23 0h1m6 0h1m2 0h1m5 0h1m-52 1h1m40 0h1m5 0h1m-56 1h2m4 0h1m2 0h1m4 0h1m24 0h1m14 0h1m-55 1h1m4 0h2m4 0h1m3 0h1m24 0h1m1 0h2m5 0h1m5 0h1m1 0h1m1 0h1m1 0h1m-54 1h1m6 0h1m6 0h1m10 0h1m5 0h1m2 0h1m2 0h3m-49 1h1m16 0h1m25 0h2m11 0h1m-46 1h2m2 0h1m4 0h1m-45 1h1m35 0h3m9 0h1m14 0h1m10 0h1m-40 1h1m6 0h1m11 0h1m2 0h1m19 0h1m-24 1h3m4 0h1m3 0h1m8 0h1m-4 1h1m-36 1h1m16 0h3m2 0h1m13 0h1m2 0h2m-43 1h1m22 0h1m11 0h1m6 0h1m-49 1h1m5 0h1m30 0h1m-36 1h1m44 1h1m-36 1h1m-7 1h1m43 0h1m-42 1h1m37 0h1m-40 2h1m43 0h1m-7 1h1m-41 1h1m1 0h1m-11 1h2m2 0h1m47 0h1m-2 1h1m-41 2h1m1 0h1m37 0h1m3 0h1m-47 1h1m5 0h1m-6 1h1m39 0h1m-38 1h2m1 0h1m32 0h1m-42 1h1m2 0h1m20 0h1m-2 2h1m11 0h2m3 0h1m1 0h1m-18 1h1m-9 3h1m4 0h1m0 1h1m-2 1h1m-11 1h2m-13 1h1m4 0h1m7 0h1m-13 1h1m8 0h1m-2 3h1m-1 1h1m13 3h1"/>
<path stroke="#98d83e" d="M149 27.5h1m27 10h1m0 2h1m-3 1h2m-1 1h1m-13 1h1m7 0h1m2 0h1m1 0h2m-56 1h2m34 0h1m5 0h1m-40 1h2m25 0h1m3 0h1m12 0h2m-51 1h1m6 0h1m2 0h2m21 0h1m3 0h1m-28 1h1m24 0h1m2 0h1m14 0h1m-56 1h1m13 0h1m18 0h1m2 0h1m4 0h1m1 0h1m-48 1h1m14 0h1m22 0h1m-46 1h1m6 0h1m1 0h1m13 0h1m31 0h2m1 0h1m1 0h1m6 0h1m1 0h1m-58 1h1m13 0h1m18 0h1m1 0h1m2 0h1m5 0h1m1 0h1m7 0h1m-60 1h3m11 0h1m33 0h1m2 0h2m-36 1h2m2 0h1m17 0h1m12 0h2m1 0h1m2 0h2m1 0h1m-56 1h1m1 0h1m12 0h1m12 0h1m9 0h1m10 0h1m-55 1h1m2 0h3m41 0h1m6 0h1m1 0h3m-62 1h2m4 0h1m7 0h1m10 0h1m28 0h1m2 0h1m1 0h2m-66 1h2m13 0h1m15 0h1m36 0h1m-68 1h1m1 0h1m4 0h2m4 0h1m5 0h1m25 0h1m4 0h1m-54 1h1m10 0h1m4 0h1m7 0h1m2 0h1m2 0h1m1 0h1m1 0h1m1 0h1m1 0h1m23 0h1m1 0h1m3 0h3m-72 1h1m13 0h1m18 0h1m21 0h1m1 0h1m6 0h1m-68 1h1m1 0h1m5 0h1m1 0h1m1 0h1m23 0h1m1 0h1m12 0h2m6 0h2m-57 1h1m30 0h1m1 0h1m8 0h1m10 0h1m2 0h1m6 0h1m-64 1h2m3 0h1m2 0h1m1 0h1m10 0h1m10 0h1m2 0h1m3 0h1m3 0h2m18 0h1m-60 1h1m10 0h1m28 0h1m9 0h1m3 0h1m5 0h1m-67 1h1m2 0h1m9 0h1m2 0h1m1 0h1m1 0h1m1 0h1m6 0h1m9 0h1m28 0h1m-74 1h1m1 0h1m17 0h1m2 0h1m2 0h1m8 0h1m2 0h1m1 0h1m8 0h2m8 0h1m11 0h1m3 0h2m-78 1h1m7 0h1m5 0h1m2 0h1m16 0h1m6 0h1m4 0h1m2 0h1m11 0h1m6 0h1m2 0h1m1 0h1m1 0h1m-68 1h1m1 0h1m1 0h1m6 0h2m5 0h1m4 0h1m4 0h1m3 0h1m1 0h1m1 0h1m6 0h1m6 0h1m1 0h1m5 0h1m4 0h1m3 0h1m-68 1h1m12 0h1m2 0h1m12 0h1m2 0h1m2 0h2m11 0h1m8 0h1m5 0h1m-54 1h1m1 0h1m5 0h1m7 0h1m13 0h1m14 0h1m-44 1h1m6 0h1m9 0h1m1 0h1m14 0h1m3 0h1m3 0h1m16 0h2m-51 1h2m1 0h1m6 0h1m14 0h2m1 0h1m4 0h1m3 0h1m7 0h1m-47 1h2m3 0h1m16 0h1m14 0h1m1 0h1m-60 1h2m19 0h1m1 0h1m6 0h1m13 0h1m1 0h1m1 0h1m4 0h2m3 0h1m-22 1h1m3 0h1m1 0h1m-15 1h1m6 0h1m1 0h1m6 0h1m3 0h1m11 0h1m-18 1h1m1 0h1m1 0h2m2 0h1m14 0h1m-44 1h1m1 0h1m13 0h1m13 0h1m6 0h1m-26 1h1m12 0h1m3 0h1m2 0h2m-19 1h1m13 0h2m6 0h1m-27 1h2m1 0h1m5 0h2m1 0h2m5 0h2m-38 1h1m5 0h1m20 0h1m8 0h1m3 0h1m-28 1h2m21 0h1m-38 1h1m6 0h1m2 0h1m25 0h1m3 0h1m4 0h1m-9 1h1m-40 1h1m7 0h1m32 1h1m-34 1h1m37 0h2m-3 3h1m-50 1h1m8 0h1m36 0h1m2 0h1m-43 1h1m5 0h1m34 0h1m-38 1h1m0 1h1m35 0h1m-41 1h2m1 0h1m37 0h1m-43 1h1m1 0h1m4 0h1m34 0h1m-37 1h1m-6 1h1m0 1h1m31 0h1m6 0h1m-39 1h1m12 5h1m-4 2h1m-12 1h2m4 0h1m-6 1h1m1 0h1"/>
<path stroke="#aadc32" d="M177 35.5h2m-1 3h1m-2 1h1m-57 3h1m3 0h1m49 0h1m-14 1h1m11 0h1m-53 1h1m1 0h1m36 0h4m3 0h1m5 0h2m-51 1h2m1 0h1m1 0h1m26 0h1m2 0h1m3 0h1m6 0h1m3 0h1m-55 1h1m3 0h1m1 0h1m26 0h2m3 0h1m2 0h1m10 0h2m-52 1h1m5 0h2m2 0h1m20 0h2m1 0h1m1 0h1m4 0h1m6 0h1m-49 1h1m2 0h3m24 0h1m1 0h2m5 0h2m1 0h1m2 0h2m-50 1h1m1 0h2m1 0h3m27 0h1m2 0h1m3 0h2m6 0h1m-51 1h1m1 0h3m3 0h1m31 0h1m1 0h1m7 0h1m2 0h2m1 0h3m-59 1h2m1 0h2m4 0h1m23 0h1m3 0h2m4 0h1m1 0h1m3 0h1m5 0h2m-57 1h1m2 0h1m5 0h1m5 0h1m20 0h2m4 0h1m1 0h1m2 0h1m10 0h1m-61 1h1m1 0h1m8 0h1m3 0h1m1 0h1m18 0h1m1 0h1m2 0h1m3 0h2m3 0h1m4 0h1m2 0h2m-63 1h2m7 0h1m3 0h3m4 0h1m17 0h2m2 0h1m4 0h2m8 0h1m-65 1h1m12 0h1m1 0h1m1 0h1m4 0h1m1 0h1m21 0h1m15 0h1m4 0h1m-64 1h2m14 0h1m4 0h2m25 0h2m1 0h1m2 0h1m5 0h5m-68 1h1m10 0h1m6 0h1m4 0h2m6 0h1m13 0h1m9 0h1m2 0h1m4 0h2m4 0h1m-70 1h1m1 0h1m3 0h2m7 0h1m15 0h1m15 0h1m3 0h1m1 0h2m8 0h2m-64 1h1m1 0h1m3 0h1m2 0h1m12 0h1m1 0h2m4 0h1m5 0h1m6 0h1m6 0h1m3 0h2m6 0h1m3 0h2m-71 1h4m11 0h1m5 0h2m1 0h2m1 0h1m2 0h1m2 0h1m1 0h3m2 0h1m4 0h1m3 0h1m4 0h1m2 0h1m2 0h1m1 0h2m4 0h1m1 0h1m-70 1h1m3 0h1m9 0h1m1 0h2m2 0h4m3 0h1m6 0h2m4 0h1m3 0h4m6 0h1m1 0h1m4 0h1m6 0h1m-67 1h2m4 0h1m3 0h1m1 0h1m1 0h1m7 0h1m2 0h1m2 0h1m1 0h1m2 0h2m2 0h1m4 0h1m6 0h2m3 0h1m1 0h2m1 0h1m6 0h1m-71 1h1m11 0h1m9 0h3m1 0h1m10 0h2m1 0h5m2 0h1m2 0h1m1 0h2m2 0h1m7 0h1m1 0h1m-63 1h1m1 0h1m1 0h1m7 0h1m5 0h1m1 0h1m2 0h1m5 0h1m1 0h1m3 0h3m6 0h4m2 0h3m5 0h1m2 0h2m1 0h1m-76 1h1m15 0h1m8 0h2m2 0h5m1 0h1m1 0h1m15 0h1m2 0h1m1 0h1m2 0h1m1 0h3m1 0h1m1 0h2m2 0h1m-61 1h1m1 0h1m2 0h1m6 0h1m5 0h1m5 0h1m2 0h1m1 0h2m1 0h1m4 0h1m3 0h2m1 0h1m4 0h1m3 0h1m5 0h1m-62 1h1m4 0h1m4 0h1m10 0h1m2 0h1m2 0h2m5 0h3m2 0h1m16 0h1m1 0h1m2 0h1m-71 1h1m8 0h1m7 0h2m1 0h1m4 0h1m3 0h1m2 0h1m7 0h1m3 0h1m4 0h1m3 0h1m1 0h1m10 0h2m-49 1h1m1 0h1m4 0h1m2 0h1m1 0h1m4 0h2m4 0h1m9 0h1m1 0h3m10 0h1m-51 1h1m2 0h1m1 0h2m3 0h1m8 0h1m1 0h1m1 0h1m1 0h1m8 0h1m22 0h1m-61 1h1m17 0h2m2 0h2m4 0h1m3 0h1m1 0h1m2 0h2m13 0h3m-44 1h1m10 0h1m4 0h1m5 0h1m3 0h1m4 0h1m8 0h1m4 0h1m-42 1h1m4 0h3m4 0h2m2 0h2m1 0h1m1 0h1m3 0h1m4 0h1m4 0h1m1 0h1m2 0h1m-39 1h1m3 0h1m1 0h1m1 0h1m2 0h1m2 0h1m1 0h1m1 0h1m2 0h1m7 0h1m1 0h1m2 0h1m2 0h1m-40 1h4m1 0h1m2 0h1m8 0h2m1 0h1m1 0h1m2 0h1m3 0h1m2 0h3m2 0h2m-40 1h2m6 0h4m3 0h1m5 0h2m1 0h1m4 0h1m3 0h4m-37 1h2m4 0h1m4 0h1m2 0h1m5 0h2m4 0h1m-28 1h3m2 0h1m4 0h1m2 0h3m2 0h2m3 0h1m2 0h2m7 0h1m-39 1h1m14 0h1m1 0h1m5 0h1m5 0h2m1 0h2m5 0h2m-36 1h2m7 0h4m4 0h1m6 0h1m3 0h1m2 0h1m3 0h1m-35 1h1m1 0h1m7 0h1m15 0h1m3 0h1m2 0h2m-34 1h3m9 0h1m14 0h1m5 0h1m-36 1h1m9 0h1m21 0h3m-29 1h1m24 0h1m-27 1h1m1 0h1m24 0h1m-34 1h1m8 0h1m24 1h2m-33 1h1m1 0h1m30 0h1m3 0h1m-43 1h1m4 0h2m2 0h1m29 0h2m3 0h1m-46 1h1m1 0h2m2 0h2m1 0h1m31 0h1m1 0h1m-43 1h1m2 0h2m35 0h1m-49 1h2m7 0h1m1 0h1m2 0h1m28 0h1m1 0h1m-40 1h1m5 0h1m32 0h1m4 0h1m-37 1h1m-3 1h1m34 0h2m-13 2h1m-1 1h1m8 0h1m-9 1h4m1 0h3m2 0h1m-20 3h1m-8 4h1m4 0h1m-3 1h1m-11 1h1m10 0h1m-7 1h1"/>
<path stroke="#bade28" d="M175 41.5h1m-13 1h1m-41 1h1m39 0h3m7 0h1m1 0h1m-50 1h1m32 0h2m4 0h1m1 0h1m1 0h1m3 0h1m-51 1h2m38 0h1m1 0h1m1 0h3m2 0h2m-51 1h2m1 0h1m2 0h1m3 0h1m30 0h2m1 0h2m1 0h3m-52 1h1m2 0h4m30 0h1m1 0h1m4 0h5m2 0h1m-48 1h1m31 0h1m1 0h3m4 0h1m3 0h1m1 0h1m-49 1h1m29 0h1m2 0h1m1 0h3m6 0h1m3 0h1m-47 1h1m2 0h1m2 0h1m24 0h1m3 0h1m2 0h1m-43 1h1m2 0h1m1 0h2m2 0h1m2 0h1m19 0h2m5 0h1m-41 1h1m2 0h2m1 0h2m1 0h2m21 0h2m3 0h4m14 0h1m-52 1h3m2 0h2m2 0h1m1 0h1m25 0h1m6 0h1m5 0h1m-50 1h2m3 0h3m2 0h2m17 0h2m8 0h5m-48 1h1m3 0h2m5 0h3m1 0h2m16 0h4m2 0h1m1 0h2m1 0h2m1 0h1m6 0h2m-70 1h1m2 0h1m2 0h3m1 0h2m1 0h2m4 0h1m1 0h2m1 0h1m2 0h3m18 0h4m4 0h2m4 0h1m-63 1h1m2 0h1m1 0h1m1 0h1m3 0h1m2 0h1m5 0h1m2 0h1m3 0h4m17 0h2m1 0h1m2 0h1m2 0h2m1 0h4m-58 1h1m10 0h1m1 0h4m4 0h1m2 0h1m25 0h3m1 0h1m1 0h1m8 0h1m-65 1h1m6 0h6m1 0h1m1 0h1m4 0h1m1 0h1m5 0h2m1 0h1m7 0h1m1 0h3m6 0h4m1 0h1m-58 1h1m1 0h5m2 0h2m1 0h2m2 0h1m4 0h2m1 0h1m6 0h2m10 0h3m6 0h1m-61 1h1m8 0h4m1 0h1m2 0h1m2 0h2m4 0h2m2 0h2m6 0h4m9 0h3m6 0h3m2 0h1m-59 1h2m3 0h2m1 0h1m4 0h2m1 0h1m3 0h2m1 0h2m3 0h1m3 0h1m2 0h2m4 0h3m1 0h1m2 0h3m4 0h1m-57 1h2m10 0h1m6 0h1m2 0h1m1 0h1m1 0h2m1 0h2m9 0h1m2 0h1m1 0h1m2 0h1m7 0h2m-59 1h1m3 0h1m1 0h1m6 0h1m4 0h1m1 0h2m2 0h4m1 0h1m2 0h1m5 0h1m2 0h2m4 0h1m8 0h1m1 0h1m-59 1h1m1 0h2m22 0h1m1 0h1m1 0h5m5 0h1m1 0h2m3 0h1m11 0h1m2 0h1m-49 1h4m2 0h2m1 0h1m3 0h1m7 0h2m3 0h1m3 0h1m13 0h1m-44 1h1m1 0h2m3 0h1m13 0h1m3 0h2m1 0h3m10 0h1m-43 1h1m1 0h3m1 0h2m1 0h1m9 0h1m1 0h3m2 0h3m3 0h1m-32 1h1m7 0h1m1 0h1m8 0h2m1 0h5m1 0h1m-24 1h3m1 0h1m6 0h1m1 0h5m1 0h1m17 0h2m-35 1h2m3 0h3m1 0h3m1 0h1m2 0h1m20 0h1m-41 1h1m1 0h2m3 0h3m1 0h1m1 0h3m3 0h1m17 0h2m-37 1h1m6 0h1m2 0h1m5 0h1m2 0h1m14 0h1m-36 1h1m3 0h1m1 0h1m4 0h1m9 0h1m1 0h3m1 0h1m6 0h1m-28 1h1m1 0h2m5 0h1m1 0h1m4 0h1m1 0h1m2 0h1m-31 1h2m8 0h3m11 0h1m-25 1h1m1 0h1m2 0h4m1 0h1m12 0h1m4 0h3m1 0h1m-33 1h2m1 0h4m1 0h2m15 0h1m1 0h1m-30 1h5m2 0h1m1 0h2m1 0h1m14 0h1m3 0h1m-26 1h4m18 0h1m1 0h1m-26 1h6m2 0h1m15 0h3m2 0h1m-29 1h4m2 0h2m14 0h1m6 0h1m-32 1h2m1 0h4m1 0h1m16 0h2m-27 1h3m1 0h1m1 0h1m-10 1h1m1 0h2m2 0h1m1 0h1m-9 1h3m1 0h2m1 0h1m24 0h1m-35 1h3m1 0h2m1 0h4m23 0h1m4 0h1m-38 1h2m3 0h3m25 0h2m-37 1h3m4 0h1m25 0h1m1 0h2m-34 1h1m2 0h1m25 0h4m1 0h2m-47 1h1m11 0h1m27 0h3m3 0h1m-40 1h1m31 0h3m1 0h1m1 0h1m-40 1h2m30 0h1m6 0h3m-9 1h1m1 0h4m1 0h1m-9 1h3m2 0h3m-34 1h1m24 0h1m1 0h1m1 0h1m1 0h3m-10 1h2m1 0h6m2 0h1m-12 1h8"/>
<path stroke="#cde11d" d="M126 52.5h1m41 8h1m-35 20h1m24 13h1m1 2h2m-1 1h1"/>
</g>
<g transform="translate(149.40 349.80) scale(3.8000 4.3242)"><use href="#seam"/></g>
<text x="544.8" y="299.0" font-size="35" fill="#1a1a1a" text-anchor="middle" textLength="56.0" lengthAdjust="spacingAndGlyphs">est</text>
<rect x="982.0" y="251.9" width="828.0" height="68.9" fill="#d9d9d9"/>
<rect x="982.0" y="320.8" width="828.0" height="728.0" fill="#ebebeb"/>
<path d="M1182.8 320.8v728.0M1410.8 320.8v728.0M1638.8 320.8v728.0M982.0 349.8h828.0M982.0 453.6h828.0M982.0 557.4h828.0M982.0 661.1h828.0M982.0 764.9h828.0M982.0 868.7h828.0M982.0 972.5h828.0" stroke="#fff" stroke-width="4.45" fill="none"/>
<g transform="translate(1000.40 349.80) scale(3.8000 4.3242)" fill="none" stroke-width="1" shape-rendering="crispEdges">
<path stroke="#440154" d="M162 1.5h4m-10 1h13m-14 1h17m1 0h10m-28 1h29m-31 1h31m-36 1h37m-39 1h36m1 0h2m-40 1h38m1 0h1m-41 1h27m2 0h13m-42 1h27m1 0h2m1 0h11m-43 1h37m1 0h5m-44 1h29m1 0h1m2 0h12m-46 1h46m-48 1h7m1 0h40m-48 1h9m1 0h38m-52 1h52m-53 1h14m1 0h38m-54 1h9m2 0h44m-56 1h10m1 0h1m1 0h1m1 0h42m-58 1h9m1 0h2m1 0h45m-58 1h7m1 0h2m1 0h47m-58 1h4m1 0h1m4 0h12m2 0h35m-59 1h7m4 0h3m1 0h1m1 0h4m3 0h36m-60 1h7m4 0h1m1 0h2m2 0h3m5 0h35m-61 1h5m1 0h1m19 0h35m-61 1h9m3 0h1m11 0h38m-63 1h9m14 0h14m1 0h25m-64 1h10m12 0h2m1 0h40m-67 1h9m1 0h1m1 0h1m12 0h42m-67 1h8m1 0h4m6 0h1m5 0h17m1 0h9m1 0h14m-70 1h7m1 0h10m7 0h1m1 0h26m1 0h1m1 0h14m-72 1h9m1 0h8m1 0h1m6 0h1m1 0h1m1 0h21m2 0h3m1 0h1m4 0h2m1 0h7m-145 1h2m69 0h15m1 0h7m2 0h1m1 0h1m1 0h16m1 0h8m1 0h1m1 0h1m5 0h2m2 0h7m-145 1h3m68 0h9m2 0h3m3 0h2m2 0h2m2 0h1m2 0h21m2 0h2m1 0h3m1 0h1m3 0h4m1 0h7m-145 1h4m66 0h10m1 0h1m2 0h1m3 0h10m1 0h1m1 0h19m1 0h1m1 0h1m1 0h3m6 0h2m2 0h7m-145 1h5m65 0h10m1 0h2m5 0h5m2 0h1m3 0h22m2 0h5m6 0h1m1 0h9m-144 1h5m63 0h8m3 0h1m7 0h1m1 0h5m1 0h27m3 0h2m5 0h1m2 0h9m-145 1h7m62 0h2m1 0h2m11 0h1m3 0h2m1 0h1m2 0h1m1 0h19m1 0h4m1 0h1m3 0h1m5 0h11m1 0h1m-145 1h7m30 0h6m25 0h1m3 0h2m3 0h1m3 0h1m7 0h1m2 0h1m3 0h1m2 0h4m1 0h1m1 0h13m3 0h1m1 0h1m7 0h1m1 0h11m-145 1h8m27 0h1m1 0h7m24 0h1m1 0h2m23 0h4m1 0h2m5 0h11m1 0h1m1 0h1m9 0h1m1 0h12m-145 1h9m25 0h1m3 0h5m1 0h2m22 0h1m1 0h2m2 0h1m21 0h3m3 0h1m4 0h4m1 0h3m4 0h1m4 0h1m8 0h12m-145 1h9m24 0h1m1 0h5m1 0h3m23 0h2m25 0h4m2 0h1m6 0h3m2 0h1m11 0h1m9 0h11m-145 1h9m25 0h12m4 0h1m16 0h1m1 0h1m21 0h1m5 0h3m2 0h1m29 0h1m1 0h11m-145 1h9m24 0h13m3 0h1m1 0h2m15 0h1m1 0h1m24 0h1m1 0h1m1 0h1m32 0h1m1 0h11m-145 1h9m23 0h13m3 0h4m1 0h1m1 0h1m2 0h1m9 0h1m27 0h2m34 0h4m1 0h7m-144 1h10m22 0h2m1 0h12m4 0h2m42 0h3m34 0h2m5 0h5m-144 1h11m21 0h3m1 0h7m1 0h1m1 0h4m1 0h1m41 0h5m34 0h2m8 0h2m-144 1h11m21 0h19m1 0h1m40 0h6m1 0h1m-101 1h2m1 0h7m20 0h11m2 0h5m1 0h4m7 0h1m29 0h1m5 0h1m2 0h1m2 0h2m-103 1h10m17 0h1m1 0h22m44 0h1m1 0h1m-99 1h10m19 0h24m2 0h1m37 0h1m1 0h1m1 0h2m4 0h1m-104 1h9m17 0h10m1 0h12m6 0h1m39 0h5m-100 1h8m17 0h17m1 0h10m2 0h1m-56 1h8m16 0h11m1 0h14m1 0h3m42 0h1m5 0h1m19 0h1m-123 1h8m15 0h23m1 0h1m1 0h2m1 0h1m52 0h1m-106 1h8m13 0h1m1 0h1m1 0h1m1 0h13m1 0h13m-54 1h8m1 0h3m4 0h2m2 0h5m1 0h28m43 0h1m3 0h1m43 0h1m-146 1h29m1 0h22m1 0h1m90 0h11m-155 1h20m1 0h4m1 0h1m1 0h26m90 0h11m-155 1h31m1 0h20m2 0h1m89 0h11m-155 1h39m1 0h7m1 0h3m2 0h1m90 0h11m-155 1h31m2 0h5m1 0h1m2 0h6m1 0h4m81 0h1m9 0h10m-154 1h32m1 0h1m1 0h4m2 0h1m1 0h5m4 0h1m84 0h4m3 0h10m-154 1h40m1 0h7m89 0h16m-154 1h31m1 0h1m1 0h4m1 0h1m2 0h4m1 0h1m90 0h16m-154 1h32m1 0h6m1 0h6m1 0h1m81 0h1m5 0h1m1 0h17m-154 1h43m1 0h1m4 0h1m81 0h1m5 0h1m1 0h14m-153 1h41m2 0h1m92 0h1m2 0h14m-153 1h4m1 0h2m1 0h34m84 0h1m2 0h1m6 0h1m1 0h15m-153 1h41m4 0h1m4 0h1m1 0h1m62 0h1m17 0h1m2 0h8m1 0h8m-153 1h42m20 0h2m70 0h1m2 0h1m1 0h14m-190 1h4m33 0h43m3 0h1m8 0h1m72 0h1m8 0h15m-190 1h6m32 0h43m14 0h1m79 0h2m1 0h5m1 0h6m-190 1h8m30 0h38m1 0h3m3 0h1m3 0h1m8 0h3m7 0h1m1 0h2m2 0h1m59 0h1m3 0h7m1 0h6m-190 1h8m30 0h42m6 0h1m8 0h4m5 0h1m4 0h1m4 0h1m49 0h1m10 0h1m1 0h1m1 0h10m-189 1h8m30 0h42m7 0h1m4 0h2m1 0h4m4 0h1m67 0h1m2 0h1m2 0h12m-192 1h11m26 0h41m1 0h2m1 0h2m10 0h3m1 0h2m2 0h2m1 0h1m1 0h1m70 0h1m1 0h12m-193 1h12m25 0h46m1 0h1m1 0h1m3 0h1m5 0h3m3 0h1m3 0h3m7 0h1m53 0h1m8 0h2m1 0h10m-192 1h13m23 0h49m1 0h3m6 0h2m1 0h2m1 0h1m1 0h1m3 0h1m3 0h1m53 0h1m9 0h2m1 0h14m-191 1h15m18 0h46m1 0h2m1 0h2m1 0h2m5 0h1m1 0h5m1 0h1m63 0h1m3 0h2m3 0h2m1 0h12m-188 1h18m13 0h55m4 0h1m3 0h3m1 0h2m1 0h1m5 0h3m1 0h1m53 0h2m1 0h1m2 0h4m1 0h11m-187 1h30m1 0h47m1 0h7m3 0h5m1 0h2m2 0h3m4 0h1m2 0h1m53 0h4m1 0h1m1 0h7m1 0h7m-184 1h90m2 0h3m2 0h1m6 0h1m2 0h2m54 0h2m3 0h15m-182 1h81m1 0h11m1 0h1m1 0h1m1 0h1m2 0h2m1 0h2m56 0h2m1 0h1m1 0h13m-180 1h82m1 0h6m1 0h2m4 0h1m1 0h2m4 0h1m1 0h1m56 0h1m1 0h4m1 0h9m-178 1h87m1 0h1m2 0h3m1 0h2m6 0h2m48 0h1m8 0h15m-177 1h36m1 0h49m1 0h5m1 0h4m1 0h1m1 0h1m1 0h1m12 0h1m47 0h13m-176 1h36m1 0h41m2 0h5m1 0h1m1 0h3m1 0h9m1 0h1m1 0h1m59 0h1m1 0h2m3 0h4m-174 1h85m1 0h3m3 0h3m2 0h1m1 0h3m1 0h2m10 0h1m49 0h1m3 0h4m-173 1h80m1 0h7m3 0h8m2 0h4m1 0h1m5 0h1m52 0h1m3 0h3m-171 1h78m1 0h1m1 0h7m1 0h2m2 0h1m1 0h1m4 0h1m2 0h2m53 0h1m4 0h1m3 0h3m-170 1h44m1 0h47m3 0h3m1 0h4m61 0h1m1 0h4m-170 1h86m1 0h7m1 0h3m4 0h6m56 0h2m1 0h2m-168 1h40m1 0h53m1 0h14m53 0h6m-168 1h110m1 0h1m50 0h5m-167 1h43m1 0h40m1 0h5m1 0h18m49 0h1m2 0h1m1 0h4m-166 1h95m1 0h6m1 0h5m49 0h3m4 0h1m-165 1h43m1 0h58m2 0h5m13 0h1m35 0h3m1 0h2m-163 1h37m1 0h38m1 0h24m1 0h5m1 0h1m7 0h1m1 0h1m2 0h1m37 0h4m-163 1h112m6 0h1m1 0h1m35 0h1m1 0h1m2 0h1m-162 1h54m1 0h56m3 0h1m1 0h2m1 0h1m34 0h2m3 0h1m-159 1h57m1 0h12m1 0h36m1 0h1m5 0h2m26 0h3m7 0h5m1 0h2m-159 1h102m1 0h5m1 0h1m3 0h2m1 0h1m17 0h1m5 0h5m4 0h2m1 0h2m1 0h3m-158 1h59m1 0h11m2 0h5m1 0h20m1 0h9m5 0h1m26 0h5m1 0h1m1 0h3m1 0h5m-157 1h69m3 0h5m1 0h21m1 0h3m2 0h4m3 0h1m20 0h1m6 0h6m3 0h7m-156 1h43m2 0h4m1 0h3m1 0h5m1 0h8m1 0h1m4 0h2m2 0h27m1 0h4m2 0h2m19 0h1m1 0h1m2 0h1m1 0h13m1 0h1m-154 1h41m2 0h5m1 0h6m2 0h12m1 0h1m3 0h1m4 0h3m1 0h19m5 0h1m1 0h1m26 0h2m1 0h7m1 0h6m-152 1h72m3 0h2m1 0h4m1 0h1m3 0h13m22 0h1m10 0h4m1 0h9m1 0h4m-152 1h43m1 0h9m1 0h9m1 0h3m1 0h3m1 0h1m2 0h5m3 0h1m1 0h3m1 0h10m1 0h3m30 0h17m-149 1h33m1 0h1m1 0h27m1 0h2m3 0h1m7 0h2m3 0h1m1 0h17m27 0h1m2 0h18m-148 1h34m1 0h9m1 0h18m2 0h1m2 0h1m5 0h1m3 0h12m1 0h9m10 0h1m17 0h18m-146 1h44m1 0h18m2 0h1m8 0h2m1 0h1m1 0h1m1 0h17m2 0h2m1 0h1m16 0h3m4 0h1m1 0h13m1 0h3m-145 1h63m11 0h1m2 0h4m1 0h2m1 0h12m1 0h2m1 0h7m8 0h1m2 0h1m1 0h1m5 0h16m-142 1h53m1 0h3m1 0h3m2 0h5m5 0h1m2 0h2m1 0h18m3 0h1m1 0h6m3 0h10m5 0h15m-140 1h59m2 0h1m1 0h3m1 0h1m4 0h1m1 0h1m2 0h1m1 0h13m2 0h4m1 0h6m5 0h1m2 0h7m1 0h1m3 0h13m-137 1h52m1 0h14m2 0h1m1 0h1m1 0h1m3 0h11m1 0h4m1 0h2m2 0h7m1 0h14m4 0h12m-136 1h52m1 0h15m3 0h1m5 0h1m1 0h14m3 0h5m1 0h1m1 0h1m1 0h15m4 0h10m-134 1h63m1 0h4m1 0h4m2 0h5m2 0h20m1 0h1m1 0h1m1 0h16m2 0h8m-133 1h64m2 0h1m1 0h1m2 0h2m2 0h6m1 0h18m1 0h3m1 0h3m3 0h21m-132 1h63m2 0h1m1 0h1m4 0h2m1 0h4m1 0h12m1 0h4m4 0h3m3 0h24m-131 1h60m1 0h1m4 0h4m1 0h26m1 0h1m3 0h2m1 0h25m-130 1h61m1 0h1m2 0h35m2 0h2m4 0h21m-129 1h1m1 0h101m5 0h1m1 0h18m-128 1h102m2 0h1m4 0h18m-126 1h98m1 0h1m1 0h1m3 0h1m1 0h1m1 0h16m-126 1h102m2 0h1m1 0h19m-125 1h1m1 0h96m2 0h2m2 0h1m4 0h15m-129 1h3m1 0h94m1 0h5m1 0h2m2 0h2m2 0h14m-127 1h95m1 0h11m1 0h18m-126 1h103m1 0h3m1 0h16m-124 1h123m-123 1h122m-121 1h24m1 0h94m-118 1h23m1 0h2m1 0h90m-116 1h114m-114 1h14m1 0h5m1 0h1m1 0h89m-110 1h12m1 0h96m-109 1h28m1 0h78m-106 1h103m-102 1h99m-100 1h64m1 0h25m5 0h4m-99 1h28m1 0h59m-88 1h22m2 0h10m1 0h5m1 0h48m-90 1h13m1 0h9m1 0h7m1 0h1m1 0h29m3 0h15m4 0h5m-90 1h4m2 0h7m1 0h1m1 0h1m1 0h1m1 0h7m2 0h2m3 0h13m9 0h1m2 0h3m10 0h8m-79 1h2m3 0h8m1 0h32m28 0h5m-79 1h2m3 0h4m1 0h1m1 0h32m-43 1h1m3 0h38m-34 1h22m3 0h3m-25 1h14m-15 1h14m-11 1h9m-8 1h6"/>
<path stroke="#460a5d" d="M183 8.5h1m-13 1h1m2 1h1m5 1h1m-10 1h1m1 0h2m-27 3h1m-1 2h1m-7 1h2m2 1h1m-7 1h1m2 0h1m-6 1h1m2 0h1m-7 1h1m1 0h1m15 0h2m-10 1h1m1 0h1m4 0h1m-13 1h1m10 0h1m-14 1h2m1 0h1m1 0h1m1 0h3m7 0h1m-15 1h1m7 0h1m3 0h1m-16 1h1m27 0h1m-29 1h1m13 0h1m-18 1h1m1 0h1m1 0h1m3 0h1m-3 1h1m6 0h1m1 0h1m17 0h1m9 0h1m-49 1h1m15 0h2m1 0h1m28 0h1m-49 1h1m8 0h1m1 0h1m1 0h4m1 0h1m1 0h1m21 0h2m3 0h1m1 0h1m1 0h2m2 0h1m-52 1h1m7 0h2m3 0h1m16 0h1m8 0h1m1 0h1m2 0h1m5 0h2m-58 1h2m3 0h1m1 0h1m2 0h2m2 0h2m1 0h1m23 0h1m2 0h1m3 0h1m8 0h1m-56 1h2m36 0h1m3 0h1m3 0h1m8 0h1m-58 1h1m4 0h3m5 0h2m1 0h3m22 0h2m6 0h1m2 0h1m-55 1h1m5 0h1m1 0h2m7 0h1m27 0h2m3 0h1m3 0h1m1 0h2m-65 1h1m4 0h1m1 0h1m2 0h1m1 0h1m2 0h1m1 0h1m2 0h1m1 0h2m1 0h1m19 0h1m6 0h1m3 0h1m15 0h1m-108 1h1m34 0h1m8 0h1m3 0h3m4 0h1m1 0h1m1 0h1m1 0h2m4 0h1m1 0h1m13 0h3m3 0h1m5 0h1m1 0h1m-98 1h1m35 0h1m6 0h2m3 0h1m2 0h2m10 0h1m3 0h2m1 0h1m13 0h1m1 0h1m1 0h1m5 0h1m1 0h1m-98 1h3m5 0h1m25 0h1m2 0h1m12 0h3m1 0h2m2 0h3m3 0h3m9 0h1m3 0h3m2 0h4m8 0h1m-99 1h1m5 0h1m3 0h2m23 0h2m13 0h3m6 0h1m5 0h1m1 0h1m1 0h2m1 0h1m4 0h1m1 0h1m7 0h1m-89 1h1m13 0h3m18 0h1m12 0h1m2 0h1m4 0h2m4 0h2m34 0h1m-84 1h1m1 0h1m14 0h1m1 0h1m1 0h1m1 0h1m3 0h1m6 0h1m5 0h1m2 0h1m10 0h1m15 0h1m12 0h1m1 0h1m-89 1h3m4 0h1m1 0h1m2 0h1m15 0h1m14 0h1m1 0h1m3 0h1m3 0h1m15 0h1m15 0h1m-97 1h1m12 0h1m2 0h1m2 0h1m2 0h1m12 0h1m19 0h2m1 0h2m4 0h1m2 0h1m1 0h1m4 0h1m-74 1h1m7 0h1m1 0h1m4 0h1m1 0h1m3 0h2m10 0h1m5 0h1m13 0h1m11 0h2m1 0h1m18 0h1m7 0h2m-81 1h1m8 0h1m8 0h1m3 0h1m11 0h1m2 0h1m1 0h1m1 0h1m8 0h1m2 0h1m26 0h3m-132 1h1m7 0h1m30 0h2m5 0h1m13 0h2m25 0h1m1 0h1m5 0h2m2 0h1m23 0h1m-126 1h1m28 0h1m27 0h3m1 0h1m1 0h1m13 0h1m7 0h1m3 0h1m2 0h1m1 0h1m2 0h1m1 0h2m1 0h3m-52 1h1m5 0h1m2 0h1m31 0h1m1 0h1m2 0h1m1 0h2m20 0h1m-88 1h1m12 0h1m1 0h1m9 0h3m4 0h1m48 0h1m-76 1h1m10 0h1m6 0h3m1 0h2m24 0h1m6 0h1m3 0h1m17 0h1m-85 1h1m14 0h1m3 0h1m5 0h1m2 0h1m34 0h1m-53 1h1m1 0h1m2 0h1m1 0h1m1 0h1m5 0h1m19 0h1m6 0h1m5 0h1m7 0h1m1 0h1m-83 1h1m1 0h1m1 0h1m13 0h1m13 0h1m1 0h1m41 0h1m3 0h1m3 0h2m12 0h1m-96 1h1m47 0h1m19 0h1m6 0h1m4 0h1m-54 1h1m12 0h1m18 0h1m25 0h1m2 0h1m-94 1h1m4 0h1m1 0h1m26 0h1m2 0h1m-27 1h1m20 0h2m19 0h1m3 0h1m-27 1h1m34 0h1m-56 1h2m7 0h2m6 0h1m4 0h1m3 0h1m19 0h1m-46 1h1m1 0h1m4 0h1m2 0h1m5 0h4m1 0h1m3 0h1m8 0h1m1 0h1m8 0h1m9 0h1m18 0h1m11 0h1m9 0h1m3 0h2m2 0h1m-88 1h1m81 0h1m1 0h1m-104 1h1m1 0h1m4 0h1m1 0h2m4 0h1m22 0h1m44 0h1m22 0h1m-106 1h1m6 0h1m6 0h1m1 0h1m72 0h1m14 0h1m-94 1h1m1 0h1m31 0h1m36 0h1m20 0h2m1 0h1m-98 1h2m2 0h2m2 0h1m87 0h2m-135 1h1m2 0h1m35 0h1m2 0h1m3 0h1m43 0h1m2 0h1m29 0h1m-87 1h1m2 0h1m19 0h2m2 0h1m4 0h1m13 0h1m14 0h1m1 0h1m24 0h1m4 0h1m9 0h1m-93 1h1m11 0h2m1 0h1m35 0h1m25 0h1m3 0h1m2 0h1m1 0h1m-88 1h1m6 0h1m2 0h1m2 0h1m1 0h1m54 0h1m7 0h1m3 0h1m1 0h2m-94 1h1m4 0h1m9 0h1m10 0h3m3 0h1m4 0h1m20 0h1m8 0h1m19 0h1m3 0h1m1 0h1m2 0h1m5 0h1m-108 1h1m7 0h3m4 0h1m3 0h1m4 0h1m1 0h3m14 0h2m35 0h1m6 0h1m2 0h2m6 0h1m8 0h1m-103 1h1m3 0h1m1 0h2m4 0h1m5 0h2m2 0h1m6 0h4m1 0h2m10 0h1m42 0h1m5 0h1m1 0h1m-97 1h2m2 0h1m3 0h1m3 0h1m4 0h4m1 0h2m3 0h1m2 0h1m1 0h1m53 0h1m3 0h2m2 0h1m-102 1h1m2 0h1m4 0h2m2 0h1m9 0h2m2 0h1m12 0h1m3 0h1m48 0h1m6 0h1m-96 1h1m1 0h1m1 0h2m5 0h2m3 0h3m1 0h2m6 0h1m56 0h1m2 0h3m4 0h1m2 0h1m-97 1h1m4 0h3m7 0h1m1 0h1m2 0h2m2 0h1m2 0h1m1 0h1m1 0h1m13 0h1m7 0h1m29 0h2m1 0h1m5 0h1m-98 1h1m5 0h1m3 0h1m1 0h2m7 0h1m3 0h2m3 0h1m1 0h1m48 0h1m1 0h3m2 0h2m2 0h1m1 0h1m2 0h1m-90 1h2m1 0h1m7 0h1m4 0h1m2 0h2m56 0h2m2 0h1m1 0h2m4 0h1m-98 1h1m7 0h1m10 0h2m3 0h2m1 0h1m11 0h1m36 0h1m12 0h1m1 0h1m7 0h1m-87 1h2m3 0h2m2 0h1m2 0h2m1 0h2m45 0h1m13 0h2m-74 1h1m3 0h1m1 0h2m2 0h1m8 0h1m16 0h1m30 0h1m3 0h1m-83 1h1m6 0h1m2 0h4m1 0h1m2 0h2m1 0h1m1 0h1m1 0h1m4 0h1m49 0h1m1 0h1m4 0h1m-82 1h1m1 0h2m3 0h1m3 0h5m4 0h3m4 0h1m2 0h1m42 0h2m-126 1h1m55 0h1m4 0h1m1 0h1m1 0h1m1 0h1m3 0h1m2 0h1m5 0h1m7 0h1m-89 1h1m41 0h2m5 0h1m1 0h1m13 0h1m1 0h1m3 0h2m5 0h2m40 0h2m5 0h1m1 0h1m4 0h1m-85 1h1m3 0h2m4 0h2m1 0h1m3 0h1m2 0h1m8 0h1m49 0h1m1 0h2m-88 1h1m9 0h1m8 0h1m5 0h1m58 0h1m2 0h2m-90 1h1m1 0h1m7 0h1m2 0h2m3 0h2m1 0h1m1 0h2m56 0h1m4 0h3m-123 1h1m47 0h2m4 0h1m4 0h4m12 0h1m39 0h1m1 0h1m1 0h1m1 0h1m-80 1h1m7 0h1m3 0h4m6 0h2m6 0h1m34 0h1m4 0h1m2 0h1m3 0h1m2 0h1m-126 1h1m53 0h1m17 0h1m48 0h1m-52 1h1m50 0h1m-119 1h1m40 0h1m24 0h2m6 0h1m3 0h1m25 0h1m5 0h1m8 0h1m-67 1h1m25 0h1m29 0h1m9 0h3m-121 1h1m58 0h2m12 0h1m3 0h2m16 0h1m14 0h1m3 0h1m3 0h1m-124 1h1m38 0h1m24 0h1m5 0h1m12 0h1m17 0h1m11 0h1m4 0h4m-47 1h1m2 0h1m1 0h1m1 0h1m1 0h1m32 0h2m1 0h1m1 0h1m-106 1h1m63 0h1m1 0h2m22 0h1m1 0h2m10 0h1m1 0h1m-103 1h1m12 0h1m36 0h1m2 0h1m5 0h1m3 0h1m1 0h1m13 0h1m3 0h1m4 0h1m5 0h1m5 0h1m-55 1h1m5 0h1m3 0h1m17 0h2m3 0h2m2 0h1m5 0h1m5 0h1m2 0h1m-96 1h1m11 0h1m6 0h1m20 0h1m11 0h2m19 0h3m3 0h2m6 0h1m1 0h1m3 0h1m-83 1h3m5 0h1m21 0h1m3 0h2m5 0h2m1 0h1m13 0h2m2 0h1m5 0h3m6 0h2m-105 1h2m4 0h1m3 0h1m5 0h1m8 0h1m1 0h3m32 0h1m4 0h2m12 0h2m6 0h1m1 0h1m2 0h1m1 0h1m13 0h1m-112 1h2m5 0h1m6 0h2m12 0h1m1 0h1m3 0h1m2 0h1m3 0h1m25 0h1m2 0h1m1 0h1m3 0h1m8 0h1m8 0h1m10 0h1m-72 1h1m2 0h1m6 0h1m1 0h1m13 0h2m5 0h1m9 0h1m14 0h1m4 0h1m9 0h1m-105 1h1m9 0h1m9 0h1m3 0h1m3 0h1m8 0h1m1 0h1m1 0h1m14 0h1m31 0h1m18 0h1m-117 1h1m1 0h1m27 0h1m2 0h2m3 0h1m3 0h2m2 0h3m1 0h1m37 0h1m4 0h1m2 0h1m-95 1h1m9 0h1m19 0h1m8 0h1m1 0h3m12 0h1m15 0h1m2 0h1m2 0h1m14 0h1m18 0h1m-103 1h1m21 0h3m4 0h1m2 0h1m1 0h1m1 0h1m17 0h1m3 0h1m1 0h4m9 0h1m10 0h1m13 0h1m-76 1h2m2 0h1m10 0h1m2 0h1m32 0h1m2 0h1m1 0h1m2 0h2m-73 1h1m3 0h1m3 0h2m5 0h1m5 0h1m3 0h1m18 0h1m3 0h1m20 0h1m2 0h1m-66 1h2m1 0h1m3 0h1m6 0h1m1 0h2m1 0h1m13 0h2m4 0h1m6 0h3m1 0h1m1 0h2m7 0h1m-68 1h1m14 0h2m3 0h1m2 0h2m11 0h1m4 0h1m2 0h2m7 0h1m14 0h1m-69 1h1m15 0h2m2 0h1m1 0h3m1 0h1m14 0h3m5 0h1m1 0h1m17 0h2m1 0h1m-61 1h1m4 0h1m4 0h2m5 0h1m21 0h1m3 0h1m17 0h1m-58 1h1m1 0h2m2 0h1m7 0h1m18 0h1m7 0h1m1 0h1m-47 1h1m1 0h1m1 0h2m1 0h1m2 0h1m4 0h1m12 0h1m4 0h4m3 0h3m-47 1h1m1 0h1m7 0h1m26 0h1m1 0h3m2 0h1m-44 1h1m38 0h1m3 0h1m1 0h2m-107 1h1m101 0h2m4 0h1m-8 1h2m3 0h2m-10 1h1m7 0h1m1 0h1m-8 1h2m1 0h1m-105 1h1m96 0h2m2 0h1m2 0h4m-7 1h2m2 0h2m-18 1h1m11 0h1m-5 1h1m3 0h1m-83 3h1m-1 1h1m-9 2h1m5 0h1m1 0h1m44 5h1m-37 1h1m-6 1h1m10 0h1m5 0h1m-29 1h1m9 0h1m7 0h1m1 0h1m-21 1h1m1 0h1m3 0h1m7 0h2m2 0h3m-24 2h1m1 0h1"/>
<path stroke="#481467" d="M172 9.5h1m-2 1h1m-26 4h1m-5 5h1m-4 3h2m-3 1h2m-2 1h1m4 0h1m8 0h1m1 0h1m-20 1h1m1 0h1m4 0h1m6 0h2m3 0h1m-16 1h1m-1 1h1m8 1h1m-2 1h1m1 0h2m-12 1h2m8 0h1m-9 1h2m33 0h1m-32 2h1m22 1h1m11 0h1m-53 1h1m4 0h3m12 0h1m21 0h1m10 0h1m2 0h1m-54 1h1m44 0h1m6 0h1m-136 1h1m80 0h3m1 0h1m3 0h1m35 0h1m4 0h2m-58 1h2m1 0h1m1 0h1m41 0h1m9 0h1m-63 1h1m8 0h2m10 0h1m32 0h1m-42 1h1m2 0h1m3 0h1m2 0h2m8 0h1m2 0h1m12 0h1m4 0h1m-43 1h1m2 0h1m20 0h2m18 0h1m4 0h1m-60 1h1m9 0h1m8 0h2m6 0h1m3 0h1m11 0h1m14 0h1m2 0h1m-87 1h1m23 0h1m12 0h1m1 0h1m2 0h1m15 0h1m15 0h1m8 0h1m-49 1h1m11 0h1m2 0h1m1 0h1m-43 1h1m12 0h3m11 0h1m11 0h1m6 0h1m-54 1h1m9 0h1m6 0h1m19 0h3m13 0h1m10 0h1m17 0h1m-73 1h1m5 0h1m21 0h1m1 0h2m1 0h1m5 0h1m3 0h1m22 0h1m-73 1h1m5 0h1m10 0h1m13 0h1m2 0h1m11 0h1m2 0h2m15 0h1m10 0h1m-75 1h1m1 0h2m21 0h1m11 0h2m5 0h1m4 0h1m26 0h1m-81 1h1m35 0h1m2 0h1m9 0h1m-74 1h1m60 0h1m2 0h1m7 0h1m-51 1h1m6 0h1m2 0h1m5 0h1m2 0h1m21 0h1m1 0h2m6 0h2m-47 1h2m1 0h1m6 0h1m8 0h1m4 0h1m15 0h1m1 0h1m23 0h1m-67 1h2m28 0h1m13 0h2m1 0h2m-47 1h1m38 0h1m5 0h1m-45 1h1m39 0h1m-46 1h1m21 0h1m1 0h1m12 0h1m6 0h1m-70 1h1m24 0h2m44 0h2m7 0h1m20 0h1m-75 1h1m36 0h1m-38 1h1m1 0h1m-20 1h1m12 0h1m1 0h1m11 0h1m63 0h1m-93 1h1m15 0h1m3 0h1m65 0h1m8 0h1m-62 1h1m2 0h1m13 0h1m44 0h2m-96 1h1m9 0h1m1 0h1m18 0h1m57 0h1m4 0h2m-89 1h1m50 0h1m-10 1h1m-45 1h1m5 0h1m81 0h1m-91 1h1m89 0h2m-94 1h1m6 0h1m2 0h2m9 0h1m1 0h1m22 0h1m24 0h1m20 0h2m1 0h1m-95 1h1m16 0h1m1 0h1m72 0h1m-94 1h1m17 0h2m70 0h1m-83 1h1m9 0h1m1 0h2m62 0h1m3 0h2m-88 1h1m4 0h1m5 0h1m3 0h2m2 0h3m10 0h1m16 0h1m32 0h2m3 0h1m3 0h1m-94 1h3m5 0h1m3 0h1m6 0h1m10 0h1m3 0h1m40 0h1m9 0h1m5 0h1m3 0h1m-85 1h2m8 0h1m3 0h1m19 0h1m39 0h1m3 0h1m2 0h3m-95 1h1m8 0h1m1 0h1m21 0h1m2 0h1m8 0h1m37 0h1m1 0h1m1 0h1m2 0h1m4 0h1m-94 1h1m7 0h1m12 0h1m8 0h1m2 0h1m32 0h1m15 0h1m5 0h2m-87 1h1m30 0h1m34 0h1m11 0h1m7 0h1m1 0h1m-89 1h1m3 0h1m3 0h1m10 0h1m1 0h1m12 0h1m5 0h1m36 0h2m4 0h1m1 0h1m-92 1h1m19 0h2m3 0h1m12 0h1m37 0h1m7 0h1m5 0h1m-84 1h1m2 0h3m6 0h1m2 0h2m5 0h1m2 0h1m3 0h1m19 0h1m9 0h1m-61 1h2m5 0h1m9 0h1m3 0h1m1 0h1m-10 1h1m64 0h1m-84 1h1m13 0h1m10 0h4m56 0h1m-65 1h1m6 0h2m2 0h1m3 0h1m-20 1h1m25 0h1m-20 1h2m2 0h1m3 0h1m42 0h1m6 0h1m-72 1h1m14 0h1m9 0h1m45 0h1m5 0h1m-10 1h1m4 0h1m-76 1h2m10 0h1m6 0h1m45 0h1m9 0h1m2 0h1m-68 1h1m6 0h2m7 0h1m36 0h2m8 0h1m-49 1h1m48 0h1m-53 1h1m37 0h1m-38 1h1m8 0h1m47 1h1m-65 2h1m5 0h1m46 0h2m-42 1h1m-5 1h1m3 0h2m38 0h1m-18 1h1m-27 1h1m3 0h1m6 0h1m19 0h1m9 0h1m3 0h2m-48 1h1m3 0h1m3 0h2m14 0h1m7 0h1m-26 1h1m1 0h1m29 0h1m-76 1h1m36 0h2m2 0h1m1 0h1m1 0h1m17 0h1m-20 1h2m15 0h1m1 0h1m13 0h1m-76 1h1m40 0h1m2 0h1m1 0h1m1 0h1m4 0h1m9 0h1m-64 1h1m3 0h1m25 0h1m3 0h1m7 0h1m18 0h1m4 0h1m-65 1h1m11 0h1m16 0h2m6 0h1m14 0h1m2 0h2m1 0h1m-44 1h1m14 0h2m7 0h1m4 0h1m6 0h1m-54 1h1m31 0h1m7 0h1m19 0h1m-67 1h1m3 0h1m1 0h1m30 0h2m19 0h3m-61 1h1m8 0h1m26 0h1m8 0h2m8 0h1m-55 1h3m2 0h2m2 0h1m24 0h1m2 0h1m13 0h1m3 0h1m-49 1h1m2 0h1m25 0h2m8 0h1m12 0h1m-53 1h1m2 0h1m-1 1h1m51 0h1m-53 1h1m2 0h1m31 0h1m-24 1h1m41 0h1m-60 1h1m9 0h1m34 0h1m-40 1h1m-8 1h1m1 0h1m-3 1h1m37 3h1m1 2h1m-11 1h1m-71 6h1m-12 3h1m10 6h1m-7 2h1m-4 1h1"/>
<path stroke="#481c6e" d="M182 7.5h1m-39 12h1m-7 3h1m0 2h1m1 0h1m4 0h2m-8 1h1m3 0h1m7 0h2m-13 2h1m8 0h1m-12 1h1m3 0h2m0 1h1m-12 1h1m10 1h1m-4 1h1m37 0h1m-4 1h1m1 0h1m1 0h1m-36 2h1m30 0h1m1 0h1m-2 1h2m-55 1h1m4 1h1m45 0h1m-59 1h1m5 0h1m6 0h1m10 0h1m32 0h2m-60 1h1m3 0h1m1 0h1m5 0h1m1 0h1m7 0h1m33 0h1m-51 1h1m3 0h1m11 0h1m26 0h1m-47 1h1m6 0h2m6 0h1m22 0h1m5 0h1m-46 1h1m15 0h1m4 0h3m6 0h1m5 0h1m1 0h1m13 0h1m6 0h1m2 0h1m-88 1h1m6 0h1m10 0h1m18 0h4m5 0h1m1 0h1m5 0h1m2 0h1m-41 1h1m23 0h1m1 0h1m9 0h1m3 0h2m26 0h1m-74 1h1m1 0h1m1 0h1m5 0h1m1 0h1m23 0h1m5 0h1m29 0h1m-73 1h1m1 0h1m22 0h1m15 0h1m-44 1h1m4 0h1m1 0h2m21 0h1m4 0h1m-37 1h1m1 0h1m11 0h1m16 0h1m1 0h1m6 0h1m-43 1h1m6 0h1m-5 1h1m1 0h1m2 0h1m1 0h1m-12 1h1m3 0h1m2 0h1m11 0h1m31 0h1m-46 1h1m25 0h1m10 0h1m3 0h2m2 0h1m14 0h1m10 1h1m-73 1h1m35 0h1m2 0h1m2 0h1m1 0h1m12 0h1m-18 1h1m2 0h1m20 0h1m-54 1h1m25 0h1m1 0h1m6 0h1m23 0h1m-72 1h1m1 0h1m40 0h1m7 0h1m11 0h1m-18 2h1m9 0h1m10 0h1m-77 1h1m8 0h2m4 0h1m45 0h1m22 0h1m-34 1h1m6 0h1m17 0h1m6 0h1m-16 1h1m14 0h2m-74 1h1m6 0h1m64 0h1m5 0h1m-89 1h2m3 0h1m17 0h1m62 0h1m-86 1h1m3 0h2m59 0h1m18 0h1m-88 1h1m17 0h1m-8 1h1m32 0h1m23 0h1m-71 1h1m1 0h2m10 0h1m16 0h1m18 0h1m24 0h1m4 0h1m-79 1h1m13 0h1m18 0h1m45 0h1m-83 1h1m6 0h1m74 0h1m-82 1h1m10 0h2m10 0h1m2 0h1m4 0h1m20 0h1m27 0h1m1 0h1m4 0h1m1 0h1m-85 1h2m21 0h2m4 0h1m12 0h1m32 0h1m-71 1h2m10 0h1m10 0h1m53 0h1m2 0h1m-91 1h2m4 0h1m4 0h1m7 0h1m3 0h1m25 0h1m30 0h1m3 0h2m2 0h1m-87 1h1m2 0h1m19 0h1m1 0h2m3 0h1m42 0h1m10 0h1m-89 1h1m3 0h2m18 0h1m1 0h2m1 0h1m2 0h1m2 0h2m47 0h1m2 0h1m7 0h1m-90 1h2m16 0h2m1 0h1m1 0h1m2 0h2m24 0h1m17 0h1m4 0h1m-63 1h1m8 0h1m40 0h1m8 0h2m5 0h1m2 0h1m-85 1h1m1 0h1m19 0h1m3 0h2m21 1h1m25 0h1m-52 1h1m6 0h1m40 0h2m-62 1h1m2 0h1m7 0h2m7 0h1m-7 1h1m3 0h2m3 0h1m35 0h1m4 0h1m-54 1h1m46 0h1m5 0h1m-56 1h1m4 0h2m3 0h1m-30 1h1m69 0h1m-52 1h1m6 0h1m-21 1h1m14 0h1m1 0h1m4 0h1m40 0h1m13 0h1m-7 1h1m-68 1h1m67 0h1m-69 1h1m17 0h1m-3 2h1m42 0h1m-63 2h1m20 0h2m9 0h1m33 0h1m-46 1h2m8 0h1m-12 1h1m44 0h3m-47 1h1m2 0h1m23 0h1m-21 1h1m17 0h1m25 0h1m-28 1h1m2 0h2m-26 1h1m7 0h1m29 0h2m-39 1h1m7 0h1m-4 1h1m1 0h1m4 0h1m4 0h2m1 0h1m8 0h1m-17 1h1m1 0h2m8 0h1m-60 1h1m46 0h1m7 0h1m-58 1h1m3 0h1m25 0h1m8 0h1m8 0h1m1 0h1m1 0h1m1 0h1m2 0h1m1 0h1m1 0h1m-62 1h1m54 0h1m-55 1h1m7 0h1m41 0h1m1 0h1m1 0h2m3 0h1m-59 1h1m35 0h1m9 0h1m5 0h1m1 0h1m-61 1h1m3 0h1m1 0h1m29 0h1m14 0h1m-54 1h1m4 0h1m42 0h1m6 0h1m3 0h1m-52 1h1m1 0h1m1 0h2m36 0h1m9 0h2m-49 1h1m48 0h1m-2 1h1m1 0h1m-50 1h1m46 0h1m-17 2h1m-40 1h1m-3 1h1m0 2h1m36 0h1m3 1h3m-2 1h1m-3 1h2m-78 13h1"/>
<path stroke="#482576" d="M140 23.5h2m11 1h1m1 0h1m-8 1h1m2 0h1m-12 1h1m2 0h1m6 0h1m1 0h1m-13 1h1m10 0h1m-12 1h1m1 0h1m6 0h1m-9 1h1m0 1h1m3 4h1m31 0h1m-52 3h1m0 1h1m3 0h1m2 1h1m-10 1h1m-3 1h1m5 0h1m5 0h1m3 0h1m36 0h1m-42 1h2m2 0h1m27 0h1m1 0h1m10 0h1m-56 1h1m1 0h1m1 0h1m3 0h1m16 0h1m1 0h1m2 0h1m6 0h1m-50 1h1m22 0h1m15 0h1m23 0h2m-72 1h2m20 0h1m9 0h2m7 0h1m27 0h1m-74 1h1m9 0h1m1 0h1m6 0h1m7 0h2m7 0h1m7 0h1m4 0h1m-52 1h1m1 0h1m5 0h1m1 0h2m2 0h1m3 0h1m19 0h1m35 0h1m-70 1h1m30 0h1m-37 1h2m12 0h1m3 0h1m13 0h1m1 0h1m4 0h1m-31 1h1m32 0h1m-42 1h1m10 0h1m21 0h2m1 0h1m-37 1h1m3 0h1m6 0h1m18 0h1m33 0h1m-65 1h1m37 0h1m1 0h1m18 0h1m12 0h1m-72 1h1m3 0h1m1 0h1m2 0h1m29 0h1m2 0h1m1 0h1m-41 1h1m40 0h1m-5 1h1m4 0h1m-47 1h2m9 0h1m32 0h1m4 0h1m21 0h1m2 0h1m-42 1h1m34 0h1m-39 1h1m14 0h2m25 0h1m3 0h1m-2 1h1m-66 1h1m63 0h1m-74 1h1m74 0h1m-76 1h1m2 0h1m11 0h1m57 0h1m-79 1h1m1 0h1m7 0h1m-6 1h3m3 0h1m68 0h1m3 0h1m-79 1h1m15 0h1m13 0h1m7 0h1m8 0h1m4 0h1m-60 1h1m1 0h1m16 0h1m-24 1h2m1 0h1m1 0h1m-9 1h1m6 0h1m2 0h1m6 0h1m2 0h1m54 0h1m11 0h1m-90 1h1m3 0h1m6 0h1m3 0h1m5 0h1m2 0h1m63 0h1m-61 1h1m5 0h1m36 0h2m1 0h1m10 0h2m1 0h2m3 0h1m-88 1h1m16 0h1m1 0h1m1 0h1m19 0h1m16 0h1m2 0h1m10 0h1m-76 1h3m8 0h1m9 0h1m5 0h1m4 0h2m43 0h1m-72 1h1m11 0h1m5 0h1m5 0h1m18 0h1m10 0h1m18 0h1m5 0h1m-89 1h1m9 0h1m16 0h1m9 0h1m2 0h1m30 0h1m10 0h1m3 0h1m-86 1h1m24 0h2m32 0h1m11 0h1m8 0h2m-75 1h2m16 0h1m4 0h1m46 0h1m4 0h1m9 0h1m-85 1h1m11 0h1m9 0h1m6 0h1m21 0h1m18 0h1m5 0h1m4 0h1m-81 1h1m26 0h1m-27 1h1m11 0h1m1 0h1m4 0h1m2 0h1m4 0h3m-9 1h2m44 0h2m-55 1h1m45 0h1m-40 1h2m44 0h1m-46 1h1m41 0h1m1 0h2m-3 1h1m-44 1h1m3 0h1m40 0h1m-52 1h1m6 0h1m3 0h1m43 0h1m-53 1h1m1 0h1m1 0h1m46 0h1m8 0h1m-62 1h1m3 0h1m39 0h1m-44 1h1m-1 1h1m1 1h1m2 1h1m4 0h1m3 0h1m40 0h1m-2 1h1m-40 1h1m35 1h1m1 0h1m-50 1h1m5 0h1m38 0h1m5 0h1m-51 1h1m6 0h1m21 0h2m-23 1h1m19 0h1m-25 1h1m26 0h1m12 0h1m-16 1h1m2 0h1m-29 1h1m8 0h1m13 0h1m1 0h2m-20 1h1m1 0h1m16 0h1m8 0h1m1 0h1m-29 1h1m3 0h1m5 0h1m6 0h1m-28 1h1m7 0h1m11 0h1m-53 1h1m40 0h1m-14 1h1m5 0h1m11 0h1m8 0h1m-49 1h1m21 0h2m5 0h1m6 0h1m2 0h1m1 0h1m-50 1h1m33 0h1m12 0h2m3 0h1m2 0h1m-61 1h1m32 0h1m1 0h1m4 0h1m2 0h1m11 0h2m-53 1h1m31 0h1m3 0h2m11 0h1m5 0h1m-17 1h1m13 0h1m1 0h1m-18 1h3m-1 1h2m12 0h1m-54 1h2m53 2h1m-19 2h1m-41 2h1m40 3h1m-3 1h1m-5 3h1"/>
<path stroke="#472d7b" d="M153 23.5h1m-10 3h1m2 0h2m2 0h1m-5 2h1m-8 1h1m7 0h1m-3 1h2m32 3h1m-47 1h1m45 1h1m0 1h1m-47 2h1m37 0h1m3 0h1m-56 1h1m7 0h1m43 0h1m3 0h1m-5 1h2m-25 1h2m26 0h1m-86 1h1m58 0h1m13 0h1m3 0h1m1 0h1m4 0h2m-60 1h1m27 0h1m10 0h1m2 0h1m6 0h1m-75 1h1m13 0h1m10 0h1m14 0h1m2 0h1m10 0h1m20 0h1m-58 1h1m19 0h1m7 0h1m7 0h1m16 0h1m-58 1h1m2 0h1m40 0h1m15 0h1m7 0h1m-60 1h1m44 0h1m10 0h1m-70 1h1m4 0h1m9 0h1m53 0h1m2 0h1m-66 1h2m60 0h2m3 0h1m-77 1h1m8 0h1m6 0h1m14 0h2m2 0h1m2 0h1m29 0h1m-60 1h1m19 0h1m26 0h1m-59 1h1m20 0h1m29 0h1m-42 1h1m9 0h1m28 0h1m1 0h2m3 0h1m-48 1h1m2 0h1m45 0h1m16 0h1m-73 1h1m5 0h1m-8 1h1m1 0h2m2 0h1m21 0h1m19 0h2m-48 1h1m70 0h1m-33 1h1m7 0h1m6 0h1m14 0h1m2 0h1m-75 1h1m13 0h1m56 0h1m-70 1h1m67 0h1m2 0h1m-74 1h1m5 0h1m50 0h1m-58 1h1m5 0h1m7 0h1m29 0h1m-39 1h2m6 0h1m14 0h1m-15 1h1m1 0h1m4 0h1m16 0h1m14 0h1m7 0h1m-68 1h1m18 0h2m2 0h2m10 0h1m43 0h1m-82 1h1m3 0h1m8 0h1m1 0h1m54 0h2m9 0h1m-46 1h1m15 0h1m30 0h1m-82 1h1m10 0h1m67 0h1m-60 1h1m50 0h1m5 0h1m1 0h1m2 0h1m-86 1h1m2 0h1m4 0h1m10 0h1m7 0h1m6 0h1m30 0h1m6 0h1m6 0h1m-85 1h1m2 0h1m3 0h1m2 0h1m1 0h1m25 0h1m41 0h2m-81 1h1m2 0h1m5 0h2m17 0h1m1 0h2m2 0h1m2 0h1m-15 1h1m56 0h1m3 0h2m2 0h2m-61 1h1m3 0h1m1 0h2m19 0h1m22 0h1m2 0h1m4 0h1m-62 1h1m9 0h2m37 0h1m-41 1h3m18 0h1m25 0h1m-71 1h1m14 0h1m23 0h1m27 0h1m7 0h1m2 0h1m-58 1h1m20 0h1m4 0h1m18 0h2m10 0h1m-62 1h1m1 0h1m23 0h1m2 0h2m15 0h2m-23 1h1m-23 1h1m2 1h2m34 0h1m5 0h1m-49 1h1m-2 1h1m6 0h2m40 0h1m-49 1h1m-5 1h1m2 1h1m1 0h1m2 0h1m43 0h1m2 1h1m-52 1h1m2 0h1m42 0h1m3 0h1m1 0h2m-50 1h1m5 0h1m41 0h1m-51 1h1m2 0h1m3 0h1m35 0h1m-47 1h1m9 0h1m43 1h1m-45 1h1m-5 1h1m44 0h1m1 0h2m-1 1h1m-48 1h1m1 0h1m-3 1h1m23 2h2m1 0h1m4 0h1m-31 1h1m20 0h1m8 0h1m1 0h1m7 0h1m-21 1h1m1 0h1m12 0h1m-37 1h1m10 0h2m9 0h2m4 0h1m-14 1h2m-4 1h1m13 0h1m-26 3h1m16 0h1m-17 1h1m3 0h1m4 0h2m-46 1h1m42 0h1m4 0h1m-7 1h2m2 0h1m-9 1h1m2 0h1m10 0h1m-14 1h1m3 0h1m-45 1h1m38 1h1m15 1h1m-18 6h1"/>
<path stroke="#453581" d="M154 23.5h1m-13 4h1m5 0h1m-7 2h1m1 1h1m-2 1h2m34 3h1m-2 1h1m-41 5h1m-8 1h1m44 0h1m-46 1h1m44 0h1m-10 1h1m-60 1h1m16 0h1m37 0h1m4 0h1m-39 1h1m3 0h1m18 0h1m4 0h1m-63 1h1m5 0h1m2 0h1m13 0h1m-18 1h1m59 0h1m1 0h1m11 0h1m-75 1h1m16 0h1m4 0h1m51 0h1m-59 1h1m33 0h1m24 0h2m-77 1h1m1 0h1m8 0h1m4 0h1m8 0h1m31 0h1m14 0h1m-55 1h1m8 0h1m9 0h1m12 0h1m-41 1h1m2 0h1m17 0h1m29 0h1m8 0h1m-58 1h1m8 0h1m16 0h1m30 0h1m-67 1h1m7 0h1m8 0h1m40 0h1m-54 1h1m34 0h1m12 0h1m-37 1h1m18 0h1m28 0h1m5 0h1m-72 1h2m17 0h1m17 0h1m6 0h1m21 0h1m-66 1h1m9 0h1m28 0h1m3 0h1m18 0h1m-63 1h1m20 0h1m22 0h1m7 0h1m13 0h1m4 0h1m-67 1h1m45 0h1m13 0h1m6 0h1m-39 1h1m32 0h2m4 0h1m-50 1h1m12 0h1m32 0h1m2 0h1m-79 1h2m2 0h1m4 0h1m3 0h1m14 0h1m2 0h1m13 0h1m-52 1h1m5 0h3m2 0h1m18 0h1m24 0h1m3 0h1m3 0h1m20 0h1m-81 1h1m2 0h1m8 0h1m18 0h1m4 0h1m12 0h1m28 0h1m1 0h2m-59 1h1m56 0h1m-86 1h1m1 0h1m7 0h2m29 0h1m36 0h1m1 0h1m4 0h1m-79 1h1m1 0h1m3 0h1m2 0h2m9 0h1m46 0h1m6 0h1m-74 1h1m1 0h1m3 0h1m3 0h1m2 0h1m53 0h1m8 0h1m-84 1h1m9 0h1m51 0h1m11 0h2m7 0h1m-86 1h2m24 0h1m6 0h1m41 0h1m-80 1h1m5 0h1m2 0h1m20 0h1m8 0h1m1 0h1m17 0h1m11 0h1m-63 1h1m28 0h2m3 0h1m1 1h1m30 0h1m1 0h1m-78 1h1m78 0h1m-26 1h1m2 0h1m26 0h1m-48 1h1m35 0h1m6 0h1m3 0h1m-46 1h1m22 0h1m13 0h1m-45 1h1m3 0h1m17 0h1m6 0h1m10 0h1m-46 1h1m4 0h3m7 0h1m10 0h1m20 0h1m1 0h1m-41 1h2m27 0h1m9 0h1m-47 1h1m2 0h1m15 0h1m3 0h1m-25 1h1m3 0h1m3 0h1m8 1h1m26 0h1m-40 1h2m-3 1h1m11 0h1m33 0h1m-39 1h1m3 0h1m27 0h1m-44 1h1m41 0h1m-43 2h1m4 0h1m-2 1h1m44 0h1m-50 1h1m1 0h1m9 0h1m31 0h1m-42 1h1m46 0h1m-47 1h1m1 1h1m44 0h1m-45 2h1m-1 1h2m3 0h1m16 0h1m15 0h1m-40 1h1m21 0h1m1 0h1m3 0h1m7 1h1m1 0h1m-11 1h2m10 0h1m-5 1h1m-27 2h1m1 0h2m-8 1h1m5 1h1m7 0h1m1 0h1m-25 1h1m13 0h1m9 0h1m-23 1h1m8 0h2m-11 1h1m4 0h1m-7 1h1m8 0h2m-3 1h1m12 0h1m-10 1h1m-3 1h1m-41 1h1m52 1h1"/>
<path stroke="#433d84" d="M145 26.5h2m-3 1h1m4 0h1m-9 1h1m3 0h2m31 10h1m-56 1h1m12 0h1m-13 1h2m8 0h1m7 0h1m-18 1h2m-5 1h1m1 0h1m1 0h1m3 0h1m34 0h2m7 0h1m-54 1h2m31 0h1m5 0h1m5 0h1m-46 1h2m29 0h1m5 0h1m5 0h1m-55 1h1m1 0h1m1 0h1m7 0h1m2 0h1m1 0h1m28 0h1m-46 1h1m14 0h1m1 0h1m34 0h2m8 0h1m2 0h1m-67 1h1m3 0h1m10 0h1m6 0h1m1 0h1m21 0h1m4 0h1m15 0h1m-75 1h1m12 0h1m6 0h1m2 0h1m2 0h2m25 0h1m9 0h1m6 0h1m-65 1h1m6 0h1m4 0h1m5 0h1m4 0h1m38 0h1m-55 1h1m2 0h1m3 0h1m3 0h1m24 0h1m1 0h1m4 0h1m8 0h1m9 0h1m-62 1h2m6 0h1m6 0h1m26 0h1m9 0h1m2 0h1m5 0h1m-53 1h1m27 0h1m17 0h1m-58 1h2m2 0h1m34 0h1m-41 1h1m22 0h1m4 0h1m-42 1h1m13 0h1m3 0h1m39 0h1m9 0h1m-54 1h1m55 0h2m-58 1h1m16 0h1m22 0h1m2 0h1m17 0h1m-74 1h1m2 0h1m24 0h1m8 0h2m1 0h1m5 0h1m2 0h1m17 0h1m2 0h1m-68 1h1m23 0h1m9 0h2m2 0h1m3 0h1m7 0h1m3 0h1m-31 1h2m13 0h1m7 0h1m1 0h1m1 0h1m17 0h1m-71 1h2m2 0h1m12 0h1m30 0h1m3 0h1m10 0h1m-63 1h1m1 0h2m2 0h3m6 0h1m6 0h1m3 0h1m7 0h1m2 0h1m5 0h2m20 0h1m-86 1h1m19 0h1m22 0h1m19 0h1m1 0h1m5 0h1m-55 1h1m4 0h1m10 0h1m1 0h1m3 0h1m3 0h2m11 0h2m2 0h1m1 0h1m3 0h1m1 0h1m6 0h2m3 0h1m2 0h1m3 0h2m-75 1h1m4 0h1m1 0h1m10 0h1m3 0h1m13 0h1m28 0h1m8 0h1m-79 1h1m5 0h1m5 0h1m9 0h1m1 0h1m22 0h1m2 0h2m14 0h1m10 0h1m-73 1h1m12 0h1m5 0h1m7 0h1m21 0h1m7 0h1m11 0h1m-70 1h1m2 0h1m7 0h1m51 0h1m4 0h1m1 0h1m6 0h1m-79 1h1m1 0h1m10 0h1m5 0h1m11 0h1m19 0h1m4 0h1m4 0h1m4 0h1m-64 1h1m11 0h1m1 0h1m1 0h1m31 0h1m5 0h1m12 0h1m2 0h1m2 0h1m-87 1h1m3 0h1m4 0h1m4 0h1m14 0h2m2 0h1m3 0h1m3 0h1m5 0h1m28 0h1m-63 1h1m20 0h1m2 0h1m2 0h1m4 0h1m6 0h1m2 0h1m5 0h1m5 0h1m1 0h1m3 0h1m4 0h1m-72 1h2m6 0h2m36 0h1m20 0h1m2 0h1m-72 1h1m30 0h1m20 0h1m1 0h1m1 0h1m3 0h1m-14 1h1m1 0h1m5 0h1m-62 1h1m52 0h1m21 0h1m-40 1h2m1 0h1m19 0h2m14 0h1m-43 1h1m6 0h1m12 0h1m5 0h1m4 0h1m4 0h1m2 0h1m-19 1h1m12 0h1m3 0h1m-33 1h1m6 0h1m3 0h1m2 0h1m8 0h1m2 0h1m1 0h3m-37 1h1m35 0h1m-44 1h1m2 0h1m5 0h1m1 0h1m9 0h1m17 0h1m4 0h1m5 0h1m-38 1h1m32 0h2m-37 1h2m-5 1h1m1 0h1m36 0h1m2 0h1m-42 1h1m1 0h1m5 0h1m28 0h2m1 0h1m1 1h1m-3 1h1m-48 1h1m5 0h1m40 0h1m-2 1h2m1 0h1m-50 1h1m1 0h1m4 0h1m2 0h1m35 0h2m-46 1h1m6 1h1m2 2h1m35 0h1m-41 1h1m1 0h1m26 1h1m-26 1h1m16 0h2m-24 1h1m26 0h1m12 0h1m-15 1h1m11 0h1m-40 1h1m27 1h1m-12 2h1m8 0h1m-21 2h2m10 0h1m1 1h1m-16 1h1m6 0h1m4 0h1m5 0h1m-26 1h1m3 0h1m5 0h1m14 0h1m-25 1h1m9 0h2m-11 1h1m7 0h1m-1 1h1m2 0h1"/>
<path stroke="#404588" d="M143 27.5h1m2 0h2m-5 3h1m-12 6h1m-11 4h1m53 0h2m-57 1h1m6 0h1m45 0h1m0 1h1m-49 1h1m30 0h1m11 0h1m-43 1h1m26 0h3m3 0h2m2 0h1m10 0h1m-68 1h1m22 0h1m26 0h1m8 0h1m2 0h1m-52 1h1m4 0h1m6 0h1m27 0h1m1 0h1m11 0h2m-59 1h1m2 0h1m31 0h2m17 0h1m-58 1h2m11 0h2m34 0h1m11 0h1m-62 1h1m16 0h1m32 0h1m-49 1h1m4 0h1m1 0h1m8 0h1m21 0h1m6 0h1m2 0h1m12 0h1m-73 1h1m2 0h1m12 0h1m1 0h1m1 0h1m1 0h1m35 0h1m8 0h1m-55 1h1m1 0h1m2 0h1m16 0h1m7 0h1m7 0h1m5 0h1m6 0h2m3 0h2m1 0h1m-1 1h1m-58 1h3m2 0h1m3 0h1m9 0h1m13 0h1m11 0h1m-58 1h1m3 0h2m1 0h1m2 0h1m3 0h1m1 0h1m7 0h1m10 0h1m24 0h1m6 0h2m-67 1h1m2 0h1m12 0h1m6 0h1m7 0h1m1 0h1m9 0h1m16 0h1m1 0h1m-58 1h1m14 0h1m24 0h1m13 0h1m3 0h1m-59 1h1m4 0h1m1 0h1m1 0h2m8 0h1m18 0h1m6 0h1m4 0h1m2 0h1m7 0h1m-71 1h1m9 0h1m18 0h2m24 0h1m3 0h1m4 0h1m5 0h1m-74 1h1m12 0h1m11 0h1m15 0h1m1 0h1m27 0h1m-63 1h1m12 0h1m7 0h1m2 0h1m2 0h2m1 0h1m5 0h1m2 0h1m2 0h1m10 0h1m10 0h1m-70 1h1m16 0h1m1 0h1m5 0h1m3 0h1m13 0h1m5 0h2m2 0h1m4 0h1m4 0h1m4 0h1m-58 1h1m2 0h1m6 0h1m9 0h1m5 0h3m2 0h2m5 0h1m1 0h1m6 0h1m-58 1h1m7 0h1m5 0h1m1 0h1m8 0h2m5 0h2m4 0h1m19 0h1m-68 1h1m27 0h1m7 0h1m1 0h1m10 0h1m1 0h1m1 0h1m6 0h2m4 0h2m5 0h1m1 0h1m-76 1h1m6 0h1m1 0h1m4 0h1m4 0h1m5 0h1m11 0h1m13 0h1m7 0h1m4 0h1m15 0h1m-76 1h1m6 0h1m11 0h1m1 0h1m1 0h1m3 0h1m2 0h1m6 0h1m1 0h2m12 0h1m9 0h3m6 0h2m-78 1h1m9 0h1m2 0h1m3 0h1m6 0h1m8 0h1m1 0h2m12 0h1m17 0h1m4 0h1m1 0h2m-59 1h1m21 0h1m16 0h1m4 0h1m2 0h1m6 0h1m-56 1h1m13 0h1m25 0h1m6 0h1m1 0h2m-62 1h1m7 0h1m4 0h1m7 0h1m3 0h1m7 0h1m9 0h1m9 0h1m-16 1h1m6 0h1m4 0h1m13 0h1m-55 1h1m19 0h3m7 0h1m3 0h1m11 0h2m3 0h1m-22 1h1m2 0h1m8 0h1m4 0h1m-33 1h1m7 0h1m14 0h1m8 0h1m2 0h1m-37 1h1m3 0h1m4 0h1m5 0h1m12 0h1m2 0h1m3 0h3m-23 1h2m1 0h1m1 0h3m4 0h1m1 0h1m3 0h1m-45 1h1m23 0h1m1 0h1m2 0h1m11 0h1m4 0h1m-41 1h2m6 0h1m15 1h1m3 0h2m3 0h1m5 0h1m-45 1h1m19 0h1m21 0h1m3 0h1m-45 1h1m9 0h1m2 0h2m-12 1h1m3 0h1m2 0h1m3 0h1m25 0h1m8 0h1m-9 1h1m-35 1h1m2 0h1m30 0h2m4 0h1m-30 1h1m22 0h1m-33 1h1m33 0h1m-38 1h2m5 0h1m30 0h1m3 0h1m-43 2h1m3 0h1m-2 1h1m35 0h1m-37 1h1m2 0h1m32 0h1m-42 1h1m5 0h1m40 0h1m-45 1h1m1 0h1m36 0h2m3 0h1m-44 1h2m30 0h1m-34 1h1m32 0h1m-31 1h1m-7 1h1m40 0h1m-33 1h1m21 0h1m-9 1h1m7 0h2m5 0h1m0 1h1m-18 1h1m-12 3h1m1 0h1m3 0h1m5 0h1m-15 2h1m2 0h1m-10 1h1m4 0h1m4 1h1m-46 1h1m33 0h2m4 0h1m-8 1h1m13 0h1m6 0h1m-55 1h1"/>
<path stroke="#3d4d8a" d="M145 27.5h1m-2 2h1m1 0h1m30 8h1m-6 1h1m-49 5h1m39 0h1m7 0h1m2 0h2m-53 1h1m47 0h1m1 0h1m-60 1h1m4 0h1m3 0h1m38 0h2m9 0h1m2 0h1m-55 1h1m9 0h1m38 0h1m-49 1h1m4 0h2m23 0h1m13 0h1m-56 1h1m40 0h1m3 0h1m1 0h1m1 0h1m-40 1h1m30 0h3m8 0h4m-55 1h1m50 0h1m1 0h2m3 0h1m5 0h1m-65 1h2m6 0h1m1 0h1m31 0h1m1 0h1m2 0h2m2 0h1m8 0h1m3 0h1m-54 1h1m2 0h2m4 0h1m3 0h1m20 0h2m10 0h1m-53 1h1m2 0h1m3 0h2m1 0h1m1 0h1m7 0h1m19 0h1m5 0h1m10 0h1m-59 1h1m5 0h1m3 0h1m1 0h1m1 0h1m7 0h1m13 0h1m11 0h1m4 0h1m1 0h1m1 0h1m-62 1h1m2 0h1m1 0h1m3 0h1m6 0h1m2 0h1m4 0h3m17 0h1m14 0h2m-67 1h1m5 0h1m4 0h2m1 0h1m2 0h1m2 0h1m6 0h1m2 0h3m16 0h1m2 0h1m1 0h1m13 0h1m-69 1h1m3 0h1m5 0h1m1 0h1m7 0h1m4 0h1m2 0h1m21 0h1m6 0h1m5 0h1m-56 1h1m6 0h1m3 0h1m2 0h1m8 0h1m1 0h1m14 0h1m13 0h1m2 0h1m-60 1h1m3 0h1m2 0h1m8 0h1m3 0h1m4 0h2m12 0h2m1 0h1m7 0h1m1 0h2m1 0h1m2 0h1m4 0h1m-71 1h1m11 0h1m20 0h1m2 0h1m4 0h1m2 0h1m1 0h1m2 0h1m6 0h1m3 0h1m1 0h1m5 0h1m-56 1h1m1 0h2m4 0h1m3 0h1m2 0h1m8 0h3m2 0h2m2 0h1m4 0h1m2 0h3m8 0h1m-61 1h1m6 0h4m5 0h1m4 0h1m1 0h1m2 0h2m3 0h1m14 0h2m16 0h1m-55 1h1m11 0h1m22 0h1m3 0h2m1 0h1m7 0h1m2 0h1m-65 1h2m1 0h1m2 0h1m12 0h1m4 0h1m11 0h1m5 0h1m7 0h1m8 0h1m-63 1h1m6 0h1m9 0h2m1 0h1m3 0h1m1 0h1m5 0h1m2 0h2m2 0h1m20 0h1m1 0h2m3 0h1m-73 1h1m8 0h1m2 0h1m3 0h1m9 0h1m9 0h1m1 0h2m4 0h1m5 0h2m4 0h1m9 0h1m1 0h2m-71 1h1m5 0h2m3 0h1m14 0h2m24 0h1m7 0h5m-66 1h1m5 0h1m7 0h1m4 0h2m1 0h1m3 0h1m2 0h1m11 0h1m4 0h1m2 0h1m2 0h1m9 0h1m4 0h1m1 0h1m7 0h1m-72 1h1m6 0h1m4 0h1m2 0h1m1 0h1m3 0h1m3 0h1m5 0h1m8 0h2m1 0h1m-50 1h1m16 0h1m9 0h1m4 0h1m2 0h1m2 0h1m1 0h2m21 0h1m-62 1h1m15 0h1m12 0h1m10 0h1m9 0h1m8 0h1m4 0h1m-51 1h1m19 0h1m8 0h1m11 0h1m11 0h1m-40 1h2m8 0h2m11 0h2m9 0h1m-32 1h1m8 0h1m5 0h1m6 0h1m6 0h1m-27 1h1m1 0h1m4 0h1m10 0h1m1 0h1m1 0h1m8 0h2m-39 1h1m3 0h1m1 0h1m1 0h1m3 0h1m8 0h3m4 0h1m2 0h1m6 0h1m-39 1h1m2 0h1m5 0h1m2 0h1m4 0h1m16 0h1m3 0h1m-41 1h1m4 0h1m4 0h1m3 0h1m10 0h1m-2 1h1m4 0h1m6 0h1m-26 1h1m1 0h1m4 0h1m8 0h1m-32 1h1m4 0h1m6 0h1m3 0h1m17 0h1m4 0h1m-36 1h1m6 0h1m27 0h1m-7 1h1m3 0h3m4 0h1m-47 1h1m4 0h1m4 0h3m1 0h1m-15 1h1m10 0h1m2 0h1m-9 1h1m8 0h1m-11 1h1m3 0h2m2 0h1m32 0h1m-39 1h2m30 0h1m-35 1h1m1 0h3m2 0h1m26 0h1m3 0h1m-47 1h1m7 0h1m32 0h1m2 0h1m5 0h1m-12 1h1m1 1h1m2 0h1m1 0h3m2 0h1m-41 1h1m-6 1h1m3 0h1m1 0h1m36 0h1m-3 1h1m-43 1h2m39 0h1m-36 1h2m26 0h1m5 0h1m-9 1h1m1 0h1m-12 1h1m12 0h1m1 0h1m2 0h1m-39 1h1m29 0h3m-12 1h1m12 0h1m0 1h1m-28 3h1m9 1h1m-9 1h1m3 0h1m-17 2h1m11 1h1m-48 2h1"/>
<path stroke="#3a538b" d="M121 42.5h1m1 0h1m1 0h1m37 0h1m1 1h1m-39 1h1m31 0h1m7 0h1m1 0h1m1 0h1m-49 1h1m2 0h1m1 0h1m32 0h1m5 0h1m2 0h1m4 0h1m-55 1h1m5 0h1m26 0h1m2 0h3m5 0h1m2 0h1m2 0h1m-51 1h1m1 0h1m9 0h1m25 0h1m6 0h2m4 0h1m-51 1h1m41 0h1m3 0h1m1 0h3m-48 1h2m3 0h1m27 0h1m1 0h1m8 0h2m-56 1h1m14 0h1m25 0h3m4 0h1m2 0h1m3 0h1m5 0h1m-61 1h2m12 0h1m26 0h1m6 0h1m1 0h2m7 0h3m-54 1h1m33 0h1m2 0h1m5 0h1m8 0h1m-59 1h1m6 0h1m28 0h1m1 0h1m3 0h1m2 0h1m7 0h1m3 0h1m-57 1h1m7 0h1m29 0h2m1 0h1m1 0h1m4 0h2m3 0h1m1 0h1m-54 1h1m4 0h1m7 0h2m18 0h1m8 0h1m1 0h1m3 0h1m1 0h1m5 0h1m-63 1h1m2 0h1m37 0h1m7 0h1m1 0h2m7 0h1m-67 1h1m13 0h1m3 0h1m10 0h1m17 0h1m2 0h1m6 0h1m-55 1h1m15 0h1m6 0h1m1 0h1m25 0h2m-56 1h2m12 0h5m1 0h1m14 0h1m2 0h1m9 0h1m2 0h1m7 0h1m-61 1h2m7 0h2m3 0h2m3 0h1m3 0h1m3 0h2m4 0h1m10 0h1m9 0h1m3 0h1m-52 1h1m1 0h1m1 0h1m6 0h2m2 0h2m35 0h1m1 0h1m-57 1h1m40 0h1m6 0h1m4 0h1m7 0h1m-46 1h1m18 0h1m3 0h1m15 0h3m3 0h1m-60 1h1m13 0h1m22 0h1m7 0h1m6 0h1m-54 1h1m14 0h1m9 0h1m11 0h1m4 0h1m1 0h1m3 0h1m6 0h1m-56 1h1m1 0h1m11 0h1m1 0h1m1 0h3m3 0h1m1 0h1m19 0h1m9 0h1m2 0h1m4 0h1m-78 1h1m8 0h1m3 0h1m4 0h1m1 0h1m11 0h1m6 0h1m1 0h1m6 0h2m5 0h1m1 0h1m12 0h1m-53 1h1m11 0h2m4 0h1m2 0h1m2 0h2m1 0h1m1 0h1m2 0h2m1 0h3m8 0h1m13 0h1m-60 1h1m6 0h1m1 0h2m9 0h1m2 0h1m1 0h1m3 0h1m9 0h1m5 0h1m-64 1h1m20 0h1m1 0h1m6 0h1m2 0h1m2 0h1m8 0h2m1 0h1m1 0h1m1 0h2m5 0h1m-47 1h2m7 0h1m6 0h1m2 0h1m7 0h1m6 0h1m5 0h1m1 0h1m7 0h1m-42 1h1m1 0h1m15 0h1m16 0h1m4 0h2m-32 1h1m3 0h1m4 0h1m7 0h1m1 0h1m2 0h1m-25 1h1m3 0h3m1 0h1m5 0h1m3 0h1m7 0h1m8 0h1m1 0h1m-37 1h1m18 0h1m5 0h1m4 0h2m-35 1h1m5 0h1m4 0h1m8 0h1m7 0h1m4 0h1m-4 1h1m2 0h1m2 0h1m-36 1h1m5 0h1m13 0h1m3 0h2m4 0h1m1 0h1m-35 1h1m10 0h1m3 0h1m3 0h1m6 0h2m4 0h1m-32 1h1m6 0h1m16 0h1m-26 1h1m2 0h2m2 0h1m1 0h1m1 0h1m1 0h1m14 0h2m4 0h1m-26 1h1m2 0h2m1 0h1m14 0h1m5 0h1m-41 1h1m7 0h1m34 0h1m-8 1h1m-27 1h2m30 0h1m-4 1h1m-3 1h1m-34 1h1m34 0h1m-4 1h1m9 0h1m-44 1h1m3 0h2m-7 1h1m4 0h1m28 0h1m-2 1h1m9 0h1m-9 1h1m1 0h1m1 0h2m-42 1h1m42 0h1m-42 1h1m3 0h1m29 0h1m1 0h3m-34 1h1m28 0h3m-35 1h1m25 0h1m5 0h1m-8 1h1m5 0h1m-3 1h2m6 1h1m-3 1h1m-20 2h1m-7 3h1m-6 1h1m4 1h1m-8 1h1m7 1h1"/>
<path stroke="#375b8d" d="M177 39.5h1m-53 4h1m35 0h1m-8 1h1m2 1h1m2 0h1m11 0h2m-50 1h1m42 0h1m-41 1h1m27 0h1m1 0h1m7 0h1m-41 1h1m27 0h1m1 0h1m1 0h1m1 0h1m1 0h1m-40 1h1m36 0h1m2 0h2m8 0h1m3 0h1m-55 1h1m6 0h1m45 0h1m-48 1h1m5 0h1m19 0h1m14 0h1m-49 1h1m13 0h1m1 0h1m15 0h2m-25 1h1m2 0h1m2 0h1m32 0h1m3 0h1m-58 1h2m13 0h1m3 0h3m17 0h1m7 0h1m-39 1h1m5 0h1m24 0h1m4 0h1m4 0h2m-57 1h2m11 0h1m4 0h1m-20 1h2m1 0h1m5 0h1m2 0h1m6 0h1m7 0h1m2 0h1m22 0h1m3 0h2m1 0h1m-62 1h1m4 0h1m3 0h2m1 0h1m4 0h1m-16 1h1m7 0h2m10 0h1m5 0h1m-24 1h1m5 0h1m3 0h1m1 0h1m3 0h1m3 0h1m3 0h2m2 0h1m2 0h1m3 0h1m14 0h2m2 0h1m-63 1h1m11 0h1m2 0h1m7 0h1m8 0h1m8 0h1m9 0h1m6 0h1m1 0h1m6 0h1m-56 1h1m8 0h1m12 0h1m7 0h1m6 0h1m7 0h2m2 0h2m-43 1h2m8 0h1m3 0h1m2 0h1m11 0h1m15 0h1m-35 1h1m1 0h1m3 0h1m-31 1h1m9 0h1m17 0h2m12 0h1m8 0h1m8 0h1m-67 1h1m9 0h1m7 0h2m17 0h1m10 0h2m17 0h1m-60 1h1m2 0h1m18 0h3m5 0h1m5 0h1m1 0h1m5 0h1m14 0h1m-50 1h2m12 0h1m17 0h1m1 0h3m-37 1h1m5 0h1m2 0h1m2 0h1m8 0h1m5 0h1m1 0h1m7 0h1m-32 1h1m12 0h1m1 0h1m10 0h1m10 0h1m-65 1h1m32 0h1m3 0h1m4 0h1m5 0h1m1 0h1m1 0h1m9 0h1m5 0h1m-39 1h1m5 0h1m22 0h1m-34 1h1m16 0h1m10 0h2m-21 1h1m4 0h1m9 0h1m5 0h2m-27 1h1m6 0h1m4 0h1m13 0h1m5 0h1m-36 1h1m7 0h1m1 0h1m8 0h1m-19 1h1m4 0h2m21 0h1m-27 1h1m4 0h1m17 0h1m-29 1h2m6 0h2m1 0h2m14 0h1m4 0h1m-22 1h1m17 0h1m-28 2h2m23 0h1m-29 1h1m6 0h4m-8 1h1m0 1h1m4 0h1m-2 2h2m28 0h1m-38 1h1m5 0h2m-4 1h1m26 1h1m1 0h1m2 0h1m2 0h1m-8 1h1m-37 1h1m1 0h1m34 0h1m-38 1h1m32 1h1m4 0h1m1 0h1m-40 1h1m31 0h2m6 0h1m-10 1h2m1 1h1m1 0h1m-2 1h1m-6 1h2m2 0h1m1 0h1m-25 6h1m-6 3h1m1 3h1"/>
<path stroke="#34618d" d="M175 41.5h1m-53 2h1m49 0h2m-15 1h1m14 0h1m-22 1h1m10 0h1m3 0h1m-12 2h1m10 0h1m-39 1h1m33 0h1m3 0h1m-50 1h1m3 0h1m3 0h1m28 0h1m3 0h1m-36 1h1m35 0h1m5 1h1m-43 1h1m4 0h1m25 0h1m20 0h1m-45 1h1m2 0h1m20 0h1m3 0h1m1 0h1m3 0h1m-43 1h1m0 1h2m26 0h1m1 0h1m14 0h1m-52 1h1m8 0h1m3 0h1m24 0h1m-29 1h2m21 0h1m9 0h1m-34 1h1m8 0h1m21 0h1m3 0h1m-22 1h1m6 0h1m18 0h1m-62 1h1m4 0h1m13 0h1m7 0h1m16 0h1m6 0h1m-10 1h1m15 0h1m-32 1h1m3 0h1m27 0h1m-46 1h1m16 0h1m18 0h1m12 0h1m-38 1h1m12 0h1m19 0h1m2 0h2m-63 1h1m18 0h1m14 0h1m7 0h2m2 0h1m-27 1h1m14 0h1m4 0h1m13 0h1m-46 1h1m5 0h1m8 0h1m34 0h1m-55 1h1m12 0h1m4 0h1m10 0h1m12 0h1m5 0h1m-29 1h1m18 0h1m-30 1h1m10 0h1m-3 1h1m9 0h1m13 0h1m4 0h1m-26 1h1m1 0h1m5 0h1m9 0h1m-8 1h1m12 0h1m4 0h1m-38 1h1m10 0h1m-12 1h2m7 0h1m8 0h2m-16 2h2m4 0h1m12 0h2m3 0h1m-32 1h1m3 0h1m3 0h1m17 1h1m-24 1h1m2 0h2m-2 1h1m25 0h1m-24 1h1m-8 1h1m3 0h1m5 0h2m17 0h1m-30 2h1m1 0h1m6 0h1m-9 1h2m1 0h1m-6 1h1m5 1h1m-1 1h1m-14 1h1m11 0h2m24 0h1m-34 2h1m31 1h1m5 0h1m3 0h1m-7 1h1m-33 1h1m0 1h1m24 0h1m7 0h1m-9 1h1m1 0h1m-4 1h2m1 0h1m3 0h2m0 2h1m-30 9h1"/>
<path stroke="#31688e" d="M155 45.5h1m-1 1h1m10 0h1m6 4h1m-43 1h1m21 0h1m1 0h1m-26 1h1m37 0h1m-34 1h1m5 1h1m14 0h1m4 0h1m-25 1h1m-22 1h1m19 0h2m23 1h2m-53 1h2m17 0h1m8 0h1m40 0h1m-68 1h2m8 0h1m15 0h1m16 0h1m7 0h1m-53 1h1m31 1h1m27 0h1m-43 1h1m32 0h1m-50 1h1m44 1h1m15 0h1m-12 1h1m-57 2h1m38 0h2m7 0h1m-38 1h1m9 0h1m12 0h1m-16 1h1m-3 1h1m15 0h1m2 0h1m1 0h1m-2 1h1m2 0h1m-16 1h1m2 0h1m16 0h1m-9 1h1m15 0h1m-16 2h1m5 0h1m4 0h1m-2 1h1m-18 2h1m2 0h1m-9 1h1m3 0h1m-2 1h1m1 0h1m-4 1h1m17 0h1m-21 7h1m-6 1h1m35 0h1m-39 1h1m-7 1h1m38 1h1m1 0h1m-35 1h1m30 0h1m2 0h1m0 1h1m8 0h1m-14 1h1m9 1h1m-14 1h1"/>
<path stroke="#2e6e8e" d="M126 44.5h1m46 0h1m-45 2h1m-2 1h1m31 0h1m3 5h1m-32 2h1m35 0h1m-9 2h1m1 0h1m1 0h1m-53 4h1m56 0h1m-34 1h1m11 1h1m-11 1h1m27 0h1m-6 1h1m-2 2h1m-11 3h1m17 1h1m-30 1h1m10 1h1m12 1h1m-22 2h1m12 1h1m-20 1h1m8 0h1m-11 2h1m2 5h1m-3 2h1m34 5h1m-13 3h1m2 1h1m3 2h1m-2 2h1"/>
<path stroke="#2b748e" d="M170 46.5h1m-45 1h1m9 5h1m-5 4h1m-18 3h1m26 4h1m-15 1h1m9 0h1m-12 2h1m29 3h1m-22 2h1m14 0h1m0 2h1m-20 1h1m-4 15h1m30 5h1m2 3h1"/>
<path stroke="#297b8e" d="M131 50.5h1m-20 13h1m18 18h1"/>
<path stroke="#26818e" d="M164 55.5h1"/>
<path stroke="#24878e" d="M127 56.5h1m30 0h1m-24 1h1m-20 4h1"/>
</g>
<g transform="translate(1000.40 349.80) scale(3.8000 4.3242)"><use href="#seam"/></g>
<text x="1395.8" y="299.0" font-size="35" fill="#1a1a1a" text-anchor="middle" textLength="33.5" lengthAdjust="spacingAndGlyphs">lb</text>
<rect x="131.0" y="1071.9" width="828.0" height="68.9" fill="#d9d9d9"/>
<rect x="131.0" y="1140.8" width="828.0" height="728.0" fill="#ebebeb"/>
<path d="M331.8 1140.8v728.0M559.8 1140.8v728.0M787.8 1140.8v728.0M131.0 1169.8h828.0M131.0 1273.6h828.0M131.0 1377.4h828.0M131.0 1481.1h828.0M131.0 1584.9h828.0M131.0 1688.7h828.0M131.0 1792.5h828.0" stroke="#fff" stroke-width="4.45" fill="none"/>
<g transform="translate(149.40 1169.80) scale(3.8000 4.3242)" fill="none" stroke-width="1" shape-rendering="crispEdges">
<path stroke="#440154" d="M162 1.5h4m-9 1h1m3 0h6m1 0h1m-6 1h2m1 0h6m1 0h3m-21 1h2m1 0h1m1 0h2m1 0h2m1 0h1m1 0h1m1 0h3m2 0h2m-22 1h2m2 0h1m2 0h5m2 0h3m1 0h4m-29 1h3m1 0h1m1 0h4m1 0h4m1 0h2m3 0h3m4 0h2m-32 1h4m1 0h1m3 0h7m1 0h2m4 0h1m3 0h1m1 0h3m-33 1h1m1 0h4m2 0h1m1 0h3m6 0h2m3 0h1m5 0h2m2 0h1m-36 1h4m5 0h3m2 0h1m2 0h1m14 0h1m-30 1h2m1 0h8m1 0h2m-17 1h1m1 0h5m1 0h6m1 0h2m1 0h1m-20 1h1m1 0h1m1 0h3m1 0h8m1 0h2m24 0h1m-46 1h3m6 0h1m1 0h1m1 0h1m1 0h6m3 0h1m15 0h1m3 0h2m-48 1h6m2 0h1m2 0h3m1 0h2m3 0h1m5 0h2m2 0h2m4 0h1m5 0h1m1 0h1m2 0h1m-47 1h2m9 0h5m4 0h1m5 0h1m8 0h2m3 0h4m-45 1h3m3 0h1m5 0h4m4 0h1m1 0h1m4 0h1m8 0h2m1 0h1m1 0h6m-33 1h3m3 0h6m1 0h1m5 0h2m1 0h3m1 0h3m1 0h4m-34 1h3m3 0h1m1 0h3m1 0h1m10 0h1m1 0h1m2 0h1m1 0h5m-35 1h4m1 0h3m4 0h1m9 0h4m1 0h3m2 0h1m1 0h2m-38 1h1m2 0h3m2 0h2m3 0h1m13 0h2m1 0h5m-54 1h1m23 0h4m1 0h2m1 0h1m10 0h3m1 0h1m1 0h4m-34 1h1m5 0h1m2 0h1m8 0h1m7 0h5m3 0h1m-52 1h1m22 0h1m1 0h2m3 0h1m3 0h1m1 0h2m5 0h8m-27 1h2m4 0h3m2 0h1m1 0h2m5 0h4m1 0h2m2 0h1m2 0h1m-61 1h1m28 0h1m2 0h4m1 0h1m1 0h4m2 0h3m2 0h1m4 0h2m-57 1h3m28 0h3m6 0h1m3 0h3m1 0h1m1 0h4m3 0h1m-58 1h1m26 0h1m3 0h1m1 0h2m4 0h5m2 0h3m4 0h2m-57 1h1m25 0h1m4 0h4m1 0h1m5 0h3m1 0h1m4 0h1m-26 1h1m2 0h1m2 0h2m1 0h1m8 0h1m1 0h2m3 0h1m-27 1h2m1 0h1m1 0h1m2 0h3m9 0h1m-51 1h1m31 0h2m5 0h1m2 0h1m-44 1h3m27 0h1m1 0h3m7 0h1m23 0h1m1 0h2m-69 1h2m29 0h2m32 0h1m1 0h1m-69 1h1m1 0h1m26 0h1m1 0h5m5 0h2m22 0h1m1 0h1m2 0h1m-71 1h1m1 0h1m29 0h3m1 0h1m2 0h2m1 0h2m24 0h1m1 0h1m-40 1h1m1 0h3m1 0h2m4 0h3m24 0h1m-44 1h1m5 0h4m1 0h1m1 0h1m3 0h2m-116 1h1m101 0h5m1 0h1m26 0h1m-136 1h1m102 0h2m1 0h1m3 0h1m-73 1h1m98 0h1m2 0h1m-143 1h2m2 0h2m131 0h3m-137 1h2m1 0h1m126 0h1m1 0h1m1 0h1m4 0h1m-141 1h2m133 0h1m1 0h1m2 0h1m-143 1h1m4 0h1m131 0h1m1 0h1m-134 1h1m-5 1h1m3 0h2m-6 1h1m3 0h3m-11 1h1m9 0h1m21 0h1m5 0h1m-35 1h1m25 1h1m0 1h1m10 0h1m-40 1h1m4 0h1m34 0h1m1 0h1m-46 1h1m1 0h1m3 0h1m21 0h1m-29 1h1m6 0h1m37 0h2m-47 1h1m1 0h1m-3 1h1m0 1h2m14 0h1m127 0h1m-143 1h4m7 0h1m7 0h1m10 0h2m5 0h1m103 0h1m1 0h3m1 0h1m3 0h1m-154 1h4m1 0h1m3 0h1m6 0h1m3 0h1m6 0h1m4 0h1m1 0h1m14 0h1m93 0h3m1 0h6m-154 1h1m2 0h1m8 0h2m1 0h3m4 0h2m120 0h4m1 0h1m1 0h4m-150 1h1m4 0h1m1 0h1m1 0h1m1 0h4m2 0h1m1 0h1m3 0h1m4 0h2m109 0h1m1 0h1m5 0h3m-146 1h1m4 0h2m1 0h3m5 0h1m1 0h1m117 0h1m6 0h2m-154 1h1m3 0h1m2 0h1m5 0h1m2 0h8m2 0h3m6 0h1m104 0h1m5 0h1m4 0h3m-153 1h3m3 0h2m1 0h1m3 0h1m3 0h8m1 0h2m110 0h1m2 0h4m6 0h1m-149 1h1m1 0h1m1 0h2m8 0h8m1 0h1m113 0h1m2 0h2m4 0h2m-133 1h3m4 0h2m114 0h2m2 0h1m1 0h5m-154 1h2m18 0h4m2 0h1m2 0h1m114 0h1m2 0h6m-140 1h1m6 0h1m1 0h4m2 0h3m112 0h1m5 0h2m-151 1h1m1 0h1m9 0h1m7 0h3m1 0h2m1 0h2m120 0h2m-151 1h1m11 0h1m7 0h3m1 0h1m1 0h3m2 0h2m108 0h1m9 0h1m-152 1h2m1 0h1m3 0h1m3 0h1m3 0h1m3 0h1m1 0h1m2 0h2m1 0h2m3 0h2m3 0h1m110 0h1m3 0h1m-188 1h1m35 0h2m1 0h2m5 0h1m1 0h1m1 0h6m3 0h3m1 0h1m2 0h1m5 0h2m-77 1h2m1 0h3m32 0h1m1 0h1m12 0h7m3 0h4m1 0h2m118 0h2m-188 1h3m2 0h1m30 0h4m7 0h4m1 0h3m6 0h3m1 0h1m-68 1h2m4 0h1m31 0h5m2 0h1m1 0h5m2 0h1m1 0h2m2 0h6m118 0h1m1 0h3m-189 1h3m35 0h7m1 0h6m2 0h1m1 0h1m1 0h5m3 0h1m116 0h4m-190 1h7m2 0h2m26 0h2m1 0h15m5 0h7m3 0h1m3 0h1m111 0h1m1 0h4m-193 1h10m1 0h1m26 0h16m2 0h1m2 0h8m2 0h1m2 0h1m1 0h3m108 0h1m2 0h1m1 0h2m-192 1h13m23 0h7m1 0h2m1 0h8m1 0h3m1 0h12m1 0h1m1 0h2m109 0h1m1 0h1m1 0h1m-190 1h12m21 0h13m5 0h8m1 0h1m1 0h1m1 0h4m1 0h4m1 0h1m1 0h1m1 0h1m100 0h1m3 0h1m2 0h1m1 0h1m-188 1h12m2 0h4m13 0h13m1 0h1m2 0h13m3 0h7m2 0h1m104 0h1m2 0h2m2 0h2m-187 1h14m2 0h1m3 0h1m4 0h3m3 0h3m2 0h11m1 0h13m1 0h4m1 0h1m1 0h1m1 0h1m1 0h1m1 0h1m1 0h1m96 0h1m3 0h5m-182 1h17m5 0h1m1 0h2m5 0h3m1 0h4m1 0h2m5 0h8m1 0h16m1 0h4m96 0h1m2 0h1m2 0h3m-181 1h13m1 0h1m1 0h2m2 0h5m3 0h2m1 0h6m1 0h1m3 0h1m2 0h3m1 0h18m2 0h1m1 0h4m4 0h1m92 0h2m1 0h1m2 0h2m-180 1h8m1 0h8m1 0h7m5 0h1m1 0h5m2 0h2m1 0h1m2 0h22m1 0h3m1 0h2m5 0h1m94 0h3m1 0h1m-178 1h17m1 0h1m10 0h1m3 0h1m6 0h1m2 0h23m1 0h1m2 0h1m2 0h3m4 0h1m90 0h1m1 0h1m-174 1h19m5 0h1m8 0h1m5 0h1m1 0h1m2 0h7m1 0h13m1 0h3m5 0h2m-76 1h21m2 0h3m6 0h2m1 0h1m8 0h4m1 0h4m2 0h14m4 0h2m1 0h1m-76 1h18m4 0h4m4 0h4m14 0h2m1 0h1m2 0h6m2 0h6m3 0h6m-77 1h24m1 0h1m5 0h1m2 0h1m6 0h2m2 0h1m2 0h1m1 0h2m3 0h4m1 0h8m5 0h3m1 0h1m93 0h1m-171 1h2m1 0h15m2 0h4m7 0h1m3 0h1m1 0h1m1 0h2m8 0h1m3 0h5m1 0h1m1 0h11m1 0h1m1 0h2m-77 1h6m1 0h16m2 0h3m1 0h7m2 0h2m7 0h1m1 0h1m4 0h3m1 0h2m1 0h2m1 0h8m2 0h2m1 0h2m4 0h1m5 0h1m-90 1h23m2 0h1m1 0h2m2 0h1m2 0h1m8 0h1m2 0h1m1 0h1m4 0h1m1 0h2m2 0h3m2 0h1m2 0h1m1 0h1m-69 1h27m2 0h1m2 0h4m1 0h1m7 0h1m5 0h1m1 0h2m4 0h2m20 0h2m1 0h1m6 0h3m12 0h1m-107 1h21m4 0h4m1 0h7m16 0h2m5 0h2m1 0h1m17 0h2m1 0h1m7 0h1m-93 1h22m1 0h5m3 0h1m1 0h2m3 0h1m13 0h2m3 0h4m1 0h3m32 0h1m-97 1h24m1 0h2m1 0h2m4 0h2m11 0h1m2 0h3m2 0h7m1 0h1m9 0h1m6 0h2m5 0h1m10 0h1m1 0h1m-101 1h9m2 0h14m5 0h2m2 0h1m2 0h1m10 0h1m2 0h1m2 0h4m1 0h3m1 0h1m1 0h1m1 0h1m20 0h1m-88 1h22m1 0h2m3 0h4m1 0h1m5 0h1m3 0h1m2 0h3m4 0h6m1 0h1m1 0h1m1 0h2m1 0h1m12 0h1m5 0h1m4 0h1m-92 1h12m1 0h4m1 0h4m1 0h2m1 0h4m1 0h4m4 0h2m1 0h1m1 0h1m1 0h2m1 0h1m13 0h1m1 0h1m14 0h1m9 0h2m6 0h2m5 0h1m-106 1h18m2 0h1m2 0h1m1 0h5m1 0h4m5 0h3m3 0h2m9 0h2m2 0h1m22 0h1m3 0h5m13 0h1m-106 1h2m1 0h8m1 0h6m1 0h1m2 0h8m2 0h2m20 0h1m4 0h1m15 0h1m7 0h1m2 0h1m1 0h3m67 0h1m-158 1h2m2 0h14m1 0h1m1 0h5m1 0h3m3 0h1m50 0h5m5 0h1m-95 1h1m1 0h26m4 0h2m1 0h1m27 0h1m17 0h1m4 0h1m2 0h1m17 0h1m35 0h1m-143 1h16m1 0h11m1 0h4m3 0h1m4 0h1m10 0h1m10 0h3m20 0h1m1 0h3m1 0h1m-93 1h17m1 0h6m1 0h4m1 0h1m1 0h5m29 0h1m16 0h2m1 0h2m1 0h1m2 0h1m1 0h1m1 0h1m-96 1h12m1 0h1m2 0h1m2 0h3m1 0h3m1 0h1m1 0h5m2 0h1m24 0h1m22 0h2m5 0h1m1 0h4m44 0h1m-141 1h12m1 0h4m2 0h1m3 0h1m3 0h6m24 0h1m1 0h2m33 0h2m-96 1h18m1 0h1m3 0h1m1 0h1m1 0h1m1 0h2m21 0h1m4 0h3m2 0h1m31 0h1m1 0h1m45 0h1m-142 1h16m1 0h1m2 0h5m1 0h4m6 0h1m11 0h4m4 0h3m34 0h3m46 0h1m-142 1h7m1 0h9m1 0h13m16 0h2m3 0h1m2 0h1m2 0h1m78 0h4m2 0h1m-144 1h12m4 0h12m3 0h1m13 0h1m8 0h1m1 0h3m33 0h1m-92 1h13m2 0h1m1 0h8m1 0h1m3 0h1m1 0h3m10 0h1m44 0h1m43 0h1m3 0h2m-139 1h9m2 0h1m1 0h1m1 0h8m2 0h2m2 0h6m6 0h1m1 0h2m4 0h1m35 0h1m3 0h1m42 0h1m5 0h1m-138 1h4m2 0h2m6 0h8m5 0h7m4 0h1m2 0h1m3 0h1m3 0h1m38 0h1m14 0h1m25 0h1m1 0h2m1 0h1m2 0h1m-137 1h3m1 0h3m4 0h9m4 0h1m1 0h7m4 0h2m11 0h1m2 0h1m56 0h1m2 0h2m13 0h1m1 0h3m1 0h1m-135 1h4m1 0h3m3 0h12m1 0h10m3 0h3m2 0h1m28 0h1m12 0h1m1 0h1m22 0h1m3 0h3m1 0h1m10 0h1m2 0h2m-132 1h2m2 0h3m4 0h4m2 0h6m1 0h9m3 0h4m2 0h1m42 0h1m28 0h3m8 0h1m4 0h1m-131 1h2m1 0h2m12 0h1m1 0h1m2 0h4m3 0h4m1 0h1m1 0h1m1 0h2m9 0h4m4 0h2m28 0h1m25 0h3m5 0h1m8 0h1m-131 1h1m2 0h1m11 0h1m2 0h1m1 0h2m1 0h4m1 0h6m4 0h2m4 0h4m6 0h1m1 0h1m1 0h1m27 0h1m6 0h1m21 0h5m4 0h1m1 0h2m-127 1h1m8 0h1m9 0h1m1 0h4m1 0h1m1 0h3m5 0h1m1 0h1m11 0h2m1 0h1m1 0h3m23 0h4m1 0h2m3 0h1m21 0h8m-115 1h3m3 0h1m10 0h9m2 0h4m15 0h3m1 0h1m18 0h1m4 0h3m1 0h2m7 0h2m1 0h1m13 0h10m1 0h1m2 0h3m-125 1h1m1 0h1m1 0h1m11 0h2m1 0h7m1 0h1m2 0h1m1 0h3m6 0h4m2 0h1m1 0h6m10 0h6m1 0h1m2 0h1m4 0h5m24 0h1m1 0h7m1 0h1m2 0h2m-115 1h2m1 0h1m4 0h1m2 0h6m3 0h4m2 0h2m3 0h2m1 0h2m3 0h10m1 0h1m2 0h2m2 0h11m3 0h1m1 0h3m23 0h2m1 0h9m2 0h1m-123 1h2m9 0h1m1 0h2m1 0h1m2 0h2m3 0h2m3 0h6m1 0h2m1 0h1m1 0h6m2 0h6m1 0h8m1 0h2m1 0h1m2 0h6m1 0h1m7 0h1m1 0h1m20 0h6m2 0h3m-109 1h4m1 0h1m4 0h12m2 0h28m4 0h10m1 0h1m8 0h1m18 0h8m1 0h3m-107 1h6m2 0h1m2 0h8m3 0h1m1 0h24m1 0h2m1 0h1m1 0h1m1 0h14m26 0h1m1 0h9m-116 1h2m2 0h1m4 0h1m4 0h1m4 0h3m2 0h2m1 0h34m1 0h18m27 0h5m1 0h3m-125 1h1m2 0h1m4 0h2m2 0h1m5 0h2m3 0h1m1 0h2m1 0h1m1 0h2m1 0h2m2 0h22m1 0h29m9 0h1m18 0h7m-124 1h1m1 0h1m15 0h1m2 0h1m2 0h1m6 0h14m1 0h1m1 0h2m1 0h1m1 0h15m1 0h11m1 0h7m10 0h1m10 0h2m6 0h5m-117 1h1m14 0h1m3 0h2m5 0h1m3 0h4m2 0h5m2 0h1m1 0h39m3 0h1m2 0h1m13 0h1m1 0h1m6 0h3m-117 1h1m3 0h1m11 0h2m9 0h1m1 0h1m1 0h3m1 0h2m1 0h5m2 0h1m1 0h4m2 0h20m1 0h2m1 0h9m1 0h3m4 0h1m10 0h2m5 0h1m1 0h2m-114 1h2m2 0h1m20 0h2m2 0h11m1 0h1m1 0h2m2 0h1m1 0h1m2 0h37m12 0h2m1 0h1m4 0h1m-110 1h1m2 0h2m20 0h17m4 0h3m1 0h1m1 0h32m1 0h3m4 0h1m2 0h1m6 0h3m3 0h2m-115 1h1m1 0h1m4 0h1m21 0h2m2 0h12m1 0h2m3 0h2m1 0h1m3 0h21m1 0h13m5 0h2m1 0h1m2 0h1m1 0h3m1 0h1m-109 1h1m22 0h1m2 0h3m5 0h10m4 0h2m1 0h1m5 0h6m1 0h4m1 0h3m1 0h18m1 0h2m1 0h4m5 0h5m-109 1h1m6 0h2m6 0h1m2 0h1m10 0h1m5 0h8m2 0h3m5 0h1m3 0h2m2 0h1m2 0h29m1 0h3m1 0h3m1 0h1m1 0h1m1 0h2m-108 1h1m8 0h1m6 0h1m17 0h1m1 0h2m1 0h4m3 0h1m10 0h1m1 0h2m2 0h20m5 0h7m1 0h6m1 0h4m-101 1h2m11 0h1m16 0h1m1 0h1m1 0h6m6 0h9m1 0h1m2 0h19m5 0h1m1 0h3m1 0h9m-87 1h3m31 0h4m2 0h2m1 0h1m4 0h1m2 0h5m1 0h2m1 0h2m1 0h2m1 0h1m5 0h12m-83 1h3m21 0h1m8 0h3m2 0h1m6 0h1m4 0h1m2 0h2m1 0h6m7 0h4m5 0h4m-81 1h1m3 0h1m23 0h2m2 0h2m2 0h1m4 0h1m7 0h1m3 0h2m1 0h2m2 0h2m1 0h3m2 0h2m-87 1h1m1 0h1m15 0h1m29 0h4m4 0h1m2 0h3m5 0h2m2 0h3m2 0h3m3 0h1m2 0h3m-90 1h2m18 0h1m28 0h5m5 0h3m4 0h2m2 0h1m1 0h1m1 0h1m3 0h3m4 0h5m-90 1h1m20 0h1m20 0h1m18 0h1m11 0h3m2 0h2m-79 1h1m4 0h1m16 0h1m10 0h1m5 0h2m2 0h1m1 0h1m28 0h2m-76 1h1m26 0h1m2 0h1m1 0h1m6 0h1m3 0h1m-43 1h1m17 0h1m5 0h2m2 0h1m6 0h2m2 0h1m-30 1h2m4 0h1m3 0h2m7 0h1m3 0h1m-22 1h1m7 0h3m0 1h1m-11 1h1m6 0h1m-2 1h1"/>
<path stroke="#460a5d" d="M156 2.5h1m1 0h2m7 0h1m-13 1h4m1 0h3m2 0h1m10 0h6m-23 1h1m5 0h1m1 0h1m1 0h1m3 0h2m2 0h1m2 0h1m1 0h1m-30 1h2m2 0h1m2 0h2m5 0h2m3 0h1m6 0h3m1 0h1m-33 1h1m1 0h1m4 0h1m4 0h1m2 0h3m3 0h2m1 0h1m3 0h2m1 0h1m1 0h1m-35 1h1m1 0h3m7 0h1m2 0h2m1 0h1m1 0h3m1 0h1m3 0h2m3 0h2m-39 1h1m4 0h2m1 0h1m3 0h6m2 0h1m1 0h1m4 0h2m2 0h2m1 0h1m3 0h1m-37 1h5m3 0h1m2 0h2m1 0h4m1 0h2m4 0h1m5 0h2m3 0h2m-42 1h3m2 0h1m8 0h1m2 0h4m2 0h4m2 0h1m3 0h1m1 0h3m1 0h3m-41 1h1m5 0h1m6 0h1m2 0h1m1 0h7m6 0h3m2 0h1m2 0h2m-44 1h1m1 0h1m1 0h1m3 0h1m8 0h1m2 0h6m4 0h1m3 0h2m2 0h2m3 0h1m-41 1h1m3 0h1m1 0h1m1 0h1m1 0h1m6 0h3m1 0h2m1 0h2m2 0h2m3 0h1m3 0h2m-39 1h1m7 0h1m2 0h3m2 0h2m1 0h1m2 0h2m2 0h2m1 0h1m1 0h1m1 0h3m3 0h2m-47 1h1m2 0h2m1 0h1m1 0h1m2 0h1m6 0h3m1 0h1m1 0h3m1 0h2m1 0h5m2 0h3m4 0h3m-51 1h1m1 0h1m4 0h2m1 0h1m3 0h1m4 0h1m1 0h2m1 0h1m1 0h4m1 0h4m1 0h1m1 0h1m2 0h1m8 0h1m-53 1h1m1 0h2m1 0h1m2 0h4m5 0h2m3 0h3m6 0h1m1 0h3m1 0h1m2 0h1m3 0h1m3 0h1m-48 1h6m4 0h4m2 0h2m3 0h1m1 0h1m1 0h1m3 0h1m1 0h2m1 0h1m2 0h4m1 0h1m1 0h2m1 0h1m-51 1h1m3 0h2m7 0h1m1 0h1m1 0h1m2 0h1m4 0h1m3 0h1m1 0h1m3 0h8m4 0h1m3 0h2m1 0h1m-56 1h1m4 0h1m2 0h1m2 0h1m2 0h1m2 0h1m1 0h1m1 0h2m4 0h1m2 0h3m1 0h1m2 0h10m2 0h1m5 0h1m1 0h1m-58 1h1m1 0h2m2 0h1m5 0h1m4 0h2m1 0h3m1 0h1m4 0h1m2 0h1m1 0h2m1 0h7m3 0h1m1 0h1m4 0h2m1 0h1m-58 1h1m1 0h1m8 0h1m1 0h1m3 0h1m1 0h1m1 0h1m3 0h1m1 0h2m1 0h4m2 0h1m2 0h3m3 0h1m5 0h3m1 0h3m-58 1h1m3 0h1m14 0h1m5 0h1m1 0h1m2 0h3m1 0h3m1 0h1m2 0h1m1 0h1m1 0h1m8 0h2m1 0h1m1 0h1m-60 1h3m28 0h1m4 0h2m1 0h1m2 0h5m4 0h1m2 0h2m2 0h1m-59 1h1m1 0h1m22 0h3m1 0h2m4 0h1m1 0h1m4 0h2m3 0h1m2 0h4m2 0h2m1 0h1m-58 1h1m22 0h2m1 0h2m3 0h2m1 0h3m1 0h3m3 0h1m1 0h1m4 0h1m6 0h1m-61 1h1m4 0h2m20 0h3m1 0h1m2 0h1m1 0h2m5 0h2m3 0h2m1 0h1m2 0h3m1 0h1m-61 1h2m1 0h1m3 0h2m20 0h1m4 0h1m4 0h1m4 0h1m1 0h3m2 0h4m1 0h2m3 0h1m-64 1h2m2 0h1m1 0h1m18 0h2m1 0h1m2 0h2m2 0h1m1 0h2m1 0h4m2 0h1m2 0h3m1 0h8m3 0h1m-66 1h2m1 0h3m6 0h1m13 0h1m2 0h1m1 0h1m1 0h2m3 0h2m4 0h3m1 0h3m2 0h1m4 0h1m1 0h2m4 0h1m-69 1h1m1 0h1m2 0h1m1 0h2m4 0h1m1 0h1m13 0h2m2 0h5m1 0h2m1 0h1m2 0h1m2 0h1m1 0h2m9 0h8m-72 1h1m3 0h3m1 0h1m2 0h1m2 0h3m15 0h1m3 0h4m2 0h1m1 0h1m18 0h1m1 0h2m1 0h1m2 0h1m-145 1h2m71 0h2m2 0h2m2 0h2m8 0h1m1 0h1m7 0h1m2 0h2m2 0h4m3 0h1m3 0h1m19 0h1m1 0h1m1 0h1m-142 1h1m69 0h2m1 0h1m16 0h1m9 0h1m1 0h1m5 0h1m3 0h1m3 0h1m6 0h1m14 0h1m1 0h1m-142 1h2m70 0h1m3 0h1m14 0h2m8 0h4m3 0h1m1 0h1m3 0h1m2 0h1m16 0h1m2 0h2m3 0h1m-141 1h2m66 0h4m2 0h1m13 0h2m10 0h2m1 0h1m3 0h1m2 0h4m3 0h1m3 0h1m14 0h1m3 0h1m-141 1h2m64 0h1m1 0h2m3 0h1m16 0h1m6 0h1m4 0h2m4 0h1m1 0h1m3 0h1m2 0h1m5 0h1m11 0h2m4 0h1m-144 1h1m3 0h2m65 0h1m28 0h2m2 0h1m7 0h2m2 0h3m12 0h1m5 0h1m1 0h2m-142 1h1m1 0h2m2 0h1m31 0h5m57 0h1m8 0h1m2 0h2m3 0h1m16 0h2m1 0h2m2 0h2m1 0h1m-145 1h1m1 0h1m1 0h1m1 0h2m30 0h4m1 0h1m53 0h1m11 0h2m1 0h2m1 0h1m18 0h2m1 0h4m2 0h1m-144 1h2m2 0h1m3 0h1m29 0h1m29 0h1m38 0h1m1 0h1m4 0h1m20 0h3m5 0h2m-143 1h3m2 0h1m128 0h1m3 0h4m-144 1h1m2 0h1m2 0h3m29 0h1m5 0h1m91 0h1m1 0h1m1 0h1m1 0h2m-143 1h1m1 0h4m1 0h1m26 0h1m1 0h2m97 0h3m1 0h1m1 0h3m-145 1h2m1 0h4m25 0h1m5 0h1m1 0h2m1 0h1m53 0h1m34 0h1m4 0h7m-144 1h1m1 0h1m2 0h1m1 0h1m24 0h2m6 0h1m1 0h3m96 0h3m-144 1h3m2 0h3m24 0h1m1 0h1m3 0h2m55 0h1m46 0h2m-143 1h2m1 0h1m2 0h2m24 0h1m2 0h1m2 0h1m5 0h2m-47 1h1m4 0h4m21 0h2m8 0h1m2 0h1m2 0h2m54 0h1m-97 1h1m24 0h1m3 0h2m7 0h1m-45 1h1m4 0h3m1 0h1m24 0h3m1 0h2m5 0h3m49 0h1m-98 1h1m1 0h1m2 0h2m22 0h3m3 0h1m1 0h3m4 0h1m1 0h2m48 0h1m-94 1h1m1 0h1m1 0h1m18 0h1m2 0h2m6 0h2m4 0h6m-48 1h2m1 0h3m22 0h1m1 0h2m1 0h1m2 0h2m1 0h1m6 0h1m-47 1h1m1 0h3m1 0h1m15 0h1m3 0h1m4 0h2m1 0h1m1 0h2m3 0h4m1 0h1m-47 1h5m15 0h1m1 0h1m7 0h6m7 0h1m1 0h2m1 0h1m-50 1h1m2 0h2m1 0h2m1 0h1m1 0h1m4 0h1m3 0h2m10 0h1m2 0h1m1 0h3m1 0h1m1 0h1m2 0h1m2 0h1m-50 1h3m4 0h4m1 0h2m1 0h4m1 0h2m2 0h1m7 0h1m2 0h2m1 0h1m2 0h1m1 0h2m1 0h5m94 0h1m3 0h1m1 0h3m-154 1h1m4 0h1m1 0h1m1 0h1m1 0h6m2 0h1m2 0h2m10 0h1m1 0h1m1 0h5m4 0h3m97 0h1m6 0h1m-154 1h2m1 0h5m5 0h1m3 0h4m2 0h1m1 0h2m1 0h2m3 0h1m1 0h2m5 0h2m1 0h1m2 0h2m97 0h1m1 0h1m-151 1h1m2 0h1m2 0h4m1 0h1m1 0h1m1 0h1m5 0h1m1 0h1m1 0h1m1 0h1m3 0h1m4 0h1m1 0h1m2 0h1m103 0h1m1 0h5m-152 1h4m1 0h4m3 0h2m2 0h1m3 0h5m1 0h1m1 0h2m4 0h4m6 0h2m1 0h1m96 0h1m1 0h1m1 0h4m-151 1h2m2 0h2m1 0h1m2 0h1m2 0h2m8 0h2m3 0h1m3 0h1m2 0h1m6 0h1m1 0h2m91 0h2m4 0h2m1 0h1m1 0h2m-151 1h1m3 0h3m2 0h1m1 0h3m1 0h3m8 0h1m7 0h3m6 0h2m93 0h1m1 0h2m4 0h1m1 0h4m-153 1h2m1 0h2m1 0h1m1 0h1m2 0h1m1 0h2m2 0h2m8 0h1m1 0h2m12 0h1m1 0h1m93 0h3m1 0h2m4 0h2m2 0h1m-154 1h2m1 0h2m2 0h1m1 0h2m1 0h2m3 0h1m1 0h1m3 0h2m4 0h2m3 0h1m2 0h1m2 0h1m2 0h1m95 0h4m3 0h1m1 0h1m-147 1h1m3 0h1m2 0h5m3 0h1m1 0h1m4 0h2m1 0h2m1 0h1m2 0h1m1 0h1m3 0h1m102 0h2m1 0h2m-147 1h2m10 0h1m1 0h1m3 0h2m1 0h1m4 0h2m3 0h2m1 0h2m3 0h1m3 0h1m96 0h3m1 0h2m2 0h1m2 0h2m-152 1h1m3 0h1m2 0h4m1 0h2m3 0h2m3 0h1m2 0h1m3 0h5m1 0h2m102 0h4m3 0h1m3 0h2m-152 1h4m2 0h1m2 0h2m1 0h7m3 0h1m1 0h1m3 0h2m2 0h3m1 0h2m98 0h1m1 0h2m1 0h1m6 0h2m1 0h1m-151 1h1m1 0h3m1 0h3m1 0h3m1 0h3m1 0h1m1 0h1m3 0h1m2 0h1m1 0h1m2 0h1m3 0h3m98 0h5m3 0h1m1 0h1m1 0h1m-189 1h2m1 0h1m33 0h1m2 0h1m2 0h1m2 0h1m2 0h1m1 0h1m6 0h1m5 0h1m1 0h2m1 0h2m1 0h2m2 0h2m99 0h2m1 0h1m1 0h1m1 0h1m1 0h3m-188 1h1m36 0h1m2 0h2m4 0h5m7 0h1m1 0h1m4 0h1m2 0h3m1 0h4m102 0h2m-182 1h2m3 0h2m35 0h1m1 0h5m4 0h1m3 0h2m1 0h3m3 0h1m4 0h3m105 0h4m2 0h1m2 0h2m-188 1h4m1 0h1m35 0h2m1 0h1m5 0h2m1 0h1m2 0h2m6 0h1m1 0h1m2 0h3m3 0h1m103 0h3m1 0h1m-183 1h1m2 0h2m37 0h1m7 0h1m1 0h1m1 0h1m5 0h3m1 0h7m24 0h1m80 0h1m1 0h1m5 0h2m-185 1h2m30 0h1m15 0h5m8 0h2m2 0h2m1 0h3m1 0h2m14 0h1m86 0h4m1 0h1m-179 1h1m26 0h1m17 0h1m11 0h2m1 0h2m1 0h1m3 0h3m99 0h1m3 0h1m2 0h1m2 0h1m-147 1h1m2 0h1m8 0h1m3 0h1m12 0h1m1 0h1m2 0h4m98 0h1m3 0h3m1 0h1m1 0h1m1 0h1m-178 1h1m32 0h5m8 0h1m1 0h1m6 0h1m4 0h1m1 0h1m8 0h1m90 0h1m4 0h3m1 0h2m1 0h1m-175 1h1m31 0h1m1 0h2m13 0h3m7 0h2m1 0h1m1 0h2m17 0h1m77 0h2m2 0h1m1 0h2m-167 1h2m1 0h1m1 0h1m1 0h4m3 0h2m4 0h2m11 0h1m13 0h1m4 0h1m1 0h1m1 0h1m1 0h1m1 0h1m7 0h2m16 0h1m69 0h1m2 0h1m1 0h2m7 0h1m-167 1h5m1 0h1m2 0h2m1 0h2m3 0h1m4 0h1m2 0h5m8 0h1m16 0h1m6 0h4m3 0h1m2 0h1m79 0h1m5 0h1m1 0h2m-165 1h1m1 0h1m2 0h2m5 0h1m1 0h1m2 0h1m6 0h1m1 0h3m1 0h2m3 0h1m18 0h1m7 0h1m8 0h2m77 0h1m3 0h3m4 0h1m2 0h1m-170 1h1m16 0h1m2 0h2m1 0h1m5 0h1m3 0h1m1 0h2m22 0h1m3 0h1m3 0h1m1 0h1m2 0h2m4 0h3m1 0h2m71 0h1m1 0h2m4 0h3m3 0h1m-158 1h3m1 0h1m2 0h1m1 0h1m1 0h3m1 0h2m2 0h2m1 0h2m23 0h1m2 0h1m1 0h2m3 0h1m11 0h1m15 0h1m57 0h1m2 0h1m1 0h1m2 0h1m1 0h1m1 0h1m1 0h1m-158 1h5m1 0h2m1 0h5m1 0h1m3 0h1m1 0h1m1 0h1m8 0h1m13 0h1m3 0h1m1 0h1m1 0h1m2 0h3m1 0h1m8 0h1m3 0h1m69 0h1m2 0h3m2 0h4m-154 1h1m4 0h6m7 0h5m4 0h1m4 0h2m15 0h1m4 0h1m6 0h1m1 0h1m86 0h4m-156 1h4m4 0h1m1 0h2m4 0h2m1 0h11m2 0h1m1 0h1m7 0h2m6 0h1m1 0h1m6 0h2m2 0h1m1 0h1m2 0h1m1 0h1m82 0h2m-149 1h1m1 0h2m1 0h2m1 0h2m1 0h1m1 0h4m2 0h2m1 0h2m1 0h1m3 0h1m5 0h1m10 0h3m3 0h1m1 0h2m1 0h1m2 0h2m5 0h1m5 0h2m70 0h1m-167 1h1m15 0h2m4 0h7m1 0h3m1 0h1m1 0h1m2 0h1m3 0h4m2 0h2m5 0h1m1 0h1m11 0h1m4 0h1m5 0h1m84 0h2m-164 1h1m21 0h1m7 0h2m2 0h2m1 0h1m1 0h2m1 0h1m1 0h4m3 0h1m2 0h1m2 0h1m8 0h2m2 0h1m3 0h1m1 0h1m5 0h1m1 0h1m78 0h1m-147 1h2m1 0h1m3 0h1m1 0h2m1 0h8m1 0h1m4 0h3m2 0h1m3 0h1m3 0h2m1 0h2m1 0h1m1 0h5m2 0h2m4 0h1m7 0h2m-65 1h2m1 0h2m4 0h1m1 0h2m3 0h1m2 0h1m2 0h2m1 0h1m2 0h1m2 0h1m4 0h4m1 0h1m2 0h1m4 0h1m3 0h1m4 0h2m1 0h1m1 0h1m7 0h1m5 0h1m58 0h1m-143 1h4m4 0h1m8 0h1m2 0h1m1 0h3m1 0h1m1 0h4m3 0h4m4 0h1m2 0h1m4 0h2m2 0h2m2 0h1m2 0h1m1 0h2m3 0h1m11 0h1m5 0h1m53 0h2m-142 1h1m5 0h3m1 0h1m2 0h2m2 0h2m1 0h1m3 0h2m1 0h3m2 0h3m4 0h1m3 0h1m1 0h1m1 0h2m1 0h1m1 0h1m1 0h3m1 0h4m2 0h1m1 0h1m3 0h2m4 0h2m8 0h1m-84 1h1m2 0h1m2 0h4m2 0h3m1 0h1m1 0h1m2 0h1m2 0h1m4 0h2m7 0h1m1 0h1m1 0h4m4 0h6m3 0h2m1 0h1m4 0h3m2 0h2m1 0h1m7 0h1m-99 1h2m14 0h2m1 0h2m2 0h2m1 0h1m2 0h5m1 0h1m1 0h2m1 0h1m2 0h2m4 0h1m3 0h1m1 0h1m1 0h1m4 0h1m1 0h1m3 0h2m1 0h1m1 0h1m1 0h1m2 0h1m1 0h3m3 0h3m1 0h2m4 0h4m-86 1h1m2 0h3m4 0h1m1 0h3m3 0h3m1 0h2m3 0h2m1 0h1m6 0h1m1 0h1m1 0h1m2 0h1m1 0h2m3 0h3m2 0h2m1 0h5m1 0h1m1 0h1m3 0h1m1 0h1m1 0h1m2 0h1m4 0h2m-95 1h1m4 0h1m4 0h1m2 0h1m4 0h1m4 0h1m7 0h1m1 0h1m2 0h1m1 0h1m2 0h9m2 0h1m1 0h1m1 0h1m5 0h1m3 0h2m3 0h2m1 0h4m2 0h4m4 0h5m2 0h1m-90 1h2m1 0h2m1 0h1m5 0h1m4 0h2m1 0h2m3 0h3m2 0h5m3 0h1m2 0h2m1 0h1m1 0h1m2 0h4m7 0h1m4 0h1m1 0h1m1 0h1m6 0h1m1 0h1m1 0h1m6 0h1m1 0h2m7 0h1m38 0h1m-153 1h1m8 0h1m6 0h1m1 0h2m8 0h1m3 0h1m3 0h4m2 0h3m2 0h5m1 0h2m1 0h1m2 0h1m1 0h1m2 0h1m1 0h2m4 0h1m1 0h3m3 0h1m2 0h1m1 0h1m4 0h7m5 0h3m1 0h1m44 0h1m1 0h1m-153 1h2m14 0h1m1 0h1m5 0h1m3 0h3m1 0h1m4 0h1m1 0h1m2 0h4m2 0h4m1 0h1m3 0h1m2 0h4m1 0h3m10 0h4m5 0h2m1 0h1m2 0h1m2 0h2m1 0h1m1 0h3m1 0h1m34 0h2m8 0h2m3 0h1m-157 1h1m26 0h1m1 0h2m2 0h1m1 0h4m2 0h1m1 0h2m7 0h1m3 0h1m4 0h1m1 0h1m2 0h2m5 0h1m5 0h1m2 0h3m1 0h2m1 0h4m1 0h2m7 0h1m9 0h1m36 0h1m2 0h2m1 0h1m-141 1h1m11 0h1m4 0h3m1 0h4m6 0h1m9 0h1m3 0h2m3 0h3m9 0h2m3 0h3m1 0h1m3 0h1m1 0h5m7 0h1m27 0h1m7 0h2m1 0h1m4 0h2m1 0h2m-137 1h1m6 0h1m4 0h1m1 0h1m5 0h2m1 0h3m3 0h1m1 0h1m2 0h1m2 0h1m1 0h1m3 0h3m1 0h2m8 0h2m5 0h2m2 0h1m2 0h1m1 0h2m1 0h1m1 0h1m1 0h3m1 0h1m4 0h1m26 0h1m7 0h2m1 0h2m-133 1h1m1 0h2m1 0h2m3 0h1m5 0h1m5 0h2m2 0h1m8 0h1m3 0h3m3 0h4m1 0h1m1 0h1m1 0h3m14 0h1m2 0h3m1 0h1m1 0h1m4 0h4m35 0h1m3 0h1m1 0h2m1 0h1m2 0h2m2 0h1m-140 1h1m4 0h2m1 0h3m1 0h3m9 0h2m7 0h1m2 0h1m2 0h1m4 0h1m1 0h1m3 0h1m16 0h1m9 0h1m2 0h2m2 0h2m1 0h1m40 0h3m1 0h1m4 0h1m-132 1h1m1 0h3m3 0h1m1 0h1m5 0h1m2 0h3m2 0h1m1 0h1m1 0h2m1 0h3m3 0h2m3 0h1m9 0h1m16 0h1m5 0h1m1 0h1m1 0h2m36 0h1m5 0h1m1 0h1m-127 1h1m1 0h2m5 0h1m4 0h2m5 0h1m1 0h2m1 0h2m2 0h2m4 0h2m1 0h1m3 0h1m1 0h1m26 0h1m1 0h1m6 0h3m33 0h4m2 0h3m5 0h1m-140 1h1m9 0h1m13 0h1m4 0h1m4 0h1m3 0h2m2 0h3m1 0h1m2 0h2m1 0h1m24 0h5m4 0h5m32 0h1m10 0h1m2 0h2m-134 1h1m1 0h2m12 0h3m1 0h1m1 0h2m1 0h1m3 0h1m1 0h1m2 0h1m1 0h2m1 0h1m1 0h1m1 0h1m3 0h1m1 0h1m24 0h1m1 0h1m2 0h1m1 0h1m36 0h2m3 0h1m1 0h5m-128 1h2m1 0h1m8 0h1m1 0h3m1 0h1m3 0h1m1 0h1m3 0h4m4 0h2m1 0h1m1 0h1m3 0h1m1 0h2m17 0h1m6 0h4m3 0h1m9 0h1m2 0h1m23 0h2m4 0h2m2 0h3m-133 1h2m1 0h1m1 0h1m9 0h1m2 0h2m6 0h2m2 0h2m1 0h1m2 0h1m1 0h1m7 0h1m21 0h1m5 0h1m3 0h2m1 0h1m4 0h1m6 0h3m22 0h1m2 0h2m4 0h1m2 0h2m-136 1h2m2 0h6m8 0h5m8 0h3m1 0h2m1 0h3m1 0h1m16 0h1m19 0h1m5 0h1m14 0h1m9 0h3m1 0h2m8 0h1m1 0h1m2 0h1m1 0h2m-133 1h1m3 0h1m2 0h1m9 0h4m1 0h1m13 0h2m1 0h4m1 0h1m1 0h1m4 0h2m6 0h1m1 0h2m13 0h9m6 0h1m3 0h1m1 0h1m3 0h1m3 0h1m2 0h2m3 0h3m7 0h2m1 0h1m5 0h1m-132 1h1m4 0h2m12 0h1m12 0h1m3 0h2m3 0h2m1 0h1m1 0h2m4 0h1m1 0h1m1 0h2m3 0h2m15 0h1m4 0h2m9 0h1m1 0h1m1 0h1m5 0h1m1 0h1m1 0h1m3 0h1m12 0h2m2 0h2m-132 1h2m5 0h2m4 0h2m6 0h1m9 0h3m4 0h2m1 0h1m1 0h3m1 0h1m1 0h2m4 0h1m1 0h1m6 0h1m5 0h1m4 0h1m5 0h2m1 0h2m10 0h2m12 0h2m3 0h1m1 0h2m5 0h2m1 0h1m2 0h1m-131 1h1m2 0h2m2 0h3m1 0h2m5 0h2m4 0h3m4 0h1m1 0h1m1 0h1m2 0h2m2 0h1m1 0h1m1 0h1m6 0h2m2 0h1m1 0h1m14 0h2m5 0h4m1 0h1m12 0h1m10 0h1m3 0h5m1 0h1m1 0h2m1 0h1m3 0h1m-131 1h2m1 0h4m1 0h1m1 0h1m1 0h2m2 0h1m1 0h1m2 0h1m4 0h1m7 0h3m2 0h2m1 0h1m5 0h1m1 0h3m1 0h1m1 0h1m20 0h1m3 0h3m2 0h3m4 0h3m6 0h1m4 0h1m4 0h2m5 0h1m1 0h1m2 0h1m2 0h3m-131 1h1m1 0h2m1 0h5m2 0h1m1 0h1m3 0h2m1 0h1m4 0h1m1 0h1m3 0h1m1 0h3m1 0h1m1 0h7m2 0h1m5 0h1m3 0h1m7 0h1m3 0h6m2 0h3m4 0h1m2 0h1m1 0h1m2 0h3m6 0h1m2 0h1m3 0h1m2 0h1m9 0h1m1 0h5m-130 1h2m1 0h1m1 0h2m3 0h3m1 0h1m2 0h1m1 0h2m1 0h2m10 0h1m4 0h2m1 0h3m1 0h1m1 0h1m1 0h4m11 0h6m1 0h5m2 0h1m5 0h1m2 0h2m1 0h4m2 0h1m4 0h1m19 0h1m1 0h2m-126 1h1m1 0h2m1 0h1m1 0h1m1 0h4m3 0h3m3 0h1m7 0h1m1 0h2m1 0h1m3 0h3m2 0h1m4 0h2m1 0h1m6 0h2m6 0h2m6 0h1m1 0h2m2 0h1m1 0h1m7 0h2m4 0h2m12 0h2m1 0h1m10 0h1m-125 1h8m1 0h2m5 0h2m1 0h1m1 0h2m6 0h3m4 0h2m2 0h1m1 0h1m2 0h1m3 0h2m10 0h1m1 0h2m2 0h2m15 0h1m5 0h1m1 0h1m1 0h1m3 0h1m14 0h1m10 0h1m-123 1h1m6 0h5m1 0h1m2 0h1m1 0h2m2 0h3m2 0h1m1 0h1m6 0h1m2 0h1m1 0h1m7 0h1m6 0h1m8 0h1m2 0h1m1 0h2m9 0h6m1 0h1m2 0h1m1 0h1m1 0h1m12 0h2m6 0h2m3 0h2m-124 1h5m2 0h4m1 0h1m4 0h1m1 0h1m1 0h2m12 0h2m28 0h4m10 0h1m1 0h4m1 0h3m3 0h2m22 0h1m3 0h3m-125 1h1m2 0h5m1 0h1m2 0h1m9 0h1m1 0h2m8 0h3m1 0h1m24 0h1m2 0h1m1 0h1m1 0h1m14 0h1m1 0h4m1 0h1m3 0h2m12 0h1m1 0h1m9 0h2m-129 1h1m1 0h1m1 0h2m1 0h1m1 0h2m2 0h2m3 0h2m1 0h4m1 0h4m3 0h2m2 0h1m34 0h1m19 0h2m3 0h1m1 0h2m2 0h1m1 0h1m3 0h1m5 0h3m5 0h1m-124 1h1m2 0h2m4 0h1m2 0h2m1 0h3m1 0h1m2 0h1m3 0h1m2 0h1m1 0h1m2 0h1m2 0h2m22 0h1m30 0h3m6 0h1m1 0h2m5 0h1m2 0h1m4 0h1m-119 1h2m1 0h1m1 0h2m3 0h3m1 0h3m2 0h1m1 0h2m1 0h1m3 0h5m14 0h1m4 0h1m1 0h1m15 0h1m11 0h1m7 0h1m2 0h1m1 0h5m1 0h1m2 0h1m4 0h1m3 0h2m3 0h1m-118 1h6m1 0h1m4 0h2m1 0h3m1 0h2m1 0h1m1 0h1m4 0h1m1 0h1m1 0h3m4 0h2m5 0h2m1 0h1m39 0h1m1 0h1m1 0h2m2 0h2m4 0h1m4 0h1m1 0h1m1 0h1m2 0h1m1 0h1m-119 1h3m1 0h1m1 0h1m1 0h1m1 0h4m2 0h5m7 0h1m1 0h2m1 0h1m1 0h1m3 0h1m2 0h1m5 0h2m1 0h1m5 0h1m20 0h1m2 0h1m9 0h1m3 0h2m1 0h1m1 0h1m1 0h1m2 0h1m2 0h2m2 0h2m2 0h1m-117 1h3m1 0h3m2 0h2m1 0h3m1 0h2m1 0h4m2 0h2m2 0h1m1 0h1m2 0h2m11 0h1m1 0h1m2 0h2m1 0h1m1 0h2m37 0h2m1 0h1m2 0h2m1 0h3m2 0h1m1 0h1m4 0h2m-118 1h5m3 0h1m3 0h1m2 0h1m5 0h1m6 0h3m17 0h4m5 0h1m32 0h1m3 0h1m4 0h2m1 0h1m1 0h1m2 0h1m3 0h1m1 0h1m2 0h1m-115 1h1m1 0h2m1 0h1m1 0h1m2 0h2m1 0h1m4 0h1m7 0h1m3 0h2m12 0h1m2 0h2m5 0h3m21 0h1m14 0h4m2 0h1m1 0h1m2 0h1m5 0h2m-113 1h2m3 0h3m1 0h3m3 0h2m1 0h2m6 0h1m5 0h3m11 0h3m3 0h1m2 0h2m1 0h1m6 0h1m4 0h1m3 0h1m18 0h1m2 0h1m5 0h3m-102 1h4m1 0h1m2 0h1m4 0h1m4 0h2m1 0h7m2 0h2m1 0h1m8 0h2m3 0h5m2 0h2m2 0h2m1 0h2m29 0h1m3 0h1m3 0h1m3 0h1m2 0h1m-108 1h1m2 0h5m1 0h2m1 0h3m2 0h3m1 0h1m1 0h3m3 0h3m2 0h1m2 0h1m5 0h2m3 0h1m1 0h6m1 0h1m2 0h2m20 0h5m7 0h1m6 0h1m-102 1h1m1 0h1m7 0h3m1 0h4m1 0h2m2 0h2m3 0h4m1 0h1m2 0h1m1 0h1m7 0h2m2 0h1m9 0h1m1 0h2m20 0h4m1 0h1m3 0h1m-93 1h2m2 0h1m1 0h3m1 0h1m1 0h1m1 0h1m3 0h1m6 0h3m1 0h5m2 0h1m2 0h3m1 0h1m1 0h1m2 0h1m4 0h2m2 0h1m1 0h4m1 0h2m5 0h1m2 0h1m2 0h1m2 0h1m1 0h2m1 0h2m-88 1h6m4 0h7m7 0h1m1 0h1m1 0h1m1 0h3m4 0h1m1 0h2m2 0h1m1 0h5m3 0h2m1 0h1m1 0h3m2 0h1m2 0h1m1 0h2m2 0h1m6 0h1m1 0h5m-85 1h3m1 0h3m2 0h5m1 0h2m1 0h2m2 0h4m3 0h1m2 0h1m3 0h2m3 0h2m4 0h2m2 0h2m1 0h4m1 0h3m1 0h2m2 0h3m2 0h1m2 0h2m6 0h2m-86 1h1m1 0h1m1 0h3m1 0h11m1 0h2m2 0h1m4 0h2m5 0h1m1 0h2m2 0h1m1 0h5m4 0h2m3 0h2m4 0h4m2 0h2m3 0h2m3 0h3m1 0h2m-85 1h2m3 0h1m2 0h3m1 0h6m2 0h1m1 0h1m2 0h1m2 0h1m7 0h2m1 0h2m2 0h1m1 0h2m8 0h1m4 0h1m5 0h2m1 0h1m3 0h3m-77 1h2m3 0h1m1 0h3m9 0h1m2 0h1m1 0h1m3 0h2m5 0h1m1 0h4m1 0h4m12 0h2m11 0h1m3 0h1m-75 1h1m4 0h1m1 0h1m10 0h3m1 0h3m1 0h1m2 0h2m2 0h5m2 0h2m1 0h1m32 0h2m-78 1h1m3 0h1m1 0h2m4 0h1m3 0h2m1 0h1m1 0h4m5 0h1m1 0h4m1 0h1m1 0h3m-36 1h3m1 0h4m1 0h3m1 0h3m1 0h1m3 0h1m1 0h4m1 0h1m2 0h2m-31 1h2m2 0h1m2 0h1m1 0h3m2 0h5m1 0h1m5 0h1m-24 1h1m1 0h1m1 0h5m3 0h2m-15 1h4m2 0h3m1 0h3m-9 1h2m1 0h3m1 0h1m-8 1h4"/>
<path stroke="#481467" d="M160 2.5h1m-2 1h1m19 1h1m1 0h1m1 0h1m-7 1h2m-1 1h1m2 0h1m1 0h1m-17 1h1m12 0h1m-10 1h2m8 0h2m-26 1h1m11 0h2m10 0h2m-17 1h1m8 0h2m1 0h1m-5 1h1m7 0h2m-16 1h1m1 0h1m8 0h1m2 0h3m-41 1h1m1 0h2m24 0h1m11 0h1m-37 1h1m11 0h1m16 0h1m4 0h1m-39 1h1m17 0h1m6 0h1m-35 1h1m11 0h1m8 0h1m16 0h1m5 0h1m-45 1h1m-3 1h1m16 0h1m19 0h2m-39 1h1m4 0h1m1 0h1m10 0h1m10 0h1m3 0h1m-33 1h1m9 0h1m12 0h1m9 0h1m-33 1h1m9 0h1m1 0h1m6 0h1m32 0h1m-56 1h1m1 0h1m1 0h1m10 0h1m1 0h1m18 0h1m6 0h1m13 0h1m-58 1h2m53 0h1m1 0h1m-56 1h1m9 0h1m5 0h1m9 0h1m2 0h1m15 1h1m9 0h1m-56 1h1m1 0h1m1 0h1m19 0h1m7 0h1m18 0h1m2 0h3m-59 1h4m45 0h1m8 0h1m-60 1h1m1 0h1m19 0h1m2 0h1m8 0h1m12 0h1m5 0h1m2 0h2m-63 1h1m3 0h1m5 0h1m1 0h1m12 0h1m19 0h1m18 0h1m-63 1h1m48 0h1m4 0h1m2 0h1m2 0h1m2 0h1m-67 1h1m2 0h1m7 0h1m1 0h1m9 0h1m18 0h1m14 0h1m-52 1h1m2 0h1m26 0h2m4 0h3m-43 1h2m3 0h2m1 0h1m29 0h2m4 0h2m13 0h1m5 0h1m-68 1h1m6 0h1m26 0h1m1 0h1m5 0h1m14 0h3m1 0h1m4 0h1m-141 1h1m66 0h1m4 0h1m2 0h1m12 0h1m5 0h1m14 0h1m6 0h1m1 0h1m1 0h1m10 0h1m-134 1h1m74 0h1m11 0h1m1 0h1m9 0h2m21 0h1m12 0h1m1 0h1m1 0h1m-71 1h1m2 0h1m1 0h1m16 0h1m1 0h1m9 0h1m10 0h1m11 0h1m5 0h1m7 0h1m-142 1h1m2 0h1m93 0h1m1 0h2m10 0h1m3 0h1m18 0h1m-67 1h1m37 0h1m4 0h1m24 0h1m6 0h1m-143 1h1m3 0h1m92 0h1m9 0h1m5 0h1m2 0h1m24 0h1m-138 1h1m33 0h1m4 0h1m52 0h1m10 0h1m3 0h1m20 0h1m-133 1h1m40 0h1m53 0h1m11 0h1m29 0h1m-137 1h1m37 0h1m1 0h1m7 0h1m81 0h1m4 0h1m-138 1h1m33 0h1m6 0h1m9 0h1m-18 1h3m5 0h1m91 0h1m-134 1h1m4 0h1m31 0h2m5 0h1m49 0h1m1 0h1m35 0h1m5 0h2m-100 1h1m2 0h1m4 0h1m47 0h1m34 0h1m-98 1h1m1 0h1m3 0h2m4 0h1m45 0h1m2 0h1m1 0h1m-98 1h1m1 0h1m28 0h2m1 0h1m1 0h1m1 0h1m20 0h1m38 0h1m-99 1h2m2 0h1m3 0h1m23 0h1m6 0h1m1 0h2m1 0h3m2 0h1m-50 1h4m25 0h1m1 0h2m9 0h2m5 0h1m47 0h1m-98 1h1m2 0h1m23 0h1m3 0h1m1 0h1m5 0h1m56 0h1m-97 1h1m2 0h1m22 0h1m3 0h1m2 0h1m4 0h1m1 0h1m-39 1h1m22 0h2m8 0h1m6 0h2m6 0h1m-27 1h1m8 0h1m5 0h1m-34 1h1m22 0h1m6 0h2m2 0h1m1 0h1m1 0h1m4 0h1m-29 1h1m8 0h1m2 0h1m1 0h1m3 0h1m1 0h1m5 0h1m1 0h1m-40 1h1m18 0h2m7 0h1m2 0h1m2 0h1m-38 1h1m20 0h2m6 0h1m6 0h2m7 0h1m-44 1h1m21 0h2m1 0h1m2 0h1m3 0h1m4 0h1m3 0h1m-51 1h1m2 0h1m15 0h1m5 0h1m2 0h2m4 0h1m6 0h1m1 0h1m1 0h1m3 0h1m-41 1h2m18 0h1m20 0h2m94 0h1m-111 1h1m9 0h1m100 0h1m-120 1h1m117 0h1m-147 1h1m13 0h1m19 0h1m5 0h1m1 0h1m2 0h1m100 0h1m-141 1h1m2 0h1m3 0h1m2 0h1m6 0h1m9 0h2m1 0h1m6 0h1m91 0h1m7 0h1m-143 1h1m3 0h2m5 0h1m19 0h1m2 0h1m4 0h1m1 0h1m4 0h1m87 0h1m-130 1h1m1 0h2m4 0h1m19 0h3m1 0h1m105 0h2m-119 1h1m10 0h1m95 0h1m2 0h1m5 0h2m1 0h1m-143 1h1m2 0h1m26 0h1m2 0h2m95 0h1m6 0h1m3 0h2m-126 1h1m6 0h1m5 0h1m107 0h1m1 0h1m-139 1h1m1 0h1m31 0h1m99 0h1m3 0h1m-144 1h1m3 0h1m49 0h1m80 0h1m2 0h1m2 0h1m1 0h2m-143 1h1m15 0h1m8 0h3m38 0h1m67 0h2m5 0h1m1 0h2m-121 1h1m1 0h2m3 0h2m2 0h1m16 0h1m1 0h2m-94 1h1m71 0h1m9 0h1m94 0h1m-5 1h1m-129 1h1m2 0h2m23 0h1m3 0h1m95 0h1m1 0h1m2 0h1m-106 1h3m3 0h1m89 0h1m-166 1h1m1 0h1m62 0h1m8 0h1m78 0h1m-152 1h1m65 0h2m4 0h1m15 0h1m5 0h1m58 0h1m5 0h1m3 0h1m-101 1h1m8 0h1m85 0h2m-144 1h1m58 0h1m76 0h1m6 0h2m1 0h1m-148 1h1m41 0h1m1 0h1m5 0h2m2 0h1m2 0h1m2 0h1m4 0h1m13 0h1m-89 1h1m20 0h1m37 0h1m1 0h1m88 0h1m-150 1h1m6 0h2m1 0h1m51 0h1m83 0h2m1 0h1m2 0h1m5 0h1m-141 1h1m1 0h1m34 0h1m6 0h1m1 0h1m1 0h1m1 0h1m2 0h1m1 0h1m5 0h1m72 0h1m5 0h1m-154 1h1m46 0h1m2 0h1m4 0h1m19 0h1m68 0h2m-140 1h1m8 0h1m16 0h1m15 0h1m23 0h1m75 0h2m-135 1h1m31 0h1m13 0h2m11 0h2m4 0h1m-59 1h2m6 0h1m23 0h1m7 0h1m1 0h1m2 0h1m1 0h1m-67 1h2m17 0h1m41 0h3m9 0h1m71 0h1m-140 1h1m15 0h1m1 0h1m9 0h1m24 0h1m4 0h1m1 0h2m15 0h1m-65 1h1m2 0h1m2 0h2m7 0h1m5 0h1m4 0h1m2 0h1m1 0h1m2 0h1m7 0h1m13 0h1m2 0h1m4 0h1m-69 1h1m1 0h1m6 0h1m1 0h1m6 0h1m6 0h1m2 0h2m1 0h1m2 0h1m3 0h1m2 0h2m13 0h1m4 0h1m2 0h1m1 0h3m1 0h1m-71 1h1m7 0h1m2 0h1m19 0h1m2 0h1m3 0h1m13 0h1m1 0h1m3 0h1m4 0h1m1 0h2m1 0h2m59 0h1m-120 1h1m18 0h1m4 0h1m11 0h1m5 0h3m10 0h1m3 0h2m51 0h1m-109 1h1m18 0h1m6 0h1m2 0h1m1 0h1m1 0h1m2 0h1m6 0h2m3 0h1m63 0h2m-125 1h1m12 0h1m36 0h1m1 0h1m1 0h1m3 0h1m1 0h2m2 0h1m1 0h1m56 0h2m-127 1h3m2 0h1m9 0h2m14 0h1m1 0h1m3 0h1m7 0h2m13 0h2m8 0h1m4 0h1m44 0h1m-104 1h1m1 0h1m9 0h1m9 0h2m3 0h1m21 0h1m1 0h1m5 0h1m8 0h1m-88 1h1m3 0h1m7 0h1m3 0h1m17 0h1m1 0h1m3 0h1m1 0h1m28 0h1m-65 1h1m20 0h1m1 0h2m11 0h2m1 0h1m14 0h1m1 0h1m2 0h1m3 0h1m5 0h1m48 0h2m-128 1h1m10 0h1m6 0h1m1 0h1m5 0h1m4 0h2m3 0h2m15 0h1m19 0h1m2 0h2m1 0h1m33 0h1m10 0h1m2 0h1m-114 1h1m1 0h2m5 0h1m1 0h2m1 0h1m3 0h1m14 0h1m5 0h2m71 0h2m-117 1h1m10 0h1m1 0h1m2 0h1m7 0h1m3 0h1m10 0h3m19 0h1m1 0h1m6 0h1m30 0h1m2 0h1m5 0h1m4 0h1m-128 1h1m13 0h1m3 0h2m4 0h1m14 0h1m14 0h2m62 0h1m-111 1h1m8 0h2m3 0h1m1 0h2m3 0h2m7 0h3m1 0h1m1 0h2m4 0h1m5 0h1m6 0h1m45 0h2m2 0h2m3 0h1m4 0h1m2 0h1m-128 1h1m6 0h1m1 0h1m43 0h1m1 0h1m5 0h1m47 0h1m2 0h1m1 0h3m3 0h1m-112 1h1m21 0h1m5 0h1m26 0h1m1 0h1m6 0h1m35 0h1m4 0h2m4 0h1m1 0h2m1 0h1m-108 1h1m2 0h1m10 0h1m5 0h1m21 0h1m6 0h1m1 0h2m5 0h1m36 0h2m5 0h1m-103 1h1m1 0h1m4 0h1m2 0h1m1 0h1m34 0h1m2 0h1m3 0h1m48 0h3m-99 1h3m2 0h1m39 0h1m12 0h2m26 0h1m2 0h1m-112 1h1m13 0h2m11 0h2m8 0h1m19 0h1m3 0h1m1 0h1m4 0h1m13 0h2m7 0h1m3 0h1m7 0h1m1 0h2m5 0h1m-101 1h1m15 0h2m1 0h1m2 0h2m3 0h1m3 0h1m18 0h1m11 0h1m2 0h3m15 0h1m9 0h1m-119 1h2m23 0h4m9 0h1m4 0h1m4 0h2m15 0h1m17 0h1m3 0h1m19 0h1m17 0h1m-91 1h2m2 0h1m9 0h1m4 0h1m14 0h1m5 0h1m1 0h1m10 0h1m10 0h1m10 0h1m1 0h1m6 0h1m-120 1h1m36 0h1m3 0h1m5 0h1m1 0h1m3 0h1m17 0h1m9 0h1m5 0h2m1 0h1m5 0h1m1 0h1m1 0h4m20 0h1m-120 1h1m2 0h2m1 0h1m24 0h1m1 0h1m1 0h1m6 0h1m16 0h1m6 0h2m10 0h1m4 0h1m7 0h1m22 0h1m1 0h2m-122 1h1m25 0h1m7 0h1m5 0h1m10 0h1m7 0h1m13 0h1m3 0h1m5 0h1m-79 1h1m2 0h2m15 0h1m13 0h1m2 0h1m17 0h1m9 0h1m11 0h1m2 0h1m4 0h1m3 0h1m9 0h1m9 0h1m-121 1h1m1 0h1m10 0h2m4 0h1m25 0h1m1 0h1m10 0h1m1 0h1m36 0h1m3 0h1m6 0h1m-98 1h2m46 0h1m3 0h1m14 0h1m1 0h1m39 0h1m1 0h1m-116 1h1m5 0h1m3 0h1m29 0h1m32 0h1m6 0h1m4 0h1m16 0h1m12 0h1m-119 1h4m21 0h1m61 0h1m1 0h1m6 0h1m5 0h1m-101 1h1m83 0h1m-83 1h2m2 0h1m76 0h1m2 0h2m-100 1h1m4 0h1m1 0h1m7 0h1m74 0h1m3 0h1m6 0h1m3 0h1m6 0h1m-113 1h1m4 0h1m1 0h1m15 0h1m66 0h1m4 0h1m8 0h1m5 0h1m2 0h1m2 0h1m-111 1h1m5 0h1m3 0h1m9 0h1m21 0h1m44 0h1m10 0h1m11 0h1m-109 1h3m12 0h1m6 0h1m69 0h2m4 0h1m1 0h1m6 0h1m1 0h1m-119 1h1m7 0h1m17 0h1m30 0h1m46 0h1m2 0h2m6 0h2m-113 1h1m23 0h1m2 0h1m67 0h1m1 0h1m3 0h1m10 0h1m-110 1h1m1 0h1m3 0h1m2 0h1m1 0h3m1 0h1m34 0h1m40 0h1m6 0h1m1 0h1m-96 1h2m2 0h1m3 0h2m4 0h1m2 0h1m1 0h1m21 0h1m2 0h1m49 0h1m5 0h1m-102 1h1m8 0h1m9 0h1m3 0h1m17 0h1m7 0h1m43 0h1m3 0h1m5 0h1m-93 1h1m3 0h1m8 0h1m2 0h1m20 0h1m48 0h1m-101 1h1m19 0h1m9 0h1m9 0h1m3 0h1m2 0h1m-49 1h1m2 0h1m4 0h1m24 0h1m10 0h1m2 0h1m34 0h1m-80 1h1m1 0h1m13 0h4m12 0h1m1 0h2m3 0h1m3 0h1m-40 1h1m11 0h1m1 0h1m2 0h1m7 0h1m1 0h1m6 0h1m37 0h1m-77 1h1m3 0h1m20 0h1m1 0h2m11 0h1m18 0h1m2 0h1m13 0h1m-54 1h1m4 0h1m2 0h1m1 0h1m3 0h1m13 0h2m6 0h1m-60 1h2m1 0h2m26 0h2m6 0h1m1 0h1m9 0h1m16 0h1m-71 1h1m7 0h1m12 0h1m9 0h2m1 0h1m18 0h1m20 0h1m-66 1h1m16 0h2m2 0h1m-23 1h1m5 0h1m2 0h1m8 0h1m-24 1h2m16 0h1m3 0h1m-13 1h1m12 0h1m7 0h1m-22 1h1m-1 1h1m4 0h1m-4 1h1"/>
<path stroke="#481c6e" d="M157 4.5h1m4 0h1m15 0h1m-21 1h1m23 0h1m-9 1h1m6 1h1m-16 2h1m8 0h1m1 0h1m5 0h1m-2 1h1m-40 1h1m35 0h1m-11 1h1m6 1h1m3 0h1m-8 1h1m-18 1h1m-15 1h1m5 0h1m22 0h1m-34 1h1m1 0h1m5 0h1m3 0h1m19 0h1m-27 1h1m12 0h1m10 0h1m-35 1h2m3 0h1m1 0h1m6 0h1m1 0h1m13 0h1m-33 1h1m2 0h1m1 0h1m11 0h1m16 0h1m20 0h1m-48 1h1m1 0h1m7 0h1m-6 1h1m-9 1h1m5 0h1m5 0h1m1 0h1m21 0h1m-18 1h2m30 0h1m-57 1h1m1 0h1m19 1h1m31 0h1m-58 1h1m22 0h3m1 0h1m31 0h1m2 0h1m-57 1h1m15 0h1m3 0h1m1 0h1m8 0h1m25 0h1m-59 1h1m21 0h1m31 0h2m-58 1h1m4 0h1m28 0h2m12 0h2m1 0h1m-34 1h1m22 0h1m7 0h1m2 0h1m-57 1h1m9 0h1m36 0h2m1 0h1m-60 1h2m15 0h2m12 0h2m16 0h1m14 0h1m-136 1h2m97 0h2m-2 1h1m27 0h1m13 0h1m-142 1h1m1 0h1m67 0h1m4 0h1m26 0h1m23 0h1m15 0h1m-141 1h1m88 0h1m5 0h1m1 0h1m2 0h1m18 0h2m13 0h1m5 0h2m-142 1h1m67 0h1m19 0h1m7 0h1m4 0h2m15 0h1m1 0h1m-31 1h1m3 0h1m5 0h1m12 0h1m24 0h1m-106 1h1m80 0h1m-83 1h1m5 0h2m56 0h1m14 0h1m28 0h1m-143 1h1m32 0h1m5 0h1m1 0h1m1 0h1m24 0h1m-68 1h1m32 0h2m3 0h1m3 0h1m90 0h2m-103 1h1m5 0h1m28 0h1m26 0h1m1 0h1m36 0h1m-128 1h1m36 0h1m51 0h1m38 0h1m-133 1h1m37 0h1m4 0h1m-14 1h1m3 0h1m10 0h1m2 0h1m41 0h1m2 0h1m36 0h1m-131 1h1m1 0h1m3 0h1m34 0h1m5 0h1m46 0h1m-64 1h1m1 0h1m8 0h1m3 0h1m-43 1h1m24 0h1m5 0h2m-32 1h1m20 0h1m18 0h2m5 0h1m39 0h1m-1 1h1m2 0h1m-64 1h1m13 0h1m-17 1h1m15 0h1m52 0h1m-77 1h1m25 0h1m-47 1h1m18 0h1m1 0h1m1 0h1m12 0h1m-33 1h1m12 0h1m3 0h1m1 0h2m16 0h1m5 0h1m-31 1h1m13 0h1m15 0h1m-36 1h1m5 0h1m18 0h1m2 0h1m4 0h2m-28 1h1m2 0h1m10 0h1m8 0h1m-47 1h1m29 0h1m10 0h1m5 0h1m-46 1h1m38 0h1m2 0h1m3 0h1m-48 1h1m5 0h2m1 0h1m18 0h1m20 0h1m-12 1h2m2 0h1m1 0h1m-14 1h1m1 0h1m109 0h1m-146 1h1m2 0h1m8 0h1m16 0h1m10 0h1m4 0h1m-17 1h2m3 0h1m1 0h1m100 0h1m1 0h1m-139 1h1m2 1h1m28 0h1m2 0h2m104 0h1m-140 1h1m2 0h1m136 0h1m-139 2h1m14 0h1m121 0h1m3 0h1m-141 1h2m13 0h1m12 1h1m2 0h2m93 0h1m-77 1h1m12 0h1m67 0h1m1 0h2m-129 1h1m22 0h2m19 0h1m80 0h2m1 0h1m-117 1h1m3 0h1m22 0h1m85 0h1m-102 1h2m2 0h1m95 0h1m-95 1h1m24 0h1m68 0h1m-117 1h1m16 0h1m6 0h1m7 0h2m2 0h1m77 0h1m-102 1h1m6 0h2m84 0h1m14 0h2m-167 1h1m61 0h1m3 0h1m6 0h1m1 0h1m15 0h1m-21 1h1m3 0h3m12 0h1m-15 1h1m77 0h1m5 0h1m-151 1h1m47 0h1m9 0h1m13 0h2m70 0h1m-133 1h1m30 0h1m8 0h1m3 0h1m1 0h3m17 0h1m-61 1h1m26 0h1m13 0h1m15 0h1m63 0h2m-132 1h1m2 0h2m32 0h1m9 0h1m4 0h1m2 0h1m5 0h1m8 0h1m-24 1h1m1 0h1m1 0h1m2 0h1m4 0h1m8 0h1m-48 1h1m14 0h1m100 0h1m-89 1h1m4 0h1m8 0h1m-17 1h1m17 0h1m2 0h1m1 0h1m-24 1h2m7 0h1m4 0h1m9 0h1m3 0h1m-65 1h1m18 0h1m17 0h1m9 0h1m5 0h1m12 0h1m53 0h1m1 0h1m-125 1h1m1 0h1m26 0h1m18 0h1m5 0h1m16 0h1m53 0h1m-122 1h1m21 0h1m6 0h1m5 0h1m7 0h1m6 0h1m68 0h1m1 0h1m-124 1h1m29 0h2m31 0h1m-78 1h1m8 0h1m8 0h1m22 0h1m3 0h1m2 0h1m16 0h1m29 0h1m36 0h1m-65 1h1m13 0h1m7 0h1m-55 1h1m8 0h1m13 0h1m34 0h1m-58 1h1m2 0h1m7 0h1m6 0h1m11 0h1m1 0h1m1 0h1m1 0h3m7 0h1m44 0h1m-118 1h2m4 0h1m5 0h1m11 0h1m1 0h1m21 0h1m6 0h1m7 0h3m1 0h1m48 0h1m1 0h1m1 0h1m-121 1h1m2 0h1m1 0h1m16 0h1m8 0h1m4 0h2m4 0h1m1 0h1m-37 1h1m2 0h1m1 0h1m1 0h1m3 0h1m1 0h1m18 0h1m3 0h1m14 0h1m5 0h1m40 0h1m2 0h1m-96 1h1m6 0h1m2 0h1m15 0h1m1 0h1m3 0h1m25 0h1m1 0h1m36 0h1m5 0h1m-95 1h1m89 0h1m4 0h1m-115 1h1m1 0h1m6 0h1m27 0h1m14 0h1m11 0h1m35 0h1m1 0h1m7 0h1m3 0h1m-117 1h2m32 0h1m22 0h1m6 0h1m47 0h1m-115 1h1m3 0h1m3 0h2m6 0h1m5 0h1m6 0h1m2 0h1m21 0h1m3 0h1m9 0h1m36 0h1m11 0h1m-111 1h1m23 0h1m68 0h1m-99 1h2m1 0h1m1 0h1m1 0h1m22 0h1m2 0h1m14 0h1m47 0h1m3 0h2m-121 1h1m24 0h2m20 0h1m1 0h1m12 0h1m3 0h1m3 0h1m1 0h1m9 0h1m31 0h1m-74 1h1m1 0h1m1 0h1m1 0h1m25 0h1m6 0h1m2 0h1m5 0h2m13 0h1m12 0h1m-75 1h1m3 0h2m21 0h1m11 0h1m2 0h1m15 0h1m2 0h1m3 0h2m12 0h1m3 0h1m-89 1h1m3 0h1m1 0h2m18 0h1m6 0h1m4 0h2m6 0h2m17 0h1m-65 1h1m12 0h1m15 0h1m11 0h1m2 0h1m6 0h1m1 0h1m-94 1h1m25 0h2m13 0h1m3 0h1m5 0h1m4 0h1m15 0h2m15 0h1m1 0h1m4 0h1m6 0h1m13 0h1m-117 1h1m41 0h1m2 0h1m4 0h1m10 0h1m1 0h1m10 0h1m13 0h1m3 0h1m10 0h1m6 0h1m-111 1h1m51 0h1m7 0h1m20 0h1m2 0h3m4 0h1m5 0h1m5 0h1m11 0h1m-108 1h1m44 0h2m2 0h1m9 0h2m13 0h1m18 0h1m13 0h1m-76 1h1m17 0h1m44 0h1m12 0h1m-107 1h1m14 0h1m7 0h1m29 0h1m6 0h1m1 0h1m9 0h1m20 0h1m-93 1h1m23 0h1m18 0h1m3 0h1m22 0h2m2 0h2m4 0h4m-103 1h1m11 0h1m29 0h1m38 0h1m1 0h1m6 0h1m1 0h1m7 0h1m-100 1h1m49 0h1m29 0h1m15 0h1m-98 1h1m12 0h1m8 0h1m64 0h1m5 0h1m2 0h3m-97 1h1m18 0h1m64 0h1m13 0h1m-12 1h1m1 0h1m-74 1h1m75 0h1m9 0h1m-102 1h2m15 0h1m65 0h1m18 0h1m-99 1h1m6 0h1m9 0h1m62 0h1m5 0h1m9 0h1m6 0h1m-112 1h1m10 0h1m9 0h1m4 0h1m88 0h1m-101 1h1m4 0h1m77 0h1m11 0h1m-94 1h1m2 0h1m1 0h2m69 0h1m1 0h1m8 0h1m5 0h1m-96 1h1m3 0h1m72 0h1m19 0h1m-111 1h2m7 0h2m9 0h2m10 0h1m18 0h1m-48 1h1m-4 1h1m9 0h1m4 0h1m30 0h1m-45 1h1m3 0h1m5 0h1m7 0h2m9 0h1m-30 1h1m10 0h1m10 0h1m3 0h1m5 0h1m49 0h1m-79 1h1m19 0h1m6 0h1m1 0h1m1 0h1m5 0h1m16 0h1m-47 1h1m11 0h1m6 0h1m1 0h1m-30 1h1m20 0h1m2 0h1m-29 1h1m16 0h1m3 0h1m2 0h2m24 0h2m-44 1h1m-3 1h2m65 0h1m-71 1h1m5 0h1m1 0h2m5 0h1m7 0h1m-15 1h1m25 0h2m-24 5h1"/>
<path stroke="#482576" d="M168 13.5h1m8 0h1m1 0h1m-17 1h1m-15 1h1m-9 2h1m5 3h1m-12 1h1m30 0h1m-25 1h1m22 0h1m7 0h1m0 1h1m-34 1h1m2 0h1m-10 1h1m0 1h1m17 1h1m-22 1h1m15 0h1m-22 1h1m4 2h1m16 0h1m19 0h1m11 0h1m-1 1h1m-53 1h1m29 0h1m12 0h1m7 0h1m-64 1h1m21 0h1m18 0h1m4 0h1m8 0h1m-32 1h1m5 0h1m38 0h1m-62 1h1m2 0h1m12 0h1m3 0h1m-99 1h1m3 0h1m68 0h1m13 0h1m9 0h1m17 0h1m23 0h1m-52 1h1m5 0h1m48 0h1m-64 1h1m17 0h1m16 0h1m5 0h1m1 0h1m7 0h1m6 0h1m-70 1h1m25 0h1m3 0h1m6 0h1m11 0h1m11 0h1m1 0h1m2 0h1m-67 1h1m25 0h1m13 0h1m13 0h1m-87 1h1m28 0h1m29 0h1m36 0h1m-99 1h2m3 0h1m3 0h1m23 0h1m21 0h1m6 0h2m-64 1h1m33 0h1m-38 1h1m5 0h1m10 0h1m2 0h1m-3 1h1m-49 1h1m32 0h1m3 0h1m8 1h1m50 0h1m-98 2h1m4 0h1m42 0h1m46 0h1m-62 1h1m14 0h1m-46 1h1m18 0h2m13 0h1m-10 1h2m2 0h1m3 0h1m-13 1h1m10 0h1m8 0h1m4 0h1m42 0h1m-69 1h1m7 0h1m2 0h1m9 0h2m-25 2h1m-8 1h1m5 0h3m23 0h1m-41 2h1m28 0h1m-4 1h1m-5 1h1m8 0h1m-5 1h1m5 0h1m-15 1h1m2 0h1m3 0h2m98 0h1m-127 1h1m2 0h1m16 0h1m-27 1h1m9 0h1m16 0h1m-29 1h1m9 0h1m24 0h1m90 0h1m8 0h1m-136 1h1m3 0h1m129 0h1m-124 1h1m129 1h1m-2 1h1m-112 1h1m103 0h1m-133 1h1m34 0h1m107 0h1m-113 1h1m3 0h1m16 0h2m14 0h1m-27 1h1m87 1h1m-96 1h1m15 0h2m69 1h1m-76 1h1m2 0h1m4 0h1m3 0h1m73 0h1m-84 1h2m79 0h1m-100 1h1m11 0h1m3 0h1m1 0h1m1 0h1m72 0h1m-93 1h1m1 0h1m10 0h1m2 0h1m10 0h1m57 0h1m-81 1h2m19 0h1m3 0h1m73 0h1m-81 1h1m2 0h1m66 0h1m-87 1h1m82 0h1m-146 1h1m55 0h1m89 0h1m-142 1h1m54 0h1m11 0h1m3 0h1m-6 1h1m1 1h1m2 0h1m1 0h1m4 0h1m-77 1h1m23 0h1m40 0h1m8 0h1m1 0h1m-19 1h1m18 0h1m58 0h1m3 0h1m-69 1h1m67 0h1m-93 1h1m5 0h1m3 0h1m9 0h3m6 0h1m-35 1h1m29 0h1m3 0h1m3 0h1m57 0h1m-92 1h1m14 0h1m1 0h1m3 0h1m1 0h1m66 0h1m1 0h1m-82 1h1m21 0h1m50 0h1m-114 1h1m40 0h1m78 0h1m-95 1h1m3 0h1m10 0h1m-8 1h1m-6 1h1m35 0h1m52 0h1m-90 1h1m4 0h1m1 0h1m2 0h1m31 0h1m-77 2h1m5 0h2m5 0h1m25 0h1m2 0h1m18 0h1m15 0h1m30 0h1m-93 1h1m5 0h1m17 0h1m21 0h1m2 0h1m48 0h1m-101 1h2m8 0h1m13 0h1m69 0h1m-99 1h1m1 0h1m98 0h1m3 0h2m-81 1h1m-31 1h2m3 0h1m8 0h1m33 0h1m62 0h1m-86 1h1m3 0h1m8 0h1m12 0h1m53 0h1m2 0h1m-107 1h1m36 0h1m6 0h1m6 0h1m51 0h1m-45 1h1m31 0h1m-96 1h1m52 0h1m30 0h1m11 0h1m-96 1h1m3 0h1m15 0h1m23 0h1m2 0h1m15 0h1m19 0h1m13 0h1m-87 1h1m35 0h1m9 0h1m1 0h1m5 0h1m12 0h1m3 0h1m-59 1h1m13 0h1m4 0h1m1 0h2m21 0h1m22 0h1m-67 1h1m1 0h1m17 0h1m23 0h2m5 0h1m15 0h1m-72 1h2m7 0h1m25 0h1m1 0h1m34 0h1m-65 1h2m7 0h1m8 0h1m10 0h1m2 0h1m34 0h1m-122 1h1m34 0h1m10 0h1m9 0h1m16 0h1m10 0h1m-80 1h1m47 0h1m11 0h1m37 0h1m10 0h1m-107 1h1m53 0h1m-13 1h1m23 0h1m26 0h1m-67 1h1m21 0h1m31 0h1m0 1h1m12 0h1m-28 1h1m26 0h1m-12 1h1m7 0h1m-100 1h1m3 1h1m83 0h1m12 0h1m-108 1h1m98 0h1m1 0h1m-17 1h1m-77 2h1m81 0h1m6 0h1m-90 1h1m98 0h1m-101 1h1m-8 1h1m19 0h1m-11 2h1m2 0h1m4 1h1m5 1h1m-17 1h1m1 0h1m32 0h1m2 0h1m-43 1h1m14 0h1m1 0h1m33 0h1m-49 1h1m30 0h1m4 0h1m-21 2h1m7 0h2m4 0h1m2 0h1m-37 1h1m7 1h1m3 0h1m18 1h1m-4 1h1m-19 3h1"/>
<path stroke="#472d7b" d="M167 8.5h1m2 0h1m3 1h1m3 0h1m-14 1h1m4 1h1m4 1h1m2 0h1m-31 1h1m-12 3h1m11 0h1m-16 2h1m6 0h1m-1 2h1m4 0h1m-8 1h1m6 0h1m26 1h1m-38 1h1m9 0h1m1 0h1m-14 1h1m13 0h1m-15 2h1m19 0h1m-24 3h1m33 0h1m-34 1h1m1 0h1m9 0h1m5 0h1m17 0h1m-43 1h1m7 0h1m4 0h1m27 0h1m1 1h2m2 0h1m-29 1h1m1 0h1m11 0h1m-30 1h1m5 0h1m32 0h2m-124 1h1m71 0h1m16 0h2m30 1h1m3 0h1m1 0h1m-43 2h1m6 0h1m42 0h2m5 0h1m-106 1h1m34 0h1m45 0h1m-82 1h1m33 0h1m29 0h1m36 1h1m-32 1h1m1 0h1m2 0h1m-46 1h1m34 0h1m-63 1h1m2 0h1m8 0h1m82 0h1m-88 1h1m2 0h1m16 0h1m64 0h1m-99 1h1m1 0h1m8 1h2m-42 1h1m33 0h1m11 0h1m42 0h1m-87 1h1m40 0h1m39 0h1m-87 1h1m5 0h1m38 0h1m-10 1h1m-8 1h1m8 0h1m5 0h1m-24 1h1m25 0h1m-27 1h1m15 0h2m-37 1h1m21 1h1m10 0h1m12 0h2m-26 1h1m4 0h1m10 0h2m6 0h1m-44 3h1m44 0h1m-6 2h1m84 0h1m2 1h1m-99 1h1m6 0h1m-14 1h1m100 1h1m2 0h1m-123 1h1m24 0h1m-40 1h1m3 0h2m128 0h1m1 1h1m-104 2h1m101 0h1m-97 1h1m95 0h1m1 0h1m-3 1h1m2 0h1m7 0h1m-104 1h1m22 0h1m-31 1h1m27 0h1m-31 1h1m4 0h1m17 0h1m5 0h1m-4 1h1m3 0h1m-12 1h1m8 0h1m-8 1h1m65 0h1m16 0h1m-81 1h1m67 0h1m-88 1h1m27 0h1m55 0h1m-3 1h1m1 0h1m-87 1h1m6 0h1m84 0h1m-92 1h1m9 0h1m1 0h1m5 0h1m1 0h1m-72 1h1m55 0h1m-47 1h1m45 0h1m3 0h1m5 0h1m3 0h1m-10 1h1m7 0h1m74 0h1m-91 1h1m13 0h1m3 0h1m1 0h1m63 0h1m-78 2h1m5 0h1m1 0h1m-50 1h1m48 0h1m-13 1h1m13 0h1m5 0h1m62 0h1m1 0h1m-83 1h1m17 0h1m-45 1h1m19 0h2m17 0h1m5 0h1m-33 1h1m16 0h1m12 0h1m-60 1h1m62 0h1m-65 1h1m9 0h1m44 0h1m63 1h1m-88 1h1m32 0h1m-34 1h1m4 0h1m33 0h1m8 0h1m-82 1h1m48 0h1m16 0h1m55 0h1m-95 1h1m15 0h2m32 0h1m44 0h1m-111 1h1m5 0h1m15 0h1m38 0h1m4 0h1m19 0h1m14 0h2m-110 1h1m55 0h1m5 0h1m45 0h1m-42 1h1m32 0h1m-37 1h1m33 0h1m14 0h1m-110 1h1m5 0h1m4 0h1m95 0h1m-112 1h1m7 0h1m75 0h1m22 0h1m-101 1h1m26 0h1m2 0h1m70 0h2m-82 1h1m3 0h1m14 0h1m15 0h1m-62 1h1m40 0h1m1 0h1m-17 1h1m15 0h1m19 0h1m19 0h1m7 0h1m3 0h1m2 0h1m-98 1h2m22 0h1m31 0h1m1 0h1m10 0h1m20 0h1m-64 1h1m2 0h1m5 0h1m33 0h1m8 0h1m17 0h1m-70 1h1m20 0h1m4 0h1m19 0h1m15 0h1m-85 1h1m17 0h1m3 0h1m60 0h1m-46 1h1m26 0h1m12 0h1m-64 1h1m10 1h1m31 0h1m7 0h2m-98 1h1m39 0h1m50 0h1m5 0h1m3 0h1m-108 1h1m6 0h1m41 0h1m54 0h1m0 1h1m-15 1h1m12 0h1m1 0h1m-15 1h1m1 0h1m2 0h1m-101 2h1m98 0h1m8 0h1m-3 3h1m2 0h1m-98 1h1m83 0h1m3 0h1m8 0h1m-116 1h1m14 0h1m13 2h1m-12 2h1m-4 2h1m18 1h1m-4 1h1m1 0h1m1 2h1m5 1h1m3 0h1m1 0h1m-16 1h1m16 0h1m-23 2h1m-7 1h1m1 0h1m8 0h1m-17 2h1"/>
<path stroke="#453581" d="M175 11.5h1m-5 2h1m3 0h1m-30 2h1m1 2h2m-7 2h1m-11 1h1m4 0h1m7 2h1m18 0h1m-24 1h1m1 0h1m3 1h1m12 0h1m30 5h1m-57 1h1m53 0h1m-58 1h1m36 0h1m6 0h1m-45 1h1m6 0h1m8 0h1m1 0h1m-18 1h1m5 0h1m3 0h1m17 0h1m-37 1h2m2 0h1m18 0h1m31 0h1m-63 1h1m7 0h1m1 0h1m2 0h1m9 0h1m30 0h2m-49 1h1m2 0h1m5 0h1m53 0h1m-62 1h1m22 0h1m-18 1h1m46 0h1m3 0h1m-133 1h1m95 0h1m-7 1h1m-54 1h1m31 0h1m27 0h1m31 0h1m-99 1h2m57 0h1m1 1h1m-54 1h1m54 0h1m32 0h1m-97 2h1m59 0h1m-63 2h1m8 0h1m50 0h1m-57 1h1m12 0h1m51 0h1m-76 1h1m8 0h1m3 1h1m8 2h1m1 1h1m-29 1h1m5 0h2m9 0h1m9 0h1m-4 1h1m2 0h1m-28 1h1m26 0h1m45 0h1m-72 2h1m4 0h1m13 2h1m-16 2h1m10 0h1m9 0h1m-20 1h1m4 1h1m99 0h1m-98 1h1m2 0h1m-27 1h1m-4 1h1m-13 1h1m13 0h1m108 0h1m2 0h1m-80 1h1m64 0h1m18 0h1m3 0h1m-76 1h1m70 0h1m15 0h1m-128 1h1m22 0h1m81 0h1m-89 1h1m8 1h1m20 0h1m67 0h1m-63 1h1m55 0h1m4 0h1m-172 1h1m87 0h1m78 0h1m-92 1h1m94 0h1m-84 1h1m5 0h1m1 0h1m-18 1h1m8 0h1m4 0h1m73 0h1m-5 1h1m-86 1h1m5 1h1m10 0h1m66 0h1m-91 1h1m90 0h1m-81 1h1m76 0h1m-73 1h1m3 0h1m9 0h1m-15 1h1m3 0h1m6 1h1m12 0h1m-28 1h1m1 0h1m1 0h1m6 0h1m2 0h1m-7 1h1m4 0h1m2 0h1m11 0h1m-13 1h1m61 0h1m-86 1h1m20 0h1m2 0h1m-17 1h1m3 0h1m-16 1h1m28 0h1m58 0h1m-91 1h1m27 0h1m64 0h2m-72 1h1m-1 1h1m4 0h1m-58 1h1m59 0h1m53 0h1m-57 1h1m58 0h1m-89 1h2m87 0h1m-85 1h1m-6 1h1m1 0h1m43 0h1m-45 1h1m6 0h1m36 0h1m25 0h2m-87 1h1m59 0h1m24 0h1m-91 1h1m25 0h1m67 0h1m-99 1h1m54 0h2m9 0h1m-55 1h1m10 0h1m33 0h1m3 0h2m4 0h1m34 0h1m-69 1h1m29 0h1m-68 1h1m10 0h1m13 0h1m13 0h1m55 0h1m-71 1h1m1 0h1m14 0h1m5 0h1m2 0h1m8 0h1m-67 1h1m42 0h1m4 0h1m3 0h1m-25 1h1m6 0h1m5 0h1m59 0h1m-102 1h1m50 0h1m11 0h1m37 0h1m-60 1h1m2 0h2m19 0h1m18 0h1m3 0h1m-58 1h1m1 0h2m9 0h1m-9 1h1m29 0h1m23 0h1m-55 1h1m2 0h1m37 0h1m11 0h1m-56 2h1m11 0h2m29 0h1m14 0h2m-51 1h1m23 0h2m4 0h1m-30 1h1m3 0h1m-17 1h1m15 0h1m-33 1h1m13 0h1m3 1h1m45 1h1m-108 1h1m97 0h1m5 0h1m-100 1h1m93 0h1m-1 1h1m7 0h1m-97 2h1m78 0h1m4 0h1m13 0h1m-13 2h1m-81 1h1m2 0h2m73 0h1m-79 3h1m2 0h1m-4 1h1m-9 1h1m-3 2h1m40 0h1m15 2h1m-66 1h1m24 1h1m7 0h1m-12 1h1m8 0h1m-19 1h1m3 0h1m7 0h1m-19 1h1m18 1h1"/>
<path stroke="#433d84" d="M182 3.5h1m-12 8h1m1 0h1m-27 6h1m-4 4h1m-8 1h1m17 1h1m-17 2h1m2 1h1m23 1h1m0 1h1m1 0h1m19 0h1m1 0h1m-55 1h1m51 1h1m-60 1h1m47 0h3m-31 1h1m15 0h1m-29 1h1m31 0h1m2 0h1m1 0h1m-32 1h1m30 0h1m1 0h1m-42 1h1m0 1h1m7 0h1m36 0h1m2 1h1m-65 1h1m19 0h1m32 0h1m-126 1h1m71 0h1m3 0h1m11 0h1m15 0h1m27 0h1m-66 1h1m42 0h1m-67 1h1m25 0h1m43 0h1m-46 1h1m23 0h1m-53 2h1m2 0h1m3 0h1m83 0h1m-132 1h1m42 0h1m3 0h1m8 0h1m-25 1h1m7 3h1m1 0h1m51 0h1m-46 2h1m10 1h1m36 0h1m-58 1h1m9 0h1m2 0h1m-26 1h1m74 1h1m-66 1h1m-36 1h1m22 1h1m3 1h1m7 2h1m7 0h1m4 0h1m-22 2h1m-3 2h1m14 0h1m90 0h1m-112 1h1m16 1h1m-27 1h1m15 0h1m7 1h1m1 0h1m8 1h1m20 0h1m-33 1h1m-7 2h1m6 0h1m5 0h1m-9 3h1m4 1h1m18 0h1m-9 1h1m9 0h1m-28 1h1m-2 1h1m1 0h1m92 0h1m-85 2h1m8 1h1m65 0h1m-74 1h1m72 0h1m2 0h1m-75 2h1m-55 1h1m46 1h1m29 2h1m-15 1h1m1 2h1m65 0h1m1 0h2m-94 1h1m12 0h1m11 1h1m61 1h1m2 0h1m-5 1h1m1 1h1m-60 1h1m16 0h1m2 0h1m37 0h1m-50 1h1m-53 2h1m57 0h1m28 0h1m-4 1h1m13 0h1m-86 1h1m-26 1h1m33 0h1m20 0h1m1 0h1m3 0h1m-35 1h1m68 0h1m-70 1h1m76 0h1m-85 1h1m9 0h1m5 0h2m4 0h1m6 0h1m42 0h1m-99 1h1m27 0h1m12 0h1m5 0h1m19 0h1m-27 1h1m15 0h1m-57 1h1m7 0h1m34 0h2m4 0h1m28 0h1m-39 1h1m2 0h1m4 0h1m14 0h1m2 0h1m-18 1h1m44 0h1m-79 1h1m3 0h2m2 0h1m11 0h1m42 0h1m-64 1h1m34 0h1m8 0h1m1 0h1m4 0h1m-8 1h1m15 0h1m-40 1h1m24 0h1m29 0h1m-54 1h1m20 0h1m1 0h1m-30 1h1m19 0h1m29 1h1m-8 1h1m1 0h1m1 0h1m-95 2h1m88 0h1m4 2h1m-4 1h1m-2 2h1m1 0h1m-15 1h1m-71 2h1m74 0h1m-75 3h1m-13 2h1m5 0h1m8 2h1m-3 2h1m-16 1h1m47 3h1m-43 1h1"/>
<path stroke="#404588" d="M183 8.5h1m-43 14h1m5 1h1m-11 1h1m9 1h1m4 6h1m-8 1h1m33 0h1m-11 1h1m6 0h1m8 0h1m-50 1h1m-9 2h1m56 0h1m-14 1h1m-56 1h1m1 0h1m71 0h1m-47 1h1m-95 1h1m95 0h1m6 0h1m-72 2h1m64 0h1m-64 3h1m17 0h1m13 1h1m62 0h1m-90 1h1m50 0h1m-47 1h1m20 0h1m62 0h1m-81 1h1m-53 1h1m33 0h1m59 1h1m-40 1h1m-32 2h1m29 0h1m-26 1h1m11 5h1m-3 2h1m88 4h1m-126 1h1m133 0h1m-135 2h1m10 0h1m29 1h1m22 0h1m6 3h1m-38 1h1m2 1h1m84 0h1m-70 1h1m-3 1h1m5 0h1m-19 1h1m2 0h1m1 0h1m9 0h1m6 0h1m8 0h1m-32 1h1m8 1h1m11 0h1m58 0h1m3 1h1m-72 1h1m1 0h1m67 0h1m-83 2h1m11 0h1m4 0h1m-10 2h1m3 0h1m7 0h1m51 0h1m-118 2h1m59 0h1m73 0h1m-5 1h1m-79 1h1m2 0h1m0 1h1m1 0h1m9 0h1m16 1h1m-10 3h1m-32 4h1m81 1h1m-84 4h1m-1 1h1m-1 1h1m29 2h1m-58 1h1m27 0h1m62 0h1m-90 1h1m21 0h2m43 1h1m18 0h1m-8 1h1m-42 2h1m-3 1h1m34 0h1m8 0h1m-49 1h1m16 0h1m-20 1h1m31 0h1m-37 1h2m7 0h1m27 0h1m-27 1h1m3 1h2m21 0h1m3 0h1m-10 1h1m2 1h1m1 2h1m1 0h1m3 2h1m-96 1h1m89 1h1m7 2h1m-11 1h1m-83 14h1m8 0h1m-12 1h1m-3 3h1"/>
<path stroke="#3d4d8a" d="M171 9.5h1m-1 3h1m-23 2h1m-2 1h1m-9 5h1m14 2h1m-20 2h1m11 6h1m-1 2h1m28 0h1m7 0h1m-53 2h1m10 1h1m-4 1h1m-4 1h1m5 0h1m-9 1h1m32 2h1m-29 1h1m25 0h1m-34 1h1m37 0h1m-30 1h1m6 1h1m-51 1h1m-3 1h1m1 0h1m-11 1h1m90 1h1m-43 1h1m-51 1h1m50 0h1m1 0h1m1 0h1m2 0h1m-1 1h1m-64 1h1m85 2h1m-22 3h1m-57 3h1m-15 2h1m8 0h1m-7 1h1m15 0h1m-20 1h1m-29 4h1m37 0h1m-36 1h1m56 2h1m71 0h1m-82 1h1m80 1h1m8 1h1m-97 1h1m5 1h1m20 0h1m57 0h1m3 0h1m-90 1h1m2 1h1m21 1h1m-31 1h1m85 0h1m-63 1h1m2 0h1m57 0h1m13 1h1m-78 1h1m7 1h1m47 0h1m-60 1h1m5 0h1m56 0h1m-4 1h2m-55 2h1m-28 1h1m14 3h1m9 0h1m-52 1h1m47 0h2m5 2h1m-64 1h1m65 0h1m11 2h1m37 1h1m-81 1h1m39 0h1m-8 3h1m-39 1h1m76 0h1m-48 1h1m37 0h1m-85 1h1m80 0h2m-87 1h1m58 0h1m-21 1h1m-34 1h1m-8 1h1m18 0h1m11 1h2m3 1h1m22 0h1m-1 2h1m-26 1h1m-23 1h1m-1 1h1m37 0h1m3 0h1m-27 1h1m6 0h1m49 0h1m-59 2h1m-6 2h1m42 4h1m-1 1h1m-3 3h1m-81 12h1m1 1h1m6 1h1m-20 3h1"/>
<path stroke="#3a538b" d="M172 10.5h1m-1 1h1m-24 7h1m-5 5h1m1 8h1m24 1h1m-26 1h1m-6 1h1m42 1h1m-40 1h1m23 0h1m6 0h1m-46 1h1m6 1h1m-56 1h1m58 0h1m8 0h1m15 0h1m-17 1h1m-62 1h1m28 0h1m38 0h1m9 0h1m-29 1h1m-47 1h1m33 0h1m11 3h1m-49 1h1m55 0h1m-100 2h1m94 0h1m-50 1h1m48 0h1m-5 1h1m9 0h1m-54 3h1m43 1h1m7 1h1m-78 1h1m12 8h1m1 0h1m-1 3h1m91 2h1m-1 2h1m-54 1h1m-21 1h1m13 2h1m-35 1h1m95 0h1m-80 1h1m69 1h1m6 0h1m-93 1h1m7 0h1m70 0h1m-63 1h1m-1 1h1m67 0h1m-64 2h1m-21 1h1m11 0h1m5 0h1m3 0h1m64 0h1m-69 1h1m6 0h1m-17 1h1m18 0h1m-12 2h1m3 0h1m3 1h1m60 1h1m-62 1h1m2 1h1m-12 4h1m-41 4h1m66 1h1m28 3h1m-99 1h1m62 0h1m-49 1h1m13 1h1m7 0h1m-1 1h1m-39 2h1m-1 1h1m59 0h2m-25 3h1m13 0h1m-24 2h1m24 0h1m1 0h1m7 0h1m-33 2h1m10 0h1m-11 1h1m27 0h1m4 1h1m-104 2h1m91 4h1m12 0h1m-92 18h1m11 0h1m4 0h1m-20 1h1"/>
<path stroke="#375b8d" d="M173 12.5h2m-21 10h1m-16 7h1m28 1h1m9 0h1m-32 2h1m25 0h1m8 0h1m-48 2h1m36 0h1m-29 2h1m-2 1h1m-2 1h1m1 0h1m1 1h1m-63 1h1m-1 1h1m62 0h1m-16 1h2m-37 1h1m18 0h1m27 0h1m-15 1h1m-37 1h1m83 0h1m-33 1h1m-49 1h1m71 0h1m-113 2h1m47 1h1m2 2h1m36 2h1m-77 2h1m97 0h1m-21 1h1m-17 1h1m-65 1h1m4 0h1m5 1h1m21 0h1m-6 2h1m0 1h1m16 0h1m1 0h1m8 0h1m-31 3h1m1 3h1m11 2h1m-2 1h1m-15 3h1m26 0h1m-14 1h1m4 0h1m9 1h1m52 0h1m-61 1h1m60 0h1m-65 3h1m-10 1h1m-1 1h1m-8 3h1m10 0h1m-7 1h1m-8 1h1m1 0h1m27 0h1m-10 1h1m-6 2h1m1 0h1m56 0h1m-115 1h1m116 0h1m-53 1h1m-15 1h1m57 3h1m-109 1h1m60 0h1m8 2h1m40 3h1m-14 3h1m-66 1h1m28 2h1m-36 1h1m17 0h1m46 0h1m-1 1h1m-43 2h1m35 0h1m5 0h1m-69 1h1m3 1h1m5 0h1m10 1h1m-1 1h1m16 1h1m17 1h1m-19 1h1m-31 1h1m44 1h1m1 1h1m-3 1h1m-6 4h1m0 2h1m-84 3h1m-1 1h1m-1 1h1m-8 9h1"/>
<path stroke="#34618d" d="M174 10.5h1m5 1h1m-35 8h1m-9 8h1m-4 2h1m6 4h1m41 0h1m-52 3h1m42 1h1m-46 1h1m46 2h1m-62 1h1m15 0h1m15 0h1m18 0h1m2 0h1m-90 1h1m55 1h1m-43 1h1m26 0h1m-19 1h1m-11 1h1m40 1h1m-38 1h1m-11 1h1m59 0h1m-17 1h1m-33 1h1m42 0h1m26 0h1m-73 1h1m38 1h1m28 0h1m-72 2h1m32 0h1m-28 1h1m10 2h1m47 0h1m-82 4h1m8 0h1m15 0h1m-16 1h1m5 0h1m-5 5h1m92 0h1m-42 1h1m-33 2h1m0 1h1m-9 1h1m12 0h1m58 0h1m8 0h1m-83 1h1m7 0h1m-3 2h1m71 0h1m-76 1h1m2 0h1m-19 1h1m7 0h1m7 0h1m-3 2h1m8 0h1m53 0h1m4 0h1m7 0h1m-98 2h1m24 0h1m-12 1h1m2 1h1m9 0h1m-1 1h1m58 0h1m-68 1h1m4 0h1m8 0h1m5 0h1m-18 1h1m3 1h1m12 0h1m50 0h1m-76 1h1m7 2h1m67 0h1m-59 1h1m9 1h1m-4 1h1m40 2h1m8 0h1m0 1h2m-126 2h1m112 0h1m-5 2h2m-77 1h1m39 0h1m-8 1h1m-4 1h1m12 0h1m-42 1h2m38 1h1m-42 3h1m16 1h1m63 1h1m-69 1h1m27 0h1m35 0h1m-61 1h1m29 2h1m2 0h1m-7 1h1m-38 3h1m1 1h1m4 0h1m25 0h1m4 0h1m-46 1h1m45 1h1m-8 3h1m7 0h1m-6 1h1m2 0h1m-4 1h1m4 0h1m-18 2h1m-71 7h1m8 6h1m-20 5h1"/>
<path stroke="#31688e" d="M142 18.5h1m-2 3h1m-4 4h1m2 0h1m11 1h1m-16 2h1m25 5h1m-20 1h1m26 1h1m-39 1h1m-7 3h1m6 1h1m12 1h1m-2 1h1m4 0h1m1 0h1m14 0h1m-33 1h1m28 1h1m12 0h1m-79 2h1m47 0h1m-50 1h1m78 1h1m-43 1h1m-41 3h1m-15 2h1m10 1h1m6 0h1m53 1h1m10 7h1m13 0h1m3 0h1m-98 2h1m-2 1h1m5 1h1m48 2h1m-54 1h1m102 0h1m-78 1h1m70 0h1m-88 1h1m12 2h1m64 0h1m-68 2h1m1 0h1m-6 2h1m71 0h1m-74 1h1m1 0h1m3 0h1m-19 2h1m83 0h1m4 0h1m-71 1h1m11 0h1m-15 1h1m3 0h1m1 7h1m-17 1h1m2 0h1m67 0h1m-68 1h1m63 1h1m6 0h1m-123 1h1m120 1h1m0 2h1m-59 1h1m17 1h1m34 0h1m-12 2h1m13 0h1m1 0h1m-20 1h1m-29 2h1m26 0h1m-25 1h1m13 0h1m11 0h1m-81 1h1m64 0h1m11 1h1m-63 3h1m57 0h1m-20 1h1m-8 1h1m20 1h1m-61 1h1m12 0h1m50 0h1m-56 2h1m6 0h1m20 0h1m24 1h1m-19 1h1m-39 2h1m3 0h1m30 1h1m-2 6h1m6 0h1m0 1h1m-72 15h1m5 0h1m-11 2h1"/>
<path stroke="#2e6e8e" d="M143 20.5h1m8 3h1m-13 1h1m10 0h1m-9 1h1m-3 1h1m10 2h1m-12 2h1m7 1h1m-7 2h1m-16 1h1m47 0h1m-1 1h1m-35 1h1m-17 1h1m44 0h1m10 0h1m-19 1h1m-32 1h1m17 0h1m16 1h1m-84 1h1m57 0h1m-56 1h1m90 1h1m-78 2h1m35 0h1m23 0h1m-26 1h1m13 0h1m4 0h1m-9 1h1m-41 1h1m43 0h1m-44 2h1m27 0h1m13 0h2m-41 3h1m39 2h1m-78 4h1m29 0h1m-1 4h1m55 2h1m14 5h1m-87 3h1m26 0h1m-23 1h1m4 0h1m12 0h1m15 0h1m-33 1h1m14 0h1m9 0h1m2 0h1m59 0h1m1 0h1m-95 2h1m-6 1h1m97 0h1m-14 1h1m8 0h1m-88 1h1m14 0h1m55 0h1m6 0h1m5 0h1m-71 1h1m64 2h1m-37 1h1m-35 1h1m8 2h1m3 0h1m-29 1h1m28 0h1m47 0h2m5 0h1m-73 1h1m76 0h1m-87 2h1m17 1h1m60 1h1m2 7h1m-10 4h1m-38 1h1m-68 1h1m88 0h1m-76 1h1m21 0h1m3 0h1m25 0h1m-28 2h1m69 0h1m-74 1h1m52 2h1m-61 1h1m2 0h1m38 2h1m-29 2h1m45 0h1m-27 3h1m3 1h1m1 2h1m-5 4h1m-2 3h1m-34 11h1"/>
<path stroke="#2b748e" d="M143 18.5h1m2 7h1m-1 6h1m-17 1h1m15 0h1m-18 2h1m55 0h1m-18 1h1m-35 2h1m45 0h1m-40 2h1m-7 2h1m6 0h1m21 0h1m-48 3h1m24 1h1m-18 5h1m-25 3h1m8 0h1m0 1h1m-12 6h1m20 0h1m59 4h1m-66 1h1m-24 1h1m-1 3h1m80 0h1m-41 1h1m-24 2h1m2 4h1m-9 1h1m-10 2h1m12 0h1m8 0h1m-27 3h1m66 1h1m-55 2h1m0 1h1m67 3h1m1 2h1m-1 1h1m-72 1h1m3 0h1m52 0h1m-30 3h1m-5 2h1m-9 1h1m7 1h1m2 1h1m-11 1h1m28 0h1m8 0h1m-15 1h1m-72 1h1m18 0h1m55 0h1m-65 1h1m-26 1h1m60 0h1m-50 1h1m70 0h1m11 1h1m-57 2h1m49 0h1m-24 1h1m-34 1h1m-10 2h1m15 0h1m43 0h1m-60 1h1m10 0h1m-6 1h1m4 0h1m47 0h1m-20 3h1m7 0h1m-7 10h1"/>
<path stroke="#297b8e" d="M135 22.5h1m14 8h1m-7 2h1m-7 2h1m-9 1h2m41 2h1m9 0h1m-57 3h1m10 1h1m26 0h1m14 0h1m-89 1h1m24 0h1m28 3h1m-37 4h1m-6 1h1m44 0h1m-41 1h1m0 1h1m4 0h1m-14 3h1m0 1h1m-5 2h1m1 1h1m-4 2h1m1 1h1m-15 1h1m88 0h1m4 0h1m-3 1h1m-101 2h1m103 1h1m0 1h1m-34 2h1m-47 2h1m70 0h1m-29 1h1m32 0h1m1 1h1m-76 1h1m10 0h1m4 0h1m-22 1h1m-8 3h1m38 0h1m40 0h1m-79 1h1m18 0h1m-22 1h1m79 1h1m7 0h1m-10 1h1m-67 1h1m-8 1h1m11 0h1m-27 3h1m24 0h1m-23 2h1m86 3h1m-50 9h1m8 0h1m4 4h1m-84 1h1m90 2h1m-5 1h1m-28 2h1m-32 1h1m31 1h1m-3 2h1m3 0h1m24 0h1m-49 1h1m-1 2h1m35 0h1m-40 2h1m29 0h1m3 1h1m3 2h1m-6 2h1m-103 1h1m31 17h1"/>
<path stroke="#26818e" d="M145 25.5h1m-3 7h1m-20 6h1m42 1h1m2 2h1m-78 1h1m55 0h1m-29 3h1m-18 1h1m2 0h1m32 0h1m-58 1h1m32 0h1m5 0h1m26 1h1m-4 1h1m-36 1h1m-4 3h1m40 0h1m-42 1h1m-37 2h1m1 0h1m66 1h1m16 1h1m-34 2h1m8 1h1m19 2h1m-58 1h1m85 2h1m-91 2h1m17 2h1m-13 1h1m68 1h1m-12 1h1m34 0h1m-91 2h1m15 1h1m54 2h1m-79 1h1m18 0h1m2 0h1m-30 1h1m23 1h1m-15 4h1m22 0h1m-11 2h1m6 0h1m-23 2h1m13 1h1m5 2h1m58 0h1m-2 2h1m-52 1h1m6 1h1m4 2h1m16 0h1m18 1h1m-36 1h1m-2 1h2m-3 1h1m-6 1h1m33 1h1m-43 1h1m34 0h1m7 0h1m-36 1h1m-36 1h1m37 0h1m3 0h1m-43 1h1m10 0h1m31 0h1m14 0h1m-53 2h1m41 0h1m-31 1h1m-28 1h1m3 0h1m8 0h1m-1 5h1m26 3h1m4 4h1m-3 1h1"/>
<path stroke="#24878e" d="M149 30.5h1m26 1h1m-38 3h1m3 0h1m36 2h1m-47 3h1m-15 1h1m49 0h1m-88 1h1m53 0h1m13 1h1m9 0h1m-81 1h1m37 1h1m19 0h1m-45 1h1m9 2h1m45 0h1m26 0h2m-47 1h1m17 0h1m-56 1h1m9 0h1m4 0h1m-35 1h1m35 3h1m7 4h1m31 0h1m-48 3h1m75 7h1m-87 1h1m52 2h1m-34 3h1m-23 1h1m14 0h1m-1 1h1m-19 1h1m3 0h1m-12 1h1m98 1h1m-50 1h1m8 0h1m27 0h1m-78 2h1m9 0h1m65 0h1m-10 1h1m-64 1h1m-9 1h1m18 3h1m16 0h1m7 0h1m44 3h1m-82 3h1m-2 3h1m25 0h1m49 6h1m-22 1h1m9 0h1m-75 1h1m60 0h2m-5 1h1m-86 2h1m59 1h1m-36 3h1m43 4h1m-35 4h1m38 8h1m-96 18h1m19 0h1"/>
<path stroke="#228d8d" d="M150 25.5h1m-10 7h1m36 1h1m-11 1h1m-43 4h1m44 0h1m-55 1h1m1 0h1m59 0h1m-44 1h2m13 0h1m28 0h1m-83 4h1m14 0h1m1 0h1m30 0h1m14 2h1m-16 1h1m2 4h1m-14 4h1m9 1h1m-70 2h1m100 3h1m-54 1h1m-46 3h1m43 2h1m-34 3h1m84 1h1m5 1h2m-2 1h1m-90 1h1m4 5h1m14 0h1m-11 4h1m7 0h1m61 0h1m-57 1h1m-19 6h1m18 0h1m6 2h1m-4 1h1m37 3h1m-8 3h1m19 0h1m-21 4h1m15 1h1m-41 1h1m-44 1h1m2 0h1m40 1h1m36 1h1m-79 3h1m5 0h1m-8 1h1m50 0h1m-17 2h1m-40 1h1m46 0h1m-31 2h1"/>
<path stroke="#20938c" d="M153 22.5h1m-5 4h1m-11 4h1m29 4h1m-35 3h1m-7 1h1m45 0h1m-37 1h1m29 0h1m3 0h1m-46 1h1m21 0h1m21 0h1m-39 1h1m11 1h1m15 0h1m-45 3h1m17 0h1m13 1h1m-14 1h2m-32 1h1m32 0h1m9 0h1m-44 2h1m40 0h2m0 1h1m14 1h1m-62 1h1m4 0h1m35 0h1m-37 2h1m16 2h1m21 1h1m-62 3h1m13 2h1m81 0h1m-16 3h1m-8 1h1m-12 4h1m-54 3h1m67 0h1m6 0h1m2 0h1m-56 1h1m61 0h1m-84 1h1m74 0h1m1 2h1m1 2h1m-81 1h1m-5 1h1m12 1h1m4 3h1m14 0h1m-2 2h1m50 1h1m-3 1h1m-86 1h1m80 7h1m-3 2h1m2 0h1m-47 1h1m45 0h1m-17 2h1m7 0h1m-13 4h1m-97 3h1m33 2h1m38 0h1m18 1h1m-27 1h1m-30 1h1m13 3h1m23 2h1m-40 1h1"/>
<path stroke="#1f998a" d="M171 10.5h1m-26 4h1m-5 5h1m-5 2h1m-1 3h1m13 0h1m-4 1h1m-1 4h1m-11 3h1m41 0h1m2 3h1m-56 2h2m1 2h1m-1 1h1m33 0h1m-8 2h1m-66 1h1m37 0h2m18 0h1m-10 2h1m-6 1h1m-18 2h1m14 0h1m1 0h1m-63 3h1m21 1h1m43 0h1m1 1h1m5 2h2m2 1h1m-53 6h1m-8 3h1m50 0h1m-54 2h1m66 2h1m-49 1h1m27 3h1m32 0h1m4 0h1m-5 1h1m5 0h1m-91 1h1m45 0h1m-45 1h1m84 0h1m-51 1h1m29 0h1m19 2h1m-69 1h1m7 1h1m2 0h1m50 0h1m-63 1h1m6 2h1m-10 5h1m17 0h1m48 0h1m3 1h1m-69 1h1m52 0h1m7 1h1m-37 5h1m-20 1h1m50 0h1m-43 1h1m8 1h1m35 0h1m-4 1h1m-19 1h1m-2 1h1m-5 8h1m-51 1h1m-9 1h1m58 1h1m-47 3h1m-10 4h1"/>
<path stroke="#1fa088" d="M172 9.5h1m-33 13h1m-3 1h1m4 1h1m-9 1h1m1 0h1m5 4h1m-16 6h1m-81 2h1m82 0h1m1 0h1m37 2h1m-39 1h1m46 2h1m-84 4h1m6 1h1m13 1h1m28 0h1m-6 1h1m30 0h1m-26 2h1m-41 1h1m-2 1h1m15 0h1m-22 4h1m46 1h1m-46 1h1m-3 2h1m32 2h1m47 1h1m-74 5h1m70 0h1m-75 1h1m72 1h1m-8 1h1m4 0h1m-5 1h1m-85 1h1m37 0h1m49 1h1m5 1h1m-12 1h1m-10 3h1m7 0h1m-74 1h1m1 1h1m4 2h1m4 1h1m7 0h1m-1 1h1m-20 4h1m72 1h1m-42 3h1m-17 3h1m6 1h1m-35 6h1m44 1h1m-14 2h1m35 0h1m-31 1h1m23 0h1m-98 2h1m68 0h1m-29 3h1m0 2h1m-7 7h1m-47 23h1"/>
<path stroke="#21a585" d="M139 22.5h1m15 3h1m-9 4h1m-3 4h1m-13 2h1m12 0h1m1 0h1m-12 2h1m31 1h1m-41 3h1m2 0h1m-37 2h1m39 1h1m-33 1h1m45 0h1m-44 2h1m24 1h1m-26 3h1m20 2h1m22 0h1m18 0h1m-32 4h1m17 1h1m-35 5h1m-36 1h1m30 0h1m17 2h1m-3 3h1m48 0h1m-75 3h1m0 1h2m10 1h1m40 0h1m-64 1h1m32 0h1m46 0h1m-6 1h1m-65 1h1m-11 2h1m25 0h1m43 0h1m6 0h1m-54 1h1m-27 1h1m-6 1h1m21 0h1m-3 2h1m10 1h1m-5 2h1m42 0h1m3 2h1m-6 1h1m15 5h1m-11 2h1m-41 2h1m36 3h1m-19 3h1m4 1h1m-22 1h1m-3 3h1m-40 3h1m57 5h1m-60 1h1m9 0h1m28 8h1m-81 7h1m-12 3h1m1 9h1"/>
<path stroke="#25ac82" d="M141 24.5h1m0 1h1m-8 10h1m34 0h1m10 0h1m-51 1h1m-7 2h1m1 0h1m-1 1h1m26 2h1m-17 1h1m-21 1h1m17 3h1m42 0h1m-67 1h1m-7 2h1m31 1h1m-3 1h1m11 1h2m-27 5h1m-22 1h1m10 3h1m22 2h1m-40 1h1m-10 5h1m19 1h1m-4 3h1m-16 1h1m42 2h1m-20 3h1m-8 1h1m4 0h1m-4 1h2m42 0h1m-44 1h1m-4 1h1m66 1h1m-58 1h1m-3 3h1m7 1h1m52 1h1m-4 2h1m-38 9h1m19 0h1m-26 2h1m1 0h1m-12 6h1m19 0h1m-56 4h1m4 1h1m2 2h1m-5 3h1m-43 24h1"/>
<path stroke="#2db27d" d="M146 24.5h1m-8 2h1m-1 1h1m8 1h1m-9 2h1m42 6h1m-46 3h1m36 0h1m-46 1h1m9 0h1m12 1h1m-35 1h1m9 0h1m9 0h1m10 0h1m-20 1h1m47 2h1m-66 1h1m20 0h1m-35 2h1m46 1h1m-9 2h1m-27 1h1m26 0h1m5 4h1m-7 3h1m-56 3h1m85 0h1m-53 1h1m-21 1h1m83 0h1m-4 3h1m-91 1h1m8 1h1m81 1h1m-94 1h1m18 0h1m-12 1h1m4 1h1m20 0h1m-16 1h1m-20 2h1m0 1h2m88 0h1m-84 1h1m27 0h1m34 0h1m-54 3h1m-4 3h1m18 10h1m-2 3h1m6 1h1m22 2h1m18 1h1m-47 1h1m9 0h1m-9 2h1m4 0h1m1 0h1m17 0h1m3 0h1m-24 1h1m32 0h1m-35 1h1m-42 1h1m32 2h1m19 0h1m-54 1h1m51 1h1m1 0h1m-48 2h1m24 0h1m17 0h1m-10 1h1m-37 3h1m34 0h1m-35 3h1m33 5h1"/>
<path stroke="#35b779" d="M154 25.5h1m-14 2h1m34 9h1m1 1h2m-38 2h1m-12 1h1m32 2h1m-24 1h1m35 0h1m-46 1h1m7 0h2m-25 1h1m13 0h1m-22 1h1m23 0h1m-27 1h1m26 0h1m14 0h1m22 0h1m-39 1h1m17 1h1m26 0h1m-81 1h1m38 2h1m11 0h1m-47 1h1m8 0h1m33 0h1m-15 1h1m13 0h2m1 0h2m-4 1h1m-46 5h1m45 0h1m-51 1h1m5 1h1m55 4h1m-64 1h1m-8 2h1m3 0h1m10 2h1m71 0h1m-65 1h1m-18 1h1m8 0h1m2 0h1m8 1h1m64 0h1m-87 1h1m11 0h1m3 0h1m26 0h1m32 0h1m-75 1h1m66 0h1m4 0h1m6 0h1m-59 1h1m2 0h1m-31 2h1m-1 1h1m11 3h1m19 0h1m-7 1h1m1 1h1m2 1h1m7 0h1m-19 1h1m56 0h1m-1 1h1m5 0h1m-68 2h1m5 1h1m46 0h1m-59 1h1m62 5h1m0 1h1m-47 1h1m4 0h1m0 2h1m2 1h1m23 0h1m7 0h1m-40 2h1m3 0h1m13 1h1m5 0h1m-60 1h1m2 0h1m49 0h1m-50 1h1m44 0h1m3 0h1m1 0h1m-54 1h1m29 0h1m6 0h1m14 0h1m-38 1h1m23 0h1m13 1h1m-56 1h1m2 0h1m29 0h1m-4 1h1m-35 1h1m8 1h1"/>
<path stroke="#40bd72" d="M139 23.5h1m-1 5h1m10 1h1m-17 1h1m7 1h1m-1 1h1m37 2h1m-56 3h1m-3 1h1m2 1h1m4 0h1m-15 1h1m23 0h1m24 1h1m6 0h1m-38 2h1m-36 1h1m40 0h1m1 0h1m-37 2h1m58 2h1m10 0h1m-75 1h1m36 0h1m1 0h1m-39 3h1m11 0h1m28 1h1m-42 2h2m38 0h1m-39 1h1m36 1h1m-43 1h1m75 0h1m-74 3h1m76 2h1m-2 5h2m-84 1h1m12 0h1m-6 3h1m-12 1h1m83 2h1m2 0h1m-86 1h1m20 0h1m5 0h1m-10 1h1m5 0h1m56 0h1m-86 1h1m19 0h1m8 0h1m24 0h1m23 0h1m7 0h1m1 0h1m-88 3h1m73 0h1m4 9h1m-57 1h1m55 0h1m-6 8h1m-13 5h1m-23 2h1m-11 1h1m23 0h1m3 0h1m-32 1h1m25 1h1m-64 2h1m36 0h1m-37 1h1m4 1h1m45 0h1m-47 9h1"/>
<path stroke="#4cc26c" d="M182 7.5h1m-29 17h1m-2 1h1m26 7h1m-47 3h1m-13 3h1m56 0h1m-59 2h1m13 2h1m-1 1h1m4 0h1m27 0h1m2 0h1m-43 1h1m7 1h1m2 0h1m11 0h1m-11 1h1m-37 1h1m33 0h1m-37 1h1m29 0h1m4 0h1m-23 1h1m11 0h1m-24 2h1m-7 1h1m31 1h1m11 2h1m2 0h1m0 1h1m-3 1h1m24 3h1m-19 2h1m27 0h1m-5 2h1m-59 1h1m62 4h1m-93 1h1m7 1h1m19 1h1m17 0h1m35 0h1m4 0h1m-81 1h1m23 0h1m-20 1h1m-11 1h1m79 0h1m-79 1h1m27 0h1m55 0h1m-65 1h1m59 0h1m-58 1h1m53 0h1m-76 2h1m19 0h1m7 1h1m-7 3h1m10 0h1m-29 4h1m4 3h1m19 0h1m33 2h1m8 3h1m-1 2h1m-27 7h1m-7 1h1m13 1h1m-4 3h1m-26 1h1m-33 1h1m38 0h2m8 0h1m-5 1h1m-47 7h1"/>
<path stroke="#5ac864" d="M144 19.5h1m-7 3h1m16 2h1m-11 5h1m-5 2h1m35 2h1m-48 5h1m40 2h1m-45 1h1m-8 1h1m7 0h1m48 0h1m-36 1h1m12 0h1m25 0h1m-70 1h1m20 0h1m14 0h1m-43 2h1m11 0h1m59 0h1m-67 2h1m21 1h1m1 1h1m-26 1h1m-9 3h3m61 4h1m11 5h1m2 1h1m-89 5h1m-4 2h1m17 1h1m71 0h1m-91 1h1m28 0h1m-32 1h1m11 0h1m1 1h1m73 0h1m-88 1h1m6 0h1m19 0h1m-19 1h1m25 0h1m59 0h1m-71 1h1m-7 1h1m33 2h2m21 1h1m-49 1h1m-5 4h1m7 1h1m-6 1h1m61 0h1m-58 5h1m1 2h1m2 3h1m47 1h1m-25 1h1m-4 3h1m-8 1h1m10 0h2m-13 1h1m-50 1h1m3 0h1m50 1h1m1 0h1m-57 1h1m7 0h1m35 0h1m-44 1h1m-3 1h1m3 2h1m2 0h1m-1 1h1m8 4h1m22 1h1m-4 3h1m4 2h1m-14 4h1"/>
<path stroke="#67cc5c" d="M141 23.5h1m-3 1h1m0 1h1m3 0h1m-2 3h1m-2 2h1m36 5h1m-62 4h1m34 1h1m24 1h1m-21 1h1m-40 1h1m29 0h1m28 0h1m-48 1h1m19 0h1m-41 1h1m7 0h1m-17 1h1m27 1h1m5 1h1m-37 2h1m5 2h1m35 1h1m33 1h1m-30 1h1m13 0h1m-18 1h1m23 0h1m-28 1h1m8 0h1m-5 1h1m-53 3h1m14 0h1m-5 3h1m-6 1h1m80 0h1m-2 1h1m-88 1h1m72 2h1m-60 1h1m-5 2h1m18 0h1m50 0h1m-49 1h1m-2 1h1m53 0h1m-81 1h1m49 1h1m-55 1h1m23 0h1m57 0h1m-59 1h1m-2 1h1m-4 3h1m49 3h1m4 0h1m-56 1h1m-20 1h1m69 0h1m12 1h1m-77 8h1m21 0h1m22 5h1m-13 2h1m17 0h1m-16 3h1m9 0h1m-28 1h1m25 1h1m-2 1h1m-14 3h1m14 3h1m-50 1h1m30 2h1m1 5h1"/>
<path stroke="#77d153" d="M143 26.5h1m32 12h1m-53 1h1m14 1h1m-46 2h1m42 0h1m-12 1h1m30 0h1m-64 1h1m39 0h1m4 1h1m7 0h1m-32 1h1m2 1h1m-17 2h1m4 1h1m0 1h1m-4 1h1m59 0h1m-20 1h1m12 7h1m-5 1h1m22 0h1m-2 1h1m-2 1h1m0 1h1m4 1h1m-82 1h1m35 2h1m33 1h1m-70 3h1m-4 3h1m10 0h1m3 0h1m8 1h1m-31 1h1m25 0h1m49 0h1m-75 1h1m2 1h1m20 1h1m4 2h1m34 0h1m6 0h1m-51 1h1m52 1h1m-51 2h1m5 0h1m44 1h1m-57 1h1m3 0h1m-2 1h1m54 1h1m-50 2h1m49 1h1m-41 4h1m33 1h1m-38 2h1m19 2h1m3 1h1m7 0h1m-29 1h1m-6 6h1m10 2h1m3 0h1m-26 1h1m26 2h1m-93 23h1"/>
<path stroke="#89d548" d="M140 23.5h1m11 2h1m-8 6h1m35 2h1m-53 7h1m-3 2h1m-14 2h1m36 1h1m-51 2h1m7 0h1m1 0h1m35 0h1m-39 1h1m0 2h1m-9 1h1m1 0h1m14 1h1m54 1h1m-65 1h1m36 0h1m-44 4h1m50 0h1m22 2h1m-75 1h1m66 1h1m-71 2h1m11 0h1m-16 1h1m-2 1h1m7 0h1m51 0h1m-53 2h1m-11 1h1m-2 1h1m32 0h1m45 0h1m-13 1h1m-70 1h1m21 0h1m24 1h1m32 0h1m-63 1h1m60 0h1m-79 1h1m82 0h1m-51 2h1m47 1h1m-49 1h1m41 0h1m-60 4h1m14 1h2m38 0h1m-48 1h1m3 1h2m0 1h1m-5 4h1m52 4h1m-38 1h1m-11 1h1m23 3h1m-23 2h1m9 1h1m8 1h1m-20 1h1m1 2h1m11 0h2m-41 1h1m35 0h1m-45 1h1m50 0h1m6 0h1m-64 1h1m54 0h1m-57 1h1m59 1h1m-1 2h1m-55 1h1m38 0h1m13 1h1m-57 5h1m40 2h1m-1 2h1"/>
<path stroke="#98d83e" d="M153 23.5h1m-7 1h1m3 3h1m-10 1h1m1 0h1m33 6h1m-2 1h1m0 1h2m-52 2h1m6 1h1m40 0h1m-37 2h1m-5 1h1m3 0h1m27 0h1m12 0h1m-31 1h1m-15 1h2m37 1h1m-29 1h1m-44 3h1m27 0h1m6 0h1m-28 2h1m22 0h1m-33 1h1m27 0h1m-31 1h1m3 0h1m35 0h1m23 0h1m-22 1h1m-5 1h1m2 1h1m2 1h1m4 0h1m22 0h1m-70 1h1m72 4h1m-17 1h1m-44 1h1m-17 1h2m27 0h1m-25 1h1m33 0h1m-49 1h1m1 1h1m10 1h1m2 0h1m11 0h1m-31 1h1m6 0h1m76 0h1m-18 1h1m12 0h1m-58 1h1m27 0h1m34 0h1m-87 1h1m25 0h1m59 0h1m2 1h1m-68 2h1m54 0h2m-75 1h1m19 0h1m64 0h1m-15 1h1m10 0h1m-2 1h1m-67 1h1m8 0h2m4 0h1m-6 1h1m-1 2h1m44 0h1m-1 3h1m-66 3h1m16 0h1m3 0h1m38 0h1m-39 4h1m40 1h1m7 0h1m-2 2h1m-49 1h1m-1 1h1m28 0h1m-3 1h1m-24 1h1m23 1h1m3 0h1m-3 1h1m-22 2h1m6 0h1m4 0h1m-3 4h1m-3 1h1m7 0h1m-18 1h1m6 1h1m2 0h1m-10 3h1m15 3h1m-16 6h1"/>
<path stroke="#aadc32" d="M153 24.5h1m-6 1h1m2 0h1m-12 1h1m9 0h2m-12 1h1m9 0h1m-4 1h1m31 5h1m-46 1h1m45 1h1m-54 2h1m4 1h1m-7 2h1m46 0h1m-51 1h1m12 0h1m-3 2h1m13 0h1m4 0h1m2 0h1m21 1h1m-31 1h1m-19 1h2m7 0h1m7 0h1m4 0h1m24 0h1m-75 1h1m11 0h1m23 0h1m-34 1h1m4 0h1m7 1h1m15 0h2m-3 1h1m8 0h1m-9 1h1m27 1h1m-43 1h1m30 0h1m-46 1h1m1 0h1m2 0h1m-8 2h1m10 1h1m57 0h1m2 0h1m-42 1h1m37 0h1m4 1h1m-3 2h1m-74 2h1m14 0h1m58 0h1m-83 1h1m2 0h1m42 0h1m-47 1h1m9 0h1m3 0h1m7 0h1m60 0h1m-79 1h1m33 0h1m16 0h1m-41 1h1m35 0h1m30 0h1m-86 1h2m5 1h1m40 0h1m-54 1h1m13 0h1m6 0h1m-21 1h1m83 0h2m1 0h2m-88 1h1m3 0h1m23 0h1m47 0h1m-76 1h1m31 0h1m44 0h1m-72 1h1m4 0h1m10 0h1m1 0h1m5 0h1m1 0h1m2 0h1m49 0h2m-90 1h1m26 0h1m43 0h1m-41 1h1m-6 1h1m65 0h1m-84 1h1m21 0h1m1 0h1m22 0h1m3 0h1m19 0h1m-11 1h1m-60 1h1m18 0h1m8 0h1m-15 2h1m3 0h1m2 1h1m0 1h1m4 0h1m37 0h2m-44 2h1m-8 1h1m7 0h1m2 0h1m-5 1h1m-2 1h1m-4 1h1m1 2h1m11 1h1m36 3h1m2 0h1m-51 1h1m50 0h1m-23 2h1m1 2h1m5 0h1m-33 1h1m19 0h1m17 0h1m-39 1h1m8 1h1m5 0h1m3 0h1m-1 1h1m2 2h1m-59 1h1m32 0h1m15 0h1m-12 1h1m8 0h1m6 0h1m-52 1h1m26 0h1m1 0h1m4 0h1m10 0h1m4 0h1m-17 1h1m8 0h1m9 0h1m-17 1h1m3 0h1m-43 1h1m36 0h4m3 0h1m8 0h1m-14 1h1m-3 8h1m-3 3h1"/>
<path stroke="#bade28" d="M144 26.5h1m2 0h1m-8 2h1m8 0h1m-9 1h1m4 5h1m34 2h1m-47 2h1m37 0h1m-52 1h1m7 0h1m-8 1h1m6 1h1m8 0h1m11 0h2m24 0h1m1 0h1m-27 1h1m-34 1h1m7 0h1m1 0h1m38 0h1m-75 1h1m29 0h1m-18 1h1m20 0h1m5 0h1m-34 1h1m6 0h1m2 0h2m1 0h1m-4 1h1m5 0h1m56 0h1m-56 1h1m-20 1h2m10 0h1m-12 1h1m9 0h1m22 0h1m2 0h1m14 3h1m3 0h1m3 0h1m-39 1h1m-20 1h1m2 0h1m2 0h1m20 1h1m17 0h1m2 0h1m-50 1h2m2 0h1m6 0h1m29 1h1m-42 1h1m45 0h1m23 0h1m1 0h1m-73 2h1m0 1h1m41 0h1m-40 1h1m9 0h1m-9 1h1m55 0h1m-69 1h1m19 0h1m62 0h1m-85 1h1m24 0h1m44 0h1m-67 1h1m16 0h1m-20 2h1m7 0h1m11 0h1m47 0h1m10 0h2m-75 1h1m8 0h1m-12 1h1m60 0h1m18 0h1m-82 1h1m10 0h1m9 0h1m4 0h1m25 0h1m2 0h1m-57 1h1m2 0h1m9 0h1m11 0h1m2 0h1m-9 1h1m5 0h1m25 0h1m20 0h1m-48 1h1m44 0h1m3 0h1m-49 1h1m19 0h1m13 0h1m-59 1h1m60 0h1m2 0h1m-41 1h1m38 0h1m3 0h1m-51 1h1m25 0h1m3 0h1m18 0h1m5 0h1m-62 1h1m14 0h1m-9 1h1m45 0h1m-42 1h2m15 0h1m23 2h1m-4 1h1m-46 2h1m1 0h1m-1 1h1m48 0h1m2 1h1m-52 3h1m2 3h1m8 0h1m-6 2h1m2 1h1m-7 1h1m5 0h1m17 0h1m3 0h1m-4 1h1m16 0h1m-41 1h1m24 0h1m-17 1h1m12 0h1m2 0h1m-27 1h1m7 0h1m14 0h1m-13 1h1m2 0h1m12 0h1m-23 1h1m3 1h1m-6 1h1m-1 1h1m-7 2h1m11 0h1m5 0h1m-51 1h1m31 0h1m11 0h1m8 2h1m-53 1h1m52 0h1m-53 1h1m36 9h1m-7 4h1"/>
<path stroke="#cde11d" d="M142 27.5h1m3 0h1m1 0h1m-9 2h1m5 1h1m-15 6h1m45 3h1m-5 1h2m1 0h1m-54 1h1m42 1h1m2 0h1m7 0h1m-71 2h2m10 0h1m14 0h1m41 0h1m-71 1h1m33 0h1m7 0h1m16 0h1m-71 1h1m22 0h1m54 1h1m-65 1h1m4 1h1m59 0h1m-73 1h1m14 0h1m8 0h1m13 0h1m-30 1h1m25 0h2m19 0h1m-59 1h2m10 0h1m8 0h1m29 0h1m-13 1h1m9 0h1m-37 1h1m27 0h1m16 0h1m-14 1h1m-44 1h1m47 0h1m-46 1h1m43 0h1m25 0h1m-72 1h1m44 0h1m18 0h1m7 0h1m-61 1h1m10 0h1m-24 1h1m70 0h1m-64 1h1m46 0h1m19 0h1m-72 1h1m7 0h1m59 0h1m-69 1h2m-7 1h1m43 0h1m10 0h1m20 0h1m-81 1h1m1 0h2m-4 1h1m10 0h1m65 0h1m-80 1h1m7 0h1m25 0h1m-35 1h1m5 0h1m4 0h1m1 0h1m-21 1h1m11 0h1m54 0h1m10 0h1m5 0h1m-78 1h1m15 0h1m52 0h1m3 0h1m2 0h1m-82 1h1m3 0h1m2 0h1m16 0h1m10 0h1m41 0h1m-81 1h1m3 0h1m25 0h1m9 0h1m-37 1h1m4 0h1m75 0h2m3 0h1m-11 1h1m-54 1h1m9 0h2m37 0h1m-51 1h1m11 0h1m44 0h1m-56 1h1m23 0h1m29 0h1m-63 1h1m13 0h1m1 0h1m23 0h1m-29 1h1m4 0h1m38 0h2m-45 1h1m21 0h1m21 0h1m-45 1h1m44 0h1m-49 1h1m18 0h1m-14 2h1m41 0h1m-49 1h1m3 0h1m-9 1h1m54 2h1m-7 1h1m4 0h1m1 0h1m-49 1h1m47 0h1m-48 1h1m39 0h1m-47 1h1m3 1h1m5 1h1m28 3h1m9 0h1m-43 1h1m4 0h1m1 0h1m20 0h1m13 1h1m-19 1h1m2 0h1m4 0h1m-10 1h1m8 0h1m9 0h1m-6 1h1m-26 1h1m10 0h1m-15 2h1m4 0h1m-46 1h1m38 0h1m13 0h1m-26 1h1m0 1h1m3 1h1m11 0h1m1 0h1m-5 1h1m-9 1h1m2 0h1m-1 1h1m13 0h1"/>
<path stroke="#dde318" d="M148 26.5h1m3 0h1m-12 2h1m2 2h1m2 0h1m31 4h1m-2 1h1m-2 3h1m-55 1h1m50 0h1m-51 1h1m9 0h1m7 0h1m-17 1h1m49 0h1m-18 2h1m3 0h1m-1 1h1m-51 1h1m13 0h1m2 0h1m-26 1h1m63 0h1m-53 1h1m45 0h1m-62 1h1m2 0h1m13 0h1m57 0h1m-69 1h1m2 0h1m39 0h1m-49 1h1m8 0h1m5 0h1m33 0h1m17 0h1m-40 1h1m27 0h1m-49 1h1m2 0h1m-5 1h1m27 0h1m-34 1h1m6 0h1m24 0h1m37 0h1m-75 1h1m8 0h1m-6 1h1m35 0h1m-38 1h1m37 0h1m1 1h2m5 0h1m18 0h2m-66 1h1m40 0h1m25 0h1m3 0h1m-26 1h1m4 0h1m14 0h1m5 0h1m-73 1h1m33 0h1m-35 1h1m23 0h1m15 0h1m-60 1h1m13 0h1m5 0h1m6 0h1m14 0h1m1 0h1m14 0h1m-46 1h1m4 0h1m10 0h1m6 0h1m-17 1h1m2 0h1m9 0h1m54 0h1m3 0h1m-84 1h1m4 0h1m-7 1h1m7 0h1m-7 1h1m3 0h1m8 0h1m9 0h1m39 0h1m13 0h2m-73 1h1m9 0h1m54 0h1m-76 1h1m26 0h1m6 0h1m-36 1h1m11 0h1m64 0h1m-76 1h1m2 0h1m17 0h1m7 0h1m3 0h1m-16 1h1m14 0h1m41 0h1m-31 1h1m5 0h1m11 0h1m-31 1h1m-37 1h1m4 1h1m29 0h1m22 0h1m16 0h1m-16 1h1m13 0h1m-45 1h1m23 0h1m12 1h1m-41 3h1m45 0h1m-48 1h1m46 1h1m2 1h1m-39 1h1m31 0h1m-44 2h2m-2 1h1m4 0h1m4 0h1m-9 1h1m1 0h1m4 1h1m-1 1h1m-6 1h1m46 1h1m1 0h1m-48 2h1m1 0h1m-1 2h1m19 0h1m6 1h1m10 1h1m-12 1h1m6 0h1m2 1h1m-30 1h1m2 0h1m2 0h1m10 0h1m0 1h1m-9 1h1m0 1h2m-17 1h1m2 0h1m10 0h1m3 0h1m-26 1h1m8 0h1m-8 2h1m7 0h1m5 0h1m4 1h1m1 3h1m0 1h1"/>
<path stroke="#fde725" d="M154 23.5h1m-10 3h2m-4 1h3m1 0h1m1 0h1m-5 1h2m-5 1h1m1 0h1m1 0h1m1 0h1m-6 1h1m-1 1h2m35 2h1m-4 4h1m-6 1h1m5 0h1m-43 1h1m40 0h1m-56 1h1m2 0h1m12 0h1m37 0h1m-56 1h1m3 0h1m2 0h1m2 0h1m42 0h2m-55 1h6m3 0h2m31 0h1m1 0h2m4 0h1m1 0h4m2 0h1m-59 1h5m1 0h1m26 0h1m3 0h1m1 0h3m1 0h4m2 0h1m1 0h5m-56 1h2m1 0h1m1 0h3m20 0h1m2 0h11m1 0h2m1 0h10m-68 1h2m1 0h1m1 0h2m4 0h1m1 0h5m1 0h1m3 0h3m18 0h9m1 0h3m1 0h9m1 0h1m-67 1h1m8 0h10m2 0h2m19 0h3m1 0h4m1 0h7m1 0h7m-75 1h1m7 0h1m3 0h1m5 0h2m1 0h8m1 0h3m17 0h11m1 0h6m1 0h2m3 0h2m-75 1h1m9 0h4m5 0h10m21 0h14m1 0h9m-63 1h1m1 0h1m1 0h1m1 0h9m1 0h3m21 0h19m1 0h1m1 0h4m-66 1h4m2 0h5m1 0h1m1 0h5m21 0h17m1 0h8m-75 1h1m2 0h1m5 0h18m1 0h2m17 0h7m2 0h10m1 0h8m-62 1h1m1 0h2m1 0h9m1 0h6m1 0h1m7 0h1m4 0h10m1 0h1m2 0h12m-64 1h6m1 0h1m1 0h4m1 0h3m1 0h5m3 0h1m12 0h3m1 0h3m1 0h4m2 0h2m1 0h3m1 0h3m-63 1h8m1 0h10m1 0h3m1 0h3m1 0h1m9 0h6m1 0h10m1 0h5m-68 1h1m3 0h17m1 0h6m1 0h4m2 0h1m10 0h8m1 0h15m-70 1h23m1 0h10m1 0h1m9 0h1m2 0h12m2 0h8m-70 1h6m1 0h1m1 0h4m1 0h2m1 0h1m1 0h12m1 0h1m13 0h20m4 0h1m-72 1h6m1 0h18m1 0h3m1 0h7m7 0h1m1 0h2m1 0h1m2 0h2m1 0h5m1 0h1m1 0h1m2 0h1m1 0h2m2 0h1m-74 1h1m1 0h9m1 0h10m1 0h12m1 0h6m2 0h23m3 0h2m-75 1h1m3 0h14m1 0h3m1 0h24m1 0h2m1 0h4m1 0h1m1 0h10m1 0h1m1 0h2m1 0h1m-72 1h1m1 0h2m1 0h2m2 0h19m1 0h6m1 0h14m1 0h3m1 0h16m-74 1h1m4 0h1m1 0h7m1 0h7m1 0h5m1 0h14m2 0h5m1 0h17m2 0h4m3 0h1m-78 1h1m2 0h1m4 0h3m4 0h1m2 0h2m1 0h1m1 0h4m1 0h1m1 0h2m1 0h1m1 0h9m1 0h6m1 0h8m1 0h2m1 0h9m-73 1h1m1 0h1m2 0h1m1 0h3m1 0h4m3 0h4m1 0h16m1 0h5m1 0h10m1 0h5m1 0h11m-78 1h1m7 0h2m2 0h1m1 0h3m4 0h2m1 0h10m1 0h12m1 0h14m1 0h15m1 0h1m-80 1h1m4 0h1m1 0h3m1 0h1m1 0h9m1 0h13m1 0h1m1 0h5m1 0h8m1 0h4m1 0h4m1 0h3m1 0h1m1 0h7m2 0h3m-80 1h4m2 0h5m1 0h4m1 0h6m1 0h7m1 0h15m1 0h12m1 0h16m2 0h1m-81 1h3m3 0h3m1 0h1m2 0h9m1 0h15m1 0h23m1 0h13m2 0h3m-79 1h1m1 0h1m2 0h1m1 0h1m3 0h2m1 0h2m1 0h4m1 0h11m1 0h5m2 0h1m1 0h13m1 0h1m1 0h5m2 0h1m2 0h1m7 0h2m-85 1h1m4 0h2m2 0h2m9 0h4m1 0h1m1 0h4m1 0h1m1 0h4m1 0h14m1 0h1m1 0h10m1 0h4m1 0h3m1 0h1m2 0h1m2 0h2m-88 1h1m2 0h2m4 0h1m1 0h3m7 0h1m1 0h2m1 0h10m1 0h21m1 0h9m2 0h1m1 0h6m2 0h1m-73 1h1m5 0h1m14 0h1m2 0h1m1 0h1m1 0h1m2 0h5m1 0h7m1 0h8m1 0h2m1 0h10m2 0h3m-71 1h1m6 0h2m5 0h1m14 0h9m2 0h7m1 0h8m1 0h11m1 0h1m-72 1h1m30 0h11m1 0h5m1 0h4m1 0h6m1 0h4m2 0h4m-79 1h1m38 0h4m1 0h1m1 0h4m1 0h18m1 0h5m1 0h4m-45 1h1m2 0h5m1 0h12m1 0h1m1 0h11m1 0h5m1 0h2m5 0h1m-47 1h13m1 0h8m1 0h5m1 0h6m1 0h2m2 0h1m1 0h1m3 0h1m2 0h1m-61 1h1m9 0h17m1 0h2m3 0h2m1 0h6m1 0h5m15 0h1m-58 1h2m3 0h5m2 0h7m1 0h2m2 0h2m2 0h7m1 0h6m-48 1h1m5 0h2m4 0h15m1 0h3m3 0h8m1 0h3m1 0h1m-47 1h1m5 0h18m10 0h1m2 0h11m-48 1h1m1 0h3m4 0h11m1 0h3m1 0h1m12 0h3m2 0h4m2 0h2m-51 1h1m3 0h3m1 0h15m16 0h2m1 0h5m2 0h3m-48 1h1m4 0h1m1 0h8m1 0h1m21 0h3m-41 1h1m1 0h1m1 0h13m22 0h2m3 0h3m-42 1h5m1 0h6m22 0h1m1 0h3m1 0h1m-41 1h3m1 0h2m1 0h4m23 0h1m1 0h1m2 0h4m-51 1h1m6 0h11m24 0h4m2 0h2m-43 1h10m24 0h1m1 0h2m1 0h3m2 0h1m-51 1h2m3 0h4m1 0h5m24 0h4m1 0h7m-52 1h2m1 0h1m3 0h6m27 0h3m3 0h4m2 0h1m-53 1h1m2 0h1m2 0h3m1 0h1m1 0h2m25 0h12m1 0h1m-48 1h3m2 0h3m25 0h2m1 0h2m1 0h4m1 0h2m1 0h2m-48 1h3m1 0h2m1 0h1m25 0h6m1 0h7m-47 1h8m24 0h13m-45 1h4m1 0h3m23 0h3m1 0h5m1 0h2m-42 1h1m2 0h4m21 0h3m1 0h6m1 0h2m-43 1h1m1 0h2m20 0h3m3 0h12m-33 1h1m14 0h1m5 0h10m1 0h2m-39 1h1m18 0h1m5 0h1m1 0h2m1 0h9m-41 1h1m22 0h1m4 0h1m7 0h3m-19 1h1m16 0h1m-26 1h1m6 0h1m-3 1h1m-9 1h4m2 0h1m5 0h1m-16 1h1m4 0h1m1 0h1m4 0h1m1 0h1m-24 1h1m9 0h2m1 0h3m3 0h1m-18 1h1m1 0h2m3 0h2m1 0h1m2 0h2m3 0h1m-19 1h2m1 0h1m1 0h1m1 0h1m1 0h2m1 0h1m11 0h1m-58 1h1m32 0h3m4 0h4m2 0h1m1 0h1m-16 1h1m9 0h1m3 0h1m5 0h2m-56 1h2m41 0h1m1 0h2m-4 1h1m-41 1h1"/>
</g>
<g transform="translate(149.40 1169.80) scale(3.8000 4.3242)"><use href="#seam"/></g>
<text x="544.8" y="1119.0" font-size="35" fill="#1a1a1a" text-anchor="middle" textLength="81.5" lengthAdjust="spacingAndGlyphs">med</text>
<rect x="982.0" y="1071.9" width="828.0" height="68.9" fill="#d9d9d9"/>
<rect x="982.0" y="1140.8" width="828.0" height="728.0" fill="#ebebeb"/>
<path d="M1182.8 1140.8v728.0M1410.8 1140.8v728.0M1638.8 1140.8v728.0M982.0 1169.8h828.0M982.0 1273.6h828.0M982.0 1377.4h828.0M982.0 1481.1h828.0M982.0 1584.9h828.0M982.0 1688.7h828.0M982.0 1792.5h828.0" stroke="#fff" stroke-width="4.45" fill="none"/>
<g transform="translate(1000.40 1169.80) scale(3.8000 4.3242)" fill="none" stroke-width="1" shape-rendering="crispEdges">
<path stroke="#440154" d="M202 58.5h1m-1 2h1m-2 1h1m-2 2h2m-2 1h1m-1 1h1m-2 1h2m-2 1h1m-1 4h1m-2 2h1m-2 1h2m-2 1h1m-1 1h1m-1 1h1m-193 1h1m190 0h1m-192 1h2m188 0h2m-191 1h1m0 1h1m184 0h1m-2 1h1m-184 1h1m180 0h2m-182 1h1m177 0h2m-180 1h2m175 0h2m-178 1h1m175 0h1m-177 1h1m173 0h1m-174 1h1m171 0h2m-174 1h1m171 0h1m-173 1h1m169 1h1m-1 1h1m-170 1h1m167 0h1m-168 1h1m166 0h1m-168 1h1m166 0h1m-168 1h2m164 0h1m-2 1h1m-165 1h1m162 0h1m-163 1h1m161 0h1m-2 1h1m-162 1h2m158 0h1m-160 1h1m158 0h1m-159 1h1m-1 1h1m0 1h1m0 1h1m152 0h1m-154 1h1m151 0h1m-152 1h1m150 0h1m-152 1h2m-1 1h2m-1 1h1m145 0h1m-146 1h1m142 0h2m-145 1h2m140 0h1m-141 1h1m138 0h1m-139 1h1m134 0h1m-136 1h1m134 0h1m-135 1h1m132 0h1m-134 1h1m131 0h1m-2 1h1m-132 1h1m-1 1h1m128 0h1m-2 1h1m-2 1h1m-2 1h1m-126 1h1m123 0h1m-125 1h1m122 0h1m-125 1h1m121 0h2m-129 1h2m2 0h1m121 0h1m-127 1h1m1 0h2m120 0h1m-2 1h1m-124 1h1m121 0h1m-123 1h2m-1 1h1m115 1h1m-115 1h1m111 0h2m-114 1h2m109 0h1m-110 1h1m107 0h1m-109 1h1m103 0h1m1 0h1m-106 1h1m100 0h2m-102 1h1m88 0h3m1 0h2m3 0h1m-99 1h1m86 0h1m6 0h1m2 0h1m-99 1h1m86 0h1m-88 1h1m60 0h4m15 0h5m3 0h1m-90 1h2m3 0h2m39 0h4m1 0h8m2 0h1m4 0h2m1 0h1m1 0h2m14 0h3m-90 1h1m1 0h1m43 0h1m9 0h1m3 0h2m10 0h4m-70 1h1m37 0h3m29 0h4m-78 1h1m3 0h1m36 0h2m-43 1h1m3 0h1m1 0h1m23 0h3m2 0h3m1 0h3m-34 1h2m1 0h1m13 0h3m1 0h1m3 0h1m1 0h1m-13 1h2m-12 1h1m8 0h1m-10 1h1m5 0h3m-8 1h2m1 0h3"/>
<path stroke="#460a5d" d="M175 12.5h1m-129 61h1m-36 4h1m3 4h1m-6 1h1m1 0h1m-3 1h1m-2 5h1m10 5h1m1 0h1m-2 1h1m0 8h1m-2 2h1m0 3h1m-1 1h2m16 0h1m-10 3h1m-3 1h1m120 3h1m-47 7h1m-1 1h1m-35 1h1m26 0h1m11 0h1m-56 1h1m15 0h1m29 1h1m7 0h1m4 3h1m-54 1h1m40 3h1m-2 1h1m6 0h1m-5 1h1m-9 2h1"/>
<path stroke="#481467" d="M165 3.5h1m33 58h1m-14 2h1m5 2h1m-129 11h1m-54 1h1m52 0h2m-55 1h1m-2 1h1m4 0h1m-8 1h1m6 0h2m-5 2h1m7 0h2m-9 1h1m5 0h1m-9 1h1m7 0h1m1 1h1m-3 1h1m1 0h1m-2 1h2m-4 1h1m1 1h1m6 0h1m-15 2h1m11 0h2m-6 1h1m41 0h1m-43 2h1m1 0h1m6 0h1m1 0h1m4 0h1m-23 3h1m9 0h1m9 0h1m-5 2h1m-8 1h1m14 0h1m-17 1h1m11 0h1m-14 1h1m1 0h1m1 0h1m8 0h3m-15 1h2m1 0h1m0 4h1m1 0h1m-7 2h1m76 11h1m0 2h1m-30 1h1m26 0h1m6 0h1m-7 1h1m10 0h1m-11 1h1m9 0h1m-57 1h1m14 0h1m11 0h1m17 0h1m13 0h1m-60 1h1m27 1h1m10 1h1m20 0h4m-57 1h2m39 0h1m13 0h2m-57 1h2m9 0h1m42 0h1m-53 1h1m30 0h2m4 0h1m6 0h1m2 0h1m1 0h1m1 0h1m2 0h1m-24 1h1m0 1h1m3 0h1"/>
<path stroke="#481c6e" d="M166 3.5h1m-2 2h2m-2 1h1m-17 2h1m48 59h1m-134 8h1m-52 1h1m48 0h1m-1 1h1m-52 1h1m51 0h1m-48 1h1m48 0h1m-54 1h1m-6 1h2m10 0h1m1 0h1m-9 1h1m-6 1h2m1 0h1m42 0h1m-45 2h1m23 3h1m-15 1h1m-1 1h1m5 0h1m-11 1h1m1 0h2m1 0h1m1 0h1m-12 1h2m47 0h1m-50 1h1m8 0h1m1 0h1m37 0h1m-25 1h1m25 0h1m-34 1h1m-15 1h1m1 1h1m1 1h1m1 0h2m3 0h1m4 0h1m-12 1h1m13 0h1m-21 1h2m15 0h1m2 0h1m-4 1h2m2 0h2m-5 1h1m3 0h1m1 0h1m-21 2h2m1 0h1m1 0h1m-5 1h3m-1 1h1m1 1h1m-5 1h1m0 1h1m7 2h1m1 1h1m117 3h1m-1 1h1m-102 2h1m1 0h1m53 2h1m15 1h1m-22 2h2m2 0h1m-33 1h1m2 0h1m29 0h1m1 0h1m1 0h1m-13 1h1m1 0h1m16 0h1m-48 1h1m2 0h2m6 0h1m11 0h1m6 0h1m6 0h2m2 0h2m3 0h1m2 0h1m-68 1h1m2 0h1m1 0h1m58 0h1m2 0h1m-58 1h1m18 0h1m12 0h1m17 0h1m2 0h1m5 0h1m-66 1h2m2 0h1m4 1h1m45 0h1m1 0h1m-52 1h1m33 0h1m1 0h1m13 0h1m3 0h1m1 0h1m6 0h1m-64 1h3m19 0h1m18 0h1m3 0h2m6 0h1m9 0h1m-66 1h1m33 0h1m6 0h2m14 0h1m-59 1h1m57 0h1m-59 1h1m44 0h1m4 0h1m-51 1h1m44 0h1m-5 2h1m-4 1h1"/>
<path stroke="#482576" d="M164 4.5h1m1 0h1m-18 2h1m14 0h1m-10 5h1m1 0h1m42 50h1m-9 1h1m-1 4h1m0 3h1m-129 5h1m1 1h1m-3 1h1m1 0h1m-62 2h1m69 0h1m-61 1h1m-8 1h1m2 0h1m-2 1h1m68 0h1m-64 1h1m2 1h1m13 0h1m151 0h1m-153 1h1m-22 1h1m37 0h1m25 0h1m-65 2h1m9 1h1m-6 2h1m9 0h1m28 0h1m-40 1h1m9 0h1m4 3h1m-19 1h1m4 0h1m3 0h1m16 0h1m18 0h1m-35 1h1m4 0h1m5 0h1m-14 1h1m7 0h1m-18 1h1m18 0h1m-11 1h1m8 0h2m-13 1h2m-7 1h1m3 0h2m5 0h1m10 1h1m-15 1h1m11 0h1m2 0h1m-17 1h1m10 0h1m5 2h1m-11 2h1m-8 1h1m-2 1h1m7 1h1m13 5h1m-1 1h1m6 0h1m-9 1h1m55 1h1m3 1h1m16 0h1m-16 1h1m-7 1h1m3 0h1m4 0h1m10 0h1m21 0h1m-73 1h1m26 0h1m-36 1h1m6 0h1m29 0h1m-28 1h1m17 0h1m11 0h1m1 0h2m1 0h1m8 1h1m-48 1h1m2 0h1m9 0h1m26 0h2m-59 1h1m2 0h1m56 0h1m-40 1h2m20 0h1m3 0h1m8 0h1m4 0h1m-34 1h1m32 0h1m1 0h2m-36 1h1m12 0h1m7 0h1m4 0h1m4 0h1m5 0h1m11 0h1m-87 1h1m20 0h1m37 0h1m6 0h1m-66 1h1m50 0h1m8 0h1m3 0h2m21 0h1m-74 1h1m35 0h1m29 0h1m-24 1h1m2 0h1m3 0h1m-42 1h1m15 0h1m12 1h1m31 0h1m-8 1h1m-25 1h1m-69 4h1"/>
<path stroke="#472d7b" d="M157 3.5h1m6 0h1m-15 4h1m11 2h1m1 1h1m9 5h1m25 45h1m-7 1h1m-10 2h1m7 3h1m-131 9h1m2 0h1m119 0h1m-177 1h1m5 2h1m49 0h2m-3 1h1m-56 1h1m9 0h1m25 0h1m-35 1h1m-4 1h2m8 0h1m-3 1h1m3 0h1m-9 1h1m7 0h1m50 1h1m-60 1h1m6 0h1m2 0h1m42 0h1m9 0h1m-60 1h1m1 0h1m-1 2h1m0 1h1m1 0h1m-5 2h1m1 0h1m1 0h1m-9 1h2m4 0h1m4 0h1m-12 1h1m43 0h1m6 0h1m-24 1h1m23 0h1m-45 1h1m1 0h1m14 0h1m44 1h1m-47 1h1m-13 2h1m5 0h1m-9 1h1m11 0h1m3 0h1m-20 1h1m6 0h1m79 0h1m-70 1h1m-21 1h1m93 0h1m-94 1h1m5 0h1m4 1h1m-10 1h1m18 0h1m-15 1h1m-3 1h1m16 1h1m0 3h1m107 1h1m-3 1h1m2 0h1m-100 2h1m64 3h1m-49 1h1m-2 1h1m27 0h1m9 0h1m35 0h1m-34 1h1m8 0h1m1 0h1m21 0h1m-70 1h1m28 0h1m4 0h1m5 0h1m26 0h2m-74 1h1m3 0h1m32 0h1m1 0h1m1 0h1m1 0h1m-49 1h1m47 0h1m4 0h1m2 0h1m-40 1h1m18 0h2m11 0h1m3 0h1m-67 1h1m54 0h1m1 0h1m1 0h1m4 0h3m6 0h1m-68 1h1m3 0h1m10 0h1m19 0h1m-33 1h1m14 0h1m17 0h2m1 0h1m-39 1h1m1 0h1m3 0h1m49 0h1m12 0h1m-68 1h1m14 0h1m5 0h1m43 0h1m-66 1h1m46 0h1m22 0h1m-37 1h1m11 0h1m2 0h1m5 0h1m3 0h1m-53 1h1m26 0h2m2 0h1m8 0h1m2 0h1m19 0h1m-64 1h1m65 0h1m-39 1h1m-28 2h1m26 0h1m5 1h1m-7 1h1m5 0h1m-6 1h1m-68 1h1"/>
<path stroke="#453581" d="M165 4.5h1m-2 1h1m-13 2h1m4 3h1m0 1h1m1 1h1m9 15h1m17 36h1m0 1h1m7 2h1m1 3h1m-134 4h1m-55 3h1m53 0h1m-51 1h1m49 0h1m-6 1h1m23 0h1m-68 2h1m60 0h1m-67 1h1m1 1h1m171 1h1m-155 1h1m17 0h1m-32 1h1m28 0h1m26 0h1m-9 1h1m-48 2h2m1 0h1m2 0h1m33 0h1m1 0h1m-51 1h1m12 0h1m40 0h1m-56 1h1m6 0h1m1 1h1m41 0h1m-41 1h1m3 0h1m-2 1h1m37 0h1m-40 1h1m-1 1h1m6 0h1m7 0h1m24 0h1m-41 1h1m8 0h1m3 0h1m3 0h1m-10 1h1m5 0h1m-8 1h1m6 0h1m-21 1h1m18 0h1m-14 1h1m1 0h1m-9 1h1m5 0h1m60 0h1m-46 1h1m59 0h1m23 0h1m-104 1h1m12 0h1m-17 2h1m5 0h1m1 0h1m7 0h1m-18 1h1m5 0h1m1 0h1m15 0h1m-19 1h1m7 0h1m-7 1h1m15 0h1m-12 2h1m10 2h1m-13 1h1m13 4h1m15 0h1m58 0h1m-70 1h1m-4 1h1m2 0h1m48 0h1m20 0h1m-1 1h1m-2 1h1m-67 1h1m18 0h1m46 0h1m-49 1h1m31 0h1m3 0h1m10 0h1m1 0h1m-68 1h1m16 0h1m30 0h1m10 0h1m-32 1h1m16 0h1m1 0h1m21 0h1m-69 1h1m1 0h1m56 0h1m7 0h1m-72 1h1m41 0h1m1 0h1m4 0h1m4 0h1m-45 1h1m21 0h1m13 0h1m7 0h1m-51 1h1m25 0h1m12 0h1m17 0h1m7 0h1m12 0h1m-52 1h2m9 0h1m9 0h1m5 0h1m14 0h2m-80 1h1m1 0h1m9 0h1m16 0h1m23 0h1m33 0h1m-36 1h1m14 0h1m-41 1h1m21 0h1m11 0h1m10 0h1m-61 1h1m45 0h1m3 0h1m3 0h1m-27 1h1m20 0h1m-22 1h1m12 0h1m2 0h1m0 1h1m17 0h2m6 0h1m-99 4h1m-1 1h1m-2 2h1"/>
<path stroke="#433d84" d="M152 6.5h1m10 2h1m10 5h1m-22 1h1m-5 16h1m42 34h1m5 2h1m-8 1h1m2 0h1m-182 7h1m0 1h1m49 0h1m8 0h1m-59 1h1m-6 1h1m34 0h1m-36 1h1m2 0h1m51 0h1m113 0h1m-172 1h1m3 0h1m44 0h1m23 0h1m-71 1h1m45 0h1m-48 1h1m6 0h1m-2 1h1m62 0h1m-64 1h1m1 0h1m-5 2h1m18 0h1m44 0h1m-67 1h1m2 1h1m1 1h1m11 1h1m-4 1h1m-11 1h1m10 0h1m34 0h1m-48 1h1m8 0h1m1 0h1m37 0h1m0 1h1m-31 1h1m27 0h1m-42 1h2m12 0h1m2 0h1m21 0h1m2 0h1m-49 2h1m3 0h1m-4 1h1m4 0h1m12 0h1m49 2h1m-66 1h1m6 0h1m1 0h1m76 0h1m-74 1h1m-16 1h2m6 1h1m85 1h1m1 0h1m-94 1h1m0 2h1m8 1h1m80 1h1m-71 1h1m-12 1h1m119 4h1m-104 1h1m100 0h1m-104 1h1m7 0h2m47 1h1m-54 1h1m52 0h1m0 1h1m9 0h1m38 0h1m-108 1h1m52 0h1m6 0h1m3 0h2m-4 1h1m-55 1h1m18 0h1m5 0h1m26 0h1m-26 2h1m26 0h1m10 0h1m-67 1h1m54 0h1m-56 1h1m9 0h1m8 0h1m3 0h1m2 0h1m14 0h1m4 0h1m22 0h1m-63 1h1m1 0h1m20 0h1m-32 1h1m3 0h1m30 0h1m7 0h1m18 0h1m-71 1h1m27 0h1m3 0h1m26 0h1m6 0h1m18 0h1m5 0h1m-83 1h1m19 0h1m6 0h1m1 0h1m15 0h2m5 0h1m10 0h1m17 0h2m-73 1h1m4 0h1m14 0h1m24 0h1m2 0h1m-46 1h1m1 0h1m3 0h1m10 0h1m14 0h2m-34 1h1m17 0h1m12 0h1m-70 3h1m73 0h1m-49 2h1m41 1h1m-68 1h1"/>
<path stroke="#404588" d="M163 4.5h1m3 0h1m-6 2h1m-12 1h1m5 2h1m5 0h1m8 2h1m3 0h1m-7 2h2m3 3h1m-27 4h1m38 16h1m9 25h1m-6 2h1m0 1h1m-6 1h1m4 0h1m-5 2h1m2 0h1m-131 1h1m130 0h1m-125 4h1m-23 2h1m-36 1h1m1 0h1m28 2h1m141 0h1m-178 1h1m53 0h1m11 0h1m-67 1h1m35 0h1m12 0h1m-45 1h1m2 0h1m-3 1h1m38 1h1m-41 1h1m173 0h1m-177 1h1m59 0h1m-54 1h1m20 0h1m9 0h1m1 0h1m13 0h2m7 1h1m-54 1h1m28 0h1m3 0h1m-30 1h1m7 0h1m23 0h1m5 0h1m-52 2h2m54 0h1m-58 1h1m16 0h1m31 0h1m-1 1h1m-29 1h1m8 0h1m17 0h1m-46 1h1m45 0h1m-41 1h1m13 0h1m1 0h1m-5 1h1m2 0h1m3 0h1m-27 1h1m19 0h1m1 0h1m47 1h1m-69 1h1m6 0h1m3 0h1m4 0h1m-13 1h1m14 0h1m1 0h1m-20 1h1m6 1h1m10 1h1m-10 1h1m1 0h1m6 1h1m-9 1h1m-8 1h1m6 0h1m82 0h1m-80 1h1m80 0h1m-87 3h1m18 4h1m-1 1h1m75 0h1m29 0h1m-102 1h1m71 0h1m-79 1h1m-1 1h1m5 0h1m17 0h1m28 1h1m20 0h1m-18 1h1m4 0h1m8 0h1m-48 2h1m41 0h1m30 0h1m-91 2h1m17 0h1m38 0h1m7 0h1m-16 1h1m1 0h2m-49 1h1m10 0h1m1 0h1m22 0h1m20 0h1m1 0h1m4 0h1m-72 1h1m5 0h1m2 0h1m9 0h1m1 0h1m5 0h1m35 0h1m9 0h1m-58 1h1m9 0h1m2 0h1m5 0h1m15 0h1m21 0h1m-70 1h1m10 0h2m7 0h1m3 0h1m58 0h1m-63 1h1m55 0h1m4 0h1m-71 1h1m1 0h1m10 0h1m13 0h1m25 0h1m11 0h2m-76 1h1m12 0h1m11 0h1m20 0h1m27 0h1m1 0h1m-89 1h1m21 0h1m34 0h1m2 0h1m-61 1h1m70 0h1m-60 1h1m35 0h2m10 0h1m29 0h1m-34 3h1m-4 1h1m-69 1h1m-1 2h1"/>
<path stroke="#3d4d8a" d="M163 3.5h1m-11 3h1m2 1h1m-8 2h1m11 0h1m-4 1h1m3 1h1m10 1h1m3 0h1m-3 1h1m-3 1h1m-26 17h1m44 30h1m-2 2h1m0 1h1m-4 1h1m-3 7h1m-175 1h1m55 0h2m-60 1h1m36 0h1m6 0h1m9 0h1m6 2h1m-59 1h1m66 0h1m103 1h1m-176 1h1m48 0h1m16 0h1m2 0h1m-1 1h1m-58 1h1m54 0h1m107 1h1m-164 1h1m27 0h1m25 0h1m-68 1h1m6 0h2m1 0h1m-6 1h1m37 0h1m127 0h2m-161 1h1m7 0h1m49 0h1m-69 1h1m1 0h1m-3 1h1m43 0h1m8 0h1m-54 1h1m52 0h1m7 0h1m-57 1h1m50 1h1m-52 1h1m14 0h1m-16 1h1m18 1h1m-23 1h1m11 0h1m-11 1h1m3 0h1m14 0h1m-19 1h1m5 0h1m3 0h1m13 0h1m43 0h1m-66 1h1m9 0h1m6 0h1m-21 1h1m85 0h1m-89 1h1m5 0h1m6 0h1m10 1h1m68 0h1m-72 3h1m-16 2h1m2 0h1m92 0h1m-88 1h1m1 0h1m-9 1h1m6 1h1m8 0h2m71 2h1m1 3h1m6 1h1m-72 1h1m96 0h1m-28 1h1m-74 2h1m21 0h1m26 0h1m-42 1h1m49 0h1m-55 1h1m25 0h1m20 0h1m41 0h1m-70 1h1m1 0h2m25 0h1m13 0h1m-49 1h1m4 0h1m24 0h1m10 0h1m6 0h1m-20 1h1m4 0h1m1 0h1m19 0h1m-71 1h1m20 0h1m10 0h1m9 0h1m6 0h1m11 0h1m-48 1h1m22 0h1m-21 1h1m13 0h2m2 0h1m5 0h1m10 0h1m17 0h1m-71 1h1m15 0h1m10 0h1m19 0h1m1 0h1m5 1h1m12 0h1m-66 1h1m76 0h1m-44 1h2m30 0h1m-63 2h1m2 0h1m4 0h1m21 0h1m33 0h1m1 0h1m6 0h1m1 0h1m-93 1h1m26 0h1m12 0h1m8 0h1m10 0h1m-48 1h1m10 0h1m24 0h1m-28 1h1m2 0h1m12 0h1m11 1h1m-27 1h1m27 0h1m1 0h1m2 0h1m-18 2h1m7 1h1m7 0h1"/>
<path stroke="#3a538b" d="M164 1.5h1m-7 4h1m16 5h2m-3 1h2m-24 2h2m17 1h1m0 1h1m-29 5h1m37 5h1m-24 1h1m0 6h1m38 28h1m-6 3h1m-9 1h2m3 0h1m-1 1h1m-2 1h1m-129 2h1m135 2h1m-2 1h1m-12 2h1m-116 2h1m-24 1h1m-43 1h1m66 0h1m6 0h1m-66 1h1m-3 1h2m63 0h1m-12 1h1m-46 2h1m29 0h1m132 0h1m-171 1h1m37 0h1m-40 1h1m17 0h1m17 0h1m2 0h1m125 1h1m-128 1h2m10 0h1m115 0h1m-118 1h1m8 1h1m-16 1h1m4 0h1m12 0h1m-13 1h1m1 0h1m19 0h1m-72 1h1m8 0h1m1 1h1m34 0h1m6 0h1m-52 1h1m1 0h1m42 0h1m24 0h1m-67 1h1m3 0h1m1 0h1m40 0h1m-39 1h1m28 0h1m9 0h1m-51 1h1m8 0h1m56 0h1m-63 1h1m6 0h1m53 0h1m-68 1h1m10 0h1m71 0h1m-82 2h1m13 1h1m50 0h1m18 0h1m-76 1h1m74 0h1m-83 1h1m8 0h1m4 0h1m-7 1h1m5 0h1m75 0h1m-70 1h1m-22 1h1m18 0h2m-1 1h1m74 0h1m-86 1h1m-1 1h1m-7 1h1m3 1h1m17 1h1m-2 2h1m1 0h1m102 0h1m1 0h1m-102 2h1m3 0h1m-10 1h1m8 0h1m48 2h1m34 0h1m-92 1h1m3 0h1m17 0h1m37 0h1m6 1h1m-62 1h1m19 0h1m77 0h1m-90 1h1m10 0h1m49 0h1m-74 1h1m24 0h1m4 0h1m43 0h1m17 0h1m-88 1h1m57 0h1m-57 1h1m8 0h1m3 0h1m6 0h1m15 0h2m-29 1h1m8 0h1m13 0h1m16 0h1m-51 1h1m16 0h2m2 0h1m6 0h1m14 0h1m-51 1h1m16 0h1m18 0h1m18 0h1m6 0h1m-54 1h1m8 0h1m2 0h1m5 0h1m11 0h1m1 0h1m15 0h1m3 0h1m7 0h1m7 0h1m10 0h1m-96 1h1m10 0h1m41 0h1m11 0h1m4 0h1m11 0h1m-83 1h1m23 0h1m41 0h1m7 0h1m-74 1h1m53 0h1m19 0h1m-1 1h1m9 0h1m-70 1h1m39 0h1m31 0h1m4 0h1m-33 1h1m4 0h1m-45 1h1m41 0h1m-15 2h1m6 0h1m-33 1h1m5 0h1m20 2h1"/>
<path stroke="#375b8d" d="M163 2.5h1m-6 1h1m4 4h1m-13 1h1m8 2h1m-5 3h1m-2 1h1m20 0h1m-6 10h1m11 0h1m-15 4h1m-17 1h1m-1 1h2m35 5h1m-101 6h1m110 19h1m-10 1h1m6 1h1m-7 3h1m-5 1h1m-1 2h1m-128 1h1m2 0h1m126 1h1m4 0h1m-128 1h1m121 0h1m-146 1h1m1 1h1m21 1h1m-61 1h1m38 0h1m11 0h1m11 1h1m4 0h1m3 0h1m-70 1h1m31 0h1m-3 1h1m17 0h1m15 0h1m2 0h1m-23 1h1m2 0h1m-18 1h1m18 0h1m9 0h1m1 0h1m-63 1h1m19 1h1m31 1h1m11 0h1m1 0h1m-29 1h1m1 0h1m-38 1h1m57 0h1m-22 1h1m5 1h1m9 0h2m9 0h1m-63 1h2m7 0h1m28 0h1m25 0h1m97 0h1m-136 1h1m8 0h1m4 1h1m-46 1h1m48 0h1m0 1h1m-3 1h1m-33 1h1m34 0h1m-52 2h1m5 1h1m16 0h1m25 0h1m34 0h1m-82 1h1m81 0h1m-80 1h1m6 0h1m8 0h1m68 0h1m1 0h1m-80 1h2m75 0h1m-76 2h1m-14 2h1m21 0h1m-17 1h1m5 1h1m13 0h1m65 1h1m-82 3h1m2 0h1m19 0h1m-10 1h2m-3 2h1m110 3h1m-87 1h1m-25 1h1m4 0h1m51 0h1m20 0h1m-54 1h1m32 0h1m19 0h1m-73 1h1m49 0h1m1 0h1m-31 1h1m29 0h1m1 0h1m16 0h1m-72 1h2m12 0h1m3 0h1m56 0h1m-50 1h1m2 0h1m12 0h1m10 0h1m9 0h1m-25 1h1m55 0h1m-66 1h1m40 0h1m19 0h1m-67 1h1m15 0h1m32 0h1m-49 1h1m15 0h1m10 0h2m1 0h1m6 0h1m10 0h1m-75 1h1m34 0h1m1 0h1m2 0h2m18 0h1m9 0h1m-68 1h1m15 0h1m13 0h1m1 0h1m6 0h1m4 0h1m7 0h1m16 0h1m2 0h2m-81 1h1m24 0h1m26 0h1m30 0h1m-50 1h2m45 0h1m-81 1h1m25 0h1m12 0h1m-40 1h1m8 0h1m58 0h1m11 0h1m-17 1h1m16 0h1m3 0h1m4 0h1m-96 1h1m27 0h1m30 0h1m17 0h1m-24 1h1m6 0h1m5 0h1m22 0h1m-82 1h1m46 2h1m-43 1h1m44 0h1m-2 2h1m1 0h1m-72 2h1"/>
<path stroke="#34618d" d="M163 5.5h1m-15 2h1m11 0h1m-9 2h1m5 0h2m-2 2h1m12 1h1m-1 4h1m-7 3h1m-24 3h1m17 9h1m2 5h1m-13 2h1m48 21h1m-10 1h1m1 0h1m-5 4h1m-126 1h1m-3 4h1m4 1h1m126 0h1m-141 3h2m8 0h1m-9 1h1m17 0h1m-21 1h1m5 0h1m15 0h1m-35 2h1m12 0h1m3 0h1m126 0h1m-169 4h1m53 0h1m111 0h1m-168 1h1m12 0h1m17 1h1m4 0h1m-40 1h2m168 1h1m-175 1h1m3 0h1m18 0h1m-11 1h1m34 0h1m7 0h1m5 0h1m10 1h1m-67 1h1m3 0h1m35 0h1m1 0h1m10 0h1m-38 1h1m32 0h1m-52 2h1m15 1h1m7 0h1m-22 1h1m67 0h1m-29 1h1m7 0h1m-45 1h1m7 1h1m-7 2h1m3 0h1m5 0h1m71 0h1m-82 2h1m14 0h1m-22 1h1m6 1h1m13 1h1m59 0h1m-69 2h1m11 0h1m66 2h1m-62 1h1m-11 3h1m74 0h1m-84 1h1m1 1h1m10 0h1m10 3h1m93 0h1m-100 1h1m6 0h1m39 0h1m4 0h1m14 0h1m2 0h1m-77 1h1m7 0h1m-8 1h1m69 0h1m-74 1h2m4 0h1m3 0h1m41 0h1m1 0h1m14 1h1m3 0h1m23 0h1m-29 2h1m2 0h1m1 0h1m-69 1h1m41 0h1m2 0h1m45 0h1m-85 1h1m8 0h1m12 0h1m61 0h1m-44 1h1m12 0h1m29 0h1m-69 1h1m31 0h1m29 0h1m-88 1h1m4 0h1m4 0h1m48 0h1m12 0h1m14 0h1m-63 1h1m48 0h1m-41 1h1m18 0h1m26 0h1m-37 1h1m27 0h1m2 0h1m12 0h2m-73 1h1m7 0h1m41 0h1m8 0h1m10 0h1m-19 1h1m6 0h1m5 0h1m3 0h1m-7 1h1m-84 1h1m61 0h1m19 0h1m-91 1h1m19 0h1m43 0h1m20 0h1m7 0h1m-59 1h1m10 0h1m11 0h1m4 0h1m5 0h1m4 0h1m16 0h1m-44 3h1m8 0h1m-64 1h1m1 0h1m58 0h1m-7 1h1"/>
<path stroke="#31688e" d="M156 3.5h1m-1 3h1m8 1h1m-18 2h1m-5 2h1m11 0h1m7 0h1m5 0h1m-28 1h1m11 0h1m15 0h1m-12 1h1m13 1h1m-16 1h1m15 0h2m-3 1h1m-8 1h1m11 3h1m4 4h1m-24 6h1m-36 1h1m-7 4h2m61 3h1m9 24h1m4 3h1m-7 4h1m-2 2h1m-128 2h1m2 0h1m119 0h1m-174 1h2m-6 1h1m36 0h1m26 2h1m1 0h1m2 0h1m1 0h1m-36 2h1m16 0h1m117 0h1m-175 1h1m51 0h1m3 0h1m-46 1h1m52 0h1m-39 1h1m-2 1h1m21 2h1m-41 1h1m3 0h1m14 0h1m26 0h1m17 0h1m100 0h1m-169 1h1m6 0h1m65 0h1m-25 1h1m-27 1h1m39 0h1m6 0h1m-57 1h1m7 0h1m34 0h1m8 0h1m-48 1h1m1 0h1m36 0h1m-42 1h1m27 0h1m-29 1h1m5 1h1m4 0h1m19 0h1m-44 1h1m2 0h1m14 0h1m3 0h1m-7 1h1m28 0h1m-32 1h1m-12 1h1m5 0h2m56 0h1m-64 1h1m88 1h1m-81 2h1m76 0h1m5 0h1m-71 1h1m56 0h1m8 1h1m-77 1h1m1 0h1m-6 1h1m4 0h1m8 0h1m68 0h1m3 0h1m-75 1h1m2 1h1m7 0h1m-29 2h1m7 0h1m-5 1h1m11 0h1m24 0h1m-42 1h1m19 0h1m-15 1h1m22 1h1m42 0h1m26 0h1m-66 1h1m58 0h1m34 0h1m-104 1h1m-2 1h1m11 0h1m59 0h1m14 0h1m1 0h1m11 0h1m-91 1h1m84 0h1m-98 1h1m23 0h1m35 0h1m40 0h1m-107 2h1m14 0h1m51 0h1m-50 1h1m36 0h1m9 0h1m18 0h1m-49 1h1m34 0h1m29 0h1m-82 1h1m25 0h1m2 0h2m1 0h1m-43 1h1m8 0h1m1 0h1m79 0h1m-93 1h1m9 0h1m26 0h1m3 0h1m9 0h1m-46 1h1m5 0h1m8 0h1m14 0h1m3 1h1m14 0h1m38 0h1m-98 1h1m19 0h1m17 0h1m2 0h1m19 0h1m-39 1h1m6 0h1m24 0h1m16 0h1m7 0h1m3 0h1m1 0h1m-71 1h1m18 0h1m19 0h1m14 0h1m-75 1h1m23 0h1m57 0h1m-76 1h1m21 0h1m38 0h1m5 0h1m-73 1h1m-4 1h1m41 0h1m14 0h1m-58 1h1m51 0h1m19 0h2m12 0h1m-25 1h1m20 0h1m-35 1h1m3 2h1m19 0h1m3 0h1m-32 1h1m19 1h1m-83 3h1"/>
<path stroke="#2e6e8e" d="M166 2.5h1m4 2h1m-21 2h1m9 2h1m-6 1h1m7 0h1m-15 1h1m12 0h1m-5 2h1m14 0h1m-18 1h1m18 0h1m-17 3h1m-110 35h1m148 11h1m-14 1h1m7 0h1m-132 3h1m129 0h1m-132 1h1m-3 1h1m136 0h1m-143 2h1m139 0h1m-128 1h1m116 1h1m-139 1h1m2 1h1m16 0h1m-53 1h1m55 1h1m5 0h1m-18 1h1m22 0h1m-77 1h1m40 0h1m9 0h1m127 0h1m-134 1h1m12 0h1m-39 3h1m27 0h1m-27 1h1m33 0h1m118 0h1m-130 1h1m128 0h1m1 0h1m-175 1h1m52 0h1m-16 1h2m10 0h1m23 0h1m1 0h1m-55 1h1m21 0h2m21 0h1m11 0h1m-56 1h1m33 0h1m10 0h1m-68 1h1m51 0h1m3 0h1m-40 1h1m24 0h1m1 0h1m-28 1h1m22 0h1m-36 1h1m10 0h1m60 1h1m1 0h1m-78 1h1m24 0h1m15 0h1m4 0h1m22 1h1m-65 1h1m42 0h1m2 0h1m-37 2h1m4 0h1m48 0h1m-55 3h1m0 1h1m71 0h1m-84 1h1m87 0h1m2 1h1m-73 1h1m-15 2h1m80 0h1m9 0h1m-90 1h1m92 1h1m-81 1h1m78 0h1m-88 2h1m48 1h1m24 0h1m-77 1h2m26 0h1m-16 1h1m5 0h1m79 2h1m-84 1h1m55 0h1m-52 1h1m53 0h1m9 0h1m-73 1h1m23 0h1m74 0h1m-95 1h1m38 0h1m10 0h1m5 0h1m8 1h1m8 0h1m-77 1h1m3 0h1m16 1h1m11 0h1m4 0h1m34 0h1m-54 1h1m12 0h1m37 0h1m2 0h1m-73 1h1m3 0h1m9 0h1m19 0h2m62 0h1m-68 1h1m-16 2h1m37 0h1m-61 1h1m9 0h1m22 0h1m7 0h1m1 0h1m38 0h1m6 0h1m-74 2h1m73 0h1m-72 1h1m8 0h1m7 0h1m48 0h2m-84 1h1m9 0h1m4 0h1m60 0h1m12 0h1m-64 1h1m47 0h1m-62 1h1m1 0h1m19 0h1m18 0h1m9 0h1m9 0h1m8 0h1m-32 1h1m12 0h1m6 0h2m-53 1h1m35 0h1m3 0h1m6 0h1m6 0h1m-38 1h1m8 2h1m0 1h1m2 0h1m11 0h1m-15 1h1"/>
<path stroke="#2b748e" d="M158 2.5h1m3 1h1m-7 1h1m11 1h1m-6 1h1m-9 4h1m5 0h1m9 0h1m-19 1h1m22 1h1m8 2h1m-13 1h1m-12 5h1m-14 1h1m10 10h1m-13 1h2m16 2h1m0 1h1m-16 1h1m30 1h1m-24 3h1m29 0h1m-7 23h1m11 0h1m-133 5h1m132 0h1m-131 3h1m-6 1h1m20 0h1m-74 1h1m174 0h1m4 0h1m-180 1h1m57 0h1m-61 1h1m168 0h1m6 0h1m-105 1h1m96 0h2m-113 1h1m9 1h1m-71 1h1m48 0h1m18 0h1m7 0h1m-19 1h1m6 0h1m-25 1h1m2 0h1m7 0h1m19 0h1m-50 1h1m22 0h1m-32 1h1m25 0h1m3 0h1m13 1h1m4 0h1m4 0h2m-10 1h1m5 1h1m107 0h1m-125 1h1m6 0h1m8 0h1m5 0h1m-27 1h1m13 0h1m4 0h1m-46 1h1m18 0h1m36 0h2m-57 1h1m43 0h1m1 0h1m-18 1h1m-2 1h1m-27 1h1m7 0h1m1 0h1m15 0h1m8 0h1m-38 1h1m10 0h1m19 0h1m9 0h1m-9 1h1m14 0h1m-59 1h1m63 0h1m19 0h1m-78 1h1m79 1h1m-89 1h1m11 0h1m53 0h1m-66 1h1m14 0h1m40 1h1m29 0h1m1 0h1m-89 1h1m83 0h1m-72 2h1m69 0h1m-74 1h1m-3 4h1m16 0h1m7 0h1m-27 1h1m3 0h1m2 1h1m10 1h1m-20 1h1m4 2h1m23 1h1m-1 1h1m46 0h1m39 0h1m-85 1h1m43 0h1m-58 1h1m52 0h1m-53 1h1m56 0h1m6 0h1m43 0h1m-107 1h1m11 0h1m18 1h2m-18 1h1m63 0h1m13 0h1m-54 1h1m-37 1h1m16 0h1m74 0h1m-93 1h1m44 0h2m-51 1h1m1 0h1m27 0h1m42 0h1m-3 1h1m13 0h1m-35 1h1m31 0h1m-82 1h1m50 0h1m5 0h1m-52 1h1m10 0h1m2 0h2m6 0h1m28 0h1m15 1h1m5 0h1m-81 1h1m4 0h1m12 0h1m18 0h1m11 0h1m6 0h1m17 0h1m-76 2h1m63 0h1m3 0h1m-30 1h1m-51 1h1m30 0h1m35 0h1m-51 1h1m51 1h1m-8 1h1m-1 1h1m-40 1h1m26 0h1m27 0h1"/>
<path stroke="#297b8e" d="M162 4.5h1m20 0h1m-37 3h1m5 1h1m8 0h1m-9 7h1m-3 1h1m26 2h1m-4 1h1m1 2h1m3 1h1m2 1h1m-2 2h1m-15 1h1m-12 4h1m-7 2h1m-33 2h1m28 1h1m14 1h1m-2 2h1m-64 6h1m97 15h1m-132 1h1m-3 5h1m128 0h1m-131 1h2m124 0h1m-116 1h1m118 0h1m-1 1h1m-2 1h1m-2 1h1m-128 1h1m-19 1h1m20 0h1m115 0h1m4 0h1m-144 2h1m15 0h2m123 0h1m-2 1h1m-175 1h1m40 0h1m7 0h1m17 0h1m-72 1h1m64 2h1m-56 1h1m32 0h1m2 0h1m5 0h1m19 1h1m-50 1h1m18 0h1m135 0h1m-155 1h1m13 0h1m137 0h1m-107 1h1m-62 1h1m45 0h1m118 0h1m-161 2h1m12 0h1m45 0h1m2 0h1m-73 1h1m3 1h1m41 0h1m4 0h1m-10 1h1m3 2h1m-23 1h1m20 0h1m33 1h1m-21 1h1m15 0h1m8 0h1m-70 1h1m12 0h1m57 0h1m-58 1h1m-4 2h1m17 0h1m-20 1h1m-21 2h1m22 1h1m1 0h1m-1 1h1m-11 1h1m79 1h1m0 2h1m-65 1h1m-28 2h2m27 0h1m-27 1h1m39 0h1m57 1h1m-11 1h1m-61 1h2m1 0h1m65 1h1m13 0h2m-80 1h1m92 0h1m-84 1h1m76 0h2m-105 1h1m14 0h1m43 0h1m19 0h1m17 0h1m-35 1h1m-35 1h1m45 0h1m24 0h1m-23 1h1m18 0h1m-55 1h1m28 0h1m1 1h1m-69 1h1m24 0h1m7 0h1m5 0h1m5 0h1m24 0h1m-35 1h1m56 0h1m-78 1h1m79 0h1m-55 1h1m29 0h1m14 0h1m-94 1h1m7 0h1m23 0h1m5 0h1m7 0h1m10 0h1m37 0h1m-97 1h1m15 0h1m8 0h1m33 0h1m3 0h1m-65 1h1m11 0h1m13 0h1m31 0h1m20 0h1m-63 1h1m11 0h1m58 0h1m-10 1h1m16 0h1m-69 1h1m50 0h1m-75 1h1m88 0h1m-81 1h1m66 0h1m-50 1h1m59 0h1m-100 1h1m34 0h1m-29 1h1m59 0h1m16 0h2m-28 1h1m-32 5h1"/>
<path stroke="#26818e" d="M155 3.5h1m2 1h1m-6 3h1m2 3h1m2 0h1m2 0h1m-3 1h1m-5 1h1m1 0h1m-17 1h1m9 1h1m2 1h1m17 1h1m-17 2h1m27 2h2m-38 2h1m31 0h1m0 4h2m-18 11h1m-2 1h1m18 0h1m-22 1h2m-114 1h2m131 0h1m-132 1h1m-3 1h1m18 19h1m125 0h1m-2 1h1m-4 5h1m4 0h1m-15 1h1m-134 1h1m13 0h1m119 0h1m-1 1h1m2 1h1m-131 1h1m-46 1h1m44 0h1m29 0h1m-40 2h1m2 0h1m16 0h1m1 0h1m7 0h1m3 0h1m-74 1h1m51 0h1m20 0h1m105 0h1m-144 2h1m5 0h1m8 0h1m-10 1h1m30 0h1m-12 1h1m-51 1h1m27 0h1m-1 1h1m26 0h1m1 0h1m1 0h1m-33 2h1m19 0h1m-21 1h1m-32 1h1m17 0h1m41 0h1m-51 1h1m7 0h1m-21 1h1m69 0h1m-14 1h1m-50 1h2m5 0h1m33 0h1m27 1h1m-50 1h1m-25 1h1m65 1h1m-23 1h1m1 1h1m20 0h1m-47 1h1m-15 2h1m73 0h2m-71 1h1m9 0h1m65 0h1m-78 1h1m79 0h1m-81 1h1m53 0h1m15 0h1m6 0h1m-5 1h1m3 0h1m-70 1h1m65 0h1m-63 1h1m1 0h1m66 0h1m-82 2h1m19 0h1m16 0h1m31 1h1m13 1h1m19 0h1m-85 1h1m64 0h1m-64 1h1m8 0h1m89 1h1m-125 1h1m5 0h1m18 2h1m16 0h1m51 0h1m-71 2h1m54 0h1m-35 1h1m-15 1h1m5 0h1m6 0h1m44 0h1m2 0h1m22 0h1m-99 1h1m2 0h1m6 0h1m7 0h1m7 0h1m-14 1h1m11 0h1m9 0h1m30 0h1m1 0h1m12 0h1m-70 1h1m15 0h1m-23 1h1m11 0h1m5 0h1m14 0h1m40 0h1m1 0h1m12 0h1m-73 1h1m11 0h1m15 0h1m20 0h1m-39 1h1m15 0h1m29 0h1m-64 2h1m5 0h1m11 0h2m39 0h1m-18 1h1m-32 1h1m6 0h1m9 0h1m47 0h1m-87 1h1m18 0h1m13 0h1m46 0h1m-38 1h1m11 0h1m3 0h1m32 0h1m-59 1h1m9 0h1m-52 1h1m32 1h1m5 0h1m49 0h1m-51 1h1m13 0h1m28 0h1m-34 1h1m7 1h1m7 0h1m1 0h1m12 0h1m-89 1h1m12 0h1m55 0h1m11 0h1m12 0h1m-31 1h1m-10 3h1m-60 2h1m73 0h1"/>
<path stroke="#24878e" d="M165 1.5h1m1 1h1m-13 2h1m1 0h1m24 0h1m-14 2h1m8 0h1m-19 1h1m-13 3h1m24 3h1m-14 2h1m5 1h1m16 0h1m-28 2h1m26 0h1m-12 1h1m-13 1h1m18 2h1m1 4h1m-13 1h1m-8 3h1m25 0h1m-39 2h1m-28 3h1m63 2h1m3 2h1m-139 1h1m107 0h1m-110 2h1m1 9h1m-5 1h1m148 6h1m0 1h1m-130 1h1m121 0h1m1 4h1m3 1h1m-134 2h1m2 0h1m5 0h1m120 0h1m-150 2h1m12 0h1m134 0h1m2 0h1m-136 1h1m1 2h2m117 0h1m-116 1h1m2 1h1m-14 2h1m-47 1h1m44 0h1m19 0h1m101 0h1m9 0h1m1 0h1m-179 1h1m160 0h1m9 0h1m-131 1h1m5 0h1m-14 1h1m26 0h1m106 0h1m-121 1h1m12 0h1m110 0h1m-164 1h2m163 0h1m-114 1h1m-54 1h1m-1 1h1m35 1h1m8 0h1m1 0h2m10 0h1m-66 1h1m12 0h1m23 0h1m32 0h1m94 0h2m-151 1h1m-3 1h1m4 0h1m17 0h1m7 0h1m7 0h1m-15 3h1m-18 1h1m4 0h1m-17 1h1m14 0h1m25 0h1m-36 1h1m9 1h1m22 0h1m2 0h1m15 0h1m-58 1h1m14 0h1m67 2h1m-28 2h1m-41 1h1m-7 1h1m44 1h1m-56 1h1m14 0h1m30 2h1m10 0h1m30 0h1m-84 2h1m34 0h1m-42 1h1m43 0h1m-47 1h1m94 0h1m-94 1h1m46 1h1m39 0h1m-41 1h1m61 0h1m12 0h1m-97 1h1m82 0h1m-94 1h1m16 0h1m66 0h1m6 0h1m-30 2h1m36 0h1m1 0h1m-104 1h1m25 0h1m37 0h1m3 0h1m-38 1h1m49 0h1m2 0h1m22 0h1m-27 1h1m21 0h1m-87 1h1m23 0h1m4 0h1m34 0h1m-69 1h1m1 0h1m1 0h1m78 0h1m-61 1h1m13 0h1m27 0h1m1 0h1m17 0h1m6 0h1m-82 1h1m12 0h1m34 0h1m25 0h1m-65 1h1m-28 1h1m25 0h1m8 0h1m50 0h1m-70 1h2m67 0h1m-90 1h1m31 0h1m19 0h1m8 0h1m26 0h1m9 0h2m-90 1h1m32 0h1m1 0h1m51 0h1m-87 1h1m81 0h1m-39 1h1m29 0h1m-73 1h1m8 0h1m8 0h1m7 0h1m27 0h1m-21 1h1m21 0h1m18 0h1m4 0h1m-56 1h1m-34 1h1m-23 1h1m23 0h1m15 0h1m16 0h1m27 1h1m13 0h1m-93 1h1m50 0h1m3 0h1m24 0h2m4 0h1m1 0h1m-49 2h1m41 0h1m-51 1h1m25 0h1m-9 1h1m28 0h1m-55 1h1m44 1h1m-50 2h1"/>
<path stroke="#228d8d" d="M159 2.5h1m1 3h1m-5 3h2m-9 1h1m26 1h1m-17 1h1m9 0h1m1 0h1m-33 2h1m35 0h1m-26 2h1m17 0h1m9 2h1m-28 2h1m5 1h1m-16 1h1m33 1h1m-6 1h1m-2 3h1m19 2h1m-66 1h1m32 1h1m-14 2h1m-24 1h1m33 0h1m-39 1h1m11 2h1m51 0h1m-133 3h1m37 3h1m-37 16h1m13 1h1m124 0h1m4 0h1m-151 1h1m20 1h1m127 1h1m-16 1h1m14 0h1m-15 1h1m-121 2h1m9 3h1m115 0h1m-142 1h1m137 1h1m8 0h1m-185 1h1m183 0h1m-111 1h1m-19 1h1m2 0h1m10 0h1m3 0h1m-74 1h1m36 0h1m24 0h2m-16 1h1m12 2h2m4 0h1m7 0h1m92 0h1m-139 1h1m21 0h1m-9 1h1m13 0h1m-11 1h1m127 0h1m4 0h1m-144 1h1m14 0h1m11 0h1m-11 2h1m1 0h1m11 0h1m3 2h1m-39 1h1m23 1h1m8 0h1m-58 1h1m13 0h1m18 0h1m5 1h1m-30 1h2m32 0h1m-37 1h1m-5 1h1m31 0h1m7 0h1m-23 1h1m-19 1h1m41 0h1m-41 1h2m29 1h1m16 1h1m-37 1h1m62 0h2m-7 1h1m1 0h1m2 1h1m5 1h1m-1 1h1m13 0h1m-89 1h1m2 0h1m36 1h1m41 0h1m-83 1h1m72 0h1m4 0h1m-95 1h1m93 0h1m-89 2h1m18 0h1m7 0h1m58 0h1m2 0h1m-47 1h1m9 0h1m19 0h1m8 0h1m4 1h1m-92 1h1m25 0h1m63 0h1m8 0h1m29 1h1m-119 1h1m11 1h1m14 0h1m66 0h1m4 0h1m-80 1h1m67 0h1m-75 1h1m21 0h1m54 0h2m13 0h1m-108 1h1m34 0h1m71 0h1m-85 1h1m51 0h1m11 0h1m3 0h1m-73 1h1m6 0h1m64 0h1m16 0h1m4 0h1m-98 1h1m11 0h1m2 0h1m16 0h1m32 0h1m38 0h1m-83 1h1m32 0h1m-24 1h1m6 0h1m8 0h1m50 0h1m-93 1h1m40 0h1m26 0h1m2 0h1m-70 1h1m18 0h1m7 0h1m39 0h1m-48 1h1m-26 1h1m44 0h1m27 1h1m13 0h2m-118 1h1m18 0h1m20 0h1m35 1h1m-22 1h1m21 0h1m42 0h1m-90 1h2m18 0h1m-33 2h1m30 0h1m13 0h1m9 0h1m-36 1h1m2 0h1m15 0h1m50 0h1m-98 1h1m1 0h1m20 1h1m7 0h1m4 0h1m12 0h1m-49 1h1m57 0h1m35 0h1m-74 1h1m46 0h1m-9 1h1m19 0h1m-26 1h1m1 2h1m-8 2h1"/>
<path stroke="#20938c" d="M170 3.5h1m1 2h1m-23 1h1m8 0h1m1 0h1m-8 1h1m24 0h1m-8 3h1m-8 1h1m-3 1h1m-10 1h1m-5 2h1m2 0h1m1 1h1m-5 1h1m22 0h1m-24 1h1m19 2h1m8 3h1m-21 5h1m-9 1h1m9 0h1m23 0h1m-41 1h1m2 1h1m9 1h1m-40 1h1m31 0h1m7 0h1m-10 1h1m-31 3h1m65 3h1m-86 5h1m98 13h1m-153 3h1m16 3h1m118 0h1m-124 1h1m122 0h1m10 1h1m-138 1h1m2 0h1m1 0h2m3 1h1m114 0h1m-114 1h1m125 0h1m-137 1h1m10 1h1m-5 1h1m-11 1h1m13 0h1m110 0h1m11 0h1m-138 1h1m3 0h1m-9 1h1m4 0h1m-44 1h1m-10 1h1m42 0h1m26 0h1m-25 1h1m129 0h1m-140 1h1m26 0h1m108 0h1m2 0h1m-103 1h1m3 2h1m-51 1h1m14 0h1m-28 1h1m7 0h1m30 0h1m-40 1h1m7 0h1m54 0h1m-14 1h1m13 0h1m-20 1h1m6 0h1m-51 1h1m-2 1h1m47 1h1m-44 2h1m6 0h2m30 0h1m18 0h1m-53 1h1m56 0h1m-75 1h1m9 0h1m14 0h1m39 1h1m18 0h1m-40 1h1m33 1h1m-36 1h1m41 2h1m-6 1h1m-29 2h1m43 1h1m5 0h1m-21 1h1m-75 1h1m4 0h1m18 0h1m53 0h1m5 0h1m3 0h1m1 0h1m-89 2h1m76 0h1m2 0h1m6 0h1m-83 1h1m18 1h1m62 1h1m43 0h1m-61 1h1m8 0h1m-62 1h1m32 0h1m-13 2h1m52 0h1m8 0h1m1 0h1m-87 1h1m11 0h1m8 1h1m46 0h1m32 0h1m-93 1h1m-4 1h1m7 0h1m55 0h1m-47 1h1m72 0h1m-84 1h1m7 0h1m-2 1h1m12 0h1m30 0h1m13 0h1m-61 1h1m74 0h1m-4 2h1m-91 1h1m11 0h1m15 0h1m47 0h1m-41 1h1m37 0h1m23 0h1m-123 1h1m23 2h1m49 0h1m10 0h1m21 0h1m-61 1h1m11 0h1m37 0h1m11 0h1m-93 1h1m45 0h1m-63 1h1m28 0h1m68 0h1m-59 1h1m9 0h1m5 0h1m3 0h1m37 0h1m13 0h1m-67 1h1m61 0h1m-28 1h1m11 0h1m-47 1h1m42 0h3m-8 1h1m-38 1h1m9 0h1m43 0h1m-37 1h1m6 2h1m6 0h1m-78 5h1"/>
<path stroke="#1f998a" d="M157 2.5h1m10 1h1m2 0h1m-11 1h1m10 0h1m-20 1h1m0 5h1m22 1h1m-17 1h1m3 0h1m6 1h1m-19 1h1m30 1h1m-1 2h1m-21 2h1m-28 1h1m4 1h1m42 0h1m-37 1h1m8 3h1m-3 1h1m4 1h1m5 1h1m-44 3h1m21 0h1m4 3h1m11 3h1m24 0h1m0 1h1m-8 2h1m-1 1h1m-130 2h1m-3 3h1m3 4h1m-4 1h1m-5 4h1m4 2h1m143 3h1m-1 4h1m-151 1h1m18 0h1m0 1h1m112 0h1m-115 1h2m8 0h1m-29 1h1m17 0h1m-19 1h1m18 0h1m-2 1h1m126 0h1m-127 1h1m121 0h1m-178 1h1m49 0h1m7 0h1m1 0h1m111 2h1m7 0h1m-138 1h1m119 0h1m9 1h1m-133 1h1m7 0h1m23 0h1m98 0h1m-140 1h1m5 0h1m4 0h1m22 0h1m5 0h1m-15 1h2m113 0h1m-141 1h1m1 0h1m8 0h1m10 0h1m110 0h1m-133 2h1m24 0h1m12 0h1m-60 1h1m51 0h1m-7 2h1m-9 1h1m115 0h1m-156 1h1m22 0h1m128 0h1m-126 1h1m-29 1h1m5 0h1m-17 1h1m79 1h1m-28 2h1m-52 2h1m25 0h1m54 0h1m-39 1h1m36 0h1m2 0h1m-14 2h1m19 0h1m-23 1h2m-12 1h1m29 0h1m4 0h2m-12 1h1m-59 1h1m36 0h1m29 0h1m-78 1h1m92 0h1m-93 1h1m16 0h1m56 0h1m7 1h1m-82 2h1m9 0h1m65 1h1m-82 1h1m10 0h1m73 0h1m-75 1h1m3 0h1m70 0h1m-63 1h1m53 0h1m0 1h1m-81 1h1m20 0h1m12 0h1m54 0h1m-88 1h1m19 0h2m-27 1h1m5 0h1m92 0h1m-57 1h1m4 0h1m46 0h1m-78 1h1m22 0h1m53 0h1m-79 1h1m66 0h1m13 0h1m-60 1h1m72 0h1m-96 1h1m72 0h1m31 0h1m-74 1h1m11 0h1m-2 1h1m7 0h2m-42 1h1m1 0h1m8 0h1m12 0h1m39 0h1m-71 1h1m4 0h1m33 0h1m48 0h1m4 0h1m-43 2h1m40 0h1m-81 1h1m7 1h1m34 1h1m26 0h1m4 0h1m10 0h1m-100 1h1m79 0h1m7 1h1m2 0h1m-81 1h1m46 0h1m33 0h1m-83 1h1m18 0h1m23 0h1m38 0h1m-114 1h1m17 0h1m7 0h1m1 0h1m8 0h1m1 0h1m64 0h1m-94 1h1m23 0h1m13 0h2m3 0h1m-52 1h1m99 0h1m-84 1h1m9 1h1m10 0h1m19 0h1m-51 1h1m30 0h1m1 0h1m24 0h1m-62 1h1m41 0h1m39 0h1m-61 1h1m12 0h1m0 4h1"/>
<path stroke="#1fa088" d="M163 1.5h1m6 3h1m-25 3h1m15 0h1m-16 1h2m5 0h1m9 0h1m-17 3h1m4 1h2m20 2h1m9 2h1m-49 1h1m20 1h1m23 0h1m3 0h1m-30 1h1m28 0h1m-6 1h1m-5 2h1m-7 1h1m2 0h1m3 0h1m-9 2h1m1 0h1m-28 1h1m18 2h1m-15 3h1m2 0h1m-33 2h1m28 0h1m37 1h1m-5 3h1m1 0h1m-136 2h1m108 0h1m27 0h1m-137 2h1m3 5h1m-7 1h1m0 2h1m6 1h1m-5 6h1m16 3h1m-4 2h1m-4 3h1m1 2h1m1 0h1m4 0h1m107 0h1m-3 1h1m8 0h1m3 1h1m-133 1h1m123 0h1m-139 1h1m0 1h1m14 0h1m129 0h1m-108 1h1m109 0h1m-143 1h1m7 0h2m17 0h1m-27 1h1m132 1h1m-178 1h1m45 0h1m18 0h1m-20 1h1m-15 1h1m14 0h1m122 0h1m6 0h1m-136 1h1m131 0h1m-2 1h1m5 0h1m-136 1h1m-32 2h1m31 0h1m31 0h1m-24 1h1m12 0h1m-63 1h1m41 0h1m2 0h1m7 0h1m12 0h1m-58 1h1m24 1h1m10 0h2m1 0h1m-36 1h1m1 0h1m15 0h1m34 0h1m-20 1h1m2 1h1m45 0h1m-57 1h2m17 0h1m-42 1h1m11 0h1m23 0h1m15 2h1m-9 1h1m12 0h1m-33 1h1m16 0h1m21 2h1m6 0h1m2 0h1m-46 1h1m48 0h1m-27 1h1m21 0h1m-28 1h1m27 0h1m-37 1h1m9 0h1m-51 1h1m78 0h1m-62 1h1m59 0h1m-81 1h1m76 0h1m8 0h1m-43 1h1m-17 1h1m26 0h1m-44 1h2m4 0h1m5 0h1m3 2h1m8 0h1m0 1h1m11 0h1m-39 1h1m89 0h1m-82 1h1m45 0h1m53 0h1m-45 1h1m-57 1h1m-22 1h1m1 0h1m91 0h1m19 0h1m-2 1h1m8 0h1m-96 1h1m43 0h1m12 0h1m8 0h1m12 0h1m-57 1h1m32 0h1m-56 1h1m7 0h1m56 0h1m17 0h1m-88 1h1m29 0h1m11 0h1m10 0h1m3 0h1m-66 1h1m32 0h1m7 0h2m61 0h1m1 0h1m-66 1h1m3 0h1m29 0h1m22 0h1m-81 1h1m56 0h1m15 0h1m13 0h1m-92 1h1m21 0h1m-23 1h1m60 0h1m14 0h1m-42 1h1m42 0h2m-83 1h1m29 0h1m6 0h1m47 2h1m-114 1h1m15 0h1m12 0h1m-29 1h1m39 0h1m5 0h1m13 0h1m29 0h1m17 1h1m-116 1h1m18 1h1m17 0h1m11 0h1m-26 1h1m22 0h1m19 0h1m32 0h1m-74 1h1m3 0h1m-26 1h1m21 0h1m8 0h1m22 0h1m12 0h1m19 0h2m1 0h1m-90 2h1m53 0h1m23 0h1m-78 1h1m69 0h1m4 1h1m-35 1h1m32 0h1m-3 1h1m-1 1h1"/>
<path stroke="#21a585" d="M161 3.5h1m-3 2h1m10 0h1m-17 1h1m2 0h1m-8 2h1m1 0h1m-9 1h1m2 0h1m24 0h1m-22 1h1m-8 2h1m7 0h1m4 0h1m21 0h1m-18 1h1m6 0h1m-13 3h1m9 0h1m16 2h1m-23 1h1m4 0h1m-17 1h1m13 0h1m16 0h1m-41 1h1m34 0h1m-9 2h1m-27 1h1m0 1h1m24 1h1m14 0h1m-18 1h1m1 2h1m17 1h1m-37 1h1m3 1h1m13 0h1m-45 1h1m63 2h1m-68 1h1m62 0h1m4 0h1m-137 6h1m-6 1h1m138 0h1m-137 2h1m-4 11h1m19 4h1m1 1h1m130 0h1m-145 1h1m120 1h1m-121 1h1m22 0h1m-21 2h1m9 0h1m4 0h1m110 0h1m6 0h1m-148 1h1m31 0h1m100 0h1m1 0h1m-136 1h1m2 0h1m6 0h3m4 0h1m-14 1h1m14 0h1m-3 1h1m3 0h1m121 0h1m-135 1h1m29 0h1m97 0h1m-122 1h1m2 0h1m6 1h1m1 0h1m-61 1h1m33 0h1m18 1h1m11 0h1m107 0h1m-9 1h1m1 0h1m1 0h1m1 0h1m-137 1h1m1 0h1m14 0h1m108 0h1m-130 2h1m129 0h1m-113 1h1m11 0h1m-10 1h1m-29 1h1m-6 1h1m30 0h1m-19 1h1m24 0h1m110 0h1m-107 1h1m-49 1h1m39 0h1m17 0h1m-57 1h1m6 0h1m31 0h1m3 0h1m-61 1h1m42 0h1m30 0h1m-46 1h1m15 1h1m8 0h1m15 0h1m-52 1h1m17 0h1m16 0h1m-5 1h1m-37 1h1m41 0h1m8 0h1m16 0h1m-82 1h1m26 1h1m11 0h1m34 1h1m9 0h1m-41 1h1m24 1h1m16 0h2m-2 2h1m-30 2h1m23 0h2m5 0h1m-78 1h1m1 0h1m72 2h1m-5 1h1m4 0h1m-4 1h1m2 1h1m-62 1h1m11 0h1m64 0h1m-44 1h1m35 0h1m-49 1h1m2 0h1m55 1h1m-10 1h2m-48 1h1m49 0h1m10 0h1m1 0h1m-84 2h1m16 0h1m3 0h1m87 0h1m-103 1h1m13 0h1m29 0h1m2 0h1m29 0h1m-66 1h1m51 0h1m32 0h1m-98 2h1m6 0h1m30 0h1m-53 1h1m9 0h1m4 0h1m23 0h1m35 0h1m23 0h1m-98 1h1m20 0h1m20 0h1m28 0h1m28 0h1m-97 1h1m27 0h1m12 0h1m23 0h1m-47 1h1m14 0h1m8 1h1m54 0h1m-3 1h1m-99 1h1m40 0h1m9 1h1m-52 1h1m79 0h1m10 0h1m-94 1h1m2 0h1m88 0h1m-95 1h1m6 0h1m1 0h1m34 0h1m-45 1h1m4 0h2m27 0h1m1 0h1m-55 1h1m27 1h1m24 0h1m34 0h1m-87 1h1m10 0h1m18 0h1m13 0h1m21 0h1m19 0h1m16 0h1m-94 1h1m77 0h1m11 0h1m-78 1h1m54 0h1m-68 1h1m70 0h1m-80 1h1m41 0h1m3 0h1m48 0h1m-80 1h1m36 0h1m27 0h2m-77 1h1m48 0h1m14 0h1m14 0h1m-15 1h1m-24 1h1m29 1h1m-47 2h1m7 0h1m-16 2h1"/>
<path stroke="#25ac82" d="M160 2.5h1m3 0h1m-5 1h1m6 0h1m-8 3h1m5 0h2m14 0h1m-23 2h1m4 1h1m-17 1h1m28 1h1m-35 2h1m25 1h1m1 0h1m-25 2h1m15 2h1m3 0h1m-22 1h1m3 0h1m7 0h1m28 0h1m-39 1h1m5 0h1m9 0h1m21 0h1m-44 1h1m36 0h1m-32 1h1m15 4h1m-9 1h1m24 0h1m-59 2h1m24 0h1m11 0h1m3 0h1m-21 1h2m40 2h1m-28 2h1m25 1h1m-23 1h1m0 1h1m20 0h1m-7 2h1m-133 1h1m101 0h1m-99 1h1m-2 1h1m-1 1h1m1 0h1m-3 1h1m-1 2h1m-5 1h1m7 2h1m-6 3h1m2 0h1m-8 3h1m144 2h1m-139 1h1m14 2h1m-13 1h1m14 0h1m-25 1h1m129 0h1m2 0h1m-112 1h1m-8 2h1m9 0h1m108 0h1m-106 2h1m-4 1h1m116 0h1m3 0h1m-142 1h1m16 0h1m-9 1h1m8 1h1m10 1h1m98 0h1m13 0h1m-185 1h1m54 0h1m14 0h2m-12 1h1m-16 1h1m118 0h1m-128 1h1m18 0h1m5 0h1m-68 1h1m38 0h1m-1 1h1m8 0h1m11 0h1m125 0h1m-146 1h1m26 0h1m99 0h1m-127 1h2m8 0h1m7 0h1m8 0h1m4 0h1m103 0h1m-140 1h1m24 0h1m1 0h1m112 0h1m-133 1h1m8 0h1m10 0h1m106 0h1m-154 1h1m11 0h1m19 0h1m10 0h1m9 0h1m3 0h1m-42 1h1m-12 1h1m27 0h1m121 0h1m-169 1h1m24 0h1m-17 1h1m2 0h1m60 0h1m-57 1h1m21 0h1m22 0h1m7 0h1m-51 1h1m49 0h1m-55 1h1m61 0h1m-57 1h1m5 0h1m14 0h1m-19 1h1m29 0h1m-17 1h1m26 0h1m2 0h1m20 0h1m-27 1h1m27 1h1m-47 1h1m-26 1h1m55 0h1m-53 1h1m36 0h1m-23 1h1m14 1h1m-14 1h1m1 0h1m9 1h1m44 0h1m-85 1h1m69 0h1m6 0h1m-65 1h1m35 0h1m24 0h1m-41 1h1m36 0h1m7 1h1m-55 1h1m51 1h1m8 0h1m-60 1h1m52 1h1m-38 1h1m-46 1h1m5 0h1m15 0h1m17 0h1m43 0h2m-69 1h1m87 0h1m-101 1h1m7 0h1m36 0h1m40 0h1m2 0h1m11 0h1m-75 1h1m53 0h1m5 0h1m-92 2h1m73 0h1m2 0h1m10 0h1m27 0h1m-94 1h1m53 0h2m-50 1h1m53 0h1m24 0h1m-98 1h1m22 0h2m31 0h1m-47 1h1m23 0h1m20 1h1m-38 2h1m76 0h1m11 2h1m-7 1h1m-12 1h1m5 0h1m-74 1h1m5 0h1m-20 1h1m68 0h1m18 0h1m-109 3h1m15 0h1m29 0h1m-41 1h1m22 0h1m16 1h1m13 0h1m31 0h1m2 0h1m-81 1h1m6 0h1m19 0h1m23 0h1m-51 1h1m8 0h1m2 0h1m64 0h1m-83 1h1m15 0h1m12 0h1m47 0h1m-75 1h1m10 0h1m25 0h1m27 0h1m-61 1h1m18 0h1m32 0h1m-29 1h1m-14 1h1m8 3h1"/>
<path stroke="#2db27d" d="M165 2.5h1m7 2h1m-3 1h1m-17 2h1m3 0h1m21 0h1m-36 1h1m29 1h1m-26 2h1m-5 1h1m14 0h1m-8 1h1m7 0h1m-5 1h1m-2 1h1m0 1h1m11 1h1m1 0h1m-1 1h1m-36 1h1m1 0h1m14 0h1m23 0h1m7 0h1m-27 1h1m15 0h1m9 0h1m-47 3h1m1 0h1m32 0h1m0 1h1m2 1h1m2 0h1m-2 2h1m8 0h1m-63 1h1m50 0h1m-27 1h1m9 1h1m-14 2h1m14 1h1m-7 1h1m26 1h1m-1 1h1m-134 4h1m-2 5h1m-6 6h1m5 2h1m18 0h1m-19 4h1m15 0h1m-5 1h1m132 0h1m-131 1h1m3 1h1m-9 1h1m0 1h1m115 1h1m-120 1h1m-7 1h1m138 0h1m-119 2h1m-24 1h2m18 0h1m114 0h1m-2 1h1m-5 1h1m-140 1h1m6 0h2m2 0h1m13 1h1m-62 1h1m176 0h1m8 0h1m-144 1h1m6 0h1m17 0h1m-8 1h1m7 0h1m-23 1h1m9 0h1m123 0h1m-138 1h1m33 0h1m89 0h1m-137 2h1m144 0h1m-8 1h1m5 0h1m-164 1h1m21 0h1m132 0h1m-133 1h1m51 0h1m84 0h1m-2 1h1m-137 1h1m135 0h1m-159 1h1m29 0h1m14 0h1m-31 1h1m8 0h1m11 0h1m10 0h1m10 0h1m94 0h1m5 0h1m-155 1h1m23 0h1m28 0h1m-33 1h1m22 0h1m14 0h1m-10 1h1m-10 1h1m16 0h1m-52 1h1m5 0h1m43 0h1m26 0h1m-77 1h1m19 0h1m16 0h1m15 0h1m10 2h1m-46 1h1m-14 1h1m-27 1h1m82 1h2m13 0h1m-15 1h1m6 0h1m-61 1h1m5 0h1m3 0h1m42 0h1m9 0h1m-40 1h1m2 0h1m26 0h1m-44 1h1m17 1h1m18 0h1m-50 2h1m2 0h1m18 0h1m6 0h1m9 0h1m22 0h1m11 0h1m-88 1h1m25 0h1m44 0h1m-58 1h1m1 0h1m10 0h1m36 2h1m7 1h1m13 0h1m-82 1h1m18 0h1m20 0h1m75 0h2m-109 1h1m3 0h1m13 0h2m46 0h1m-87 1h1m11 0h1m17 0h1m63 0h1m25 0h1m-98 1h1m20 0h1m7 0h1m33 0h1m18 0h1m-92 1h1m69 0h1m5 0h1m5 0h1m28 0h1m-99 1h1m1 0h1m4 0h2m50 0h1m8 0h1m-99 1h1m31 0h1m13 1h1m59 0h1m7 0h1m-85 1h1m3 0h1m1 0h1m84 0h1m-37 1h1m-45 1h1m-17 1h1m25 0h1m-17 2h1m1 1h1m83 0h1m-61 1h1m45 1h1m10 0h1m-97 1h1m19 0h1m73 1h1m-55 2h1m-63 2h1m14 0h1m38 0h1m-18 1h1m15 0h1m33 0h1m-85 1h1m19 0h1m67 0h1m1 0h1m-48 1h1m39 0h1m-44 1h1m10 0h1m1 0h2m15 0h1m5 0h1m-46 1h1m-12 1h1m4 0h1m30 0h1m42 0h1m-89 1h1m29 0h1m17 0h2m-8 1h2m3 0h1m20 0h1m-38 1h1m31 1h1m-3 1h1m1 1h1m-45 1h1"/>
<path stroke="#35b779" d="M175 3.5h1m5 0h2m-29 2h1m-7 1h1m17 1h1m-1 1h1m6 0h1m-28 2h1m7 1h1m14 0h1m10 0h1m-1 1h1m4 1h1m-28 3h1m-9 1h1m6 0h1m8 0h1m8 0h1m-27 1h1m31 0h1m-33 1h1m5 2h1m25 0h1m-38 1h1m27 1h1m14 0h1m-20 4h1m-15 1h1m13 1h1m23 0h1m-24 1h1m-16 1h1m1 1h1m-109 3h1m110 0h1m-37 1h1m26 1h1m8 0h1m-109 1h1m1 1h1m97 0h1m13 0h1m19 1h1m3 1h1m1 0h1m-5 1h1m-136 1h1m-2 2h1m3 0h1m-1 4h1m-6 1h1m1 1h1m3 0h1m-3 4h1m13 3h1m-7 1h1m-14 1h1m9 0h2m14 1h1m119 0h1m-139 1h1m12 0h2m109 0h1m14 0h1m-131 1h1m2 0h1m-1 1h1m11 0h1m114 0h2m-118 1h1m115 0h1m-136 1h1m122 0h1m-136 1h1m1 0h3m134 0h1m-134 1h1m10 0h1m1 0h1m5 0h1m-27 1h1m7 0h1m2 1h1m15 0h1m-12 1h2m-54 1h1m43 0h1m130 0h1m3 1h1m-182 1h1m175 0h1m-130 1h1m2 0h1m15 0h1m12 0h1m94 0h1m-136 1h1m1 0h1m123 0h1m-104 1h1m-66 1h1m42 0h1m3 0h1m27 0h1m90 0h1m19 0h1m-144 1h1m124 0h1m6 0h1m-121 1h1m20 0h1m101 0h1m-136 1h1m10 0h1m1 0h1m6 0h1m6 0h1m4 0h1m-22 1h1m-5 1h1m4 0h1m18 0h1m-9 1h1m-18 1h1m24 0h1m6 0h1m-57 2h1m8 0h1m27 0h1m18 0h1m88 0h1m1 0h1m-166 1h1m15 0h1m35 0h1m-13 1h1m21 0h1m5 0h1m4 0h1m-72 1h1m26 0h1m15 0h1m14 0h1m6 0h1m-22 1h1m4 0h1m24 0h1m5 0h1m15 0h2m-85 2h1m26 0h1m14 0h1m6 0h1m-4 1h1m0 1h1m10 0h1m16 0h1m-37 1h1m33 0h1m-16 1h1m3 0h1m8 0h1m-58 1h1m34 1h1m4 0h1m-25 2h1m14 0h1m10 0h1m40 1h1m-75 1h1m41 0h1m-21 1h1m3 0h1m45 0h1m-80 1h1m73 0h1m-75 2h2m32 0h1m33 0h1m-80 1h1m22 0h1m26 0h1m-26 1h1m47 0h1m-74 1h1m20 0h1m5 0h1m8 0h1m33 0h1m-79 1h1m44 0h1m6 0h1m4 0h1m-11 1h1m37 0h1m36 0h1m-122 1h1m42 0h1m74 1h1m-114 1h1m37 0h1m2 0h1m71 0h1m-116 1h1m43 0h1m61 0h1m11 0h1m5 1h1m-122 1h1m95 0h1m-101 1h1m112 0h2m-34 1h1m2 0h1m35 0h1m-25 1h1m4 0h1m-75 1h1m61 0h1m-34 1h1m-22 1h1m72 0h1m-92 1h1m3 1h1m85 0h1m6 1h1m-57 1h1m53 0h1m-101 1h1m86 0h1m2 0h1m7 2h1m-90 1h3m73 0h1m12 0h1m-100 1h1m-7 1h1m51 0h1m39 0h1m-62 2h1m4 0h1m-37 1h2m57 0h1m-55 1h1m10 0h1m58 0h1m5 0h1m-35 1h1m-6 1h1m16 0h1m12 0h1m-38 1h1m16 0h1m28 0h1m-80 1h1m48 0h1m27 0h1m-78 1h1m22 0h1m37 0h1m-40 1h1m1 1h1m-3 1h1"/>
<path stroke="#40bd72" d="M162 5.5h1m6 0h1m3 0h1m7 0h1m-27 1h1m-8 1h1m9 0h1m13 1h1m-20 2h1m11 0h1m-14 1h1m-11 1h1m35 0h1m-29 4h1m-13 2h1m3 0h1m9 0h1m21 0h1m-36 1h1m37 0h1m0 1h1m-29 1h1m1 0h1m5 0h1m13 0h1m-28 1h1m26 0h1m-28 1h1m5 1h1m26 0h1m2 0h1m-26 1h1m16 0h1m-29 2h1m12 0h1m24 0h1m-29 2h1m33 0h1m-29 3h1m27 2h1m-71 1h1m2 0h1m46 0h1m-121 1h1m71 0h1m38 1h1m24 0h1m-25 2h1m-12 1h1m40 0h2m-143 3h1m5 1h1m-3 1h1m-3 4h1m47 0h1m-50 1h2m-3 1h1m-2 2h1m2 0h1m0 3h1m-3 1h1m20 0h1m125 1h1m-139 1h2m10 1h1m-25 1h1m8 0h1m-10 1h1m10 0h1m8 0h2m-13 1h2m139 0h1m-17 1h1m-120 1h1m11 0h1m108 0h1m3 0h1m-140 1h1m7 0h1m15 0h1m-17 1h1m3 0h1m128 1h1m-140 1h1m131 0h1m-135 1h2m11 0h1m120 0h1m-134 2h1m23 0h1m105 0h1m10 0h2m-1 1h1m-9 1h1m6 2h1m-140 1h1m122 0h1m20 0h1m-21 1h1m5 0h1m-131 3h1m3 0h1m7 0h1m23 0h1m101 0h1m-131 1h1m2 1h1m22 1h1m-57 1h1m1 0h1m2 0h1m47 0h1m-60 1h1m20 0h1m1 0h1m34 0h1m-52 1h1m20 0h1m130 0h1m-115 1h1m17 0h1m-20 1h1m14 0h1m-37 1h1m6 0h1m126 0h1m-143 1h1m26 0h1m6 0h1m2 0h1m9 1h1m1 0h1m8 1h1m-24 2h1m14 0h1m3 0h1m1 0h1m-39 1h1m20 0h1m14 0h1m-16 1h1m19 0h1m-59 1h1m23 0h1m23 0h1m-24 1h1m18 1h1m30 0h1m-21 1h1m28 0h1m-42 2h1m27 0h1m2 0h2m-18 1h1m4 0h1m15 0h1m3 0h1m-87 1h1m12 0h1m35 0h1m15 1h1m-60 1h1m59 0h1m-36 1h1m8 0h1m52 0h1m-96 1h1m11 0h2m-10 1h1m11 0h1m4 0h1m65 0h1m-78 1h1m64 0h1m8 0h1m-86 1h1m24 0h1m12 0h1m23 0h1m10 0h1m-68 1h1m15 0h1m8 0h1m9 0h1m60 0h1m-89 1h1m88 0h1m-91 1h1m63 0h1m18 1h2m8 0h1m-1 1h1m-76 1h1m75 0h1m-82 2h1m12 0h1m5 0h1m36 0h1m-55 1h1m82 0h1m-94 1h1m4 0h1m-6 1h1m12 0h1m15 0h1m8 0h1m62 0h1m-88 2h1m22 0h1m52 0h1m5 0h1m-88 2h1m63 0h1m-81 1h1m16 0h1m1 0h1m33 0h1m-55 1h1m96 1h1m-52 1h1m-55 2h1m5 0h1m-11 1h1m7 0h1m14 0h1m-29 1h2m21 0h1m12 0h1m13 1h1m5 0h1m15 0h1m15 0h1m-87 1h1m12 0h1m46 0h3m17 0h1m16 0h1m-82 1h1m24 0h1m10 0h1m23 0h1m17 0h1m2 0h1m-7 1h1m-85 1h2m42 0h1m13 0h1m10 0h1m-46 1h1m28 0h1m7 0h1m11 0h1m-36 1h1m5 0h1m8 0h1m13 0h1m7 0h1m-55 1h1m38 0h1m-44 5h1m-9 5h1"/>
<path stroke="#4cc26c" d="M173 3.5h1m-15 1h1m9 0h1m-13 1h1m9 0h1m-11 2h1m6 0h1m13 0h1m-29 4h1m12 0h1m-14 1h1m-9 2h1m13 1h1m29 0h1m-25 1h1m-7 1h1m25 0h1m-5 1h1m2 1h1m3 0h1m-14 1h2m-23 1h1m2 0h1m24 0h2m6 0h1m-18 2h1m-31 1h1m33 1h1m-20 2h1m3 1h1m-32 2h1m34 0h1m22 0h1m-20 1h1m20 0h1m-70 2h1m33 0h1m13 1h1m19 0h1m-57 1h1m20 0h1m15 0h1m17 1h1m-24 1h1m-114 1h1m135 2h1m-135 4h1m1 0h1m1 1h1m-2 1h1m134 1h1m-133 2h1m-6 1h1m3 1h1m-3 2h1m-1 1h1m-4 2h1m10 2h1m5 0h2m-16 1h1m17 1h1m-12 1h1m9 1h1m125 0h1m-136 1h1m1 0h1m1 0h1m2 0h1m2 0h1m-17 1h1m9 0h1m7 0h1m108 0h1m-4 1h1m-129 3h1m17 0h1m5 0h2m102 0h1m-116 1h1m-7 1h1m9 0h1m114 0h1m-2 1h1m3 0h1m-135 1h1m123 0h1m1 1h1m8 0h1m-7 1h1m11 0h1m-117 1h1m97 1h1m0 1h1m9 0h1m-104 2h1m88 1h1m1 0h1m1 0h1m-111 1h1m1 1h1m10 0h1m107 0h2m-131 1h1m-15 1h1m33 0h1m-7 1h1m-16 1h1m6 1h1m-17 1h1m16 0h1m20 0h1m-57 1h1m15 0h1m64 0h1m67 0h2m-138 1h1m43 0h1m-48 1h1m43 0h1m-43 1h1m9 0h1m35 0h1m22 0h1m-12 1h1m11 0h1m-19 2h1m3 0h1m-20 1h1m20 1h1m3 0h2m-79 1h1m58 1h1m11 1h1m11 1h1m12 0h2m-84 1h1m52 0h1m8 1h1m20 0h1m-97 1h1m11 0h1m34 0h1m22 0h1m16 0h1m-88 1h1m8 0h1m33 1h1m47 0h1m-74 2h1m69 0h1m37 0h1m-96 1h1m42 0h1m3 0h1m7 0h1m1 0h1m41 0h1m-133 1h1m19 0h1m11 0h1m17 0h1m27 0h1m3 0h1m5 0h1m36 0h1m-82 1h1m9 0h1m40 0h1m-59 1h1m8 0h1m47 0h1m29 0h1m-108 1h1m1 0h1m20 0h1m79 0h1m-123 1h1m30 0h1m-10 1h1m98 0h1m-104 1h1m3 0h1m18 0h1m41 0h1m44 0h1m-73 1h1m64 0h1m-84 1h1m1 0h1m81 0h1m-118 1h1m34 0h1m12 0h1m30 0h1m14 0h1m10 0h1m-83 1h1m7 0h1m91 0h1m-127 1h1m17 0h1m17 0h1m11 0h1m-29 1h1m10 0h1m2 0h1m62 0h1m11 0h1m7 0h1m-86 1h1m-5 1h1m1 1h1m-12 1h1m17 0h1m77 0h1m-81 1h1m78 1h2m3 1h1m-26 2h1m-37 1h1m-36 1h1m29 0h1m-12 1h1m20 0h1m21 1h1m10 0h1m2 0h1m-54 1h1m-1 1h1m-43 1h1m0 1h1m4 0h1m12 0h1m22 0h1m32 0h1m18 0h1m-40 1h1m-21 1h1m5 0h1m30 0h1m-33 1h1m29 0h1m-32 1h1m22 0h1m4 0h2m4 0h1m1 0h1m-44 1h1"/>
<path stroke="#5ac864" d="M156 2.5h1m2 1h1m21 1h1m-26 1h1m18 0h1m-6 1h1m-4 1h1m-16 2h1m1 0h1m20 0h1m2 1h1m-11 2h1m13 0h1m-35 1h1m2 1h1m11 1h1m-1 1h1m-26 1h1m9 0h1m11 0h1m18 0h1m3 0h2m-31 1h1m12 0h1m4 0h1m-31 4h1m14 1h1m26 0h1m1 0h1m-27 1h1m18 0h1m5 0h1m-33 2h1m21 0h1m-23 1h1m10 0h1m-18 2h1m-21 3h1m-6 2h1m42 0h1m24 0h1m-141 1h1m138 1h1m-66 1h1m66 0h1m-42 2h1m36 0h1m-137 2h1m36 1h1m103 0h1m-142 2h1m-1 3h2m3 1h1m-9 4h1m-1 2h1m1 0h1m21 0h1m-18 2h1m-4 1h1m12 0h1m2 0h1m3 2h1m-17 1h1m10 0h1m127 0h1m-135 1h1m14 1h1m4 0h1m-23 1h1m2 1h1m5 1h1m6 1h2m1 0h2m-8 1h2m7 0h1m-27 3h1m10 0h1m122 0h1m-107 1h1m-74 1h1m-2 1h1m63 0h1m-21 1h1m24 0h1m5 0h1m-10 3h1m11 0h1m85 0h2m19 0h1m-127 2h1m122 0h1m-148 1h1m43 0h1m103 0h1m-135 1h1m130 0h1m1 0h1m-123 1h1m-2 1h1m-45 1h1m16 1h1m42 0h1m2 0h1m18 1h1m-45 2h1m117 0h1m1 0h1m-81 2h1m-67 1h1m18 0h1m21 0h1m13 0h1m-52 1h1m31 0h1m6 0h1m95 0h1m-132 1h1m42 0h1m-44 1h1m46 0h1m12 0h1m-32 1h1m1 0h1m4 0h1m3 0h1m-17 2h1m13 0h1m20 0h1m-64 2h1m41 0h1m-29 1h1m3 0h1m20 0h2m17 0h1m-1 1h1m-40 1h1m15 0h2m27 1h1m8 0h1m-8 1h1m-34 1h1m39 0h1m-43 1h1m2 0h1m2 0h1m-9 1h1m48 0h1m-86 1h1m1 0h1m45 0h1m23 0h1m-57 1h1m24 0h1m5 0h1m22 0h1m1 0h1m-63 1h1m28 0h1m78 0h1m-105 1h1m1 0h1m4 0h1m1 0h1m52 0h1m-86 1h1m58 0h1m51 0h1m-82 1h1m54 0h1m37 0h1m-17 1h1m-76 1h1m1 0h1m24 0h1m33 0h1m10 0h1m19 0h1m6 0h1m-99 1h1m3 0h1m1 1h1m44 0h1m-48 1h1m1 0h1m34 0h1m44 0h1m8 0h1m-39 2h1m-23 2h1m-10 1h1m67 0h1m-67 2h1m65 0h1m-110 3h2m100 2h1m-93 1h1m15 0h1m-43 1h1m51 1h1m8 0h1m-53 2h1m12 0h1m-2 1h1m28 0h1m13 0h1m20 0h1m13 0h1m-56 1h1m-6 1h1m14 0h1m10 0h1m-46 1h1m78 0h1m-87 1h1m43 0h1m11 0h1m8 0h1m-43 2h1m7 0h1m-10 1h2m7 0h1m-4 1h1m-39 2h1"/>
<path stroke="#67cc5c" d="M160 5.5h1m19 0h1m-23 1h1m14 0h1m2 0h1m-5 1h1m-15 2h1m-15 1h1m-2 1h1m1 1h1m-3 1h1m14 0h1m25 1h1m-45 2h1m28 1h1m11 0h1m-46 1h2m28 0h1m-19 1h1m-3 1h1m-7 1h1m5 0h1m23 0h1m2 0h1m0 1h2m-16 1h1m18 0h1m-31 1h1m31 1h1m-19 2h1m7 0h1m-6 1h1m24 0h1m-69 3h1m3 0h1m31 0h1m-38 1h1m23 0h1m-28 2h1m3 0h1m61 0h1m6 0h1m-144 1h1m101 0h1m18 0h1m20 0h1m-24 2h1m-16 1h1m4 1h2m7 0h1m15 0h1m6 0h1m-143 1h1m0 1h1m5 0h1m132 1h1m-141 1h1m41 0h1m-36 1h1m-7 1h1m51 1h1m-1 1h1m-54 1h1m5 1h1m-1 3h1m43 1h1m-27 2h1m1 0h1m-4 1h2m-20 2h1m-4 1h1m16 0h1m128 1h1m-138 1h2m-5 1h1m16 0h1m-25 1h1m18 0h1m3 0h1m2 0h1m-27 1h1m18 0h1m5 0h1m-18 1h1m13 0h1m-24 1h1m2 0h1m6 0h1m12 0h1m9 0h1m98 0h1m6 0h1m-141 1h1m12 0h1m10 0h1m-25 1h1m2 0h1m3 0h1m15 0h1m1 0h1m8 0h1m-12 1h1m3 0h1m2 0h2m-2 1h1m-26 1h1m3 0h1m1 1h2m15 0h1m-17 1h1m26 0h1m94 0h1m-173 1h1m50 0h1m13 0h1m5 0h1m7 0h1m102 0h2m-109 1h2m-39 1h1m7 0h1m138 0h1m-147 1h2m5 1h1m13 0h1m107 0h1m11 0h1m-138 1h1m34 0h1m85 0h1m5 0h1m3 1h1m-128 2h1m14 0h1m2 0h1m13 0h1m94 0h1m-138 1h1m-12 1h1m72 0h1m73 0h1m-159 1h1m22 0h1m11 0h1m120 0h1m-155 1h1m5 0h1m46 0h1m-36 1h1m1 0h1m1 1h1m27 0h1m-61 1h1m16 0h1m146 2h1m-148 1h1m42 0h1m-23 1h1m39 0h2m-7 1h1m-45 1h1m65 0h1m-37 1h1m6 0h1m-7 1h1m-14 1h1m45 0h1m-11 1h1m24 0h1m-85 1h1m20 1h1m49 0h1m4 0h1m-32 1h1m28 0h1m-71 1h1m20 0h1m6 0h1m7 0h1m3 0h1m14 1h1m9 0h1m8 0h1m-67 2h2m5 0h1m7 0h1m-14 1h1m20 0h1m36 0h1m-63 1h2m2 0h1m56 0h1m-84 1h1m21 1h1m16 1h1m32 0h1m52 0h1m-107 1h1m23 0h1m26 0h1m24 0h1m-90 1h1m9 0h1m6 0h1m6 0h1m24 0h1m13 0h1m34 0h2m-105 1h1m23 0h1m12 0h1m13 0h1m36 0h1m3 0h1m5 0h1m16 0h1m1 0h1m-120 1h1m6 0h2m80 0h1m13 0h1m-29 1h1m16 0h1m-4 2h1m13 0h1m-58 1h1m38 0h1m11 0h1m20 0h1m-80 1h1m45 0h1m28 0h1m-103 1h3m104 1h1m-97 1h1m44 0h1m43 0h1m-57 1h1m6 0h1m43 0h1m12 0h1m-100 1h1m37 1h1m1 0h1m37 0h1m7 0h1m15 0h1m-106 1h1m16 0h1m73 0h1m-110 1h1m16 0h1m1 0h1m100 0h1m-120 1h1m58 2h1m-50 1h1m102 0h1m-116 2h2m26 0h1m25 0h1m-26 1h1m-22 1h1m19 0h1m24 0h1m33 0h1m7 0h1m-36 1h1m5 0h1m19 0h1m-69 1h1m4 0h1m14 0h1m9 0h1m-44 1h1m82 0h1m-85 1h1m42 0h1m38 0h1m-76 1h1m40 0h1m8 2h2m15 0h1m-42 1h1m6 0h1m26 0h1m-54 1h1"/>
<path stroke="#77d153" d="M182 5.5h1m-8 2h1m-21 1h1m3 0h1m5 0h1m-15 1h1m-7 1h1m33 1h1m-16 1h1m2 0h1m-4 1h1m-26 1h1m28 1h1m-18 1h1m16 0h1m7 0h1m2 0h1m6 0h1m-44 1h1m10 0h1m8 0h1m1 0h1m-18 1h1m1 0h1m14 0h1m5 0h1m15 0h1m-28 1h1m14 1h1m4 0h1m2 0h2m-38 1h1m5 0h1m3 0h1m27 0h1m-32 1h1m16 0h1m16 0h1m-40 1h1m19 1h1m-28 1h1m17 0h1m3 0h1m20 0h1m-28 1h1m21 0h1m-15 1h1m15 1h1m-37 1h1m1 0h1m11 0h2m-35 1h1m22 0h1m14 0h1m-14 1h1m1 1h1m6 2h1m6 0h1m22 0h1m-9 2h1m-135 2h1m2 0h1m113 0h1m18 0h1m-137 1h1m42 2h1m60 0h1m27 0h1m1 1h1m6 0h1m-140 1h1m39 0h1m-41 3h1m36 1h1m-38 1h1m3 0h1m33 0h1m3 0h1m-44 1h1m4 1h1m0 2h1m39 0h1m-49 1h1m38 0h1m-35 1h1m19 0h2m-24 1h1m22 1h1m-17 1h1m5 0h1m4 0h1m-20 1h1m5 0h1m4 0h1m10 0h1m-4 1h1m3 0h1m1 1h2m9 0h1m-37 1h1m21 0h1m1 0h1m-15 1h1m3 0h2m128 0h1m-139 1h1m5 0h1m1 0h1m9 0h1m105 0h1m-133 1h1m14 0h1m8 0h1m-12 1h1m17 0h1m1 0h1m-12 1h1m3 1h1m4 1h1m-22 1h1m10 0h1m-8 2h1m8 0h1m5 0h1m111 0h1m-130 1h1m17 0h1m-28 1h1m23 0h1m3 0h1m116 0h1m-120 1h1m8 0h1m91 0h1m1 1h1m1 0h1m12 0h1m-112 1h1m86 0h1m-89 1h1m99 0h2m-143 1h1m45 1h1m-48 1h1m11 0h1m-1 1h2m12 0h1m114 0h1m1 0h1m-157 1h1m6 0h1m32 0h1m-32 1h1m35 0h1m2 0h1m-52 1h1m49 0h1m-39 1h1m-2 1h1m11 0h1m8 0h1m26 0h1m98 0h1m-97 1h1m2 0h1m89 0h1m-135 1h1m-3 1h1m134 0h1m-145 1h1m51 0h1m-16 1h1m1 0h1m22 0h1m-59 1h1m29 0h1m-36 1h1m1 0h1m53 0h1m16 0h1m-35 1h2m9 0h1m9 0h1m-67 1h1m53 0h1m-18 2h1m5 2h1m104 0h1m-125 1h1m18 1h1m29 0h1m21 1h1m-64 1h1m9 0h1m2 0h1m18 0h1m9 0h1m-54 1h1m64 0h1m10 0h1m-74 1h1m47 0h1m-55 1h1m29 0h1m8 0h1m-14 1h1m29 0h1m6 0h1m9 0h1m-47 1h1m58 0h1m-71 1h1m54 0h1m1 0h1m9 0h1m-83 1h1m61 0h1m-46 1h1m5 0h1m41 0h1m-32 1h1m-10 1h1m58 0h1m-74 1h1m23 0h2m11 0h1m43 0h1m7 0h1m-83 1h1m6 0h1m36 0h2m26 0h1m-96 1h1m29 0h1m27 0h1m13 0h1m32 0h1m-74 1h1m60 0h1m9 0h1m-40 1h1m10 0h1m32 1h1m-111 1h1m24 1h1m11 0h1m4 0h1m12 0h1m42 0h1m-97 1h1m107 0h1m1 1h1m-8 1h1m5 0h1m-65 1h1m39 0h1m-3 1h1m20 0h1m-14 2h1m4 0h1m-91 3h1m0 1h1m6 0h1m32 0h1m-62 2h1m19 0h1m39 0h1m1 0h1m-49 1h1m78 0h1m-73 1h1m2 0h1m79 0h1m-80 1h1m60 0h1m-82 1h1m13 0h1m9 0h1m31 0h2m-43 1h1m7 1h1m29 0h1m16 0h1m-68 1h1m9 0h1m41 0h1m-57 1h1m51 0h1m2 0h1m-56 1h2m19 0h1m30 0h1m-16 1h1m-40 1h1m5 0h1m18 2h1"/>
<path stroke="#89d548" d="M180 3.5h1m0 3h1m-5 1h1m-33 1h1m28 1h1m-23 1h1m30 0h1m-35 1h1m18 0h1m-8 2h1m-21 1h1m44 0h1m-16 2h1m-33 1h1m12 0h1m6 0h1m1 0h1m-3 1h1m25 0h1m-43 1h1m19 0h1m-21 1h1m11 0h1m18 0h1m-29 2h1m13 0h1m25 0h1m-36 1h1m9 0h1m15 0h1m-29 2h1m39 0h1m-46 1h1m16 2h2m17 1h1m-29 1h1m13 0h2m-44 1h1m30 0h2m-32 1h1m-3 1h1m25 1h1m16 1h1m-40 1h1m1 0h1m21 0h1m1 0h1m37 0h1m-144 1h1m1 0h1m100 0h2m12 0h1m-15 1h1m2 0h1m4 0h1m3 0h1m22 0h1m2 1h1m-36 1h1m6 1h1m30 0h1m-145 1h1m7 0h1m129 0h1m2 0h1m-142 2h1m45 1h1m-41 1h1m-7 1h1m4 0h2m-5 1h1m1 0h1m4 0h1m-5 1h1m2 0h1m35 0h1m-45 1h1m45 0h1m-40 1h1m42 1h1m-48 1h1m-3 1h1m5 1h1m-5 1h1m21 0h1m29 0h1m-51 1h1m122 0h1m-125 1h1m7 0h1m1 0h1m129 1h1m2 0h1m-138 1h1m2 0h1m3 0h1m-10 1h1m6 0h1m133 0h1m-137 1h3m20 0h1m-37 1h1m12 0h1m-6 1h1m3 0h1m15 0h1m103 0h2m17 0h1m-147 1h2m14 0h1m3 0h1m4 0h1m-25 1h1m4 0h1m20 0h1m102 0h1m-130 1h1m1 0h1m1 0h1m11 0h1m114 0h1m1 0h1m-136 1h1m27 0h1m106 0h1m-134 1h1m20 0h1m112 0h1m-131 1h1m13 0h1m9 0h1m104 0h1m-112 2h1m105 0h1m-133 1h1m32 1h1m-1 1h1m-13 1h1m5 0h1m7 1h1m-3 1h2m99 1h1m-131 1h1m31 0h1m104 0h1m-147 1h1m12 1h1m7 0h1m17 0h1m95 0h1m-151 1h1m39 0h2m-14 1h2m23 0h1m20 0h1m73 0h2m-151 1h1m12 0h1m20 0h1m42 0h1m-52 1h2m46 0h1m73 0h1m-100 1h1m-42 1h1m3 0h1m33 0h1m99 0h1m-134 1h1m45 0h1m1 1h1m89 0h1m-140 1h1m29 0h1m29 0h1m-60 1h1m38 0h2m11 0h1m17 0h1m1 0h1m-70 1h1m23 1h1m2 0h1m13 1h1m-13 1h1m13 0h1m7 0h1m-30 1h1m-8 1h1m-9 1h1m25 1h1m-7 1h1m4 0h1m-4 2h1m1 0h1m39 0h1m2 0h1m-89 1h1m40 0h1m19 0h1m3 0h1m-59 1h1m7 0h1m2 0h1m22 0h1m-24 1h1m14 0h1m22 0h1m8 0h2m-38 1h1m-9 1h1m19 0h1m10 0h1m16 1h1m21 0h1m11 0h1m-78 1h1m75 0h1m14 0h1m1 0h1m-117 1h1m4 0h1m68 0h1m-46 1h1m-11 1h1m54 0h1m11 0h1m-97 1h1m18 0h1m17 0h1m14 0h1m49 0h1m-94 1h1m29 0h1m2 0h1m7 0h1m1 0h1m37 0h1m23 0h1m1 0h1m3 0h1m-63 1h1m-21 1h1m2 0h1m48 1h1m35 0h1m2 1h1m-115 1h1m15 0h1m20 0h1m8 0h1m40 0h1m24 0h1m-79 1h1m18 0h1m53 0h1m-102 1h1m37 0h1m7 0h1m3 0h1m33 0h1m5 1h1m-77 2h2m84 0h1m-6 1h1m4 0h1m-9 1h2m9 0h1m-126 3h1m17 0h1m-2 1h1m-17 1h1m12 1h1m3 1h1m47 0h1m-58 1h1m81 0h1m7 0h1m-48 1h1m11 0h1m-48 1h1m13 0h1m5 0h1m52 0h1m17 0h1m-89 1h1m7 0h1m40 0h1m-59 1h1m9 0h1m10 0h1m10 0h1m25 0h1m20 0h1m-82 1h1m57 0h1m-53 1h1m17 0h1m19 0h1m2 0h1m30 0h1m2 0h1m-57 1h1m33 0h1m-57 1h1m2 0h1m24 0h1m49 0h1m-52 2h1m8 0h1m-10 1h1m0 2h1"/>
<path stroke="#98d83e" d="M162 1.5h1m-8 4h1m12 1h1m2 1h1m3 1h2m0 1h1m-9 1h1m4 0h1m-10 3h1m2 0h1m9 0h2m1 0h1m-38 1h1m-4 1h1m9 0h1m15 0h1m-30 1h1m29 1h1m9 0h1m1 1h1m-7 1h1m9 0h1m-33 1h1m8 1h1m18 1h1m3 0h1m-32 1h1m27 0h1m-37 1h1m28 0h1m-30 1h1m29 0h1m1 0h1m-16 1h1m13 0h1m6 2h1m-20 1h1m-3 2h1m24 0h1m-14 1h1m3 0h1m-30 1h1m1 0h1m-2 1h1m2 0h1m7 1h1m-114 1h1m74 1h1m68 0h1m-70 1h1m65 0h1m-140 1h1m115 0h1m-78 1h1m59 0h1m9 0h1m-110 1h1m136 0h1m-139 1h1m41 0h1m97 1h1m-140 1h1m39 0h1m4 1h1m-48 1h1m44 0h1m8 0h1m-46 1h1m29 1h1m11 0h1m-46 2h1m2 0h1m35 0h1m-45 2h1m37 0h1m-38 1h1m0 1h1m1 1h1m-4 1h1m22 1h2m-18 1h1m7 0h2m7 0h1m11 0h1m105 0h2m-138 1h1m7 0h1m10 0h1m120 0h1m-135 1h1m3 0h1m0 1h1m112 0h1m-130 1h1m22 0h2m-16 1h1m15 0h1m-16 1h1m18 0h1m97 0h1m-120 1h2m118 0h1m-130 1h1m9 0h1m121 1h1m3 0h1m-101 1h1m104 1h1m-135 1h1m13 0h1m11 0h1m3 0h1m-14 1h1m7 0h1m-2 1h1m6 0h1m-37 1h1m122 0h1m1 0h2m3 0h1m-3 1h1m-125 2h1m136 0h1m-1 1h1m-2 1h1m-152 1h1m42 1h1m-19 1h1m-25 1h1m17 2h1m2 0h2m22 0h1m-28 1h1m10 0h1m8 0h1m96 0h1m-140 2h1m9 0h1m46 0h1m5 0h1m-4 1h1m-50 1h1m46 0h1m1 0h1m-55 1h1m1 0h1m6 0h1m50 0h1m-59 1h1m41 0h1m-16 1h1m18 0h1m-45 1h1m21 0h1m2 0h1m15 0h1m21 0h1m-24 1h1m14 0h1m-74 1h1m40 0h1m-14 1h1m12 0h1m26 0h1m17 0h1m-51 1h1m12 0h1m-9 1h1m-25 1h1m1 0h1m8 0h2m21 0h1m-26 1h2m18 0h1m6 0h1m-39 1h1m3 0h1m20 0h1m43 0h2m-39 2h1m7 0h1m12 0h1m-39 2h1m24 0h1m8 0h1m-23 1h1m25 0h1m61 0h1m-123 1h1m29 0h1m29 0h1m65 0h1m-125 1h1m18 0h2m6 0h1m47 0h1m12 0h1m-57 1h1m74 0h1m20 0h1m-131 1h1m19 0h1m102 0h1m-114 1h1m1 0h1m60 0h1m10 0h1m1 0h1m26 0h1m-124 1h1m21 0h1m5 0h1m19 1h1m36 0h1m31 0h1m-50 1h1m16 0h1m15 0h1m10 0h1m12 0h1m-57 1h1m31 0h1m13 0h1m-69 1h1m4 0h1m30 0h1m4 0h1m12 0h1m3 0h1m12 0h1m9 0h1m-125 1h1m69 0h1m56 0h1m-131 1h1m40 0h1m25 0h1m15 0h1m36 0h1m-108 1h1m22 0h1m45 0h1m23 0h1m-107 1h1m109 0h1m-53 1h1m6 0h1m32 0h1m1 0h1m8 1h1m-11 1h1m19 0h1m-100 1h1m7 0h1m1 2h1m75 0h1m13 0h1m-110 3h1m6 0h1m-18 1h1m19 1h1m-23 1h1m6 1h1m56 0h1m-55 2h1m-9 1h1m12 0h1m75 0h1m-56 1h1m-36 1h1m21 2h2m14 0h1m-34 1h1m37 0h1m7 0h1m25 0h1m-5 2h1m-44 1h1m27 0h1m-20 2h1m-31 1h1m13 1h1"/>
<path stroke="#aadc32" d="M161 2.5h1m12 1h1m-15 1h1m13 0h1m5 0h1m-11 4h1m3 0h1m-29 1h1m8 0h1m0 5h1m3 0h3m-23 1h1m30 0h1m-16 1h1m13 0h1m1 1h1m13 0h1m-32 1h1m-20 1h1m7 0h1m-6 2h1m44 0h1m-37 1h1m6 0h1m-18 1h1m5 0h1m45 0h1m-9 1h1m3 0h1m-40 1h1m9 0h1m3 2h1m10 0h1m-3 1h1m-42 1h1m28 0h1m13 0h1m10 0h1m-33 1h1m5 1h2m7 0h1m3 0h1m4 0h1m-55 1h1m30 0h1m4 0h1m1 1h1m7 0h1m20 0h1m1 0h1m1 0h1m-34 1h1m-30 1h1m53 0h1m-18 1h1m-46 1h1m9 0h1m20 0h1m36 0h1m1 1h1m-12 1h1m2 0h1m-34 1h1m10 0h2m-109 2h1m135 0h1m-143 2h1m0 2h1m3 2h1m39 0h2m-48 1h1m57 0h1m-8 2h1m-49 1h1m1 1h1m-4 2h1m125 0h1m-129 3h1m10 0h1m11 0h1m-24 1h1m3 0h3m4 0h1m5 0h2m7 0h1m11 0h1m-33 1h2m1 0h1m5 0h1m24 1h1m-34 1h1m10 0h1m14 1h1m-31 1h2m5 0h1m17 1h1m110 0h1m-135 1h1m1 0h2m125 2h1m-130 1h1m26 0h2m98 1h1m-132 1h1m10 0h1m15 0h1m7 0h1m96 0h1m1 0h1m10 0h1m-142 1h1m1 0h1m123 0h1m-120 1h1m118 0h1m-128 1h1m23 0h1m105 0h1m-130 2h1m33 0h2m84 0h2m1 0h1m12 1h1m5 0h1m-5 1h1m3 0h1m-7 1h1m-151 1h1m148 0h1m-124 1h1m18 0h1m-60 1h1m10 0h1m6 0h2m1 0h1m12 0h1m46 0h1m-79 1h1m29 0h1m24 0h1m19 0h1m4 0h1m-68 1h1m40 0h1m12 0h1m80 0h1m-141 1h1m-8 1h1m61 0h2m83 1h1m-134 1h1m5 0h1m49 0h1m-10 1h1m-54 1h1m45 0h1m93 0h1m-93 1h1m3 0h1m5 1h4m3 0h1m10 1h1m-21 1h1m82 0h1m-159 1h1m80 0h1m-13 1h1m89 0h1m-116 1h1m10 0h1m12 0h1m14 0h1m-50 1h1m19 0h1m6 0h1m17 0h1m-26 1h1m6 0h1m-32 1h1m24 0h1m3 0h1m-27 1h1m1 0h1m42 0h1m76 0h1m-63 1h1m11 1h1m-64 1h1m10 0h1m4 0h1m17 0h1m-13 1h1m22 0h2m2 0h1m-62 1h1m1 0h1m9 0h1m4 0h1m-18 1h1m8 0h1m29 0h1m17 0h1m-48 1h1m21 0h1m73 0h1m-101 1h1m1 0h1m3 0h1m24 0h1m24 0h2m44 0h1m-81 1h1m4 0h2m35 0h1m13 0h1m-98 1h1m85 0h1m10 0h2m25 0h1m-120 1h1m13 0h2m4 0h1m-24 1h1m17 0h1m55 0h1m38 0h1m-114 1h1m24 0h2m1 0h1m38 0h1m2 0h1m-79 2h1m2 0h1m9 1h1m21 0h1m22 0h1m26 0h1m13 1h1m28 0h1m-130 1h1m54 0h1m12 0h1m31 0h1m1 0h1m13 0h1m1 0h1m1 0h1m-118 1h1m1 0h1m46 0h1m8 0h1m48 0h1m-73 1h1m56 0h1m30 0h1m-16 1h1m9 0h1m-66 1h1m8 0h1m33 0h1m4 0h1m-73 1h1m71 0h1m-92 1h1m83 0h1m10 0h2m-10 1h1m3 0h1m2 1h1m9 1h1m-6 3h1m-51 2h1m30 0h1m-73 1h1m2 1h1m11 0h1m69 0h1m-106 1h1m26 0h1m3 0h1m3 0h1m-17 1h1m-18 1h1m6 0h1m7 0h1m65 0h1m-73 1h1m12 0h1m4 0h1m28 0h1m15 0h1m2 0h1m5 0h1m-64 1h1m11 0h1m9 0h1m42 0h1m-45 1h1m53 0h1m-70 1h1m2 0h1m49 0h1m3 0h1m-78 2h1m64 0h1m-43 1h1m7 0h1m5 0h1m-29 1h1m15 1h1m-4 1h1m-1 1h1"/>
<path stroke="#bade28" d="M162 2.5h1m6 1h1m-2 1h1m7 1h1m-3 1h1m-1 1h1m5 0h1m-25 1h1m12 1h1m-23 2h1m18 0h1m13 2h1m-41 1h1m40 0h1m-34 1h1m13 0h1m21 0h1m-40 1h1m7 0h1m24 0h1m-19 2h1m2 0h1m-14 1h1m1 0h1m15 0h1m13 0h1m-43 1h1m7 0h1m8 0h1m12 0h1m-9 1h1m-26 1h1m19 0h1m1 0h1m-1 1h1m23 0h1m-38 1h1m26 0h1m-11 1h1m3 0h1m3 0h1m6 0h1m-33 1h1m5 0h1m13 0h1m1 0h1m12 1h1m-29 1h1m9 0h1m1 0h1m12 0h1m11 0h1m-10 1h1m8 0h1m-65 1h1m29 0h1m11 0h1m11 0h1m-19 2h1m14 0h1m9 0h1m-139 1h1m136 1h1m-62 1h1m37 0h1m28 0h1m-60 1h1m-85 1h1m1 0h1m81 0h1m15 1h1m38 0h1m-36 1h1m-5 2h1m35 0h2m1 0h1m-139 1h1m5 1h1m32 0h1m-40 2h1m4 2h1m2 0h1m-10 1h1m38 0h1m-40 2h1m55 1h1m-53 1h1m51 0h1m-32 1h1m-23 1h1m-5 2h1m32 0h1m22 0h1m-56 1h1m20 0h1m5 0h1m-19 1h1m14 0h1m-11 1h1m24 0h1m88 0h1m-93 1h1m-34 1h1m12 0h1m10 0h1m12 0h1m90 1h1m-126 1h1m-6 1h1m2 0h3m22 0h1m5 0h1m-36 1h1m27 0h1m4 0h1m-28 2h1m26 0h1m-10 1h1m-15 1h1m16 0h1m-3 1h1m1 0h1m4 0h1m-29 1h1m31 0h1m96 0h1m-101 1h1m6 0h1m10 0h1m80 0h1m12 0h1m-118 1h1m115 0h1m-135 1h1m119 0h1m7 0h1m6 0h1m1 0h1m-144 1h1m118 0h1m18 0h1m4 0h1m-106 1h1m90 0h1m1 0h1m-116 1h1m18 0h1m1 0h1m85 0h1m-105 1h1m97 0h1m-92 1h1m97 0h1m8 0h1m5 0h1m1 0h1m-154 2h1m41 0h1m2 0h1m-20 1h1m22 0h1m7 0h1m-54 1h1m28 0h1m15 0h1m-35 1h1m13 0h1m17 0h1m16 0h1m-67 1h1m63 0h1m72 0h1m-131 1h1m16 0h1m-25 1h1m-2 1h1m1 0h1m-26 1h1m25 0h1m47 0h1m7 0h1m-62 1h1m41 0h1m5 0h1m26 0h1m1 0h1m-74 1h1m61 0h1m8 0h1m-77 1h1m53 0h1m10 0h1m7 0h1m-40 1h1m9 0h1m16 1h1m8 0h1m7 0h1m-33 1h1m19 0h1m2 1h1m-47 1h2m32 0h1m15 0h1m67 0h1m-135 1h1m5 0h1m44 0h1m21 0h1m-54 1h1m24 0h1m0 1h1m6 0h1m24 0h1m-73 1h1m45 0h1m2 0h1m-29 1h1m25 0h1m26 0h1m-28 1h1m10 0h1m15 0h1m-26 1h1m22 0h1m8 0h1m-64 1h1m26 0h1m22 0h1m-80 1h1m18 0h1m22 0h1m86 0h1m-112 1h1m2 0h1m2 0h1m104 0h1m-69 1h1m23 0h1m-45 1h1m30 0h1m51 0h1m-117 1h1m37 0h1m13 0h1m5 0h1m13 0h1m5 0h1m11 0h1m-50 1h1m48 0h1m9 0h1m1 0h1m-69 1h1m23 0h1m16 0h1m30 0h1m-116 1h1m34 0h1m58 0h1m-59 1h1m25 0h1m4 0h1m5 0h1m8 0h1m29 0h1m7 0h1m-52 1h2m-4 1h1m28 0h1m-62 1h1m8 0h1m18 0h1m28 0h1m2 0h1m11 0h1m11 0h2m1 0h1m-131 1h1m1 0h1m10 0h1m20 0h1m11 0h2m49 0h1m8 0h1m1 0h1m-99 1h2m117 0h1m-130 1h1m52 0h1m48 0h1m-42 1h1m36 0h1m1 0h1m4 0h1m6 0h1m6 0h1m2 0h1m-109 2h1m3 0h1m89 0h1m-89 1h1m101 0h1m-25 1h1m-81 1h1m80 0h1m-89 3h1m99 0h1m-114 1h1m58 0h1m-55 1h1m-3 1h1m20 1h1m-15 1h1m84 0h1m-71 1h1m35 0h1m1 0h1m-52 1h1m-6 1h1m42 0h1m4 0h1m-41 1h1m12 0h1m1 0h1m-27 1h1m16 0h1m2 0h1m-16 1h1m26 0h1m62 0h1m-85 1h1m63 0h1m-68 1h1m37 0h1m2 0h1m-5 1h1m22 0h1m2 0h1m-66 1h1m5 0h1m18 0h1m-28 1h1m11 0h1m16 0h1m-4 1h1m-8 1h2m4 0h1m3 0h1"/>
<path stroke="#cde11d" d="M171 6.5h1m5 0h1m-10 1h1m4 0h1m-29 2h1m24 0h1m-26 2h1m5 1h1m18 0h1m11 1h1m-20 1h1m-25 1h1m6 0h1m2 0h1m7 0h1m-21 1h1m6 0h1m2 0h1m36 0h1m-38 1h1m22 0h1m-31 1h1m29 0h1m6 0h1m-41 2h1m15 0h2m-19 1h1m22 0h2m10 0h1m3 0h1m-45 1h1m7 0h1m12 1h1m36 0h1m-40 1h1m8 0h1m-8 1h2m4 0h1m-3 1h1m8 0h1m13 0h1m-31 2h1m34 0h1m2 1h1m2 1h1m-14 1h1m8 0h1m-16 1h1m13 0h2m-61 1h1m21 0h1m5 0h1m13 0h1m-37 1h1m22 0h1m-3 1h1m6 0h1m3 0h1m-40 1h1m28 0h1m14 0h1m12 0h1m-130 1h1m71 0h1m4 1h1m-83 1h1m103 0h1m29 1h1m-127 1h1m93 0h1m33 0h1m-93 1h1m-1 2h1m-45 1h1m139 0h1m-132 1h1m-2 1h1m47 1h1m-6 2h1m-25 3h1m-22 1h1m20 0h1m1 0h1m-5 1h1m-24 2h1m30 0h1m92 0h1m-124 1h1m23 0h1m-27 1h1m1 0h1m35 0h1m-35 1h1m143 0h1m-146 2h1m29 0h1m3 0h1m1 1h1m92 0h1m-111 1h1m7 0h1m-8 1h1m-23 2h1m133 0h1m1 1h1m-130 1h1m21 0h1m-27 1h1m19 0h1m116 0h1m-140 1h1m34 0h1m109 0h1m-148 1h1m2 0h1m8 0h1m25 0h1m101 0h1m-108 1h1m101 0h1m5 1h1m-121 2h1m111 1h1m-136 2h1m145 0h1m-107 2h1m10 0h1m79 0h1m-153 1h1m35 0h1m24 0h1m19 0h1m-83 1h1m43 0h1m14 0h2m14 0h1m-71 1h1m9 0h1m62 0h1m5 0h1m70 0h1m-87 1h1m-67 1h1m14 0h1m57 0h1m-65 1h1m64 1h1m9 1h1m-75 1h1m3 0h1m37 0h1m1 0h1m9 0h1m-9 1h1m9 0h1m80 0h1m-96 1h1m26 0h1m66 0h1m-71 1h1m-59 1h1m9 0h1m14 0h1m11 0h1m6 0h1m7 0h1m1 0h1m6 0h1m-62 1h1m23 0h1m21 0h1m10 0h1m-27 1h1m17 0h1m14 0h2m12 0h1m-80 2h1m15 0h1m4 0h1m22 0h1m-48 1h1m17 0h1m-18 1h1m2 0h1m25 0h1m14 0h1m-46 1h2m10 0h1m25 0h1m32 0h1m-65 2h1m29 0h1m-7 1h1m1 0h1m3 0h1m8 0h1m4 0h1m28 0h1m4 0h1m-69 1h1m4 0h1m2 0h1m1 0h1m1 0h1m9 0h1m2 0h1m39 0h1m5 0h1m-84 1h1m6 0h1m13 0h2m10 0h1m7 0h1m14 0h1m4 0h1m-73 1h1m33 0h2m27 0h1m-22 1h1m28 0h1m50 0h1m-88 1h1m86 0h1m-97 1h1m4 0h1m6 0h1m5 0h1m53 0h1m21 0h1m-84 1h1m27 0h1m13 0h1m20 0h1m-101 1h1m38 0h1m73 0h1m-83 1h1m5 0h1m4 0h1m43 0h1m12 0h1m8 0h1m12 0h1m-117 1h1m18 0h1m65 1h1m19 0h1m-120 1h1m34 0h1m8 0h1m32 0h1m12 0h1m8 0h1m15 0h1m16 0h1m-87 1h1m37 0h1m25 0h1m-65 1h1m44 0h1m-85 1h1m45 0h1m48 0h1m1 0h1m-100 1h1m53 0h1m9 0h1m59 0h1m-73 1h1m5 0h1m57 0h1m2 0h1m-109 1h1m22 0h1m17 0h1m61 1h1m-103 1h1m39 0h1m-38 1h1m-7 2h1m88 0h1m-90 1h1m5 0h1m81 0h1m-103 3h1m4 0h1m56 0h1m51 0h1m-102 1h1m99 0h1m-114 1h1m21 0h1m-21 1h1m5 0h1m42 0h1m-48 1h1m10 1h1m20 0h1m-24 2h1m32 0h1m11 0h1m38 0h1m-86 1h1m32 0h1m49 0h1m-89 1h1m3 0h1m23 1h1m40 0h1m-67 2h1m27 0h1m-32 1h1m6 0h1m23 0h1m4 2h1m-37 1h1m17 0h1m5 0h1m-15 5h1"/>
<path stroke="#dde318" d="M168 2.5h1m2 7h1m1 1h1m9 2h1m-39 2h1m2 0h1m19 0h2m-23 1h1m21 0h1m9 0h1m-41 1h1m18 1h1m-20 1h1m36 0h1m3 1h1m-50 2h1m34 0h1m1 0h1m-17 1h1m12 0h1m2 0h1m16 0h1m-4 1h1m-46 1h1m9 0h1m10 0h1m29 1h1m-18 1h1m2 1h1m4 0h1m5 0h1m4 0h1m-63 1h1m6 0h1m21 0h1m15 0h1m7 0h1m-17 1h1m16 0h1m-54 2h1m16 0h1m18 1h1m9 0h1m12 0h1m-10 1h1m7 0h1m1 0h1m-4 2h1m-137 1h1m110 0h1m6 0h1m-13 1h1m-4 3h1m6 1h1m29 0h1m-31 1h1m21 1h1m-83 1h1m-9 1h1m11 0h1m-56 1h1m45 1h1m0 1h1m-9 1h1m-15 3h1m20 1h1m-44 2h1m41 0h1m82 0h1m-109 1h1m7 0h1m24 0h1m74 0h1m-103 1h1m-18 2h1m119 0h1m18 0h1m-134 1h1m-1 1h1m-13 2h1m29 0h2m115 0h1m-130 1h1m6 0h1m-23 1h1m14 0h1m111 0h1m2 1h1m-6 2h1m-127 2h1m127 0h1m-122 1h1m25 3h1m12 0h1m76 0h1m-6 2h1m-103 3h1m18 0h1m85 1h1m-136 2h1m-1 1h1m23 0h1m22 0h1m-59 1h1m6 0h1m20 1h1m42 0h1m-74 1h1m11 0h1m2 0h1m59 0h1m-24 2h1m-30 1h1m49 0h1m-62 1h1m11 0h1m45 0h1m-52 3h1m54 0h1m1 0h1m-31 3h1m-30 1h1m2 0h1m40 0h1m7 0h1m-32 1h1m-18 1h1m40 0h1m8 0h1m-30 1h1m43 0h1m5 0h1m-41 1h1m-31 1h1m3 0h1m4 0h1m13 0h1m7 0h1m43 0h1m-78 1h1m11 0h1m-12 1h1m12 0h1m39 2h1m18 0h1m-82 1h1m13 0h1m27 0h1m19 2h1m21 0h1m26 0h1m12 0h1m-99 1h1m18 0h1m-39 1h1m40 0h1m11 0h1m5 0h1m-54 1h1m23 0h1m-11 1h1m-40 1h1m94 0h1m2 0h1m12 0h1m-32 1h1m27 0h1m-108 1h1m69 0h1m-66 3h1m49 1h1m9 0h1m38 0h1m13 0h1m-54 1h1m-30 1h1m-21 1h1m-5 1h1m9 0h1m84 1h1m-92 1h1m-1 1h1m81 0h1m-42 4h1m0 2h1m-56 1h1m93 3h1m6 0h1m-51 1h1m4 0h1m-27 1h1m2 0h1m11 0h1m11 0h1m20 0h1m-38 1h1m-40 1h1m47 0h1m0 1h1m5 0h1m15 0h1m-36 1h1m-27 1h1m45 0h1m-22 1h1m-30 1h1m16 0h1m-20 1h1m12 3h1m-1 1h1m-5 1h1"/>
<path stroke="#fde725" d="M176 3.5h4m-5 1h5m-6 1h1m2 0h3m3 0h1m-12 1h1m2 0h1m3 0h2m2 0h2m-16 1h2m5 0h1m5 0h3m-18 1h3m1 0h1m5 0h8m-19 1h3m4 0h1m4 0h8m-39 1h1m18 0h3m1 0h1m8 0h4m1 0h2m-40 1h1m20 0h1m13 0h5m-40 1h1m1 0h2m16 0h1m2 0h1m11 0h1m2 0h3m-42 1h3m1 0h3m7 0h1m6 0h2m15 0h2m1 0h1m-44 1h1m2 0h2m1 0h2m6 0h2m5 0h4m9 0h4m1 0h2m-42 1h4m15 0h1m2 0h3m10 0h2m1 0h4m-49 1h2m4 0h3m2 0h1m2 0h1m4 0h1m6 0h1m2 0h2m3 0h1m7 0h1m2 0h3m-49 1h3m3 0h3m1 0h3m2 0h1m3 0h1m1 0h1m6 0h1m1 0h1m11 0h2m-45 1h3m5 0h1m1 0h5m5 0h1m7 0h2m6 0h1m5 0h1m-44 1h4m1 0h1m3 0h2m2 0h2m7 0h1m1 0h1m1 0h1m2 0h1m2 0h1m4 0h3m1 0h1m1 0h1m2 0h1m4 0h1m-53 1h6m2 0h1m1 0h2m2 0h1m1 0h1m10 0h1m4 0h2m2 0h3m6 0h1m-45 1h4m1 0h2m2 0h1m6 0h1m7 0h1m6 0h3m1 0h1m1 0h1m4 0h1m1 0h1m6 0h1m4 0h1m-57 1h5m1 0h1m1 0h2m5 0h1m5 0h1m2 0h1m1 0h1m2 0h4m1 0h2m1 0h2m2 0h1m2 0h1m6 0h1m3 0h1m1 0h1m-59 1h7m1 0h2m1 0h1m3 0h3m1 0h1m3 0h3m1 0h1m3 0h7m6 0h1m12 0h1m-58 1h6m1 0h2m1 0h2m1 0h1m3 0h1m3 0h6m3 0h8m1 0h1m1 0h1m2 0h2m3 0h1m6 0h4m-61 1h12m1 0h1m2 0h1m1 0h1m1 0h2m2 0h2m5 0h2m2 0h2m1 0h2m6 0h1m2 0h1m6 0h2m2 0h1m-61 1h14m3 0h5m2 0h2m4 0h2m1 0h2m8 0h2m2 0h2m6 0h7m-63 1h16m1 0h7m1 0h1m1 0h2m2 0h1m4 0h1m7 0h1m1 0h4m1 0h1m5 0h4m-60 1h5m1 0h13m1 0h3m2 0h2m1 0h1m8 0h1m3 0h2m1 0h4m1 0h1m5 0h5m-62 1h1m1 0h16m3 0h2m5 0h2m1 0h1m6 0h1m3 0h2m1 0h7m4 0h2m2 0h1m2 0h1m-63 1h17m9 0h1m1 0h2m11 0h10m1 0h5m3 0h1m1 0h2m-65 1h1m1 0h16m17 0h3m2 0h2m1 0h4m1 0h1m1 0h8m3 0h4m-70 1h2m1 0h1m1 0h18m12 0h1m4 0h2m1 0h3m1 0h1m1 0h2m2 0h1m2 0h6m5 0h3m-145 1h1m73 0h1m4 0h21m7 0h3m3 0h5m3 0h10m1 0h7m4 0h1m-144 1h3m73 0h8m1 0h16m5 0h1m1 0h3m4 0h2m4 0h16m-134 1h1m66 0h1m5 0h1m1 0h4m2 0h18m4 0h5m3 0h1m2 0h1m5 0h13m1 0h1m-135 1h2m65 0h3m3 0h1m1 0h1m1 0h1m1 0h2m2 0h17m4 0h6m1 0h2m6 0h12m10 0h1m-141 1h1m64 0h4m5 0h6m2 0h16m4 0h2m1 0h2m2 0h2m6 0h14m-135 1h1m4 0h2m62 0h6m1 0h6m1 0h18m1 0h1m4 0h4m1 0h3m4 0h16m4 0h1m3 0h1m-138 1h1m29 0h7m25 0h34m4 0h4m4 0h1m5 0h13m4 0h2m5 0h1m-144 1h1m5 0h1m27 0h6m1 0h2m24 0h33m6 0h4m5 0h18m6 0h2m-142 1h1m33 0h8m1 0h1m1 0h1m22 0h33m2 0h2m1 0h6m2 0h19m1 0h1m-102 1h7m1 0h1m3 0h2m20 0h45m1 0h22m1 0h2m-105 1h8m3 0h7m16 0h67m1 0h5m2 0h3m-112 1h9m1 0h1m1 0h7m8 0h2m2 0h81m-113 1h12m1 0h1m2 0h6m1 0h1m1 0h79m1 0h3m1 0h3m-112 1h13m1 0h7m2 0h79m5 0h5m-112 1h8m1 0h6m1 0h5m1 0h80m9 0h1m-139 1h1m4 0h1m21 0h7m3 0h3m4 0h2m1 0h4m1 0h77m-133 1h1m28 0h10m1 0h3m1 0h7m1 0h5m1 0h74m-105 1h17m2 0h4m1 0h80m-131 1h1m26 0h23m1 0h5m1 0h74m-105 1h12m1 0h8m1 0h1m1 0h6m1 0h73m-103 1h11m1 0h7m1 0h2m1 0h79m-102 1h1m1 0h100m-107 1h1m3 0h19m1 0h81m-106 1h1m4 0h2m1 0h3m1 0h20m3 0h72m-129 1h1m8 0h1m1 0h1m17 0h4m1 0h92m1 0h1m1 0h2m-130 1h1m14 0h1m11 0h10m1 0h93m14 0h4m-141 1h1m18 0h10m3 0h88m2 0h1m14 0h1m7 0h1m-153 1h3m24 0h8m2 0h93m-129 1h1m1 0h3m21 0h11m2 0h90m-130 1h1m2 0h2m22 0h4m2 0h1m1 0h1m1 0h92m22 0h1m-152 1h2m1 0h2m22 0h4m3 0h4m1 0h90m-106 1h1m9 0h1m1 0h93m1 0h1m8 0h1m-142 1h1m2 0h3m3 0h1m26 0h96m1 0h1m5 0h1m-140 1h1m4 0h1m29 0h98m6 0h1m-104 1h97m-98 1h4m1 0h93m5 0h1m2 0h1m10 0h1m-118 1h101m3 0h2m8 0h1m-146 1h2m25 0h3m3 0h3m1 0h92m1 0h1m6 0h1m10 0h1m-150 1h1m8 0h1m15 0h1m2 0h4m6 0h93m17 0h1m-148 1h1m25 0h1m1 0h2m4 0h1m4 0h10m1 0h77m15 0h1m4 0h1m-146 1h1m7 0h1m16 0h1m1 0h1m7 0h87m1 0h1m17 0h1m-113 1h1m6 0h11m1 0h76m4 0h1m7 0h1m-138 1h1m33 0h3m1 0h82m1 0h3m3 0h1m1 0h1m1 0h1m6 0h1m1 0h3m-143 1h1m32 0h2m2 0h2m1 0h79m9 0h1m8 0h2m4 0h2m-138 1h1m10 0h2m19 0h82m8 0h1m9 0h1m-144 1h1m21 0h2m16 0h82m1 0h2m1 0h1m3 0h1m5 0h1m5 0h1m-122 1h1m14 0h1m1 0h1m3 0h61m1 0h21m1 0h1m15 0h1m-151 1h1m1 0h2m29 0h1m11 0h1m1 0h1m1 0h60m3 0h22m3 0h1m1 0h1m9 0h1m3 0h2m-157 1h3m1 0h3m12 0h1m18 0h1m8 0h1m3 0h9m1 0h46m8 0h2m1 0h22m2 0h2m1 0h1m-177 1h2m18 0h1m10 0h2m5 0h1m17 0h1m8 0h1m9 0h2m5 0h1m1 0h7m2 0h6m2 0h37m12 0h23m1 0h1m-156 1h1m11 0h2m2 0h3m14 0h1m29 0h1m1 0h9m1 0h2m1 0h4m1 0h33m16 0h25m-157 1h3m8 0h3m2 0h3m12 0h1m3 0h1m22 0h2m3 0h6m1 0h7m3 0h2m2 0h30m21 0h15m1 0h1m3 0h1m-156 1h3m9 0h1m4 0h4m38 0h1m3 0h5m1 0h5m1 0h2m1 0h2m1 0h33m22 0h14m2 0h1m-142 1h2m5 0h1m45 0h1m2 0h8m3 0h2m1 0h33m22 0h15m8 0h1m-144 1h2m1 0h1m31 0h1m14 0h3m1 0h5m1 0h37m23 0h14m9 0h1m-147 1h1m2 0h1m1 0h2m6 0h1m24 0h1m13 0h7m2 0h2m1 0h35m24 0h13m1 0h4m-142 1h3m2 0h1m7 0h2m24 0h3m11 0h5m3 0h1m1 0h11m2 0h23m24 0h18m1 0h1m-141 1h2m6 0h3m1 0h1m23 0h1m2 0h1m11 0h1m1 0h1m1 0h2m1 0h4m1 0h1m1 0h6m3 0h22m24 0h17m1 0h2m2 0h1m-138 1h1m1 0h6m25 0h6m9 0h1m4 0h3m2 0h8m4 0h18m27 0h15m1 0h4m-168 1h1m32 0h1m1 0h7m20 0h1m2 0h2m4 0h3m7 0h1m5 0h1m1 0h1m1 0h4m2 0h3m3 0h19m25 0h15m2 0h5m-134 1h1m1 0h5m20 0h4m2 0h1m2 0h2m3 0h1m7 0h1m2 0h2m4 0h1m2 0h3m1 0h1m2 0h19m24 0h22m-133 1h9m20 0h4m1 0h2m12 0h1m1 0h1m1 0h1m1 0h1m4 0h1m1 0h5m1 0h20m25 0h17m1 0h3m-133 1h9m23 0h1m10 0h1m3 0h1m10 0h3m1 0h2m1 0h23m23 0h22m-135 1h12m13 0h1m1 0h1m6 0h2m8 0h2m1 0h1m1 0h1m10 0h5m2 0h4m1 0h7m1 0h11m21 0h20m1 0h1m-134 1h2m1 0h10m5 0h1m5 0h4m1 0h2m1 0h1m2 0h2m7 0h2m3 0h2m8 0h2m3 0h27m19 0h21m1 0h1m-134 1h1m1 0h2m1 0h3m1 0h7m7 0h4m2 0h4m3 0h3m7 0h3m1 0h3m13 0h5m2 0h20m12 0h28m-134 1h4m3 0h2m1 0h3m5 0h1m2 0h1m1 0h5m2 0h5m2 0h1m9 0h8m12 0h1m2 0h11m1 0h12m11 0h28m-134 1h1m1 0h2m1 0h1m2 0h2m1 0h1m6 0h9m1 0h1m3 0h1m6 0h2m6 0h6m1 0h2m16 0h1m1 0h3m2 0h16m11 0h28m-132 1h1m1 0h2m2 0h1m1 0h1m2 0h3m4 0h8m8 0h1m3 0h1m4 0h7m23 0h7m3 0h11m10 0h25m1 0h1m-158 1h1m27 0h4m1 0h3m1 0h4m3 0h8m2 0h1m5 0h2m2 0h2m3 0h9m2 0h1m15 0h1m2 0h6m5 0h12m8 0h28m-130 1h2m1 0h1m1 0h2m1 0h6m2 0h4m1 0h4m5 0h1m5 0h2m3 0h6m1 0h1m2 0h1m3 0h1m16 0h2m1 0h2m5 0h13m6 0h29m-130 1h3m4 0h8m2 0h9m10 0h2m1 0h4m1 0h3m3 0h1m20 0h1m9 0h1m1 0h1m1 0h45m-128 1h1m5 0h6m2 0h3m4 0h1m5 0h2m2 0h3m2 0h1m4 0h5m2 0h5m4 0h1m2 0h1m12 0h2m1 0h1m1 0h5m1 0h43m-136 1h1m16 0h1m1 0h2m3 0h2m2 0h1m3 0h1m7 0h1m2 0h4m1 0h1m2 0h7m4 0h1m6 0h1m11 0h1m2 0h38m1 0h5m1 0h5m-137 1h1m1 0h1m9 0h1m4 0h1m10 0h4m6 0h1m2 0h3m1 0h1m1 0h3m3 0h10m2 0h1m3 0h1m1 0h1m1 0h1m11 0h44m1 0h1m1 0h4m-135 1h4m6 0h2m8 0h1m4 0h6m2 0h3m2 0h3m2 0h1m2 0h1m2 0h13m2 0h4m15 0h3m1 0h5m1 0h1m1 0h1m1 0h21m1 0h1m1 0h1m1 0h12m-135 1h4m6 0h1m10 0h1m5 0h5m1 0h2m2 0h1m1 0h3m1 0h1m1 0h4m1 0h13m3 0h1m3 0h1m17 0h5m1 0h3m2 0h12m1 0h2m1 0h5m1 0h1m1 0h1m2 0h1m1 0h4m1 0h2m-136 1h3m8 0h1m7 0h1m8 0h2m1 0h1m6 0h1m1 0h1m9 0h12m1 0h1m1 0h3m2 0h1m13 0h1m4 0h8m4 0h12m1 0h1m2 0h1m1 0h2m1 0h4m1 0h8m-134 1h3m16 0h1m1 0h2m2 0h3m11 0h3m1 0h1m4 0h2m2 0h11m3 0h3m1 0h1m10 0h2m6 0h7m2 0h1m2 0h8m1 0h1m1 0h3m1 0h1m1 0h2m2 0h1m2 0h7m-131 1h3m17 0h2m2 0h2m1 0h1m5 0h1m6 0h2m1 0h1m1 0h1m1 0h12m1 0h1m1 0h1m1 0h2m1 0h3m3 0h1m6 0h3m5 0h8m1 0h1m1 0h12m5 0h13m-131 1h1m2 0h2m10 0h1m6 0h1m2 0h2m1 0h2m4 0h1m7 0h1m1 0h2m3 0h13m2 0h8m3 0h1m1 0h1m5 0h2m1 0h1m3 0h5m7 0h7m2 0h1m6 0h4m1 0h7m-137 1h1m7 0h1m1 0h3m3 0h1m4 0h1m5 0h2m7 0h1m2 0h2m1 0h2m3 0h1m1 0h2m5 0h11m4 0h4m2 0h2m3 0h3m15 0h1m4 0h1m7 0h3m10 0h2m1 0h7m-136 1h2m6 0h7m6 0h1m12 0h1m1 0h1m2 0h1m3 0h1m3 0h1m1 0h6m1 0h13m1 0h7m3 0h1m3 0h1m21 0h1m4 0h1m1 0h2m13 0h5m1 0h1m-129 1h8m23 0h1m3 0h1m6 0h4m1 0h1m1 0h15m1 0h1m1 0h1m3 0h4m1 0h1m1 0h2m4 0h1m9 0h1m6 0h1m3 0h1m1 0h1m1 0h2m10 0h1m1 0h1m2 0h1m-133 1h2m1 0h1m1 0h9m30 0h1m2 0h5m1 0h1m1 0h4m1 0h11m7 0h1m2 0h2m1 0h2m2 0h2m8 0h2m1 0h1m2 0h1m1 0h1m7 0h1m14 0h1m-127 1h1m2 0h7m35 0h20m1 0h1m12 0h2m1 0h1m12 0h2m3 0h1m1 0h1m1 0h1m2 0h1m12 0h1m2 0h3m1 0h1m-132 1h1m2 0h1m1 0h1m2 0h3m2 0h1m33 0h5m3 0h1m1 0h12m30 0h2m4 0h3m16 0h2m1 0h3m-127 1h1m3 0h5m35 0h2m1 0h2m3 0h1m1 0h1m2 0h2m1 0h3m2 0h1m31 0h3m1 0h1m1 0h5m12 0h1m1 0h1m2 0h1m1 0h1m-129 1h10m44 0h1m7 0h1m39 0h2m1 0h4m1 0h1m9 0h1m5 0h1m-129 1h15m18 0h1m29 0h1m37 0h1m1 0h7m10 0h2m5 0h1m-128 1h15m1 0h1m1 0h1m11 0h1m1 0h1m34 0h1m34 0h3m1 0h2m14 0h2m-124 1h13m1 0h3m1 0h2m11 0h1m68 0h5m1 0h1m14 0h2m-121 1h12m1 0h4m82 0h7m14 0h2m-124 1h1m1 0h15m1 0h1m83 0h3m1 0h1m4 0h1m-111 1h13m1 0h2m83 0h3m1 0h2m14 0h1m-120 1h13m85 0h3m1 0h1m13 0h1m-119 1h2m1 0h10m88 0h1m12 0h2m-120 1h1m1 0h2m1 0h3m1 0h10m99 0h1m-118 1h4m1 0h2m3 0h7m-15 1h1m1 0h1m2 0h1m1 0h6m1 0h1m48 0h1m1 0h1m51 0h2m-116 1h3m1 0h3m3 0h2m48 0h2m50 0h2m-112 1h1m2 0h1m4 0h2m10 0h1m23 0h1m65 0h1m-111 1h1m2 0h2m4 0h2m12 0h2m21 0h1m1 0h1m1 0h1m7 0h1m1 0h1m-64 1h1m3 0h3m5 0h3m9 0h1m10 0h1m15 0h1m1 0h1m7 0h2m33 0h1m10 0h1m-105 1h3m5 0h2m1 0h1m1 0h2m1 0h1m14 0h3m11 0h1m1 0h3m7 0h2m45 0h1m-76 1h1m2 0h2m11 0h5m8 0h1m36 0h1m6 0h1m-101 1h1m4 0h1m4 0h2m8 0h1m6 0h2m1 0h2m1 0h1m4 0h1m6 0h4m8 0h1m1 0h1m16 0h1m2 0h1m5 0h1m-77 1h4m1 0h3m4 0h1m3 0h4m2 0h4m10 0h3m1 0h1m25 0h2m4 0h1m10 0h1m1 0h1m-99 1h1m10 0h2m1 0h4m1 0h8m2 0h3m1 0h1m1 0h4m4 0h1m5 0h1m29 0h1m3 0h2m12 0h1m-92 1h2m1 0h1m1 0h16m1 0h1m3 0h1m2 0h4m1 0h2m3 0h1m1 0h1m1 0h2m2 0h1m1 0h1m22 0h1m-73 1h1m4 0h14m1 0h3m1 0h1m1 0h1m3 0h1m1 0h3m3 0h1m1 0h1m1 0h1m1 0h6m31 0h1m-79 1h4m3 0h14m4 0h1m3 0h1m1 0h1m2 0h2m4 0h1m8 0h1m8 0h1m6 0h2m2 0h1m5 0h2m-81 1h1m1 0h1m1 0h7m1 0h1m1 0h11m1 0h1m4 0h2m1 0h1m38 0h1m-79 1h1m5 0h5m1 0h4m1 0h11m1 0h1m5 0h5m34 0h1m-68 1h2m2 0h13m5 0h1m3 0h2m1 0h6m-36 1h1m1 0h16m3 0h2m1 0h1m3 0h1m4 0h1m-29 1h1m1 0h13m9 0h1m-24 1h10m1 0h1m-13 1h3m1 0h7m2 0h1m-10 1h1m1 0h1m1 0h1"/>
</g>
<g transform="translate(1000.40 1169.80) scale(3.8000 4.3242)"><use href="#seam"/></g>
<text x="1395.8" y="1119.0" font-size="35" fill="#1a1a1a" text-anchor="middle" textLength="46.5" lengthAdjust="spacingAndGlyphs">ub</text>
<text x="110.3" y="362.5" font-size="35" fill="#4d4d4d" text-anchor="end" textLength="87.2" lengthAdjust="spacingAndGlyphs">22°S</text>
<text x="110.3" y="466.3" font-size="35" fill="#4d4d4d" text-anchor="end" textLength="87.2" lengthAdjust="spacingAndGlyphs">24°S</text>
<text x="110.3" y="570.1" font-size="35" fill="#4d4d4d" text-anchor="end" textLength="87.2" lengthAdjust="spacingAndGlyphs">26°S</text>
<text x="110.3" y="673.8" font-size="35" fill="#4d4d4d" text-anchor="end" textLength="87.2" lengthAdjust="spacingAndGlyphs">28°S</text>
<text x="110.3" y="777.6" font-size="35" fill="#4d4d4d" text-anchor="end" textLength="87.2" lengthAdjust="spacingAndGlyphs">30°S</text>
<text x="110.3" y="881.4" font-size="35" fill="#4d4d4d" text-anchor="end" textLength="87.2" lengthAdjust="spacingAndGlyphs">32°S</text>
<text x="110.3" y="985.2" font-size="35" fill="#4d4d4d" text-anchor="end" textLength="87.2" lengthAdjust="spacingAndGlyphs">34°S</text>
<text x="110.3" y="1182.5" font-size="35" fill="#4d4d4d" text-anchor="end" textLength="87.2" lengthAdjust="spacingAndGlyphs">22°S</text>
<text x="110.3" y="1286.3" font-size="35" fill="#4d4d4d" text-anchor="end" textLength="87.2" lengthAdjust="spacingAndGlyphs">24°S</text>
<text x="110.3" y="1390.1" font-size="35" fill="#4d4d4d" text-anchor="end" textLength="87.2" lengthAdjust="spacingAndGlyphs">26°S</text>
<text x="110.3" y="1493.8" font-size="35" fill="#4d4d4d" text-anchor="end" textLength="87.2" lengthAdjust="spacingAndGlyphs">28°S</text>
<text x="110.3" y="1597.6" font-size="35" fill="#4d4d4d" text-anchor="end" textLength="87.2" lengthAdjust="spacingAndGlyphs">30°S</text>
<text x="110.3" y="1701.4" font-size="35" fill="#4d4d4d" text-anchor="end" textLength="87.2" lengthAdjust="spacingAndGlyphs">32°S</text>
<text x="110.3" y="1805.2" font-size="35" fill="#4d4d4d" text-anchor="end" textLength="87.2" lengthAdjust="spacingAndGlyphs">34°S</text>
<text x="332.1" y="1914.9" font-size="35" fill="#4d4d4d" text-anchor="middle" textLength="88.1" lengthAdjust="spacingAndGlyphs">20°E</text>
<text x="560.1" y="1914.9" font-size="35" fill="#4d4d4d" text-anchor="middle" textLength="88.1" lengthAdjust="spacingAndGlyphs">25°E</text>
<text x="788.1" y="1914.9" font-size="35" fill="#4d4d4d" text-anchor="middle" textLength="88.1" lengthAdjust="spacingAndGlyphs">30°E</text>
<text x="1183.1" y="1914.9" font-size="35" fill="#4d4d4d" text-anchor="middle" textLength="88.1" lengthAdjust="spacingAndGlyphs">20°E</text>
<text x="1411.1" y="1914.9" font-size="35" fill="#4d4d4d" text-anchor="middle" textLength="88.1" lengthAdjust="spacingAndGlyphs">25°E</text>
<text x="1639.1" y="1914.9" font-size="35" fill="#4d4d4d" text-anchor="middle" textLength="88.1" lengthAdjust="spacingAndGlyphs">30°E</text>
<path d="M119.6 349.8h11.4M119.6 453.6h11.4M119.6 557.4h11.4M119.6 661.1h11.4M119.6 764.9h11.4M119.6 868.7h11.4M119.6 972.5h11.4M119.6 1169.8h11.4M119.6 1273.6h11.4M119.6 1377.4h11.4M119.6 1481.1h11.4M119.6 1584.9h11.4M119.6 1688.7h11.4M119.6 1792.5h11.4M331.8 1868.8v11.4M559.8 1868.8v11.4M787.8 1868.8v11.4M1182.8 1868.8v11.4M1410.8 1868.8v11.4M1638.8 1868.8v11.4" stroke="#333" stroke-width="4.45" fill="none"/>
<text x="130.5" y="218.1" font-size="55" fill="#000">African Grass-owl 2010</text>
<text x="1878" y="919.8" font-size="45.83" fill="#000">psi</text>
<defs><linearGradient id="vg" x1="0" y1="0" x2="0" y2="1"><stop offset="0.000" stop-color="#fde725"/><stop offset="0.050" stop-color="#dfe318"/><stop offset="0.100" stop-color="#bddf26"/><stop offset="0.150" stop-color="#9bd93c"/><stop offset="0.200" stop-color="#7ad151"/><stop offset="0.250" stop-color="#5ec962"/><stop offset="0.300" stop-color="#44bf70"/><stop offset="0.350" stop-color="#2fb47c"/><stop offset="0.400" stop-color="#22a884"/><stop offset="0.450" stop-color="#1e9c89"/><stop offset="0.500" stop-color="#21918c"/><stop offset="0.550" stop-color="#25848e"/><stop offset="0.600" stop-color="#2a788e"/><stop offset="0.650" stop-color="#2f6c8e"/><stop offset="0.700" stop-color="#355f8d"/><stop offset="0.750" stop-color="#3b528b"/><stop offset="0.800" stop-color="#414487"/><stop offset="0.850" stop-color="#463480"/><stop offset="0.900" stop-color="#482475"/><stop offset="0.950" stop-color="#471365"/><stop offset="1.000" stop-color="#440154"/></linearGradient></defs>
<rect x="1878.0" y="948.1" width="72.0" height="358.4" fill="url(#vg)"/>
<text x="1972.2" y="960.7" font-size="35" fill="#000" textLength="81.6" lengthAdjust="spacingAndGlyphs">1.00</text>
<text x="1972.2" y="1050.3" font-size="35" fill="#000" textLength="81.6" lengthAdjust="spacingAndGlyphs">0.75</text>
<text x="1972.2" y="1139.9" font-size="35" fill="#000" textLength="81.6" lengthAdjust="spacingAndGlyphs">0.50</text>
<text x="1972.2" y="1229.5" font-size="35" fill="#000" textLength="81.6" lengthAdjust="spacingAndGlyphs">0.25</text>
<text x="1972.2" y="1319.1" font-size="35" fill="#000" textLength="81.6" lengthAdjust="spacingAndGlyphs">0.00</text>
<path d="M1878.0 948.1h14.4M1935.6 948.1h14.4M1878.0 1037.7h14.4M1935.6 1037.7h14.4M1878.0 1127.3h14.4M1935.6 1127.3h14.4M1878.0 1216.9h14.4M1935.6 1216.9h14.4M1878.0 1306.5h14.4M1935.6 1306.5h14.4" stroke="#fff" stroke-width="1.6" fill="none"/>
</svg>
</body></html>
